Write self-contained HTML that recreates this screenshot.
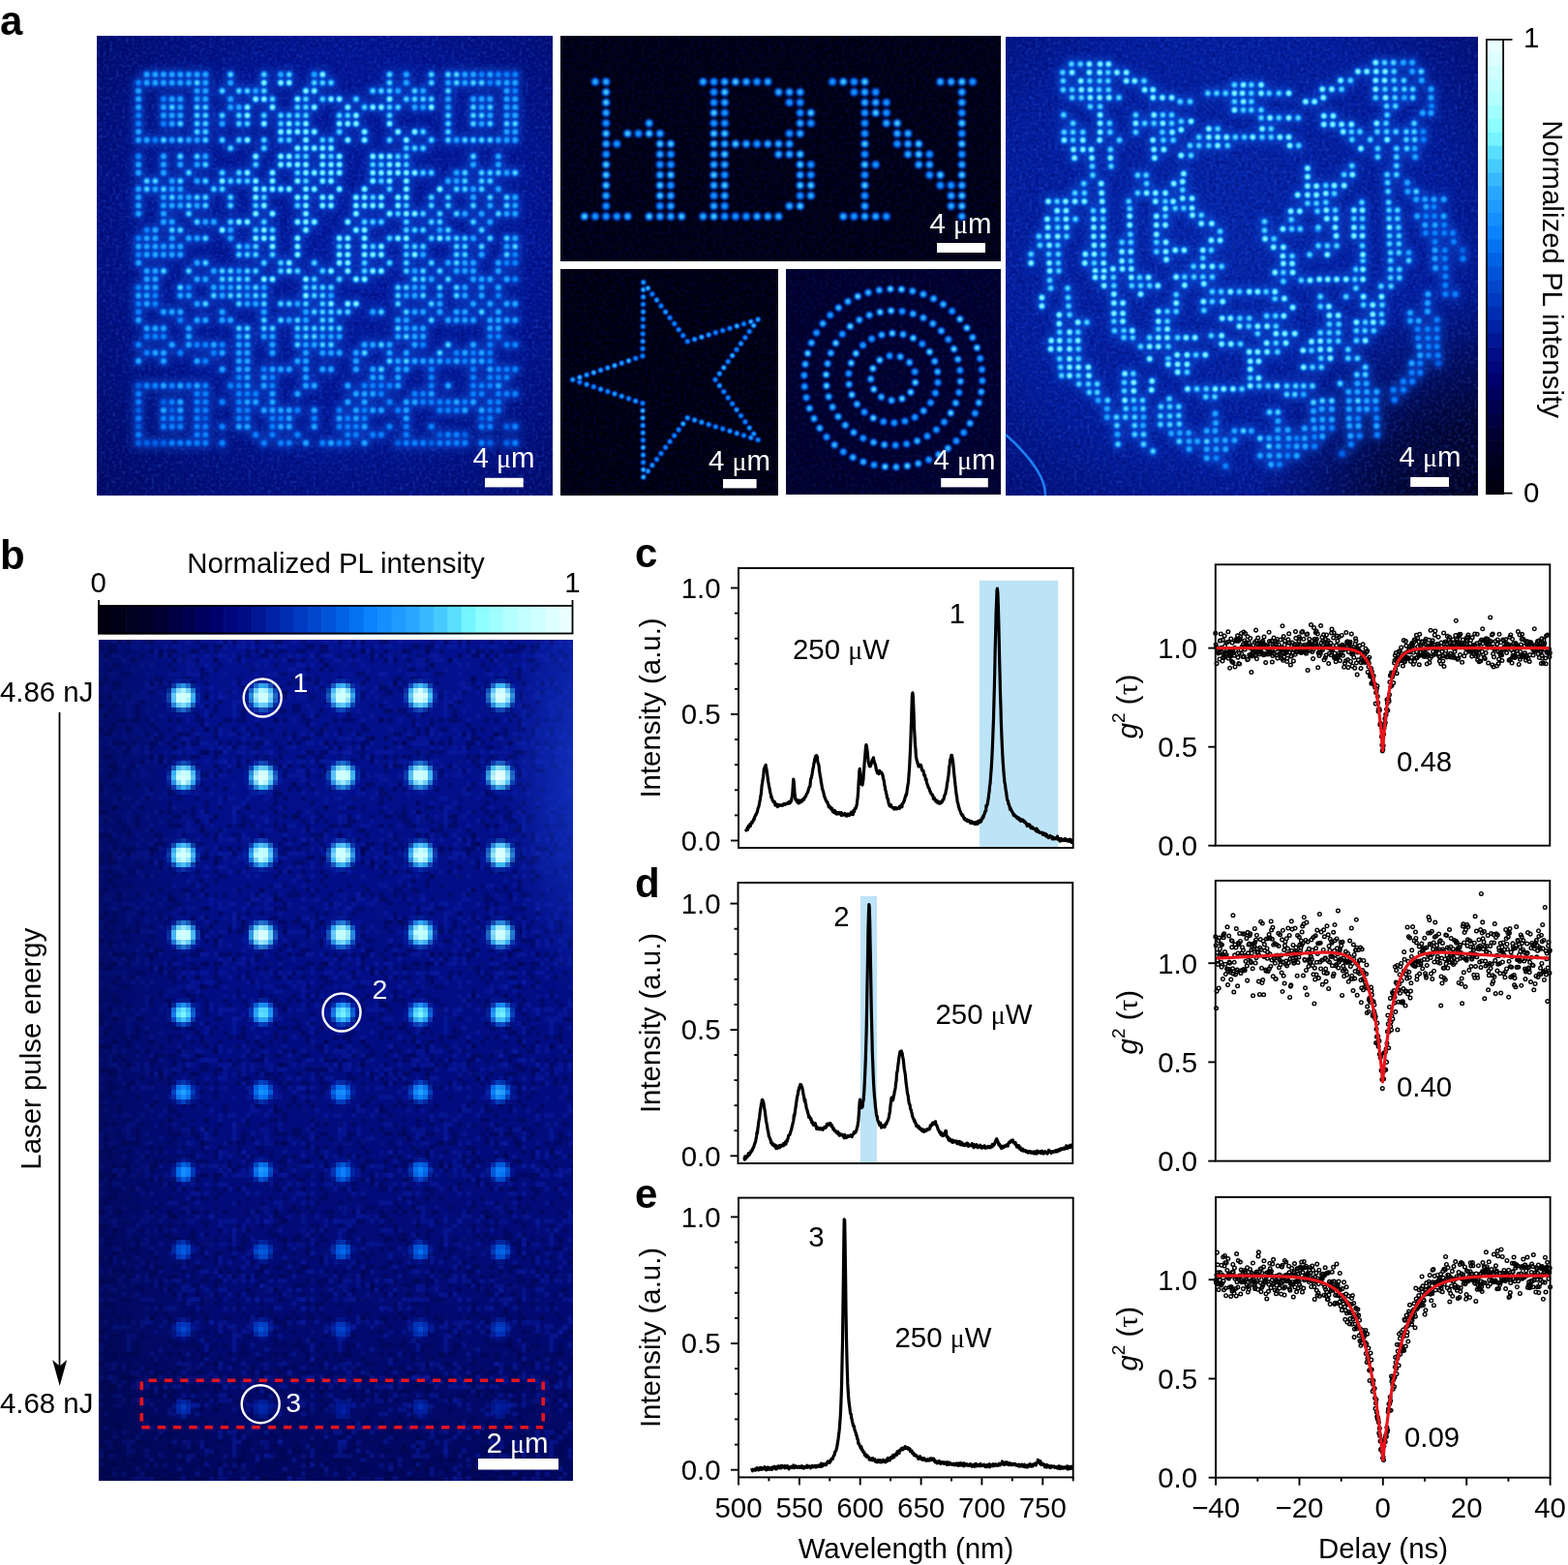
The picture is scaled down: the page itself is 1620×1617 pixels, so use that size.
<!DOCTYPE html>
<html><head><meta charset="utf-8"><title>Figure</title>
<style>
html,body{margin:0;padding:0;background:#fff;}
body{width:1620px;height:1617px;overflow:hidden;position:relative;}
svg{position:absolute;left:0;top:0;display:block;}
text{font-family:"Liberation Sans", Arial, Helvetica, sans-serif;}
</style></head><body>
<svg width="1620" height="1617" viewBox="0 0 1620 1617">
<text x="0" y="36" font-size="42" text-anchor="start" font-weight="bold" fill="#000" >a</text><text x="0" y="588" font-size="42" text-anchor="start" font-weight="bold" fill="#000" >b</text><text x="656" y="586" font-size="42" text-anchor="start" font-weight="bold" fill="#000" >c</text><text x="656" y="927" font-size="42" text-anchor="start" font-weight="bold" fill="#000" >d</text><text x="656" y="1248" font-size="42" text-anchor="start" font-weight="bold" fill="#000" >e</text><defs><radialGradient id="gqr" cx="0.55" cy="0.45" r="0.75"><stop offset="0" stop-color="#031ca4"/><stop offset="0.55" stop-color="#021696"/><stop offset="1" stop-color="#000a66"/></radialGradient><radialGradient id="gtg" cx="0.45" cy="0.45" r="0.8"><stop offset="0" stop-color="#0528ae"/><stop offset="0.6" stop-color="#031ea0"/><stop offset="1" stop-color="#000a66"/></radialGradient><radialGradient id="gdot" cx="0.5" cy="0.5" r="0.5"><stop offset="0" stop-color="#a8ffff"/><stop offset="0.3" stop-color="#30b0ff"/><stop offset="0.65" stop-color="#0060e0" stop-opacity="0.6"/><stop offset="1" stop-color="#0040d0" stop-opacity="0"/></radialGradient></defs><rect x="100" y="37" width="471" height="475" fill="url(#gqr)"/><rect x="579" y="37" width="455" height="233" fill="#00000f"/><rect x="579" y="278" width="225" height="234" fill="#00000c"/><rect x="812" y="278" width="222" height="233" fill="#000028"/><rect x="1039" y="38" width="488" height="474" fill="url(#gtg)"/><defs><radialGradient id="gtv"><stop offset="0" stop-color="#000010"/><stop offset="0.45" stop-color="#000428" stop-opacity="0.85"/><stop offset="1" stop-color="#000640" stop-opacity="0"/></radialGradient><clipPath id="cpt"><rect x="1039" y="38" width="488" height="474"/></clipPath></defs><ellipse cx="1545" cy="525" rx="250" ry="230" fill="url(#gtv)" clip-path="url(#cpt)"/><defs><filter id="nzl" x="0" y="0" width="100%" height="100%" filterUnits="objectBoundingBox"><feTurbulence type="fractalNoise" baseFrequency="0.3" numOctaves="1" seed="4"/><feColorMatrix type="matrix" values="0 0 0 0 0.03 0 0 0 0 0.12 0 0 0 0 0.75 0 0 0 1.1 -0.5"/></filter><filter id="nzd" x="0" y="0" width="100%" height="100%" filterUnits="objectBoundingBox"><feTurbulence type="fractalNoise" baseFrequency="0.3" numOctaves="1" seed="9"/><feColorMatrix type="matrix" values="0 0 0 0 0 0 0 0 0 0 0 0 0 0 0.1 0 0 0 1.1 -0.46"/></filter></defs><rect x="100" y="37" width="471" height="475" filter="url(#nzl)" opacity="0.8"/><rect x="100" y="37" width="471" height="475" filter="url(#nzd)"/><rect x="1039" y="38" width="488" height="474" filter="url(#nzl)" opacity="0.8"/><rect x="1039" y="38" width="488" height="474" filter="url(#nzd)"/><rect x="579" y="37" width="455" height="233" filter="url(#nzl)" opacity="0.22"/><rect x="579" y="37" width="455" height="233" filter="url(#nzd)"/><rect x="812" y="278" width="222" height="233" filter="url(#nzl)" opacity="0.35"/><rect x="812" y="278" width="222" height="233" filter="url(#nzd)"/><rect x="579" y="278" width="225" height="234" filter="url(#nzl)" opacity="0.2"/><rect x="579" y="278" width="225" height="234" filter="url(#nzd)"/><defs><filter id="hz4" x="-10%" y="-10%" width="120%" height="120%"><feGaussianBlur stdDeviation="4.5"/></filter></defs><defs><radialGradient id="gq1"><stop offset="0" stop-color="#036ded"/><stop offset="0.36" stop-color="#0059dc"/><stop offset="0.66" stop-color="#003ec4" stop-opacity="0.6"/><stop offset="1" stop-color="#001fa0" stop-opacity="0"/></radialGradient></defs><defs><g id="p1"><circle cx="143.1" cy="398.5" r="6.0"/><circle cx="169" cy="415.4" r="6.0"/><circle cx="143.1" cy="423.9" r="6.0"/><circle cx="177.7" cy="423.9" r="6.0"/><circle cx="212.3" cy="432.3" r="6.0"/><circle cx="497.6" cy="432.3" r="6.0"/><circle cx="143.1" cy="440.8" r="6.0"/><circle cx="523.6" cy="440.8" r="6.0"/><circle cx="454.4" cy="449.2" r="6.0"/><circle cx="480.3" cy="449.2" r="6.0"/><circle cx="143.1" cy="457.7" r="6.0"/><circle cx="151.7" cy="457.7" r="6.0"/><circle cx="160.4" cy="457.7" r="6.0"/><circle cx="169" cy="457.7" r="6.0"/><circle cx="411.2" cy="457.7" r="6.0"/><circle cx="445.7" cy="457.7" r="6.0"/><circle cx="506.3" cy="457.7" r="6.0"/><circle cx="523.6" cy="457.7" r="6.0"/></g></defs><defs><radialGradient id="gq2"><stop offset="0" stop-color="#158eff"/><stop offset="0.36" stop-color="#0572f2"/><stop offset="0.66" stop-color="#0048cd" stop-opacity="0.6"/><stop offset="1" stop-color="#001fa0" stop-opacity="0"/></radialGradient></defs><defs><g id="p2"><circle cx="497.6" cy="77" r="6.0"/><circle cx="514.9" cy="77" r="6.0"/><circle cx="523.6" cy="77" r="6.0"/><circle cx="532.2" cy="77" r="6.0"/><circle cx="143.1" cy="85.5" r="6.0"/><circle cx="506.3" cy="85.5" r="6.0"/><circle cx="532.2" cy="93.9" r="6.0"/><circle cx="169" cy="102.4" r="6.0"/><circle cx="143.1" cy="119.3" r="6.0"/><circle cx="143.1" cy="127.8" r="6.0"/><circle cx="169" cy="127.8" r="6.0"/><circle cx="160.4" cy="144.7" r="6.0"/><circle cx="143.1" cy="161.6" r="6.0"/><circle cx="151.7" cy="237.7" r="6.0"/><circle cx="143.1" cy="246.2" r="6.0"/><circle cx="143.1" cy="263.1" r="6.0"/><circle cx="532.2" cy="263.1" r="6.0"/><circle cx="523.6" cy="271.6" r="6.0"/><circle cx="532.2" cy="271.6" r="6.0"/><circle cx="532.2" cy="288.5" r="6.0"/><circle cx="143.1" cy="297" r="6.0"/><circle cx="195" cy="297" r="6.0"/><circle cx="160.4" cy="305.4" r="6.0"/><circle cx="514.9" cy="305.4" r="6.0"/><circle cx="143.1" cy="313.9" r="6.0"/><circle cx="160.4" cy="313.9" r="6.0"/><circle cx="143.1" cy="322.3" r="6.0"/><circle cx="186.3" cy="330.8" r="6.0"/><circle cx="151.7" cy="347.7" r="6.0"/><circle cx="160.4" cy="347.7" r="6.0"/><circle cx="169" cy="347.7" r="6.0"/><circle cx="506.3" cy="347.7" r="6.0"/><circle cx="514.9" cy="347.7" r="6.0"/><circle cx="143.1" cy="356.2" r="6.0"/><circle cx="203.6" cy="356.2" r="6.0"/><circle cx="212.3" cy="356.2" r="6.0"/><circle cx="229.6" cy="356.2" r="6.0"/><circle cx="437.1" cy="356.2" r="6.0"/><circle cx="506.3" cy="356.2" r="6.0"/><circle cx="523.6" cy="356.2" r="6.0"/><circle cx="532.2" cy="356.2" r="6.0"/><circle cx="151.7" cy="364.6" r="6.0"/><circle cx="186.3" cy="364.6" r="6.0"/><circle cx="220.9" cy="364.6" r="6.0"/><circle cx="471.7" cy="364.6" r="6.0"/><circle cx="489" cy="364.6" r="6.0"/><circle cx="506.3" cy="364.6" r="6.0"/><circle cx="212.3" cy="373.1" r="6.0"/><circle cx="463" cy="373.1" r="6.0"/><circle cx="480.3" cy="373.1" r="6.0"/><circle cx="506.3" cy="373.1" r="6.0"/><circle cx="272.8" cy="381.6" r="6.0"/><circle cx="445.7" cy="381.6" r="6.0"/><circle cx="489" cy="381.6" r="6.0"/><circle cx="514.9" cy="381.6" r="6.0"/><circle cx="523.6" cy="381.6" r="6.0"/><circle cx="532.2" cy="381.6" r="6.0"/><circle cx="246.9" cy="390" r="6.0"/><circle cx="281.5" cy="390" r="6.0"/><circle cx="445.7" cy="390" r="6.0"/><circle cx="489" cy="390" r="6.0"/><circle cx="506.3" cy="390" r="6.0"/><circle cx="514.9" cy="390" r="6.0"/><circle cx="523.6" cy="390" r="6.0"/><circle cx="151.7" cy="398.5" r="6.0"/><circle cx="160.4" cy="398.5" r="6.0"/><circle cx="177.7" cy="398.5" r="6.0"/><circle cx="195" cy="398.5" r="6.0"/><circle cx="212.3" cy="398.5" r="6.0"/><circle cx="238.2" cy="398.5" r="6.0"/><circle cx="246.9" cy="398.5" r="6.0"/><circle cx="281.5" cy="398.5" r="6.0"/><circle cx="376.6" cy="398.5" r="6.0"/><circle cx="385.2" cy="398.5" r="6.0"/><circle cx="393.9" cy="398.5" r="6.0"/><circle cx="402.5" cy="398.5" r="6.0"/><circle cx="445.7" cy="398.5" r="6.0"/><circle cx="489" cy="398.5" r="6.0"/><circle cx="497.6" cy="398.5" r="6.0"/><circle cx="506.3" cy="398.5" r="6.0"/><circle cx="143.1" cy="406.9" r="6.0"/><circle cx="203.6" cy="406.9" r="6.0"/><circle cx="212.3" cy="406.9" r="6.0"/><circle cx="246.9" cy="406.9" r="6.0"/><circle cx="255.5" cy="406.9" r="6.0"/><circle cx="264.2" cy="406.9" r="6.0"/><circle cx="393.9" cy="406.9" r="6.0"/><circle cx="428.5" cy="406.9" r="6.0"/><circle cx="437.1" cy="406.9" r="6.0"/><circle cx="489" cy="406.9" r="6.0"/><circle cx="497.6" cy="406.9" r="6.0"/><circle cx="514.9" cy="406.9" r="6.0"/><circle cx="523.6" cy="406.9" r="6.0"/><circle cx="532.2" cy="406.9" r="6.0"/><circle cx="143.1" cy="415.4" r="6.0"/><circle cx="177.7" cy="415.4" r="6.0"/><circle cx="203.6" cy="415.4" r="6.0"/><circle cx="212.3" cy="415.4" r="6.0"/><circle cx="229.6" cy="415.4" r="6.0"/><circle cx="246.9" cy="415.4" r="6.0"/><circle cx="402.5" cy="415.4" r="6.0"/><circle cx="437.1" cy="415.4" r="6.0"/><circle cx="445.7" cy="415.4" r="6.0"/><circle cx="454.4" cy="415.4" r="6.0"/><circle cx="463" cy="415.4" r="6.0"/><circle cx="480.3" cy="415.4" r="6.0"/><circle cx="506.3" cy="415.4" r="6.0"/><circle cx="514.9" cy="415.4" r="6.0"/><circle cx="203.6" cy="423.9" r="6.0"/><circle cx="212.3" cy="423.9" r="6.0"/><circle cx="246.9" cy="423.9" r="6.0"/><circle cx="255.5" cy="423.9" r="6.0"/><circle cx="307.4" cy="423.9" r="6.0"/><circle cx="350.6" cy="423.9" r="6.0"/><circle cx="376.6" cy="423.9" r="6.0"/><circle cx="411.2" cy="423.9" r="6.0"/><circle cx="454.4" cy="423.9" r="6.0"/><circle cx="463" cy="423.9" r="6.0"/><circle cx="471.7" cy="423.9" r="6.0"/><circle cx="506.3" cy="423.9" r="6.0"/><circle cx="514.9" cy="423.9" r="6.0"/><circle cx="143.1" cy="432.3" r="6.0"/><circle cx="169" cy="432.3" r="6.0"/><circle cx="177.7" cy="432.3" r="6.0"/><circle cx="186.3" cy="432.3" r="6.0"/><circle cx="203.6" cy="432.3" r="6.0"/><circle cx="246.9" cy="432.3" r="6.0"/><circle cx="255.5" cy="432.3" r="6.0"/><circle cx="281.5" cy="432.3" r="6.0"/><circle cx="290.1" cy="432.3" r="6.0"/><circle cx="324.7" cy="432.3" r="6.0"/><circle cx="359.3" cy="432.3" r="6.0"/><circle cx="376.6" cy="432.3" r="6.0"/><circle cx="506.3" cy="432.3" r="6.0"/><circle cx="169" cy="440.8" r="6.0"/><circle cx="177.7" cy="440.8" r="6.0"/><circle cx="186.3" cy="440.8" r="6.0"/><circle cx="203.6" cy="440.8" r="6.0"/><circle cx="212.3" cy="440.8" r="6.0"/><circle cx="229.6" cy="440.8" r="6.0"/><circle cx="281.5" cy="440.8" r="6.0"/><circle cx="350.6" cy="440.8" r="6.0"/><circle cx="359.3" cy="440.8" r="6.0"/><circle cx="367.9" cy="440.8" r="6.0"/><circle cx="402.5" cy="440.8" r="6.0"/><circle cx="419.8" cy="440.8" r="6.0"/><circle cx="445.7" cy="440.8" r="6.0"/><circle cx="497.6" cy="440.8" r="6.0"/><circle cx="506.3" cy="440.8" r="6.0"/><circle cx="532.2" cy="440.8" r="6.0"/><circle cx="143.1" cy="449.2" r="6.0"/><circle cx="203.6" cy="449.2" r="6.0"/><circle cx="212.3" cy="449.2" r="6.0"/><circle cx="264.2" cy="449.2" r="6.0"/><circle cx="281.5" cy="449.2" r="6.0"/><circle cx="307.4" cy="449.2" r="6.0"/><circle cx="359.3" cy="449.2" r="6.0"/><circle cx="367.9" cy="449.2" r="6.0"/><circle cx="385.2" cy="449.2" r="6.0"/><circle cx="393.9" cy="449.2" r="6.0"/><circle cx="419.8" cy="449.2" r="6.0"/><circle cx="463" cy="449.2" r="6.0"/><circle cx="471.7" cy="449.2" r="6.0"/><circle cx="177.7" cy="457.7" r="6.0"/><circle cx="186.3" cy="457.7" r="6.0"/><circle cx="195" cy="457.7" r="6.0"/><circle cx="203.6" cy="457.7" r="6.0"/><circle cx="212.3" cy="457.7" r="6.0"/><circle cx="229.6" cy="457.7" r="6.0"/><circle cx="272.8" cy="457.7" r="6.0"/><circle cx="290.1" cy="457.7" r="6.0"/><circle cx="298.7" cy="457.7" r="6.0"/><circle cx="333.3" cy="457.7" r="6.0"/><circle cx="350.6" cy="457.7" r="6.0"/><circle cx="359.3" cy="457.7" r="6.0"/><circle cx="419.8" cy="457.7" r="6.0"/><circle cx="428.5" cy="457.7" r="6.0"/><circle cx="437.1" cy="457.7" r="6.0"/><circle cx="454.4" cy="457.7" r="6.0"/><circle cx="463" cy="457.7" r="6.0"/><circle cx="471.7" cy="457.7" r="6.0"/><circle cx="480.3" cy="457.7" r="6.0"/><circle cx="497.6" cy="457.7" r="6.0"/><circle cx="532.2" cy="457.7" r="6.0"/></g></defs><defs><radialGradient id="gq3"><stop offset="0" stop-color="#33b2ff"/><stop offset="0.36" stop-color="#148eff"/><stop offset="0.66" stop-color="#0053d7" stop-opacity="0.6"/><stop offset="1" stop-color="#001fa0" stop-opacity="0"/></radialGradient></defs><defs><g id="p3"><circle cx="151.7" cy="77" r="6.0"/><circle cx="160.4" cy="77" r="6.0"/><circle cx="169" cy="77" r="6.0"/><circle cx="177.7" cy="77" r="6.0"/><circle cx="186.3" cy="77" r="6.0"/><circle cx="195" cy="77" r="6.0"/><circle cx="203.6" cy="77" r="6.0"/><circle cx="212.3" cy="77" r="6.0"/><circle cx="290.1" cy="77" r="6.0"/><circle cx="324.7" cy="77" r="6.0"/><circle cx="419.8" cy="77" r="6.0"/><circle cx="480.3" cy="77" r="6.0"/><circle cx="489" cy="77" r="6.0"/><circle cx="506.3" cy="77" r="6.0"/><circle cx="151.7" cy="85.5" r="6.0"/><circle cx="160.4" cy="85.5" r="6.0"/><circle cx="169" cy="85.5" r="6.0"/><circle cx="177.7" cy="85.5" r="6.0"/><circle cx="186.3" cy="85.5" r="6.0"/><circle cx="195" cy="85.5" r="6.0"/><circle cx="212.3" cy="85.5" r="6.0"/><circle cx="238.2" cy="85.5" r="6.0"/><circle cx="419.8" cy="85.5" r="6.0"/><circle cx="463" cy="85.5" r="6.0"/><circle cx="480.3" cy="85.5" r="6.0"/><circle cx="514.9" cy="85.5" r="6.0"/><circle cx="523.6" cy="85.5" r="6.0"/><circle cx="532.2" cy="85.5" r="6.0"/><circle cx="143.1" cy="93.9" r="6.0"/><circle cx="203.6" cy="93.9" r="6.0"/><circle cx="212.3" cy="93.9" r="6.0"/><circle cx="264.2" cy="93.9" r="6.0"/><circle cx="411.2" cy="93.9" r="6.0"/><circle cx="437.1" cy="93.9" r="6.0"/><circle cx="523.6" cy="93.9" r="6.0"/><circle cx="143.1" cy="102.4" r="6.0"/><circle cx="177.7" cy="102.4" r="6.0"/><circle cx="186.3" cy="102.4" r="6.0"/><circle cx="203.6" cy="102.4" r="6.0"/><circle cx="212.3" cy="102.4" r="6.0"/><circle cx="238.2" cy="102.4" r="6.0"/><circle cx="463" cy="102.4" r="6.0"/><circle cx="489" cy="102.4" r="6.0"/><circle cx="497.6" cy="102.4" r="6.0"/><circle cx="506.3" cy="102.4" r="6.0"/><circle cx="523.6" cy="102.4" r="6.0"/><circle cx="532.2" cy="102.4" r="6.0"/><circle cx="143.1" cy="110.8" r="6.0"/><circle cx="169" cy="110.8" r="6.0"/><circle cx="186.3" cy="110.8" r="6.0"/><circle cx="238.2" cy="110.8" r="6.0"/><circle cx="246.9" cy="110.8" r="6.0"/><circle cx="428.5" cy="110.8" r="6.0"/><circle cx="437.1" cy="110.8" r="6.0"/><circle cx="463" cy="110.8" r="6.0"/><circle cx="497.6" cy="110.8" r="6.0"/><circle cx="523.6" cy="110.8" r="6.0"/><circle cx="532.2" cy="110.8" r="6.0"/><circle cx="169" cy="119.3" r="6.0"/><circle cx="177.7" cy="119.3" r="6.0"/><circle cx="186.3" cy="119.3" r="6.0"/><circle cx="506.3" cy="119.3" r="6.0"/><circle cx="523.6" cy="119.3" r="6.0"/><circle cx="532.2" cy="119.3" r="6.0"/><circle cx="177.7" cy="127.8" r="6.0"/><circle cx="229.6" cy="127.8" r="6.0"/><circle cx="497.6" cy="127.8" r="6.0"/><circle cx="143.1" cy="136.2" r="6.0"/><circle cx="523.6" cy="136.2" r="6.0"/><circle cx="532.2" cy="136.2" r="6.0"/><circle cx="143.1" cy="144.7" r="6.0"/><circle cx="151.7" cy="144.7" r="6.0"/><circle cx="177.7" cy="144.7" r="6.0"/><circle cx="195" cy="144.7" r="6.0"/><circle cx="203.6" cy="144.7" r="6.0"/><circle cx="471.7" cy="144.7" r="6.0"/><circle cx="514.9" cy="144.7" r="6.0"/><circle cx="523.6" cy="144.7" r="6.0"/><circle cx="532.2" cy="144.7" r="6.0"/><circle cx="169" cy="161.6" r="6.0"/><circle cx="212.3" cy="161.6" r="6.0"/><circle cx="514.9" cy="161.6" r="6.0"/><circle cx="143.1" cy="170.1" r="6.0"/><circle cx="169" cy="170.1" r="6.0"/><circle cx="186.3" cy="170.1" r="6.0"/><circle cx="203.6" cy="170.1" r="6.0"/><circle cx="489" cy="170.1" r="6.0"/><circle cx="514.9" cy="170.1" r="6.0"/><circle cx="143.1" cy="178.5" r="6.0"/><circle cx="169" cy="178.5" r="6.0"/><circle cx="471.7" cy="178.5" r="6.0"/><circle cx="523.6" cy="178.5" r="6.0"/><circle cx="177.7" cy="187" r="6.0"/><circle cx="203.6" cy="187" r="6.0"/><circle cx="463" cy="187" r="6.0"/><circle cx="471.7" cy="187" r="6.0"/><circle cx="143.1" cy="195.4" r="6.0"/><circle cx="160.4" cy="195.4" r="6.0"/><circle cx="177.7" cy="195.4" r="6.0"/><circle cx="186.3" cy="195.4" r="6.0"/><circle cx="489" cy="195.4" r="6.0"/><circle cx="514.9" cy="195.4" r="6.0"/><circle cx="143.1" cy="203.9" r="6.0"/><circle cx="169" cy="203.9" r="6.0"/><circle cx="186.3" cy="203.9" r="6.0"/><circle cx="195" cy="203.9" r="6.0"/><circle cx="489" cy="203.9" r="6.0"/><circle cx="532.2" cy="203.9" r="6.0"/><circle cx="143.1" cy="212.4" r="6.0"/><circle cx="169" cy="212.4" r="6.0"/><circle cx="177.7" cy="212.4" r="6.0"/><circle cx="186.3" cy="212.4" r="6.0"/><circle cx="203.6" cy="212.4" r="6.0"/><circle cx="506.3" cy="212.4" r="6.0"/><circle cx="532.2" cy="212.4" r="6.0"/><circle cx="143.1" cy="220.8" r="6.0"/><circle cx="169" cy="220.8" r="6.0"/><circle cx="480.3" cy="220.8" r="6.0"/><circle cx="497.6" cy="220.8" r="6.0"/><circle cx="523.6" cy="220.8" r="6.0"/><circle cx="532.2" cy="220.8" r="6.0"/><circle cx="169" cy="229.3" r="6.0"/><circle cx="177.7" cy="229.3" r="6.0"/><circle cx="212.3" cy="229.3" r="6.0"/><circle cx="220.9" cy="229.3" r="6.0"/><circle cx="506.3" cy="229.3" r="6.0"/><circle cx="160.4" cy="237.7" r="6.0"/><circle cx="238.2" cy="237.7" r="6.0"/><circle cx="454.4" cy="237.7" r="6.0"/><circle cx="151.7" cy="246.2" r="6.0"/><circle cx="160.4" cy="246.2" r="6.0"/><circle cx="177.7" cy="246.2" r="6.0"/><circle cx="195" cy="246.2" r="6.0"/><circle cx="203.6" cy="246.2" r="6.0"/><circle cx="238.2" cy="246.2" r="6.0"/><circle cx="489" cy="246.2" r="6.0"/><circle cx="532.2" cy="246.2" r="6.0"/><circle cx="143.1" cy="254.7" r="6.0"/><circle cx="151.7" cy="254.7" r="6.0"/><circle cx="160.4" cy="254.7" r="6.0"/><circle cx="169" cy="254.7" r="6.0"/><circle cx="177.7" cy="254.7" r="6.0"/><circle cx="186.3" cy="254.7" r="6.0"/><circle cx="255.5" cy="254.7" r="6.0"/><circle cx="523.6" cy="254.7" r="6.0"/><circle cx="151.7" cy="263.1" r="6.0"/><circle cx="160.4" cy="263.1" r="6.0"/><circle cx="169" cy="263.1" r="6.0"/><circle cx="177.7" cy="263.1" r="6.0"/><circle cx="186.3" cy="263.1" r="6.0"/><circle cx="437.1" cy="263.1" r="6.0"/><circle cx="497.6" cy="263.1" r="6.0"/><circle cx="143.1" cy="271.6" r="6.0"/><circle cx="203.6" cy="271.6" r="6.0"/><circle cx="463" cy="271.6" r="6.0"/><circle cx="480.3" cy="271.6" r="6.0"/><circle cx="489" cy="271.6" r="6.0"/><circle cx="514.9" cy="271.6" r="6.0"/><circle cx="151.7" cy="280" r="6.0"/><circle cx="160.4" cy="280" r="6.0"/><circle cx="220.9" cy="280" r="6.0"/><circle cx="246.9" cy="280" r="6.0"/><circle cx="428.5" cy="280" r="6.0"/><circle cx="471.7" cy="280" r="6.0"/><circle cx="480.3" cy="280" r="6.0"/><circle cx="489" cy="280" r="6.0"/><circle cx="514.9" cy="280" r="6.0"/><circle cx="151.7" cy="288.5" r="6.0"/><circle cx="160.4" cy="288.5" r="6.0"/><circle cx="203.6" cy="288.5" r="6.0"/><circle cx="212.3" cy="288.5" r="6.0"/><circle cx="445.7" cy="288.5" r="6.0"/><circle cx="489" cy="288.5" r="6.0"/><circle cx="497.6" cy="288.5" r="6.0"/><circle cx="506.3" cy="288.5" r="6.0"/><circle cx="523.6" cy="288.5" r="6.0"/><circle cx="151.7" cy="297" r="6.0"/><circle cx="160.4" cy="297" r="6.0"/><circle cx="220.9" cy="297" r="6.0"/><circle cx="229.6" cy="297" r="6.0"/><circle cx="238.2" cy="297" r="6.0"/><circle cx="255.5" cy="297" r="6.0"/><circle cx="272.8" cy="297" r="6.0"/><circle cx="428.5" cy="297" r="6.0"/><circle cx="437.1" cy="297" r="6.0"/><circle cx="480.3" cy="297" r="6.0"/><circle cx="497.6" cy="297" r="6.0"/><circle cx="514.9" cy="297" r="6.0"/><circle cx="143.1" cy="305.4" r="6.0"/><circle cx="151.7" cy="305.4" r="6.0"/><circle cx="186.3" cy="305.4" r="6.0"/><circle cx="195" cy="305.4" r="6.0"/><circle cx="229.6" cy="305.4" r="6.0"/><circle cx="255.5" cy="305.4" r="6.0"/><circle cx="342" cy="305.4" r="6.0"/><circle cx="419.8" cy="305.4" r="6.0"/><circle cx="428.5" cy="305.4" r="6.0"/><circle cx="454.4" cy="305.4" r="6.0"/><circle cx="480.3" cy="305.4" r="6.0"/><circle cx="497.6" cy="305.4" r="6.0"/><circle cx="151.7" cy="313.9" r="6.0"/><circle cx="203.6" cy="313.9" r="6.0"/><circle cx="255.5" cy="313.9" r="6.0"/><circle cx="264.2" cy="313.9" r="6.0"/><circle cx="307.4" cy="313.9" r="6.0"/><circle cx="454.4" cy="313.9" r="6.0"/><circle cx="489" cy="313.9" r="6.0"/><circle cx="506.3" cy="313.9" r="6.0"/><circle cx="523.6" cy="313.9" r="6.0"/><circle cx="532.2" cy="313.9" r="6.0"/><circle cx="169" cy="322.3" r="6.0"/><circle cx="177.7" cy="322.3" r="6.0"/><circle cx="186.3" cy="322.3" r="6.0"/><circle cx="229.6" cy="322.3" r="6.0"/><circle cx="272.8" cy="322.3" r="6.0"/><circle cx="316" cy="322.3" r="6.0"/><circle cx="385.2" cy="322.3" r="6.0"/><circle cx="428.5" cy="322.3" r="6.0"/><circle cx="437.1" cy="322.3" r="6.0"/><circle cx="454.4" cy="322.3" r="6.0"/><circle cx="471.7" cy="322.3" r="6.0"/><circle cx="480.3" cy="322.3" r="6.0"/><circle cx="514.9" cy="322.3" r="6.0"/><circle cx="143.1" cy="330.8" r="6.0"/><circle cx="203.6" cy="330.8" r="6.0"/><circle cx="212.3" cy="330.8" r="6.0"/><circle cx="229.6" cy="330.8" r="6.0"/><circle cx="238.2" cy="330.8" r="6.0"/><circle cx="298.7" cy="330.8" r="6.0"/><circle cx="316" cy="330.8" r="6.0"/><circle cx="411.2" cy="330.8" r="6.0"/><circle cx="419.8" cy="330.8" r="6.0"/><circle cx="463" cy="330.8" r="6.0"/><circle cx="471.7" cy="330.8" r="6.0"/><circle cx="480.3" cy="330.8" r="6.0"/><circle cx="489" cy="330.8" r="6.0"/><circle cx="506.3" cy="330.8" r="6.0"/><circle cx="514.9" cy="330.8" r="6.0"/><circle cx="523.6" cy="330.8" r="6.0"/><circle cx="532.2" cy="330.8" r="6.0"/><circle cx="151.7" cy="339.3" r="6.0"/><circle cx="160.4" cy="339.3" r="6.0"/><circle cx="169" cy="339.3" r="6.0"/><circle cx="195" cy="339.3" r="6.0"/><circle cx="419.8" cy="339.3" r="6.0"/><circle cx="428.5" cy="339.3" r="6.0"/><circle cx="437.1" cy="339.3" r="6.0"/><circle cx="506.3" cy="339.3" r="6.0"/><circle cx="514.9" cy="339.3" r="6.0"/><circle cx="195" cy="347.7" r="6.0"/><circle cx="246.9" cy="347.7" r="6.0"/><circle cx="272.8" cy="347.7" r="6.0"/><circle cx="281.5" cy="347.7" r="6.0"/><circle cx="307.4" cy="347.7" r="6.0"/><circle cx="333.3" cy="347.7" r="6.0"/><circle cx="342" cy="347.7" r="6.0"/><circle cx="350.6" cy="347.7" r="6.0"/><circle cx="411.2" cy="347.7" r="6.0"/><circle cx="428.5" cy="347.7" r="6.0"/><circle cx="437.1" cy="347.7" r="6.0"/><circle cx="177.7" cy="356.2" r="6.0"/><circle cx="195" cy="356.2" r="6.0"/><circle cx="220.9" cy="356.2" r="6.0"/><circle cx="246.9" cy="356.2" r="6.0"/><circle cx="255.5" cy="356.2" r="6.0"/><circle cx="281.5" cy="356.2" r="6.0"/><circle cx="316" cy="356.2" r="6.0"/><circle cx="324.7" cy="356.2" r="6.0"/><circle cx="376.6" cy="356.2" r="6.0"/><circle cx="385.2" cy="356.2" r="6.0"/><circle cx="402.5" cy="356.2" r="6.0"/><circle cx="428.5" cy="356.2" r="6.0"/><circle cx="489" cy="356.2" r="6.0"/><circle cx="160.4" cy="364.6" r="6.0"/><circle cx="169" cy="364.6" r="6.0"/><circle cx="229.6" cy="364.6" r="6.0"/><circle cx="246.9" cy="364.6" r="6.0"/><circle cx="255.5" cy="364.6" r="6.0"/><circle cx="281.5" cy="364.6" r="6.0"/><circle cx="316" cy="364.6" r="6.0"/><circle cx="333.3" cy="364.6" r="6.0"/><circle cx="342" cy="364.6" r="6.0"/><circle cx="350.6" cy="364.6" r="6.0"/><circle cx="367.9" cy="364.6" r="6.0"/><circle cx="402.5" cy="364.6" r="6.0"/><circle cx="419.8" cy="364.6" r="6.0"/><circle cx="480.3" cy="364.6" r="6.0"/><circle cx="497.6" cy="364.6" r="6.0"/><circle cx="143.1" cy="373.1" r="6.0"/><circle cx="169" cy="373.1" r="6.0"/><circle cx="203.6" cy="373.1" r="6.0"/><circle cx="246.9" cy="373.1" r="6.0"/><circle cx="255.5" cy="373.1" r="6.0"/><circle cx="307.4" cy="373.1" r="6.0"/><circle cx="316" cy="373.1" r="6.0"/><circle cx="367.9" cy="373.1" r="6.0"/><circle cx="411.2" cy="373.1" r="6.0"/><circle cx="428.5" cy="373.1" r="6.0"/><circle cx="437.1" cy="373.1" r="6.0"/><circle cx="445.7" cy="373.1" r="6.0"/><circle cx="454.4" cy="373.1" r="6.0"/><circle cx="471.7" cy="373.1" r="6.0"/><circle cx="489" cy="373.1" r="6.0"/><circle cx="497.6" cy="373.1" r="6.0"/><circle cx="229.6" cy="381.6" r="6.0"/><circle cx="246.9" cy="381.6" r="6.0"/><circle cx="255.5" cy="381.6" r="6.0"/><circle cx="281.5" cy="381.6" r="6.0"/><circle cx="290.1" cy="381.6" r="6.0"/><circle cx="298.7" cy="381.6" r="6.0"/><circle cx="316" cy="381.6" r="6.0"/><circle cx="333.3" cy="381.6" r="6.0"/><circle cx="342" cy="381.6" r="6.0"/><circle cx="367.9" cy="381.6" r="6.0"/><circle cx="385.2" cy="381.6" r="6.0"/><circle cx="411.2" cy="381.6" r="6.0"/><circle cx="419.8" cy="381.6" r="6.0"/><circle cx="506.3" cy="381.6" r="6.0"/><circle cx="255.5" cy="390" r="6.0"/><circle cx="272.8" cy="390" r="6.0"/><circle cx="316" cy="390" r="6.0"/><circle cx="385.2" cy="390" r="6.0"/><circle cx="393.9" cy="390" r="6.0"/><circle cx="411.2" cy="390" r="6.0"/><circle cx="169" cy="398.5" r="6.0"/><circle cx="186.3" cy="398.5" r="6.0"/><circle cx="203.6" cy="398.5" r="6.0"/><circle cx="255.5" cy="398.5" r="6.0"/><circle cx="272.8" cy="398.5" r="6.0"/><circle cx="316" cy="398.5" r="6.0"/><circle cx="324.7" cy="398.5" r="6.0"/><circle cx="359.3" cy="398.5" r="6.0"/><circle cx="411.2" cy="398.5" r="6.0"/><circle cx="463" cy="398.5" r="6.0"/><circle cx="514.9" cy="398.5" r="6.0"/><circle cx="281.5" cy="406.9" r="6.0"/><circle cx="307.4" cy="406.9" r="6.0"/><circle cx="367.9" cy="406.9" r="6.0"/><circle cx="376.6" cy="406.9" r="6.0"/><circle cx="385.2" cy="406.9" r="6.0"/><circle cx="445.7" cy="406.9" r="6.0"/><circle cx="186.3" cy="415.4" r="6.0"/><circle cx="255.5" cy="415.4" r="6.0"/><circle cx="264.2" cy="415.4" r="6.0"/><circle cx="281.5" cy="415.4" r="6.0"/><circle cx="359.3" cy="415.4" r="6.0"/><circle cx="376.6" cy="415.4" r="6.0"/><circle cx="419.8" cy="415.4" r="6.0"/><circle cx="428.5" cy="415.4" r="6.0"/><circle cx="471.7" cy="415.4" r="6.0"/><circle cx="489" cy="415.4" r="6.0"/><circle cx="169" cy="423.9" r="6.0"/><circle cx="186.3" cy="423.9" r="6.0"/><circle cx="272.8" cy="423.9" r="6.0"/><circle cx="281.5" cy="423.9" r="6.0"/><circle cx="290.1" cy="423.9" r="6.0"/><circle cx="298.7" cy="423.9" r="6.0"/><circle cx="324.7" cy="423.9" r="6.0"/><circle cx="367.9" cy="423.9" r="6.0"/><circle cx="385.2" cy="423.9" r="6.0"/><circle cx="393.9" cy="423.9" r="6.0"/><circle cx="419.8" cy="423.9" r="6.0"/><circle cx="480.3" cy="423.9" r="6.0"/><circle cx="497.6" cy="423.9" r="6.0"/><circle cx="298.7" cy="432.3" r="6.0"/><circle cx="350.6" cy="432.3" r="6.0"/><circle cx="367.9" cy="432.3" r="6.0"/><circle cx="419.8" cy="432.3" r="6.0"/><circle cx="246.9" cy="440.8" r="6.0"/><circle cx="255.5" cy="440.8" r="6.0"/><circle cx="290.1" cy="440.8" r="6.0"/><circle cx="298.7" cy="440.8" r="6.0"/><circle cx="324.7" cy="440.8" r="6.0"/><circle cx="376.6" cy="440.8" r="6.0"/><circle cx="316" cy="457.7" r="6.0"/><circle cx="342" cy="457.7" r="6.0"/><circle cx="376.6" cy="457.7" r="6.0"/></g></defs><defs><radialGradient id="gq4"><stop offset="0" stop-color="#6eeeff"/><stop offset="0.36" stop-color="#2aa7ff"/><stop offset="0.66" stop-color="#005de0" stop-opacity="0.6"/><stop offset="1" stop-color="#001fa0" stop-opacity="0"/></radialGradient></defs><defs><g id="p4"><circle cx="238.2" cy="77" r="6.0"/><circle cx="272.8" cy="77" r="6.0"/><circle cx="298.7" cy="77" r="6.0"/><circle cx="402.5" cy="77" r="6.0"/><circle cx="445.7" cy="77" r="6.0"/><circle cx="463" cy="77" r="6.0"/><circle cx="471.7" cy="77" r="6.0"/><circle cx="203.6" cy="85.5" r="6.0"/><circle cx="324.7" cy="85.5" r="6.0"/><circle cx="333.3" cy="85.5" r="6.0"/><circle cx="342" cy="85.5" r="6.0"/><circle cx="402.5" cy="85.5" r="6.0"/><circle cx="445.7" cy="85.5" r="6.0"/><circle cx="471.7" cy="85.5" r="6.0"/><circle cx="489" cy="85.5" r="6.0"/><circle cx="497.6" cy="85.5" r="6.0"/><circle cx="229.6" cy="93.9" r="6.0"/><circle cx="246.9" cy="93.9" r="6.0"/><circle cx="255.5" cy="93.9" r="6.0"/><circle cx="272.8" cy="93.9" r="6.0"/><circle cx="385.2" cy="93.9" r="6.0"/><circle cx="393.9" cy="93.9" r="6.0"/><circle cx="402.5" cy="93.9" r="6.0"/><circle cx="428.5" cy="93.9" r="6.0"/><circle cx="463" cy="93.9" r="6.0"/><circle cx="281.5" cy="102.4" r="6.0"/><circle cx="316" cy="102.4" r="6.0"/><circle cx="333.3" cy="102.4" r="6.0"/><circle cx="367.9" cy="102.4" r="6.0"/><circle cx="419.8" cy="102.4" r="6.0"/><circle cx="428.5" cy="102.4" r="6.0"/><circle cx="437.1" cy="102.4" r="6.0"/><circle cx="445.7" cy="102.4" r="6.0"/><circle cx="177.7" cy="110.8" r="6.0"/><circle cx="203.6" cy="110.8" r="6.0"/><circle cx="212.3" cy="110.8" r="6.0"/><circle cx="307.4" cy="110.8" r="6.0"/><circle cx="316" cy="110.8" r="6.0"/><circle cx="376.6" cy="110.8" r="6.0"/><circle cx="402.5" cy="110.8" r="6.0"/><circle cx="411.2" cy="110.8" r="6.0"/><circle cx="489" cy="110.8" r="6.0"/><circle cx="506.3" cy="110.8" r="6.0"/><circle cx="203.6" cy="119.3" r="6.0"/><circle cx="212.3" cy="119.3" r="6.0"/><circle cx="229.6" cy="119.3" r="6.0"/><circle cx="246.9" cy="119.3" r="6.0"/><circle cx="272.8" cy="119.3" r="6.0"/><circle cx="290.1" cy="119.3" r="6.0"/><circle cx="298.7" cy="119.3" r="6.0"/><circle cx="307.4" cy="119.3" r="6.0"/><circle cx="316" cy="119.3" r="6.0"/><circle cx="350.6" cy="119.3" r="6.0"/><circle cx="359.3" cy="119.3" r="6.0"/><circle cx="402.5" cy="119.3" r="6.0"/><circle cx="463" cy="119.3" r="6.0"/><circle cx="489" cy="119.3" r="6.0"/><circle cx="497.6" cy="119.3" r="6.0"/><circle cx="186.3" cy="127.8" r="6.0"/><circle cx="203.6" cy="127.8" r="6.0"/><circle cx="212.3" cy="127.8" r="6.0"/><circle cx="246.9" cy="127.8" r="6.0"/><circle cx="255.5" cy="127.8" r="6.0"/><circle cx="290.1" cy="127.8" r="6.0"/><circle cx="307.4" cy="127.8" r="6.0"/><circle cx="463" cy="127.8" r="6.0"/><circle cx="489" cy="127.8" r="6.0"/><circle cx="506.3" cy="127.8" r="6.0"/><circle cx="523.6" cy="127.8" r="6.0"/><circle cx="532.2" cy="127.8" r="6.0"/><circle cx="203.6" cy="136.2" r="6.0"/><circle cx="212.3" cy="136.2" r="6.0"/><circle cx="350.6" cy="136.2" r="6.0"/><circle cx="437.1" cy="136.2" r="6.0"/><circle cx="463" cy="136.2" r="6.0"/><circle cx="169" cy="144.7" r="6.0"/><circle cx="186.3" cy="144.7" r="6.0"/><circle cx="212.3" cy="144.7" r="6.0"/><circle cx="229.6" cy="144.7" r="6.0"/><circle cx="246.9" cy="144.7" r="6.0"/><circle cx="272.8" cy="144.7" r="6.0"/><circle cx="290.1" cy="144.7" r="6.0"/><circle cx="298.7" cy="144.7" r="6.0"/><circle cx="333.3" cy="144.7" r="6.0"/><circle cx="342" cy="144.7" r="6.0"/><circle cx="402.5" cy="144.7" r="6.0"/><circle cx="445.7" cy="144.7" r="6.0"/><circle cx="463" cy="144.7" r="6.0"/><circle cx="480.3" cy="144.7" r="6.0"/><circle cx="489" cy="144.7" r="6.0"/><circle cx="497.6" cy="144.7" r="6.0"/><circle cx="506.3" cy="144.7" r="6.0"/><circle cx="238.2" cy="153.1" r="6.0"/><circle cx="272.8" cy="153.1" r="6.0"/><circle cx="419.8" cy="153.1" r="6.0"/><circle cx="428.5" cy="153.1" r="6.0"/><circle cx="437.1" cy="153.1" r="6.0"/><circle cx="186.3" cy="161.6" r="6.0"/><circle cx="203.6" cy="161.6" r="6.0"/><circle cx="307.4" cy="161.6" r="6.0"/><circle cx="316" cy="161.6" r="6.0"/><circle cx="342" cy="161.6" r="6.0"/><circle cx="411.2" cy="161.6" r="6.0"/><circle cx="419.8" cy="161.6" r="6.0"/><circle cx="489" cy="161.6" r="6.0"/><circle cx="212.3" cy="170.1" r="6.0"/><circle cx="264.2" cy="170.1" r="6.0"/><circle cx="385.2" cy="170.1" r="6.0"/><circle cx="393.9" cy="170.1" r="6.0"/><circle cx="419.8" cy="170.1" r="6.0"/><circle cx="195" cy="178.5" r="6.0"/><circle cx="229.6" cy="178.5" r="6.0"/><circle cx="246.9" cy="178.5" r="6.0"/><circle cx="307.4" cy="178.5" r="6.0"/><circle cx="437.1" cy="178.5" r="6.0"/><circle cx="445.7" cy="178.5" r="6.0"/><circle cx="480.3" cy="178.5" r="6.0"/><circle cx="497.6" cy="178.5" r="6.0"/><circle cx="506.3" cy="178.5" r="6.0"/><circle cx="514.9" cy="178.5" r="6.0"/><circle cx="532.2" cy="178.5" r="6.0"/><circle cx="151.7" cy="187" r="6.0"/><circle cx="160.4" cy="187" r="6.0"/><circle cx="186.3" cy="187" r="6.0"/><circle cx="212.3" cy="187" r="6.0"/><circle cx="238.2" cy="187" r="6.0"/><circle cx="246.9" cy="187" r="6.0"/><circle cx="255.5" cy="187" r="6.0"/><circle cx="316" cy="187" r="6.0"/><circle cx="393.9" cy="187" r="6.0"/><circle cx="480.3" cy="187" r="6.0"/><circle cx="497.6" cy="187" r="6.0"/><circle cx="506.3" cy="187" r="6.0"/><circle cx="151.7" cy="195.4" r="6.0"/><circle cx="169" cy="195.4" r="6.0"/><circle cx="220.9" cy="195.4" r="6.0"/><circle cx="229.6" cy="195.4" r="6.0"/><circle cx="402.5" cy="195.4" r="6.0"/><circle cx="471.7" cy="195.4" r="6.0"/><circle cx="480.3" cy="195.4" r="6.0"/><circle cx="497.6" cy="195.4" r="6.0"/><circle cx="177.7" cy="203.9" r="6.0"/><circle cx="203.6" cy="203.9" r="6.0"/><circle cx="212.3" cy="203.9" r="6.0"/><circle cx="238.2" cy="203.9" r="6.0"/><circle cx="272.8" cy="203.9" r="6.0"/><circle cx="385.2" cy="203.9" r="6.0"/><circle cx="445.7" cy="203.9" r="6.0"/><circle cx="463" cy="203.9" r="6.0"/><circle cx="506.3" cy="203.9" r="6.0"/><circle cx="523.6" cy="203.9" r="6.0"/><circle cx="195" cy="212.4" r="6.0"/><circle cx="212.3" cy="212.4" r="6.0"/><circle cx="238.2" cy="212.4" r="6.0"/><circle cx="264.2" cy="212.4" r="6.0"/><circle cx="307.4" cy="212.4" r="6.0"/><circle cx="419.8" cy="212.4" r="6.0"/><circle cx="445.7" cy="212.4" r="6.0"/><circle cx="463" cy="212.4" r="6.0"/><circle cx="489" cy="212.4" r="6.0"/><circle cx="523.6" cy="212.4" r="6.0"/><circle cx="195" cy="220.8" r="6.0"/><circle cx="411.2" cy="220.8" r="6.0"/><circle cx="437.1" cy="220.8" r="6.0"/><circle cx="454.4" cy="220.8" r="6.0"/><circle cx="471.7" cy="220.8" r="6.0"/><circle cx="514.9" cy="220.8" r="6.0"/><circle cx="203.6" cy="229.3" r="6.0"/><circle cx="238.2" cy="229.3" r="6.0"/><circle cx="272.8" cy="229.3" r="6.0"/><circle cx="376.6" cy="229.3" r="6.0"/><circle cx="385.2" cy="229.3" r="6.0"/><circle cx="393.9" cy="229.3" r="6.0"/><circle cx="419.8" cy="229.3" r="6.0"/><circle cx="445.7" cy="229.3" r="6.0"/><circle cx="454.4" cy="229.3" r="6.0"/><circle cx="489" cy="229.3" r="6.0"/><circle cx="177.7" cy="237.7" r="6.0"/><circle cx="186.3" cy="237.7" r="6.0"/><circle cx="264.2" cy="237.7" r="6.0"/><circle cx="281.5" cy="237.7" r="6.0"/><circle cx="419.8" cy="237.7" r="6.0"/><circle cx="428.5" cy="237.7" r="6.0"/><circle cx="437.1" cy="237.7" r="6.0"/><circle cx="463" cy="237.7" r="6.0"/><circle cx="497.6" cy="237.7" r="6.0"/><circle cx="212.3" cy="246.2" r="6.0"/><circle cx="402.5" cy="246.2" r="6.0"/><circle cx="445.7" cy="246.2" r="6.0"/><circle cx="463" cy="246.2" r="6.0"/><circle cx="471.7" cy="246.2" r="6.0"/><circle cx="480.3" cy="246.2" r="6.0"/><circle cx="506.3" cy="246.2" r="6.0"/><circle cx="523.6" cy="246.2" r="6.0"/><circle cx="246.9" cy="254.7" r="6.0"/><circle cx="264.2" cy="254.7" r="6.0"/><circle cx="350.6" cy="254.7" r="6.0"/><circle cx="385.2" cy="254.7" r="6.0"/><circle cx="419.8" cy="254.7" r="6.0"/><circle cx="428.5" cy="254.7" r="6.0"/><circle cx="437.1" cy="254.7" r="6.0"/><circle cx="471.7" cy="254.7" r="6.0"/><circle cx="480.3" cy="254.7" r="6.0"/><circle cx="497.6" cy="254.7" r="6.0"/><circle cx="532.2" cy="254.7" r="6.0"/><circle cx="246.9" cy="263.1" r="6.0"/><circle cx="255.5" cy="263.1" r="6.0"/><circle cx="264.2" cy="263.1" r="6.0"/><circle cx="281.5" cy="263.1" r="6.0"/><circle cx="419.8" cy="263.1" r="6.0"/><circle cx="471.7" cy="263.1" r="6.0"/><circle cx="480.3" cy="263.1" r="6.0"/><circle cx="523.6" cy="263.1" r="6.0"/><circle cx="212.3" cy="271.6" r="6.0"/><circle cx="272.8" cy="271.6" r="6.0"/><circle cx="290.1" cy="271.6" r="6.0"/><circle cx="324.7" cy="271.6" r="6.0"/><circle cx="376.6" cy="271.6" r="6.0"/><circle cx="402.5" cy="271.6" r="6.0"/><circle cx="419.8" cy="271.6" r="6.0"/><circle cx="445.7" cy="271.6" r="6.0"/><circle cx="471.7" cy="271.6" r="6.0"/><circle cx="169" cy="280" r="6.0"/><circle cx="195" cy="280" r="6.0"/><circle cx="229.6" cy="280" r="6.0"/><circle cx="238.2" cy="280" r="6.0"/><circle cx="255.5" cy="280" r="6.0"/><circle cx="264.2" cy="280" r="6.0"/><circle cx="290.1" cy="280" r="6.0"/><circle cx="307.4" cy="280" r="6.0"/><circle cx="333.3" cy="280" r="6.0"/><circle cx="376.6" cy="280" r="6.0"/><circle cx="419.8" cy="280" r="6.0"/><circle cx="437.1" cy="280" r="6.0"/><circle cx="454.4" cy="280" r="6.0"/><circle cx="229.6" cy="288.5" r="6.0"/><circle cx="238.2" cy="288.5" r="6.0"/><circle cx="246.9" cy="288.5" r="6.0"/><circle cx="255.5" cy="288.5" r="6.0"/><circle cx="324.7" cy="288.5" r="6.0"/><circle cx="350.6" cy="288.5" r="6.0"/><circle cx="428.5" cy="288.5" r="6.0"/><circle cx="437.1" cy="288.5" r="6.0"/><circle cx="463" cy="288.5" r="6.0"/><circle cx="186.3" cy="297" r="6.0"/><circle cx="246.9" cy="297" r="6.0"/><circle cx="264.2" cy="297" r="6.0"/><circle cx="316" cy="297" r="6.0"/><circle cx="324.7" cy="297" r="6.0"/><circle cx="333.3" cy="297" r="6.0"/><circle cx="342" cy="297" r="6.0"/><circle cx="411.2" cy="297" r="6.0"/><circle cx="419.8" cy="297" r="6.0"/><circle cx="454.4" cy="297" r="6.0"/><circle cx="471.7" cy="297" r="6.0"/><circle cx="220.9" cy="305.4" r="6.0"/><circle cx="238.2" cy="305.4" r="6.0"/><circle cx="246.9" cy="305.4" r="6.0"/><circle cx="264.2" cy="305.4" r="6.0"/><circle cx="272.8" cy="305.4" r="6.0"/><circle cx="324.7" cy="305.4" r="6.0"/><circle cx="333.3" cy="305.4" r="6.0"/><circle cx="411.2" cy="305.4" r="6.0"/><circle cx="437.1" cy="305.4" r="6.0"/><circle cx="471.7" cy="305.4" r="6.0"/><circle cx="212.3" cy="313.9" r="6.0"/><circle cx="246.9" cy="313.9" r="6.0"/><circle cx="272.8" cy="313.9" r="6.0"/><circle cx="290.1" cy="313.9" r="6.0"/><circle cx="298.7" cy="313.9" r="6.0"/><circle cx="316" cy="313.9" r="6.0"/><circle cx="333.3" cy="313.9" r="6.0"/><circle cx="411.2" cy="313.9" r="6.0"/><circle cx="445.7" cy="313.9" r="6.0"/><circle cx="324.7" cy="322.3" r="6.0"/><circle cx="333.3" cy="322.3" r="6.0"/><circle cx="342" cy="322.3" r="6.0"/><circle cx="350.6" cy="322.3" r="6.0"/><circle cx="359.3" cy="322.3" r="6.0"/><circle cx="393.9" cy="322.3" r="6.0"/><circle cx="419.8" cy="322.3" r="6.0"/><circle cx="497.6" cy="322.3" r="6.0"/><circle cx="272.8" cy="330.8" r="6.0"/><circle cx="290.1" cy="330.8" r="6.0"/><circle cx="307.4" cy="330.8" r="6.0"/><circle cx="333.3" cy="330.8" r="6.0"/><circle cx="342" cy="330.8" r="6.0"/><circle cx="445.7" cy="330.8" r="6.0"/><circle cx="246.9" cy="339.3" r="6.0"/><circle cx="255.5" cy="339.3" r="6.0"/><circle cx="272.8" cy="339.3" r="6.0"/><circle cx="281.5" cy="339.3" r="6.0"/><circle cx="307.4" cy="339.3" r="6.0"/><circle cx="316" cy="339.3" r="6.0"/><circle cx="324.7" cy="339.3" r="6.0"/><circle cx="333.3" cy="339.3" r="6.0"/><circle cx="342" cy="339.3" r="6.0"/><circle cx="350.6" cy="339.3" r="6.0"/><circle cx="411.2" cy="339.3" r="6.0"/><circle cx="255.5" cy="347.7" r="6.0"/><circle cx="316" cy="347.7" r="6.0"/><circle cx="324.7" cy="347.7" r="6.0"/><circle cx="419.8" cy="347.7" r="6.0"/><circle cx="307.4" cy="356.2" r="6.0"/><circle cx="333.3" cy="356.2" r="6.0"/><circle cx="342" cy="356.2" r="6.0"/><circle cx="393.9" cy="356.2" r="6.0"/><circle cx="463" cy="356.2" r="6.0"/><circle cx="376.6" cy="364.6" r="6.0"/><circle cx="454.4" cy="364.6" r="6.0"/><circle cx="402.5" cy="373.1" r="6.0"/><circle cx="419.8" cy="373.1" r="6.0"/><circle cx="393.9" cy="381.6" r="6.0"/></g></defs><defs><radialGradient id="gq5"><stop offset="0" stop-color="#b4ffff"/><stop offset="0.36" stop-color="#4dd3ff"/><stop offset="0.66" stop-color="#0269ea" stop-opacity="0.6"/><stop offset="1" stop-color="#001fa0" stop-opacity="0"/></radialGradient></defs><defs><g id="p5"><circle cx="333.3" cy="77" r="6.0"/><circle cx="272.8" cy="85.5" r="6.0"/><circle cx="290.1" cy="85.5" r="6.0"/><circle cx="298.7" cy="85.5" r="6.0"/><circle cx="316" cy="93.9" r="6.0"/><circle cx="324.7" cy="93.9" r="6.0"/><circle cx="264.2" cy="102.4" r="6.0"/><circle cx="272.8" cy="102.4" r="6.0"/><circle cx="307.4" cy="102.4" r="6.0"/><circle cx="342" cy="102.4" r="6.0"/><circle cx="350.6" cy="102.4" r="6.0"/><circle cx="402.5" cy="102.4" r="6.0"/><circle cx="255.5" cy="110.8" r="6.0"/><circle cx="281.5" cy="110.8" r="6.0"/><circle cx="324.7" cy="110.8" r="6.0"/><circle cx="359.3" cy="110.8" r="6.0"/><circle cx="385.2" cy="110.8" r="6.0"/><circle cx="393.9" cy="110.8" r="6.0"/><circle cx="445.7" cy="110.8" r="6.0"/><circle cx="255.5" cy="119.3" r="6.0"/><circle cx="367.9" cy="119.3" r="6.0"/><circle cx="272.8" cy="127.8" r="6.0"/><circle cx="298.7" cy="127.8" r="6.0"/><circle cx="316" cy="127.8" r="6.0"/><circle cx="350.6" cy="127.8" r="6.0"/><circle cx="359.3" cy="127.8" r="6.0"/><circle cx="367.9" cy="127.8" r="6.0"/><circle cx="402.5" cy="127.8" r="6.0"/><circle cx="290.1" cy="136.2" r="6.0"/><circle cx="298.7" cy="136.2" r="6.0"/><circle cx="307.4" cy="136.2" r="6.0"/><circle cx="316" cy="136.2" r="6.0"/><circle cx="324.7" cy="136.2" r="6.0"/><circle cx="376.6" cy="136.2" r="6.0"/><circle cx="411.2" cy="136.2" r="6.0"/><circle cx="428.5" cy="136.2" r="6.0"/><circle cx="255.5" cy="144.7" r="6.0"/><circle cx="316" cy="144.7" r="6.0"/><circle cx="359.3" cy="144.7" r="6.0"/><circle cx="376.6" cy="144.7" r="6.0"/><circle cx="419.8" cy="144.7" r="6.0"/><circle cx="307.4" cy="153.1" r="6.0"/><circle cx="316" cy="153.1" r="6.0"/><circle cx="324.7" cy="153.1" r="6.0"/><circle cx="333.3" cy="153.1" r="6.0"/><circle cx="342" cy="153.1" r="6.0"/><circle cx="264.2" cy="161.6" r="6.0"/><circle cx="290.1" cy="161.6" r="6.0"/><circle cx="298.7" cy="161.6" r="6.0"/><circle cx="333.3" cy="161.6" r="6.0"/><circle cx="350.6" cy="161.6" r="6.0"/><circle cx="385.2" cy="161.6" r="6.0"/><circle cx="393.9" cy="161.6" r="6.0"/><circle cx="402.5" cy="161.6" r="6.0"/><circle cx="290.1" cy="170.1" r="6.0"/><circle cx="298.7" cy="170.1" r="6.0"/><circle cx="307.4" cy="170.1" r="6.0"/><circle cx="316" cy="170.1" r="6.0"/><circle cx="333.3" cy="170.1" r="6.0"/><circle cx="342" cy="170.1" r="6.0"/><circle cx="350.6" cy="170.1" r="6.0"/><circle cx="402.5" cy="170.1" r="6.0"/><circle cx="411.2" cy="170.1" r="6.0"/><circle cx="255.5" cy="178.5" r="6.0"/><circle cx="281.5" cy="178.5" r="6.0"/><circle cx="316" cy="178.5" r="6.0"/><circle cx="324.7" cy="178.5" r="6.0"/><circle cx="333.3" cy="178.5" r="6.0"/><circle cx="342" cy="178.5" r="6.0"/><circle cx="350.6" cy="178.5" r="6.0"/><circle cx="385.2" cy="178.5" r="6.0"/><circle cx="393.9" cy="178.5" r="6.0"/><circle cx="402.5" cy="178.5" r="6.0"/><circle cx="411.2" cy="178.5" r="6.0"/><circle cx="419.8" cy="178.5" r="6.0"/><circle cx="428.5" cy="178.5" r="6.0"/><circle cx="229.6" cy="187" r="6.0"/><circle cx="264.2" cy="187" r="6.0"/><circle cx="281.5" cy="187" r="6.0"/><circle cx="307.4" cy="187" r="6.0"/><circle cx="333.3" cy="187" r="6.0"/><circle cx="342" cy="187" r="6.0"/><circle cx="385.2" cy="187" r="6.0"/><circle cx="402.5" cy="187" r="6.0"/><circle cx="419.8" cy="187" r="6.0"/><circle cx="264.2" cy="195.4" r="6.0"/><circle cx="272.8" cy="195.4" r="6.0"/><circle cx="281.5" cy="195.4" r="6.0"/><circle cx="290.1" cy="195.4" r="6.0"/><circle cx="298.7" cy="195.4" r="6.0"/><circle cx="316" cy="195.4" r="6.0"/><circle cx="324.7" cy="195.4" r="6.0"/><circle cx="350.6" cy="195.4" r="6.0"/><circle cx="376.6" cy="195.4" r="6.0"/><circle cx="419.8" cy="195.4" r="6.0"/><circle cx="454.4" cy="195.4" r="6.0"/><circle cx="264.2" cy="203.9" r="6.0"/><circle cx="307.4" cy="203.9" r="6.0"/><circle cx="316" cy="203.9" r="6.0"/><circle cx="333.3" cy="203.9" r="6.0"/><circle cx="342" cy="203.9" r="6.0"/><circle cx="367.9" cy="203.9" r="6.0"/><circle cx="376.6" cy="203.9" r="6.0"/><circle cx="393.9" cy="203.9" r="6.0"/><circle cx="411.2" cy="203.9" r="6.0"/><circle cx="419.8" cy="203.9" r="6.0"/><circle cx="272.8" cy="212.4" r="6.0"/><circle cx="316" cy="212.4" r="6.0"/><circle cx="333.3" cy="212.4" r="6.0"/><circle cx="342" cy="212.4" r="6.0"/><circle cx="367.9" cy="212.4" r="6.0"/><circle cx="376.6" cy="212.4" r="6.0"/><circle cx="385.2" cy="212.4" r="6.0"/><circle cx="393.9" cy="212.4" r="6.0"/><circle cx="411.2" cy="212.4" r="6.0"/><circle cx="264.2" cy="220.8" r="6.0"/><circle cx="281.5" cy="220.8" r="6.0"/><circle cx="316" cy="220.8" r="6.0"/><circle cx="367.9" cy="220.8" r="6.0"/><circle cx="402.5" cy="220.8" r="6.0"/><circle cx="419.8" cy="220.8" r="6.0"/><circle cx="428.5" cy="220.8" r="6.0"/><circle cx="246.9" cy="229.3" r="6.0"/><circle cx="255.5" cy="229.3" r="6.0"/><circle cx="307.4" cy="229.3" r="6.0"/><circle cx="316" cy="229.3" r="6.0"/><circle cx="324.7" cy="229.3" r="6.0"/><circle cx="359.3" cy="229.3" r="6.0"/><circle cx="229.6" cy="237.7" r="6.0"/><circle cx="272.8" cy="237.7" r="6.0"/><circle cx="316" cy="237.7" r="6.0"/><circle cx="367.9" cy="237.7" r="6.0"/><circle cx="376.6" cy="237.7" r="6.0"/><circle cx="264.2" cy="246.2" r="6.0"/><circle cx="272.8" cy="246.2" r="6.0"/><circle cx="281.5" cy="246.2" r="6.0"/><circle cx="307.4" cy="246.2" r="6.0"/><circle cx="350.6" cy="246.2" r="6.0"/><circle cx="359.3" cy="246.2" r="6.0"/><circle cx="376.6" cy="246.2" r="6.0"/><circle cx="411.2" cy="246.2" r="6.0"/><circle cx="419.8" cy="246.2" r="6.0"/><circle cx="454.4" cy="246.2" r="6.0"/><circle cx="281.5" cy="254.7" r="6.0"/><circle cx="307.4" cy="254.7" r="6.0"/><circle cx="359.3" cy="254.7" r="6.0"/><circle cx="376.6" cy="254.7" r="6.0"/><circle cx="393.9" cy="254.7" r="6.0"/><circle cx="307.4" cy="263.1" r="6.0"/><circle cx="350.6" cy="263.1" r="6.0"/><circle cx="359.3" cy="263.1" r="6.0"/><circle cx="376.6" cy="263.1" r="6.0"/><circle cx="385.2" cy="263.1" r="6.0"/><circle cx="393.9" cy="263.1" r="6.0"/><circle cx="428.5" cy="263.1" r="6.0"/><circle cx="298.7" cy="271.6" r="6.0"/><circle cx="350.6" cy="271.6" r="6.0"/><circle cx="359.3" cy="271.6" r="6.0"/><circle cx="298.7" cy="280" r="6.0"/><circle cx="342" cy="280" r="6.0"/><circle cx="359.3" cy="280" r="6.0"/><circle cx="385.2" cy="280" r="6.0"/><circle cx="393.9" cy="280" r="6.0"/><circle cx="272.8" cy="288.5" r="6.0"/><circle cx="281.5" cy="288.5" r="6.0"/><circle cx="316" cy="288.5" r="6.0"/><circle cx="367.9" cy="288.5" r="6.0"/><circle cx="376.6" cy="288.5" r="6.0"/><circle cx="316" cy="305.4" r="6.0"/><circle cx="342" cy="313.9" r="6.0"/><circle cx="359.3" cy="313.9" r="6.0"/><circle cx="367.9" cy="313.9" r="6.0"/></g></defs><g filter="url(#hz4)" fill="#1268ec" opacity="0.5"><use href="#p1"/><use href="#p2"/><use href="#p3"/><use href="#p4"/><use href="#p5"/></g><use href="#p1" fill="url(#gq1)"/><use href="#p2" fill="url(#gq2)"/><use href="#p3" fill="url(#gq3)"/><use href="#p4" fill="url(#gq4)"/><use href="#p5" fill="url(#gq5)"/><defs><radialGradient id="gh3"><stop offset="0" stop-color="#1e9aff"/><stop offset="0.36" stop-color="#097ffc"/><stop offset="0.66" stop-color="#004cd1" stop-opacity="0.6"/><stop offset="1" stop-color="#001fa0" stop-opacity="0"/></radialGradient></defs><defs><g id="p6"><circle cx="626.2" cy="127.3" r="6.2"/><circle cx="659.6" cy="138" r="6.2"/><circle cx="637.3" cy="148.7" r="6.2"/><circle cx="626.2" cy="159.4" r="6.2"/><circle cx="693" cy="159.4" r="6.2"/><circle cx="681.9" cy="170.1" r="6.2"/><circle cx="693" cy="170.1" r="6.2"/><circle cx="693" cy="191.5" r="6.2"/><circle cx="626.2" cy="212.9" r="6.2"/><circle cx="681.9" cy="212.9" r="6.2"/><circle cx="615" cy="223.6" r="6.2"/><circle cx="626.2" cy="223.6" r="6.2"/><circle cx="637.3" cy="223.6" r="6.2"/><circle cx="737.6" cy="84.5" r="6.2"/><circle cx="782.1" cy="84.5" r="6.2"/><circle cx="737.6" cy="95.2" r="6.2"/><circle cx="737.6" cy="105.9" r="6.2"/><circle cx="815.6" cy="105.9" r="6.2"/><circle cx="826.7" cy="105.9" r="6.2"/><circle cx="748.7" cy="116.6" r="6.2"/><circle cx="826.7" cy="116.6" r="6.2"/><circle cx="737.6" cy="127.3" r="6.2"/><circle cx="748.7" cy="127.3" r="6.2"/><circle cx="837.8" cy="127.3" r="6.2"/><circle cx="815.6" cy="138" r="6.2"/><circle cx="782.1" cy="148.7" r="6.2"/><circle cx="837.8" cy="170.1" r="6.2"/><circle cx="748.7" cy="180.8" r="6.2"/><circle cx="837.8" cy="180.8" r="6.2"/><circle cx="737.6" cy="202.2" r="6.2"/><circle cx="826.7" cy="202.2" r="6.2"/><circle cx="748.7" cy="212.9" r="6.2"/><circle cx="748.7" cy="223.6" r="6.2"/><circle cx="759.9" cy="223.6" r="6.2"/><circle cx="771" cy="223.6" r="6.2"/><circle cx="860.1" cy="84.5" r="6.2"/><circle cx="882.4" cy="84.5" r="6.2"/><circle cx="1004.9" cy="84.5" r="6.2"/><circle cx="882.4" cy="95.2" r="6.2"/><circle cx="904.7" cy="95.2" r="6.2"/><circle cx="915.8" cy="105.9" r="6.2"/><circle cx="893.5" cy="116.6" r="6.2"/><circle cx="915.8" cy="116.6" r="6.2"/><circle cx="993.8" cy="116.6" r="6.2"/><circle cx="893.5" cy="127.3" r="6.2"/><circle cx="893.5" cy="138" r="6.2"/><circle cx="993.8" cy="138" r="6.2"/><circle cx="927" cy="148.7" r="6.2"/><circle cx="893.5" cy="159.4" r="6.2"/><circle cx="960.4" cy="159.4" r="6.2"/><circle cx="993.8" cy="159.4" r="6.2"/><circle cx="904.7" cy="170.1" r="6.2"/><circle cx="893.5" cy="180.8" r="6.2"/><circle cx="960.4" cy="180.8" r="6.2"/><circle cx="971.5" cy="191.5" r="6.2"/><circle cx="982.7" cy="191.5" r="6.2"/><circle cx="893.5" cy="202.2" r="6.2"/><circle cx="882.4" cy="223.6" r="6.2"/><circle cx="915.8" cy="223.6" r="6.2"/></g></defs><defs><radialGradient id="gh4"><stop offset="0" stop-color="#34b4ff"/><stop offset="0.36" stop-color="#158eff"/><stop offset="0.66" stop-color="#0053d7" stop-opacity="0.6"/><stop offset="1" stop-color="#001fa0" stop-opacity="0"/></radialGradient></defs><defs><g id="p7"><circle cx="615" cy="84.5" r="6.2"/><circle cx="626.2" cy="84.5" r="6.2"/><circle cx="626.2" cy="116.6" r="6.2"/><circle cx="670.7" cy="127.3" r="6.2"/><circle cx="681.9" cy="138" r="6.2"/><circle cx="626.2" cy="148.7" r="6.2"/><circle cx="681.9" cy="159.4" r="6.2"/><circle cx="681.9" cy="180.8" r="6.2"/><circle cx="626.2" cy="202.2" r="6.2"/><circle cx="693" cy="202.2" r="6.2"/><circle cx="693" cy="212.9" r="6.2"/><circle cx="648.5" cy="223.6" r="6.2"/><circle cx="681.9" cy="223.6" r="6.2"/><circle cx="693" cy="223.6" r="6.2"/><circle cx="726.4" cy="84.5" r="6.2"/><circle cx="748.7" cy="84.5" r="6.2"/><circle cx="771" cy="84.5" r="6.2"/><circle cx="793.3" cy="84.5" r="6.2"/><circle cx="804.4" cy="95.2" r="6.2"/><circle cx="815.6" cy="95.2" r="6.2"/><circle cx="826.7" cy="95.2" r="6.2"/><circle cx="748.7" cy="105.9" r="6.2"/><circle cx="826.7" cy="127.3" r="6.2"/><circle cx="826.7" cy="138" r="6.2"/><circle cx="748.7" cy="148.7" r="6.2"/><circle cx="771" cy="148.7" r="6.2"/><circle cx="793.3" cy="148.7" r="6.2"/><circle cx="804.4" cy="148.7" r="6.2"/><circle cx="815.6" cy="148.7" r="6.2"/><circle cx="737.6" cy="159.4" r="6.2"/><circle cx="804.4" cy="159.4" r="6.2"/><circle cx="815.6" cy="159.4" r="6.2"/><circle cx="737.6" cy="170.1" r="6.2"/><circle cx="748.7" cy="170.1" r="6.2"/><circle cx="826.7" cy="180.8" r="6.2"/><circle cx="737.6" cy="191.5" r="6.2"/><circle cx="748.7" cy="202.2" r="6.2"/><circle cx="837.8" cy="202.2" r="6.2"/><circle cx="737.6" cy="212.9" r="6.2"/><circle cx="815.6" cy="212.9" r="6.2"/><circle cx="726.4" cy="223.6" r="6.2"/><circle cx="782.1" cy="223.6" r="6.2"/><circle cx="793.3" cy="223.6" r="6.2"/><circle cx="804.4" cy="223.6" r="6.2"/><circle cx="971.5" cy="84.5" r="6.2"/><circle cx="982.7" cy="84.5" r="6.2"/><circle cx="893.5" cy="95.2" r="6.2"/><circle cx="993.8" cy="95.2" r="6.2"/><circle cx="893.5" cy="105.9" r="6.2"/><circle cx="904.7" cy="105.9" r="6.2"/><circle cx="993.8" cy="105.9" r="6.2"/><circle cx="915.8" cy="127.3" r="6.2"/><circle cx="927" cy="138" r="6.2"/><circle cx="938.1" cy="138" r="6.2"/><circle cx="938.1" cy="148.7" r="6.2"/><circle cx="938.1" cy="159.4" r="6.2"/><circle cx="949.2" cy="170.1" r="6.2"/><circle cx="960.4" cy="170.1" r="6.2"/><circle cx="993.8" cy="170.1" r="6.2"/><circle cx="993.8" cy="191.5" r="6.2"/><circle cx="982.7" cy="202.2" r="6.2"/><circle cx="893.5" cy="212.9" r="6.2"/><circle cx="982.7" cy="212.9" r="6.2"/><circle cx="871.3" cy="223.6" r="6.2"/><circle cx="893.5" cy="223.6" r="6.2"/><circle cx="904.7" cy="223.6" r="6.2"/><circle cx="993.8" cy="223.6" r="6.2"/></g></defs><defs><radialGradient id="gh5"><stop offset="0" stop-color="#51d8ff"/><stop offset="0.36" stop-color="#229eff"/><stop offset="0.66" stop-color="#005add" stop-opacity="0.6"/><stop offset="1" stop-color="#001fa0" stop-opacity="0"/></radialGradient></defs><defs><g id="p8"><circle cx="626.2" cy="95.2" r="6.2"/><circle cx="626.2" cy="105.9" r="6.2"/><circle cx="626.2" cy="138" r="6.2"/><circle cx="648.5" cy="138" r="6.2"/><circle cx="670.7" cy="138" r="6.2"/><circle cx="681.9" cy="148.7" r="6.2"/><circle cx="693" cy="148.7" r="6.2"/><circle cx="626.2" cy="170.1" r="6.2"/><circle cx="626.2" cy="180.8" r="6.2"/><circle cx="693" cy="180.8" r="6.2"/><circle cx="626.2" cy="191.5" r="6.2"/><circle cx="681.9" cy="191.5" r="6.2"/><circle cx="681.9" cy="202.2" r="6.2"/><circle cx="603.9" cy="223.6" r="6.2"/><circle cx="670.7" cy="223.6" r="6.2"/><circle cx="704.2" cy="223.6" r="6.2"/><circle cx="759.9" cy="84.5" r="6.2"/><circle cx="748.7" cy="95.2" r="6.2"/><circle cx="737.6" cy="116.6" r="6.2"/><circle cx="837.8" cy="116.6" r="6.2"/><circle cx="737.6" cy="138" r="6.2"/><circle cx="748.7" cy="138" r="6.2"/><circle cx="737.6" cy="148.7" r="6.2"/><circle cx="759.9" cy="148.7" r="6.2"/><circle cx="748.7" cy="159.4" r="6.2"/><circle cx="826.7" cy="159.4" r="6.2"/><circle cx="826.7" cy="170.1" r="6.2"/><circle cx="737.6" cy="180.8" r="6.2"/><circle cx="748.7" cy="191.5" r="6.2"/><circle cx="826.7" cy="191.5" r="6.2"/><circle cx="837.8" cy="191.5" r="6.2"/><circle cx="826.7" cy="212.9" r="6.2"/><circle cx="737.6" cy="223.6" r="6.2"/><circle cx="871.3" cy="84.5" r="6.2"/><circle cx="893.5" cy="84.5" r="6.2"/><circle cx="993.8" cy="84.5" r="6.2"/><circle cx="904.7" cy="116.6" r="6.2"/><circle cx="927" cy="127.3" r="6.2"/><circle cx="993.8" cy="127.3" r="6.2"/><circle cx="893.5" cy="148.7" r="6.2"/><circle cx="949.2" cy="148.7" r="6.2"/><circle cx="993.8" cy="148.7" r="6.2"/><circle cx="949.2" cy="159.4" r="6.2"/><circle cx="893.5" cy="170.1" r="6.2"/><circle cx="971.5" cy="180.8" r="6.2"/><circle cx="993.8" cy="180.8" r="6.2"/><circle cx="893.5" cy="191.5" r="6.2"/><circle cx="993.8" cy="202.2" r="6.2"/><circle cx="993.8" cy="212.9" r="6.2"/></g></defs><use href="#p6" fill="url(#gh3)"/><use href="#p7" fill="url(#gh4)"/><use href="#p8" fill="url(#gh5)"/><defs><radialGradient id="gs3"><stop offset="0" stop-color="#1791ff"/><stop offset="0.36" stop-color="#0675f4"/><stop offset="0.66" stop-color="#0049ce" stop-opacity="0.6"/><stop offset="1" stop-color="#001fa0" stop-opacity="0"/></radialGradient></defs><defs><g id="p9"><circle cx="656.7" cy="370.3" r="4.2"/><circle cx="663.9" cy="367.9" r="4.2"/><circle cx="664" cy="360.3" r="4.2"/><circle cx="664.2" cy="345" r="4.2"/><circle cx="664.3" cy="337.4" r="4.2"/><circle cx="664.4" cy="329.8" r="4.2"/><circle cx="664.5" cy="314.5" r="4.2"/><circle cx="673.9" cy="303.9" r="4.2"/><circle cx="683" cy="316.1" r="4.2"/><circle cx="692.1" cy="328.4" r="4.2"/><circle cx="696.7" cy="334.5" r="4.2"/><circle cx="701.2" cy="340.6" r="4.2"/><circle cx="705.8" cy="346.7" r="4.2"/><circle cx="710.3" cy="352.8" r="4.2"/><circle cx="739.4" cy="343.7" r="4.2"/><circle cx="746.7" cy="341.5" r="4.2"/><circle cx="754" cy="339.2" r="4.2"/><circle cx="768.5" cy="334.7" r="4.2"/><circle cx="774.3" cy="342.5" r="4.2"/><circle cx="769.9" cy="348.8" r="4.2"/><circle cx="761" cy="361.2" r="4.2"/><circle cx="752.2" cy="373.6" r="4.2"/><circle cx="739" cy="392.3" r="4.2"/><circle cx="747.8" cy="404.7" r="4.2"/><circle cx="752.2" cy="411" r="4.2"/><circle cx="756.6" cy="417.2" r="4.2"/><circle cx="765.5" cy="429.6" r="4.2"/><circle cx="769.9" cy="435.8" r="4.2"/><circle cx="783.1" cy="454.5" r="4.2"/><circle cx="768.5" cy="449.9" r="4.2"/><circle cx="746.7" cy="443.1" r="4.2"/><circle cx="739.4" cy="440.9" r="4.2"/><circle cx="732.2" cy="438.6" r="4.2"/><circle cx="701.2" cy="444" r="4.2"/><circle cx="696.7" cy="450.1" r="4.2"/><circle cx="692.1" cy="456.2" r="4.2"/><circle cx="687.6" cy="462.3" r="4.2"/><circle cx="683" cy="468.5" r="4.2"/><circle cx="678.5" cy="474.6" r="4.2"/><circle cx="664.6" cy="477.7" r="4.2"/><circle cx="664.4" cy="454.8" r="4.2"/><circle cx="663.9" cy="416.7" r="4.2"/><circle cx="649.5" cy="411.8" r="4.2"/><circle cx="627.8" cy="404.5" r="4.2"/><circle cx="613.4" cy="399.6" r="4.2"/><circle cx="598.9" cy="394.7" r="4.2"/></g></defs><defs><radialGradient id="gs4"><stop offset="0" stop-color="#28a4ff"/><stop offset="0.36" stop-color="#0f88ff"/><stop offset="0.66" stop-color="#0050d4" stop-opacity="0.6"/><stop offset="1" stop-color="#001fa0" stop-opacity="0"/></radialGradient></defs><defs><g id="p10"><circle cx="591.7" cy="392.3" r="4.2"/><circle cx="606.1" cy="387.4" r="4.2"/><circle cx="620.6" cy="382.5" r="4.2"/><circle cx="627.8" cy="380.1" r="4.2"/><circle cx="642.3" cy="375.2" r="4.2"/><circle cx="664.1" cy="352.7" r="4.2"/><circle cx="664.5" cy="322.2" r="4.2"/><circle cx="664.6" cy="306.9" r="4.2"/><circle cx="664.8" cy="291.7" r="4.2"/><circle cx="678.5" cy="310" r="4.2"/><circle cx="687.6" cy="322.3" r="4.2"/><circle cx="717.6" cy="350.6" r="4.2"/><circle cx="732.2" cy="346" r="4.2"/><circle cx="783.1" cy="330.1" r="4.2"/><circle cx="765.5" cy="355" r="4.2"/><circle cx="743.4" cy="386.1" r="4.2"/><circle cx="743.4" cy="398.5" r="4.2"/><circle cx="761" cy="423.4" r="4.2"/><circle cx="774.3" cy="442.1" r="4.2"/><circle cx="778.7" cy="448.3" r="4.2"/><circle cx="775.8" cy="452.2" r="4.2"/><circle cx="761.3" cy="447.7" r="4.2"/><circle cx="754" cy="445.4" r="4.2"/><circle cx="724.9" cy="436.3" r="4.2"/><circle cx="717.6" cy="434" r="4.2"/><circle cx="710.3" cy="431.8" r="4.2"/><circle cx="673.9" cy="480.7" r="4.2"/><circle cx="669.4" cy="486.8" r="4.2"/><circle cx="664.5" cy="470.1" r="4.2"/><circle cx="664.3" cy="447.2" r="4.2"/><circle cx="664.2" cy="439.6" r="4.2"/><circle cx="656.7" cy="414.3" r="4.2"/><circle cx="642.3" cy="409.4" r="4.2"/><circle cx="635" cy="406.9" r="4.2"/><circle cx="620.6" cy="402.1" r="4.2"/><circle cx="606.1" cy="397.2" r="4.2"/></g></defs><defs><radialGradient id="gs5"><stop offset="0" stop-color="#43c7ff"/><stop offset="0.36" stop-color="#1c97ff"/><stop offset="0.66" stop-color="#0057da" stop-opacity="0.6"/><stop offset="1" stop-color="#001fa0" stop-opacity="0"/></radialGradient></defs><defs><g id="p11"><circle cx="598.9" cy="389.9" r="4.2"/><circle cx="613.4" cy="385" r="4.2"/><circle cx="635" cy="377.7" r="4.2"/><circle cx="649.5" cy="372.8" r="4.2"/><circle cx="664.7" cy="299.3" r="4.2"/><circle cx="669.4" cy="297.8" r="4.2"/><circle cx="724.9" cy="348.3" r="4.2"/><circle cx="761.3" cy="336.9" r="4.2"/><circle cx="775.8" cy="332.4" r="4.2"/><circle cx="778.7" cy="336.3" r="4.2"/><circle cx="756.6" cy="367.4" r="4.2"/><circle cx="747.8" cy="379.9" r="4.2"/><circle cx="705.8" cy="437.9" r="4.2"/><circle cx="664.8" cy="492.9" r="4.2"/><circle cx="664.7" cy="485.3" r="4.2"/><circle cx="664.5" cy="462.4" r="4.2"/><circle cx="664.1" cy="431.9" r="4.2"/><circle cx="664" cy="424.3" r="4.2"/></g></defs><use href="#p9" fill="url(#gs3)"/><use href="#p10" fill="url(#gs4)"/><use href="#p11" fill="url(#gs5)"/><defs><radialGradient id="gc3"><stop offset="0" stop-color="#239fff"/><stop offset="0.36" stop-color="#0b84ff"/><stop offset="0.66" stop-color="#004ed2" stop-opacity="0.6"/><stop offset="1" stop-color="#001fa0" stop-opacity="0"/></radialGradient></defs><defs><g id="p12"><circle cx="1014.9" cy="393.4" r="5.6"/><circle cx="1007.4" cy="427" r="5.6"/><circle cx="995.7" cy="446.9" r="5.6"/><circle cx="988" cy="455.6" r="5.6"/><circle cx="959.6" cy="475" r="5.6"/><circle cx="903" cy="480.4" r="5.6"/><circle cx="871.3" cy="466.8" r="5.6"/><circle cx="854" cy="451.5" r="5.6"/><circle cx="833.1" cy="410.8" r="5.6"/><circle cx="831.3" cy="399.4" r="5.6"/><circle cx="830.9" cy="387.8" r="5.6"/><circle cx="843.6" cy="343.9" r="5.6"/><circle cx="857.8" cy="325.6" r="5.6"/><circle cx="983.6" cy="321.5" r="5.6"/><circle cx="1012.7" cy="370.4" r="5.6"/><circle cx="1014.5" cy="381.8" r="5.6"/><circle cx="990.8" cy="405.5" r="5.6"/><circle cx="975.5" cy="436" r="5.6"/><circle cx="967.4" cy="444" r="5.6"/><circle cx="958" cy="450.6" r="5.6"/><circle cx="936.6" cy="458.7" r="5.6"/><circle cx="925.2" cy="460.1" r="5.6"/><circle cx="891.8" cy="452.8" r="5.6"/><circle cx="870.3" cy="345.2" r="5.6"/><circle cx="932.1" cy="321.7" r="5.6"/><circle cx="979.8" cy="350.7" r="5.6"/><circle cx="991.9" cy="382.6" r="5.6"/><circle cx="968.9" cy="395.2" r="5.6"/><circle cx="966.4" cy="406.1" r="5.6"/><circle cx="961.5" cy="416" r="5.6"/><circle cx="945.2" cy="431.1" r="5.6"/><circle cx="934.9" cy="435.2" r="5.6"/><circle cx="923.9" cy="436.8" r="5.6"/><circle cx="912.8" cy="435.7" r="5.6"/><circle cx="893" cy="425.8" r="5.6"/><circle cx="876.9" cy="386" r="5.6"/><circle cx="891.6" cy="356.7" r="5.6"/><circle cx="900.6" cy="350.1" r="5.6"/><circle cx="952.8" cy="355.4" r="5.6"/><circle cx="919.1" cy="367.7" r="5.6"/><circle cx="945.2" cy="384.1" r="5.6"/></g></defs><defs><radialGradient id="gc4"><stop offset="0" stop-color="#3ec0ff"/><stop offset="0.36" stop-color="#1994ff"/><stop offset="0.66" stop-color="#0055d9" stop-opacity="0.6"/><stop offset="1" stop-color="#001fa0" stop-opacity="0"/></radialGradient></defs><defs><g id="p13"><circle cx="1013.8" cy="404.9" r="5.6"/><circle cx="1011.3" cy="416.1" r="5.6"/><circle cx="1002.2" cy="437.3" r="5.6"/><circle cx="979.4" cy="463.2" r="5.6"/><circle cx="969.8" cy="469.7" r="5.6"/><circle cx="948.7" cy="478.9" r="5.6"/><circle cx="925.9" cy="482.6" r="5.6"/><circle cx="891.9" cy="477.2" r="5.6"/><circle cx="881.2" cy="472.6" r="5.6"/><circle cx="862.2" cy="459.7" r="5.6"/><circle cx="846.9" cy="442.4" r="5.6"/><circle cx="841" cy="432.5" r="5.6"/><circle cx="836.4" cy="421.9" r="5.6"/><circle cx="832" cy="376.3" r="5.6"/><circle cx="838.4" cy="354.2" r="5.6"/><circle cx="850.1" cy="334.3" r="5.6"/><circle cx="866.4" cy="318" r="5.6"/><circle cx="876" cy="311.5" r="5.6"/><circle cx="897.1" cy="302.3" r="5.6"/><circle cx="908.4" cy="299.8" r="5.6"/><circle cx="942.8" cy="300.8" r="5.6"/><circle cx="953.9" cy="304" r="5.6"/><circle cx="964.6" cy="308.6" r="5.6"/><circle cx="974.5" cy="314.4" r="5.6"/><circle cx="1004.8" cy="348.7" r="5.6"/><circle cx="992.3" cy="394.1" r="5.6"/><circle cx="987.4" cy="416.4" r="5.6"/><circle cx="947.6" cy="455.6" r="5.6"/><circle cx="913.7" cy="459.5" r="5.6"/><circle cx="902.5" cy="457" r="5.6"/><circle cx="882" cy="446.8" r="5.6"/><circle cx="873.3" cy="439.3" r="5.6"/><circle cx="866" cy="430.5" r="5.6"/><circle cx="860.2" cy="420.6" r="5.6"/><circle cx="856.1" cy="409.9" r="5.6"/><circle cx="855" cy="375.7" r="5.6"/><circle cx="858.4" cy="364.8" r="5.6"/><circle cx="887.8" cy="330.6" r="5.6"/><circle cx="898.2" cy="325.6" r="5.6"/><circle cx="943.3" cy="324.2" r="5.6"/><circle cx="954" cy="328.4" r="5.6"/><circle cx="963.8" cy="334.4" r="5.6"/><circle cx="972.5" cy="341.9" r="5.6"/><circle cx="989.7" cy="371.3" r="5.6"/><circle cx="954.2" cy="424.5" r="5.6"/><circle cx="885.4" cy="417.6" r="5.6"/><circle cx="877.2" cy="397.1" r="5.6"/><circle cx="910.9" cy="346" r="5.6"/><circle cx="933" cy="345.5" r="5.6"/><circle cx="965.7" cy="373.3" r="5.6"/><circle cx="968.6" cy="384.1" r="5.6"/><circle cx="921.1" cy="413.7" r="5.6"/><circle cx="910.5" cy="410.2" r="5.6"/><circle cx="899.7" cy="391.6" r="5.6"/><circle cx="930.2" cy="368.6" r="5.6"/><circle cx="939.6" cy="374.5" r="5.6"/></g></defs><defs><radialGradient id="gc5"><stop offset="0" stop-color="#69eaff"/><stop offset="0.36" stop-color="#28a5ff"/><stop offset="0.66" stop-color="#005de0" stop-opacity="0.6"/><stop offset="1" stop-color="#001fa0" stop-opacity="0"/></radialGradient></defs><defs><g id="p14"><circle cx="937.4" cy="481.4" r="5.6"/><circle cx="914.4" cy="482.2" r="5.6"/><circle cx="834.5" cy="365.1" r="5.6"/><circle cx="886.2" cy="306.2" r="5.6"/><circle cx="919.9" cy="298.6" r="5.6"/><circle cx="931.4" cy="299" r="5.6"/><circle cx="991.8" cy="329.7" r="5.6"/><circle cx="998.9" cy="338.8" r="5.6"/><circle cx="1009.4" cy="359.3" r="5.6"/><circle cx="982.3" cy="426.7" r="5.6"/><circle cx="853.9" cy="398.6" r="5.6"/><circle cx="853.5" cy="387.1" r="5.6"/><circle cx="863.5" cy="354.5" r="5.6"/><circle cx="878.4" cy="337.2" r="5.6"/><circle cx="909.2" cy="322.5" r="5.6"/><circle cx="920.6" cy="321.1" r="5.6"/><circle cx="985.6" cy="360.6" r="5.6"/><circle cx="902.3" cy="431.9" r="5.6"/><circle cx="880.1" cy="407.9" r="5.6"/><circle cx="879.4" cy="375.1" r="5.6"/><circle cx="884.3" cy="365.2" r="5.6"/><circle cx="921.9" cy="344.4" r="5.6"/><circle cx="943.5" cy="349.3" r="5.6"/><circle cx="960.4" cy="363.6" r="5.6"/><circle cx="945.6" cy="395.2" r="5.6"/><circle cx="940.9" cy="405.2" r="5.6"/><circle cx="932" cy="411.9" r="5.6"/><circle cx="902.8" cy="402.2" r="5.6"/><circle cx="901.9" cy="380.7" r="5.6"/><circle cx="908.9" cy="372.1" r="5.6"/></g></defs><use href="#p12" fill="url(#gc3)"/><use href="#p13" fill="url(#gc4)"/><use href="#p14" fill="url(#gc5)"/><defs><g id="p15"><circle cx="1511.1" cy="258.5" r="6.0"/><circle cx="1486.1" cy="375.3" r="6.0"/><circle cx="1386.6" cy="468.7" r="6.0"/></g></defs><defs><g id="p16"><circle cx="1479" cy="109.6" r="6.0"/><circle cx="1470.3" cy="136.1" r="6.0"/><circle cx="1470.8" cy="144.3" r="6.0"/><circle cx="1481.5" cy="213.6" r="6.0"/><circle cx="1473.4" cy="223.3" r="6.0"/><circle cx="1482" cy="223.3" r="6.0"/><circle cx="1492.2" cy="232.5" r="6.0"/><circle cx="1472.9" cy="240.7" r="6.0"/><circle cx="1482.6" cy="240.7" r="6.0"/><circle cx="1492.2" cy="240.7" r="6.0"/><circle cx="1500.9" cy="240.7" r="6.0"/><circle cx="1482.6" cy="249.8" r="6.0"/><circle cx="1501.9" cy="249.8" r="6.0"/><circle cx="1492.8" cy="258.5" r="6.0"/><circle cx="1492.8" cy="267.2" r="6.0"/><circle cx="1511.6" cy="267.2" r="6.0"/><circle cx="1493.3" cy="276.9" r="6.0"/><circle cx="1493.3" cy="285.6" r="6.0"/><circle cx="1493.3" cy="294.7" r="6.0"/><circle cx="1493.3" cy="303.9" r="6.0"/><circle cx="1503.5" cy="303.9" r="6.0"/><circle cx="1484.6" cy="330.4" r="6.0"/><circle cx="1464.7" cy="340.1" r="6.0"/><circle cx="1474.9" cy="340.1" r="6.0"/><circle cx="1484.6" cy="340.1" r="6.0"/><circle cx="1465.2" cy="349.3" r="6.0"/><circle cx="1475.4" cy="349.3" r="6.0"/><circle cx="1484.6" cy="349.3" r="6.0"/><circle cx="1475.9" cy="358" r="6.0"/><circle cx="1484.6" cy="358" r="6.0"/><circle cx="1358.1" cy="451.4" r="6.0"/><circle cx="1339.7" cy="452.9" r="6.0"/><circle cx="1331" cy="461.1" r="6.0"/><circle cx="1358.1" cy="461.1" r="6.0"/><circle cx="1330.5" cy="470.8" r="6.0"/><circle cx="1256.5" cy="473.3" r="6.0"/><circle cx="1321.8" cy="479.9" r="6.0"/><circle cx="1266.2" cy="481.5" r="6.0"/><circle cx="1475.9" cy="367.2" r="6.0"/><circle cx="1485.6" cy="367.2" r="6.0"/><circle cx="1467.2" cy="375.3" r="6.0"/><circle cx="1458.6" cy="385" r="6.0"/><circle cx="1467.2" cy="385" r="6.0"/><circle cx="1449.9" cy="394.2" r="6.0"/><circle cx="1459.1" cy="394.2" r="6.0"/><circle cx="1439.7" cy="402.9" r="6.0"/><circle cx="1449.9" cy="402.9" r="6.0"/><circle cx="1440.7" cy="413.1" r="6.0"/><circle cx="1421.8" cy="422.8" r="6.0"/><circle cx="1422.3" cy="432" r="6.0"/><circle cx="1403" cy="432.5" r="6.0"/><circle cx="1375.9" cy="442.2" r="6.0"/><circle cx="1422.9" cy="449.3" r="6.0"/><circle cx="1404.5" cy="450.3" r="6.0"/><circle cx="1395.8" cy="459" r="6.0"/></g></defs><defs><g id="p17"><circle cx="1449.9" cy="64.7" r="6.0"/><circle cx="1459.1" cy="64.7" r="6.0"/><circle cx="1459.1" cy="73.9" r="6.0"/><circle cx="1468.8" cy="83.1" r="6.0"/><circle cx="1478.5" cy="92.2" r="6.0"/><circle cx="1450.9" cy="100.9" r="6.0"/><circle cx="1478.5" cy="100.9" r="6.0"/><circle cx="1469.8" cy="116.7" r="6.0"/><circle cx="1478.5" cy="116.7" r="6.0"/><circle cx="1461.6" cy="153.5" r="6.0"/><circle cx="1462.1" cy="162.1" r="6.0"/><circle cx="1454" cy="188.7" r="6.0"/><circle cx="1454.5" cy="197.9" r="6.0"/><circle cx="1463.2" cy="206" r="6.0"/><circle cx="1472.3" cy="206" r="6.0"/><circle cx="1481.5" cy="206" r="6.0"/><circle cx="1491.7" cy="206" r="6.0"/><circle cx="1473.4" cy="213.6" r="6.0"/><circle cx="1464.2" cy="223.3" r="6.0"/><circle cx="1491.7" cy="223.3" r="6.0"/><circle cx="1472.3" cy="232.5" r="6.0"/><circle cx="1482.6" cy="232.5" r="6.0"/><circle cx="1482.6" cy="258.5" r="6.0"/><circle cx="1455.5" cy="261.1" r="6.0"/><circle cx="1482.6" cy="267.2" r="6.0"/><circle cx="1483.1" cy="276.9" r="6.0"/><circle cx="1475.4" cy="303.9" r="6.0"/><circle cx="1474.9" cy="313.1" r="6.0"/><circle cx="1474.9" cy="321.8" r="6.0"/><circle cx="1457" cy="323.3" r="6.0"/><circle cx="1457" cy="331.5" r="6.0"/><circle cx="1465.7" cy="331.5" r="6.0"/><circle cx="1466.2" cy="358" r="6.0"/><circle cx="1134.6" cy="413.6" r="6.0"/><circle cx="1143.8" cy="422.3" r="6.0"/><circle cx="1172.3" cy="422.3" r="6.0"/><circle cx="1143.8" cy="431" r="6.0"/><circle cx="1181.5" cy="431" r="6.0"/><circle cx="1181" cy="439.6" r="6.0"/><circle cx="1210.1" cy="447.8" r="6.0"/><circle cx="1154.5" cy="448.8" r="6.0"/><circle cx="1346.8" cy="407.5" r="6.0"/><circle cx="1357" cy="424.8" r="6.0"/><circle cx="1255.5" cy="427.4" r="6.0"/><circle cx="1357" cy="434" r="6.0"/><circle cx="1320.3" cy="435" r="6.0"/><circle cx="1256" cy="437.1" r="6.0"/><circle cx="1347.9" cy="442.7" r="6.0"/><circle cx="1358.1" cy="442.7" r="6.0"/><circle cx="1320.3" cy="444.2" r="6.0"/><circle cx="1330.5" cy="444.2" r="6.0"/><circle cx="1246.8" cy="445.2" r="6.0"/><circle cx="1255.5" cy="445.2" r="6.0"/><circle cx="1275.4" cy="445.2" r="6.0"/><circle cx="1292.8" cy="445.2" r="6.0"/><circle cx="1218.8" cy="447.3" r="6.0"/><circle cx="1228" cy="447.3" r="6.0"/><circle cx="1311.1" cy="452.9" r="6.0"/><circle cx="1320.3" cy="452.9" r="6.0"/><circle cx="1331.5" cy="452.9" r="6.0"/><circle cx="1347.9" cy="452.9" r="6.0"/><circle cx="1256.5" cy="454.9" r="6.0"/><circle cx="1265.7" cy="454.9" r="6.0"/><circle cx="1275.4" cy="454.9" r="6.0"/><circle cx="1228.5" cy="456" r="6.0"/><circle cx="1237.1" cy="456" r="6.0"/><circle cx="1320.8" cy="461.1" r="6.0"/><circle cx="1339.7" cy="461.1" r="6.0"/><circle cx="1348.4" cy="461.1" r="6.0"/><circle cx="1228.5" cy="464.1" r="6.0"/><circle cx="1246.8" cy="464.1" r="6.0"/><circle cx="1256.5" cy="464.1" r="6.0"/><circle cx="1266.2" cy="464.1" r="6.0"/><circle cx="1301.9" cy="470.8" r="6.0"/><circle cx="1311.6" cy="470.8" r="6.0"/><circle cx="1321.3" cy="470.8" r="6.0"/><circle cx="1339.7" cy="470.8" r="6.0"/><circle cx="1246.8" cy="473.3" r="6.0"/><circle cx="1313.2" cy="479.9" r="6.0"/><circle cx="1467.2" cy="367.2" r="6.0"/><circle cx="1458.6" cy="375.3" r="6.0"/><circle cx="1402.4" cy="396.3" r="6.0"/><circle cx="1411.6" cy="396.3" r="6.0"/><circle cx="1393.3" cy="404.9" r="6.0"/><circle cx="1402.4" cy="404.9" r="6.0"/><circle cx="1412.1" cy="404.9" r="6.0"/><circle cx="1422.3" cy="404.9" r="6.0"/><circle cx="1393.8" cy="414.1" r="6.0"/><circle cx="1412.1" cy="414.1" r="6.0"/><circle cx="1421.3" cy="414.1" r="6.0"/><circle cx="1365.7" cy="422.8" r="6.0"/><circle cx="1375.9" cy="422.8" r="6.0"/><circle cx="1393.8" cy="422.8" r="6.0"/><circle cx="1404" cy="422.8" r="6.0"/><circle cx="1412.1" cy="422.8" r="6.0"/><circle cx="1393.8" cy="432.5" r="6.0"/><circle cx="1366.2" cy="433.5" r="6.0"/><circle cx="1375.9" cy="433.5" r="6.0"/><circle cx="1394.3" cy="440.1" r="6.0"/><circle cx="1403.5" cy="440.1" r="6.0"/><circle cx="1422.3" cy="440.1" r="6.0"/><circle cx="1366.2" cy="442.2" r="6.0"/><circle cx="1395.3" cy="450.3" r="6.0"/><circle cx="1366.2" cy="450.9" r="6.0"/></g></defs><defs><g id="p18"><circle cx="1107" cy="66.2" r="6.0"/><circle cx="1116.2" cy="66.2" r="6.0"/><circle cx="1097.9" cy="74.9" r="6.0"/><circle cx="1144.8" cy="74.9" r="6.0"/><circle cx="1098.4" cy="83.6" r="6.0"/><circle cx="1125.9" cy="83.6" r="6.0"/><circle cx="1136.1" cy="83.6" r="6.0"/><circle cx="1144.8" cy="83.6" r="6.0"/><circle cx="1182" cy="83.6" r="6.0"/><circle cx="1098.4" cy="92.8" r="6.0"/><circle cx="1107.6" cy="92.8" r="6.0"/><circle cx="1135.6" cy="92.8" r="6.0"/><circle cx="1145.3" cy="92.8" r="6.0"/><circle cx="1107.6" cy="100.9" r="6.0"/><circle cx="1117.2" cy="100.9" r="6.0"/><circle cx="1156" cy="100.9" r="6.0"/><circle cx="1126.4" cy="110.1" r="6.0"/><circle cx="1136.6" cy="110.1" r="6.0"/><circle cx="1098.9" cy="118.8" r="6.0"/><circle cx="1173.4" cy="118.8" r="6.0"/><circle cx="1201.4" cy="118.8" r="6.0"/><circle cx="1210.6" cy="118.8" r="6.0"/><circle cx="1108.6" cy="127.4" r="6.0"/><circle cx="1146.3" cy="127.4" r="6.0"/><circle cx="1182.6" cy="127.4" r="6.0"/><circle cx="1192.2" cy="127.4" r="6.0"/><circle cx="1210.6" cy="127.4" r="6.0"/><circle cx="1099.4" cy="136.6" r="6.0"/><circle cx="1108.6" cy="136.6" r="6.0"/><circle cx="1118.8" cy="136.6" r="6.0"/><circle cx="1146.8" cy="136.6" r="6.0"/><circle cx="1173.4" cy="136.6" r="6.0"/><circle cx="1200.9" cy="136.6" r="6.0"/><circle cx="1108.6" cy="144.8" r="6.0"/><circle cx="1156.5" cy="144.8" r="6.0"/><circle cx="1201.9" cy="144.8" r="6.0"/><circle cx="1212.1" cy="144.8" r="6.0"/><circle cx="1147.3" cy="154.5" r="6.0"/><circle cx="1128.5" cy="171.8" r="6.0"/><circle cx="1147.9" cy="171.8" r="6.0"/><circle cx="1129" cy="181" r="6.0"/><circle cx="1175.4" cy="181" r="6.0"/><circle cx="1184.1" cy="181" r="6.0"/><circle cx="1119.8" cy="189.7" r="6.0"/><circle cx="1184.6" cy="189.7" r="6.0"/><circle cx="1110.6" cy="199.4" r="6.0"/><circle cx="1120.3" cy="199.4" r="6.0"/><circle cx="1175.4" cy="199.4" r="6.0"/><circle cx="1092.2" cy="208.1" r="6.0"/><circle cx="1166.2" cy="208.1" r="6.0"/><circle cx="1204" cy="208.1" r="6.0"/><circle cx="1275.4" cy="87.7" r="6.0"/><circle cx="1292.8" cy="87.7" r="6.0"/><circle cx="1247.9" cy="96.3" r="6.0"/><circle cx="1257" cy="96.3" r="6.0"/><circle cx="1266.2" cy="96.3" r="6.0"/><circle cx="1292.8" cy="96.3" r="6.0"/><circle cx="1311.1" cy="96.3" r="6.0"/><circle cx="1321.3" cy="96.3" r="6.0"/><circle cx="1219.3" cy="105" r="6.0"/><circle cx="1229.5" cy="105" r="6.0"/><circle cx="1275.4" cy="105" r="6.0"/><circle cx="1292.8" cy="105" r="6.0"/><circle cx="1284.6" cy="113.7" r="6.0"/><circle cx="1292.8" cy="113.7" r="6.0"/><circle cx="1303" cy="113.7" r="6.0"/><circle cx="1303" cy="121.8" r="6.0"/><circle cx="1321.3" cy="121.8" r="6.0"/><circle cx="1341.2" cy="121.8" r="6.0"/><circle cx="1220.3" cy="125.4" r="6.0"/><circle cx="1258.1" cy="133.1" r="6.0"/><circle cx="1313.2" cy="133.1" r="6.0"/><circle cx="1238.7" cy="141.7" r="6.0"/><circle cx="1276.4" cy="141.7" r="6.0"/><circle cx="1285.6" cy="141.7" r="6.0"/><circle cx="1304" cy="141.7" r="6.0"/><circle cx="1313.2" cy="141.7" r="6.0"/><circle cx="1229.5" cy="150.4" r="6.0"/><circle cx="1238.7" cy="150.4" r="6.0"/><circle cx="1248.9" cy="150.4" r="6.0"/><circle cx="1268.3" cy="150.4" r="6.0"/><circle cx="1341.7" cy="150.4" r="6.0"/><circle cx="1230.5" cy="160.6" r="6.0"/><circle cx="1221.8" cy="196.3" r="6.0"/><circle cx="1350.9" cy="210.1" r="6.0"/><circle cx="1360.1" cy="210.1" r="6.0"/><circle cx="1430.5" cy="64.7" r="6.0"/><circle cx="1439.7" cy="64.7" r="6.0"/><circle cx="1440.2" cy="73.9" r="6.0"/><circle cx="1468.3" cy="73.9" r="6.0"/><circle cx="1395.3" cy="83.1" r="6.0"/><circle cx="1440.2" cy="83.1" r="6.0"/><circle cx="1450.4" cy="83.1" r="6.0"/><circle cx="1386.1" cy="92.2" r="6.0"/><circle cx="1431" cy="92.2" r="6.0"/><circle cx="1441.2" cy="92.2" r="6.0"/><circle cx="1450.9" cy="92.2" r="6.0"/><circle cx="1459.6" cy="92.2" r="6.0"/><circle cx="1421.3" cy="100.9" r="6.0"/><circle cx="1441.2" cy="100.9" r="6.0"/><circle cx="1459.6" cy="100.9" r="6.0"/><circle cx="1432.6" cy="109.6" r="6.0"/><circle cx="1441.7" cy="109.6" r="6.0"/><circle cx="1433.1" cy="118.8" r="6.0"/><circle cx="1432" cy="127.4" r="6.0"/><circle cx="1461.1" cy="127.4" r="6.0"/><circle cx="1396.3" cy="136.1" r="6.0"/><circle cx="1405" cy="136.1" r="6.0"/><circle cx="1422.9" cy="136.1" r="6.0"/><circle cx="1432.6" cy="136.1" r="6.0"/><circle cx="1442.2" cy="136.1" r="6.0"/><circle cx="1453" cy="136.1" r="6.0"/><circle cx="1461.1" cy="136.1" r="6.0"/><circle cx="1396.8" cy="144.3" r="6.0"/><circle cx="1415.7" cy="144.3" r="6.0"/><circle cx="1453" cy="144.3" r="6.0"/><circle cx="1461.6" cy="144.3" r="6.0"/><circle cx="1423.4" cy="153.5" r="6.0"/><circle cx="1442.8" cy="153.5" r="6.0"/><circle cx="1453.5" cy="153.5" r="6.0"/><circle cx="1423.4" cy="162.1" r="6.0"/><circle cx="1442.8" cy="162.1" r="6.0"/><circle cx="1396.8" cy="171.3" r="6.0"/><circle cx="1442.8" cy="171.3" r="6.0"/><circle cx="1388.7" cy="180.5" r="6.0"/><circle cx="1433.1" cy="180.5" r="6.0"/><circle cx="1442.8" cy="180.5" r="6.0"/><circle cx="1433.6" cy="188.7" r="6.0"/><circle cx="1369.8" cy="191.7" r="6.0"/><circle cx="1434.1" cy="197.9" r="6.0"/><circle cx="1463.2" cy="197.9" r="6.0"/><circle cx="1378.5" cy="199.9" r="6.0"/><circle cx="1369.8" cy="209.1" r="6.0"/><circle cx="1407" cy="209.1" r="6.0"/><circle cx="1434.6" cy="209.1" r="6.0"/><circle cx="1167.2" cy="215.7" r="6.0"/><circle cx="1129.5" cy="217.7" r="6.0"/><circle cx="1204" cy="223.3" r="6.0"/><circle cx="1092.2" cy="226.4" r="6.0"/><circle cx="1111.1" cy="226.4" r="6.0"/><circle cx="1139.7" cy="226.4" r="6.0"/><circle cx="1092.8" cy="235" r="6.0"/><circle cx="1167.8" cy="242.2" r="6.0"/><circle cx="1073.4" cy="244.2" r="6.0"/><circle cx="1101.9" cy="244.2" r="6.0"/><circle cx="1159.1" cy="250.3" r="6.0"/><circle cx="1168.3" cy="250.3" r="6.0"/><circle cx="1194.8" cy="250.3" r="6.0"/><circle cx="1074.4" cy="253.4" r="6.0"/><circle cx="1092.8" cy="253.4" r="6.0"/><circle cx="1194.8" cy="260" r="6.0"/><circle cx="1065.2" cy="262.6" r="6.0"/><circle cx="1083.6" cy="262.6" r="6.0"/><circle cx="1093.3" cy="262.6" r="6.0"/><circle cx="1140.2" cy="262.6" r="6.0"/><circle cx="1168.3" cy="269.7" r="6.0"/><circle cx="1093.3" cy="271.8" r="6.0"/><circle cx="1130.5" cy="271.8" r="6.0"/><circle cx="1093.8" cy="279.9" r="6.0"/><circle cx="1150.4" cy="286.6" r="6.0"/><circle cx="1177.4" cy="286.6" r="6.0"/><circle cx="1084.6" cy="289.6" r="6.0"/><circle cx="1150.9" cy="295.2" r="6.0"/><circle cx="1169.3" cy="295.2" r="6.0"/><circle cx="1178.5" cy="295.2" r="6.0"/><circle cx="1187.7" cy="295.2" r="6.0"/><circle cx="1085.6" cy="297.8" r="6.0"/><circle cx="1103" cy="297.8" r="6.0"/><circle cx="1103.5" cy="307.5" r="6.0"/><circle cx="1104" cy="316.2" r="6.0"/><circle cx="1206" cy="321.8" r="6.0"/><circle cx="1105" cy="325.3" r="6.0"/><circle cx="1150.9" cy="332" r="6.0"/><circle cx="1206" cy="332" r="6.0"/><circle cx="1122.9" cy="333" r="6.0"/><circle cx="1196.8" cy="340.1" r="6.0"/><circle cx="1151.4" cy="341.7" r="6.0"/><circle cx="1161.1" cy="341.7" r="6.0"/><circle cx="1094.8" cy="343.2" r="6.0"/><circle cx="1113.7" cy="343.2" r="6.0"/><circle cx="1161.1" cy="348.8" r="6.0"/><circle cx="1170.3" cy="348.8" r="6.0"/><circle cx="1187.7" cy="348.8" r="6.0"/><circle cx="1105" cy="351.9" r="6.0"/><circle cx="1178.5" cy="358" r="6.0"/><circle cx="1207" cy="358" r="6.0"/><circle cx="1114.2" cy="360.6" r="6.0"/><circle cx="1214.2" cy="215.1" r="6.0"/><circle cx="1222.9" cy="215.1" r="6.0"/><circle cx="1361.1" cy="218.2" r="6.0"/><circle cx="1241.2" cy="222.3" r="6.0"/><circle cx="1334.1" cy="226.9" r="6.0"/><circle cx="1306.5" cy="228.9" r="6.0"/><circle cx="1334.6" cy="236.6" r="6.0"/><circle cx="1343.3" cy="236.6" r="6.0"/><circle cx="1361.6" cy="236.6" r="6.0"/><circle cx="1306.5" cy="238.1" r="6.0"/><circle cx="1260.6" cy="239.1" r="6.0"/><circle cx="1316.2" cy="246.8" r="6.0"/><circle cx="1251.4" cy="258.5" r="6.0"/><circle cx="1353" cy="263.1" r="6.0"/><circle cx="1335.1" cy="264.6" r="6.0"/><circle cx="1242.8" cy="266.7" r="6.0"/><circle cx="1233.1" cy="275.3" r="6.0"/><circle cx="1262.1" cy="275.3" r="6.0"/><circle cx="1325.9" cy="281.5" r="6.0"/><circle cx="1223.9" cy="286.1" r="6.0"/><circle cx="1233.6" cy="286.1" r="6.0"/><circle cx="1242.8" cy="286.1" r="6.0"/><circle cx="1252.4" cy="286.1" r="6.0"/><circle cx="1344.3" cy="289.6" r="6.0"/><circle cx="1325.9" cy="290.7" r="6.0"/><circle cx="1252.4" cy="301.4" r="6.0"/><circle cx="1261.6" cy="301.4" r="6.0"/><circle cx="1280.5" cy="301.4" r="6.0"/><circle cx="1308.1" cy="301.4" r="6.0"/><circle cx="1215.2" cy="304.4" r="6.0"/><circle cx="1317.2" cy="308.5" r="6.0"/><circle cx="1252.4" cy="311.6" r="6.0"/><circle cx="1243.8" cy="320.8" r="6.0"/><circle cx="1215.2" cy="321.8" r="6.0"/><circle cx="1308.6" cy="326.4" r="6.0"/><circle cx="1317.8" cy="326.4" r="6.0"/><circle cx="1281" cy="328.9" r="6.0"/><circle cx="1290.7" cy="328.9" r="6.0"/><circle cx="1290.2" cy="337.1" r="6.0"/><circle cx="1318.3" cy="337.1" r="6.0"/><circle cx="1299.4" cy="344.7" r="6.0"/><circle cx="1251.4" cy="346.8" r="6.0"/><circle cx="1216.7" cy="348.8" r="6.0"/><circle cx="1318.3" cy="354.4" r="6.0"/><circle cx="1281.5" cy="355.4" r="6.0"/><circle cx="1355" cy="362.1" r="6.0"/><circle cx="1319.8" cy="363.6" r="6.0"/><circle cx="1379.5" cy="217.2" r="6.0"/><circle cx="1435.1" cy="217.2" r="6.0"/><circle cx="1443.8" cy="217.2" r="6.0"/><circle cx="1398.9" cy="225.9" r="6.0"/><circle cx="1407.6" cy="225.9" r="6.0"/><circle cx="1435.1" cy="225.9" r="6.0"/><circle cx="1443.8" cy="225.9" r="6.0"/><circle cx="1362.1" cy="235" r="6.0"/><circle cx="1407.6" cy="235" r="6.0"/><circle cx="1444.8" cy="235" r="6.0"/><circle cx="1435.6" cy="243.7" r="6.0"/><circle cx="1445.3" cy="243.7" r="6.0"/><circle cx="1435.6" cy="251.9" r="6.0"/><circle cx="1445.3" cy="251.9" r="6.0"/><circle cx="1362.1" cy="253.9" r="6.0"/><circle cx="1371.3" cy="253.9" r="6.0"/><circle cx="1381" cy="253.9" r="6.0"/><circle cx="1407.6" cy="253.9" r="6.0"/><circle cx="1436.6" cy="261.1" r="6.0"/><circle cx="1445.3" cy="261.1" r="6.0"/><circle cx="1408.1" cy="269.2" r="6.0"/><circle cx="1436.6" cy="269.2" r="6.0"/><circle cx="1455.5" cy="269.2" r="6.0"/><circle cx="1400.9" cy="278.4" r="6.0"/><circle cx="1436.6" cy="278.4" r="6.0"/><circle cx="1445.8" cy="278.4" r="6.0"/><circle cx="1436.6" cy="287.1" r="6.0"/><circle cx="1445.8" cy="287.1" r="6.0"/><circle cx="1399.9" cy="288.6" r="6.0"/><circle cx="1426.9" cy="295.8" r="6.0"/><circle cx="1437.1" cy="295.8" r="6.0"/><circle cx="1400.9" cy="297.8" r="6.0"/><circle cx="1364.2" cy="306.5" r="6.0"/><circle cx="1390.7" cy="306.5" r="6.0"/><circle cx="1408.6" cy="315.1" r="6.0"/><circle cx="1428" cy="315.1" r="6.0"/><circle cx="1364.2" cy="316.7" r="6.0"/><circle cx="1427.4" cy="324.8" r="6.0"/><circle cx="1410.6" cy="333" r="6.0"/><circle cx="1428" cy="333" r="6.0"/><circle cx="1373.4" cy="335" r="6.0"/><circle cx="1383.1" cy="335" r="6.0"/><circle cx="1401.4" cy="341.7" r="6.0"/><circle cx="1410.1" cy="341.7" r="6.0"/><circle cx="1419.3" cy="341.7" r="6.0"/><circle cx="1364.2" cy="343.7" r="6.0"/><circle cx="1373.4" cy="343.7" r="6.0"/><circle cx="1382.6" cy="343.7" r="6.0"/><circle cx="1401.4" cy="351.9" r="6.0"/><circle cx="1373.4" cy="352.4" r="6.0"/><circle cx="1382.6" cy="352.4" r="6.0"/><circle cx="1392.8" cy="361.1" r="6.0"/><circle cx="1094.8" cy="370.8" r="6.0"/><circle cx="1114.2" cy="370.8" r="6.0"/><circle cx="1207" cy="370.8" r="6.0"/><circle cx="1095.8" cy="379.4" r="6.0"/><circle cx="1170.8" cy="386.1" r="6.0"/><circle cx="1096.8" cy="388.1" r="6.0"/><circle cx="1114.2" cy="388.1" r="6.0"/><circle cx="1161.6" cy="395.2" r="6.0"/><circle cx="1114.7" cy="396.8" r="6.0"/><circle cx="1124.4" cy="396.8" r="6.0"/><circle cx="1133.6" cy="396.8" r="6.0"/><circle cx="1161.6" cy="403.9" r="6.0"/><circle cx="1125.4" cy="405.4" r="6.0"/><circle cx="1133.6" cy="405.4" r="6.0"/><circle cx="1208.1" cy="412.1" r="6.0"/><circle cx="1144.3" cy="413.6" r="6.0"/><circle cx="1171.3" cy="413.6" r="6.0"/><circle cx="1180.5" cy="413.6" r="6.0"/><circle cx="1199.4" cy="420.2" r="6.0"/><circle cx="1208.6" cy="420.2" r="6.0"/><circle cx="1163.2" cy="422.3" r="6.0"/><circle cx="1181" cy="422.3" r="6.0"/><circle cx="1198.9" cy="429.9" r="6.0"/><circle cx="1208.6" cy="429.9" r="6.0"/><circle cx="1153.5" cy="431" r="6.0"/><circle cx="1162.7" cy="431" r="6.0"/><circle cx="1172.3" cy="431" r="6.0"/><circle cx="1198.9" cy="438.6" r="6.0"/><circle cx="1208.6" cy="438.6" r="6.0"/><circle cx="1154" cy="439.6" r="6.0"/><circle cx="1172.3" cy="439.6" r="6.0"/><circle cx="1172.3" cy="448.8" r="6.0"/><circle cx="1181.5" cy="448.8" r="6.0"/><circle cx="1155" cy="459" r="6.0"/><circle cx="1181.5" cy="459" r="6.0"/><circle cx="1191.2" cy="466.2" r="6.0"/><circle cx="1235.6" cy="366.7" r="6.0"/><circle cx="1356" cy="379.4" r="6.0"/><circle cx="1226.4" cy="384.5" r="6.0"/><circle cx="1291.7" cy="390.7" r="6.0"/><circle cx="1300.9" cy="398.8" r="6.0"/><circle cx="1310.1" cy="398.8" r="6.0"/><circle cx="1329.5" cy="398.8" r="6.0"/><circle cx="1338.7" cy="398.8" r="6.0"/><circle cx="1346.8" cy="398.8" r="6.0"/><circle cx="1356" cy="398.8" r="6.0"/><circle cx="1236.6" cy="401.9" r="6.0"/><circle cx="1246.3" cy="401.9" r="6.0"/><circle cx="1283.1" cy="401.9" r="6.0"/><circle cx="1329.5" cy="407.5" r="6.0"/><circle cx="1337.7" cy="407.5" r="6.0"/><circle cx="1245.8" cy="410" r="6.0"/><circle cx="1255" cy="410" r="6.0"/><circle cx="1357" cy="415.7" r="6.0"/><circle cx="1217.8" cy="420.2" r="6.0"/><circle cx="1311.6" cy="425.9" r="6.0"/><circle cx="1320.3" cy="425.9" r="6.0"/><circle cx="1217.8" cy="429.4" r="6.0"/><circle cx="1218.3" cy="438.1" r="6.0"/><circle cx="1284.6" cy="445.2" r="6.0"/><circle cx="1301.9" cy="452.9" r="6.0"/><circle cx="1218.3" cy="456" r="6.0"/><circle cx="1246.8" cy="456" r="6.0"/><circle cx="1311.1" cy="461.1" r="6.0"/><circle cx="1364.7" cy="370.2" r="6.0"/><circle cx="1392.8" cy="370.2" r="6.0"/><circle cx="1402.4" cy="370.2" r="6.0"/><circle cx="1365.2" cy="379.4" r="6.0"/><circle cx="1410.6" cy="379.4" r="6.0"/><circle cx="1401.9" cy="387.1" r="6.0"/><circle cx="1410.6" cy="387.1" r="6.0"/><circle cx="1384.6" cy="396.3" r="6.0"/><circle cx="1366.2" cy="414.1" r="6.0"/><circle cx="1375.9" cy="414.1" r="6.0"/><circle cx="1403" cy="414.1" r="6.0"/></g></defs><defs><g id="p19"><circle cx="1125.4" cy="66.2" r="6.0"/><circle cx="1136.6" cy="66.2" r="6.0"/><circle cx="1145.3" cy="66.2" r="6.0"/><circle cx="1107.6" cy="74.9" r="6.0"/><circle cx="1125.4" cy="74.9" r="6.0"/><circle cx="1136.1" cy="74.9" r="6.0"/><circle cx="1154" cy="74.9" r="6.0"/><circle cx="1163.7" cy="74.9" r="6.0"/><circle cx="1116.7" cy="83.6" r="6.0"/><circle cx="1163.7" cy="83.6" r="6.0"/><circle cx="1172.3" cy="83.6" r="6.0"/><circle cx="1117.2" cy="92.8" r="6.0"/><circle cx="1126.4" cy="92.8" r="6.0"/><circle cx="1182.6" cy="92.8" r="6.0"/><circle cx="1191.2" cy="92.8" r="6.0"/><circle cx="1126.4" cy="100.9" r="6.0"/><circle cx="1136.1" cy="100.9" r="6.0"/><circle cx="1145.8" cy="100.9" r="6.0"/><circle cx="1191.2" cy="100.9" r="6.0"/><circle cx="1200.9" cy="100.9" r="6.0"/><circle cx="1210.6" cy="100.9" r="6.0"/><circle cx="1136.6" cy="118.8" r="6.0"/><circle cx="1192.2" cy="118.8" r="6.0"/><circle cx="1136.6" cy="127.4" r="6.0"/><circle cx="1173.4" cy="127.4" r="6.0"/><circle cx="1201.4" cy="127.4" r="6.0"/><circle cx="1136.6" cy="136.6" r="6.0"/><circle cx="1211.1" cy="136.6" r="6.0"/><circle cx="1099.4" cy="144.8" r="6.0"/><circle cx="1118.8" cy="144.8" r="6.0"/><circle cx="1136.1" cy="144.8" r="6.0"/><circle cx="1191.2" cy="144.8" r="6.0"/><circle cx="1109.1" cy="154.5" r="6.0"/><circle cx="1118.8" cy="154.5" r="6.0"/><circle cx="1127.4" cy="154.5" r="6.0"/><circle cx="1192.2" cy="154.5" r="6.0"/><circle cx="1202.4" cy="154.5" r="6.0"/><circle cx="1110.1" cy="163.2" r="6.0"/><circle cx="1128" cy="163.2" r="6.0"/><circle cx="1147.3" cy="163.2" r="6.0"/><circle cx="1192.8" cy="163.2" r="6.0"/><circle cx="1137.7" cy="189.7" r="6.0"/><circle cx="1212.7" cy="189.7" r="6.0"/><circle cx="1138.2" cy="199.4" r="6.0"/><circle cx="1184.6" cy="199.4" r="6.0"/><circle cx="1193.8" cy="199.4" r="6.0"/><circle cx="1204" cy="199.4" r="6.0"/><circle cx="1083.1" cy="208.1" r="6.0"/><circle cx="1100.9" cy="208.1" r="6.0"/><circle cx="1110.6" cy="208.1" r="6.0"/><circle cx="1120.3" cy="208.1" r="6.0"/><circle cx="1138.7" cy="208.1" r="6.0"/><circle cx="1193.8" cy="208.1" r="6.0"/><circle cx="1212.1" cy="208.1" r="6.0"/><circle cx="1284.6" cy="87.7" r="6.0"/><circle cx="1303" cy="87.7" r="6.0"/><circle cx="1275.4" cy="96.3" r="6.0"/><circle cx="1283.6" cy="96.3" r="6.0"/><circle cx="1303" cy="96.3" r="6.0"/><circle cx="1331.5" cy="96.3" r="6.0"/><circle cx="1284.6" cy="105" r="6.0"/><circle cx="1348.9" cy="105" r="6.0"/><circle cx="1358.1" cy="105" r="6.0"/><circle cx="1275.4" cy="113.7" r="6.0"/><circle cx="1312.1" cy="121.8" r="6.0"/><circle cx="1331.5" cy="121.8" r="6.0"/><circle cx="1230.5" cy="125.4" r="6.0"/><circle cx="1248.9" cy="133.1" r="6.0"/><circle cx="1304" cy="133.1" r="6.0"/><circle cx="1220.3" cy="134.1" r="6.0"/><circle cx="1248.9" cy="141.7" r="6.0"/><circle cx="1258.1" cy="141.7" r="6.0"/><circle cx="1267.2" cy="141.7" r="6.0"/><circle cx="1294.3" cy="141.7" r="6.0"/><circle cx="1322.3" cy="141.7" r="6.0"/><circle cx="1331.5" cy="141.7" r="6.0"/><circle cx="1258.1" cy="150.4" r="6.0"/><circle cx="1332.6" cy="150.4" r="6.0"/><circle cx="1220.3" cy="160.6" r="6.0"/><circle cx="1350.9" cy="173.9" r="6.0"/><circle cx="1222.9" cy="179.5" r="6.0"/><circle cx="1350.9" cy="182.6" r="6.0"/><circle cx="1221.8" cy="187.7" r="6.0"/><circle cx="1350.9" cy="192.2" r="6.0"/><circle cx="1360.1" cy="192.2" r="6.0"/><circle cx="1340.7" cy="201.4" r="6.0"/><circle cx="1350.9" cy="201.4" r="6.0"/><circle cx="1360.1" cy="201.4" r="6.0"/><circle cx="1221.8" cy="205" r="6.0"/><circle cx="1231.5" cy="205" r="6.0"/><circle cx="1421.3" cy="64.7" r="6.0"/><circle cx="1403" cy="73.9" r="6.0"/><circle cx="1412.1" cy="73.9" r="6.0"/><circle cx="1421.8" cy="73.9" r="6.0"/><circle cx="1431" cy="73.9" r="6.0"/><circle cx="1385.1" cy="83.1" r="6.0"/><circle cx="1421.3" cy="83.1" r="6.0"/><circle cx="1430.5" cy="83.1" r="6.0"/><circle cx="1366.2" cy="92.2" r="6.0"/><circle cx="1375.9" cy="92.2" r="6.0"/><circle cx="1421.3" cy="92.2" r="6.0"/><circle cx="1367.2" cy="100.9" r="6.0"/><circle cx="1431.5" cy="100.9" r="6.0"/><circle cx="1367.8" cy="119.8" r="6.0"/><circle cx="1377.4" cy="119.8" r="6.0"/><circle cx="1422.3" cy="127.4" r="6.0"/><circle cx="1367.8" cy="128.5" r="6.0"/><circle cx="1376.9" cy="128.5" r="6.0"/><circle cx="1386.1" cy="128.5" r="6.0"/><circle cx="1396.3" cy="128.5" r="6.0"/><circle cx="1387.7" cy="136.1" r="6.0"/><circle cx="1433.1" cy="144.3" r="6.0"/><circle cx="1406" cy="153.5" r="6.0"/><circle cx="1397.3" cy="180.5" r="6.0"/><circle cx="1378.5" cy="191.7" r="6.0"/><circle cx="1388.7" cy="191.7" r="6.0"/><circle cx="1369.8" cy="199.9" r="6.0"/><circle cx="1204" cy="215.7" r="6.0"/><circle cx="1092.2" cy="217.7" r="6.0"/><circle cx="1101.4" cy="217.7" r="6.0"/><circle cx="1139.7" cy="217.7" r="6.0"/><circle cx="1167.2" cy="223.3" r="6.0"/><circle cx="1194.8" cy="223.3" r="6.0"/><circle cx="1082" cy="226.4" r="6.0"/><circle cx="1101.4" cy="226.4" r="6.0"/><circle cx="1130" cy="226.4" r="6.0"/><circle cx="1167.2" cy="232.5" r="6.0"/><circle cx="1194.8" cy="232.5" r="6.0"/><circle cx="1204" cy="232.5" r="6.0"/><circle cx="1082.6" cy="235" r="6.0"/><circle cx="1101.9" cy="235" r="6.0"/><circle cx="1130" cy="235" r="6.0"/><circle cx="1139.7" cy="235" r="6.0"/><circle cx="1194.8" cy="242.2" r="6.0"/><circle cx="1082.6" cy="244.2" r="6.0"/><circle cx="1092.8" cy="244.2" r="6.0"/><circle cx="1130" cy="244.2" r="6.0"/><circle cx="1139.7" cy="244.2" r="6.0"/><circle cx="1204.5" cy="250.3" r="6.0"/><circle cx="1084.1" cy="253.4" r="6.0"/><circle cx="1130.5" cy="253.4" r="6.0"/><circle cx="1139.7" cy="253.4" r="6.0"/><circle cx="1159.1" cy="260" r="6.0"/><circle cx="1168.3" cy="260" r="6.0"/><circle cx="1204.5" cy="260" r="6.0"/><circle cx="1121.3" cy="262.6" r="6.0"/><circle cx="1130.5" cy="262.6" r="6.0"/><circle cx="1205" cy="268.2" r="6.0"/><circle cx="1159.1" cy="269.7" r="6.0"/><circle cx="1065.2" cy="271.8" r="6.0"/><circle cx="1084.1" cy="271.8" r="6.0"/><circle cx="1120.8" cy="271.8" r="6.0"/><circle cx="1140.2" cy="271.8" r="6.0"/><circle cx="1149.9" cy="277.9" r="6.0"/><circle cx="1159.6" cy="277.9" r="6.0"/><circle cx="1168.8" cy="277.9" r="6.0"/><circle cx="1084.6" cy="279.9" r="6.0"/><circle cx="1131.5" cy="279.9" r="6.0"/><circle cx="1140.7" cy="279.9" r="6.0"/><circle cx="1131.5" cy="286.6" r="6.0"/><circle cx="1140.2" cy="286.6" r="6.0"/><circle cx="1168.8" cy="286.6" r="6.0"/><circle cx="1186.6" cy="286.6" r="6.0"/><circle cx="1140.7" cy="295.2" r="6.0"/><circle cx="1196.3" cy="295.2" r="6.0"/><circle cx="1150.9" cy="303.9" r="6.0"/><circle cx="1178.5" cy="303.9" r="6.0"/><circle cx="1076.4" cy="307.5" r="6.0"/><circle cx="1150.9" cy="313.1" r="6.0"/><circle cx="1160.1" cy="313.1" r="6.0"/><circle cx="1076.4" cy="316.2" r="6.0"/><circle cx="1196.8" cy="321.8" r="6.0"/><circle cx="1150.9" cy="323.8" r="6.0"/><circle cx="1160.1" cy="323.8" r="6.0"/><circle cx="1094.3" cy="325.3" r="6.0"/><circle cx="1160.1" cy="332" r="6.0"/><circle cx="1196.8" cy="332" r="6.0"/><circle cx="1113.7" cy="333" r="6.0"/><circle cx="1094.3" cy="334.5" r="6.0"/><circle cx="1206" cy="340.1" r="6.0"/><circle cx="1169.8" cy="341.7" r="6.0"/><circle cx="1105" cy="343.2" r="6.0"/><circle cx="1196.8" cy="348.8" r="6.0"/><circle cx="1206" cy="348.8" r="6.0"/><circle cx="1086.1" cy="351.9" r="6.0"/><circle cx="1094.8" cy="351.9" r="6.0"/><circle cx="1113.7" cy="351.9" r="6.0"/><circle cx="1187.7" cy="358" r="6.0"/><circle cx="1196.8" cy="358" r="6.0"/><circle cx="1085.6" cy="360.6" r="6.0"/><circle cx="1094.8" cy="360.6" r="6.0"/><circle cx="1105" cy="360.6" r="6.0"/><circle cx="1231.5" cy="215.1" r="6.0"/><circle cx="1333.6" cy="218.2" r="6.0"/><circle cx="1342.8" cy="218.2" r="6.0"/><circle cx="1232" cy="222.3" r="6.0"/><circle cx="1241.2" cy="231" r="6.0"/><circle cx="1251.9" cy="231" r="6.0"/><circle cx="1325.4" cy="236.6" r="6.0"/><circle cx="1307" cy="246.8" r="6.0"/><circle cx="1251.4" cy="248.3" r="6.0"/><circle cx="1260.6" cy="248.3" r="6.0"/><circle cx="1315.7" cy="255.4" r="6.0"/><circle cx="1325.9" cy="255.4" r="6.0"/><circle cx="1214.2" cy="258.5" r="6.0"/><circle cx="1223.4" cy="258.5" r="6.0"/><circle cx="1242.8" cy="258.5" r="6.0"/><circle cx="1325.4" cy="264.6" r="6.0"/><circle cx="1325.9" cy="272.3" r="6.0"/><circle cx="1335.1" cy="272.3" r="6.0"/><circle cx="1242.8" cy="275.3" r="6.0"/><circle cx="1252.4" cy="275.3" r="6.0"/><circle cx="1317.2" cy="281.5" r="6.0"/><circle cx="1335.6" cy="281.5" r="6.0"/><circle cx="1215.2" cy="286.1" r="6.0"/><circle cx="1353.5" cy="289.6" r="6.0"/><circle cx="1243.8" cy="293.2" r="6.0"/><circle cx="1223.9" cy="294.7" r="6.0"/><circle cx="1271.3" cy="301.4" r="6.0"/><circle cx="1290.7" cy="301.4" r="6.0"/><circle cx="1299.4" cy="301.4" r="6.0"/><circle cx="1317.2" cy="301.4" r="6.0"/><circle cx="1326.9" cy="308.5" r="6.0"/><circle cx="1243.3" cy="311.6" r="6.0"/><circle cx="1263.2" cy="311.6" r="6.0"/><circle cx="1215.2" cy="313.1" r="6.0"/><circle cx="1335.6" cy="317.7" r="6.0"/><circle cx="1326.4" cy="326.4" r="6.0"/><circle cx="1262.7" cy="328.9" r="6.0"/><circle cx="1271.3" cy="328.9" r="6.0"/><circle cx="1280.5" cy="337.1" r="6.0"/><circle cx="1299.4" cy="337.1" r="6.0"/><circle cx="1309.1" cy="337.1" r="6.0"/><circle cx="1318.3" cy="344.7" r="6.0"/><circle cx="1327.4" cy="344.7" r="6.0"/><circle cx="1337.7" cy="344.7" r="6.0"/><circle cx="1262.1" cy="346.8" r="6.0"/><circle cx="1225.4" cy="348.8" r="6.0"/><circle cx="1234.6" cy="348.8" r="6.0"/><circle cx="1355" cy="352.9" r="6.0"/><circle cx="1308.6" cy="354.4" r="6.0"/><circle cx="1328.5" cy="354.4" r="6.0"/><circle cx="1262.1" cy="355.4" r="6.0"/><circle cx="1271.8" cy="355.4" r="6.0"/><circle cx="1346.3" cy="362.1" r="6.0"/><circle cx="1290.7" cy="363.6" r="6.0"/><circle cx="1299.4" cy="363.6" r="6.0"/><circle cx="1309.1" cy="363.6" r="6.0"/><circle cx="1370.3" cy="217.2" r="6.0"/><circle cx="1398.9" cy="217.2" r="6.0"/><circle cx="1407.6" cy="217.2" r="6.0"/><circle cx="1370.8" cy="225.9" r="6.0"/><circle cx="1380" cy="225.9" r="6.0"/><circle cx="1379.5" cy="235" r="6.0"/><circle cx="1398.9" cy="235" r="6.0"/><circle cx="1435.6" cy="235" r="6.0"/><circle cx="1380.5" cy="243.7" r="6.0"/><circle cx="1398.9" cy="243.7" r="6.0"/><circle cx="1407.6" cy="243.7" r="6.0"/><circle cx="1371.3" cy="263.1" r="6.0"/><circle cx="1408.1" cy="263.1" r="6.0"/><circle cx="1408.1" cy="278.4" r="6.0"/><circle cx="1363.2" cy="288.6" r="6.0"/><circle cx="1371.8" cy="288.6" r="6.0"/><circle cx="1381" cy="288.6" r="6.0"/><circle cx="1390.7" cy="288.6" r="6.0"/><circle cx="1408.1" cy="288.6" r="6.0"/><circle cx="1408.6" cy="306.5" r="6.0"/><circle cx="1427.4" cy="306.5" r="6.0"/><circle cx="1418.3" cy="315.1" r="6.0"/><circle cx="1372.9" cy="316.7" r="6.0"/><circle cx="1418.3" cy="324.8" r="6.0"/><circle cx="1373.4" cy="325.9" r="6.0"/><circle cx="1382.6" cy="325.9" r="6.0"/><circle cx="1401.4" cy="333" r="6.0"/><circle cx="1418.8" cy="333" r="6.0"/><circle cx="1410.6" cy="351.9" r="6.0"/><circle cx="1364.2" cy="352.4" r="6.0"/><circle cx="1364.2" cy="361.1" r="6.0"/><circle cx="1373.9" cy="361.1" r="6.0"/><circle cx="1105" cy="370.8" r="6.0"/><circle cx="1187.7" cy="370.8" r="6.0"/><circle cx="1207" cy="376.4" r="6.0"/><circle cx="1105" cy="379.4" r="6.0"/><circle cx="1114.2" cy="379.4" r="6.0"/><circle cx="1124.4" cy="379.4" r="6.0"/><circle cx="1162.1" cy="386.1" r="6.0"/><circle cx="1105" cy="388.1" r="6.0"/><circle cx="1124.9" cy="388.1" r="6.0"/><circle cx="1190.2" cy="393.7" r="6.0"/><circle cx="1171.3" cy="395.2" r="6.0"/><circle cx="1189.7" cy="402.9" r="6.0"/><circle cx="1171.3" cy="403.9" r="6.0"/><circle cx="1162.1" cy="413.6" r="6.0"/><circle cx="1216.2" cy="366.7" r="6.0"/><circle cx="1226.4" cy="366.7" r="6.0"/><circle cx="1245.3" cy="366.7" r="6.0"/><circle cx="1291.7" cy="373.3" r="6.0"/><circle cx="1300.4" cy="373.3" r="6.0"/><circle cx="1216.7" cy="376.4" r="6.0"/><circle cx="1226.4" cy="376.4" r="6.0"/><circle cx="1346.8" cy="379.4" r="6.0"/><circle cx="1291.7" cy="381.5" r="6.0"/><circle cx="1216.7" cy="384.5" r="6.0"/><circle cx="1300.4" cy="390.7" r="6.0"/><circle cx="1291.7" cy="398.8" r="6.0"/><circle cx="1319.3" cy="398.8" r="6.0"/><circle cx="1226.9" cy="401.9" r="6.0"/><circle cx="1255.5" cy="401.9" r="6.0"/><circle cx="1264.2" cy="401.9" r="6.0"/><circle cx="1273.9" cy="401.9" r="6.0"/><circle cx="1374.4" cy="370.2" r="6.0"/></g></defs><g filter="url(#hz4)" fill="#1268ec" opacity="0.5"><use href="#p15"/><use href="#p16"/><use href="#p17"/><use href="#p18"/><use href="#p19"/></g><use href="#p15" fill="url(#gq1)"/><use href="#p16" fill="url(#gq2)"/><use href="#p17" fill="url(#gq3)"/><use href="#p18" fill="url(#gq4)"/><use href="#p19" fill="url(#gq5)"/><path d="M1039,449 C1052,460 1068,478 1075,492 C1079,500 1080,507 1080,512" fill="none" stroke="#1e8cff" stroke-width="2.6" opacity="0.9"/><rect x="501" y="493.8" width="39.7" height="9.6" fill="#fff"/><text x="488.5" y="483" font-size="29.4" text-anchor="start" font-weight="normal" fill="#fff" >4 <tspan font-family="Liberation Serif, serif" font-size="0.95em">&#956;</tspan>m</text><rect x="968" y="251" width="50" height="10" fill="#fff"/><text x="960.5" y="241" font-size="29.4" text-anchor="start" font-weight="normal" fill="#fff" >4 <tspan font-family="Liberation Serif, serif" font-size="0.95em">&#956;</tspan>m</text><rect x="747" y="495" width="34.6" height="9.4" fill="#fff"/><text x="732" y="486" font-size="29.4" text-anchor="start" font-weight="normal" fill="#fff" >4 <tspan font-family="Liberation Serif, serif" font-size="0.95em">&#956;</tspan>m</text><rect x="972.2" y="494" width="48.6" height="9.4" fill="#fff"/><text x="964.5" y="484.6" font-size="29.4" text-anchor="start" font-weight="normal" fill="#fff" >4 <tspan font-family="Liberation Serif, serif" font-size="0.95em">&#956;</tspan>m</text><rect x="1457.2" y="493" width="39.8" height="10" fill="#fff"/><text x="1445.5" y="482" font-size="29.4" text-anchor="start" font-weight="normal" fill="#fff" >4 <tspan font-family="Liberation Serif, serif" font-size="0.95em">&#956;</tspan>m</text><rect x="1535" y="40" width="19" height="14.4" fill="#eaffff"/><rect x="1535" y="53.8" width="19" height="14.4" fill="#ddffff"/><rect x="1535" y="67.7" width="19" height="14.4" fill="#d0ffff"/><rect x="1535" y="81.5" width="19" height="14.4" fill="#c3ffff"/><rect x="1535" y="95.4" width="19" height="14.4" fill="#b4ffff"/><rect x="1535" y="109.2" width="19" height="14.4" fill="#a0feff"/><rect x="1535" y="123" width="19" height="14.4" fill="#8dfdff"/><rect x="1535" y="136.9" width="19" height="14.4" fill="#76f4ff"/><rect x="1535" y="150.7" width="19" height="14.4" fill="#5adeff"/><rect x="1535" y="164.5" width="19" height="14.4" fill="#46cbff"/><rect x="1535" y="178.4" width="19" height="14.4" fill="#38b8ff"/><rect x="1535" y="192.2" width="19" height="14.4" fill="#29a6ff"/><rect x="1535" y="206.1" width="19" height="14.4" fill="#1f9aff"/><rect x="1535" y="219.9" width="19" height="14.4" fill="#158fff"/><rect x="1535" y="233.7" width="19" height="14.4" fill="#0b83ff"/><rect x="1535" y="247.6" width="19" height="14.4" fill="#0572f2"/><rect x="1535" y="261.4" width="19" height="14.4" fill="#0062e4"/><rect x="1535" y="275.2" width="19" height="14.4" fill="#0054d8"/><rect x="1535" y="289.1" width="19" height="14.4" fill="#0047cc"/><rect x="1535" y="302.9" width="19" height="14.4" fill="#003ac1"/><rect x="1535" y="316.8" width="19" height="14.4" fill="#002eb3"/><rect x="1535" y="330.6" width="19" height="14.4" fill="#0022a4"/><rect x="1535" y="344.4" width="19" height="14.4" fill="#001695"/><rect x="1535" y="358.3" width="19" height="14.4" fill="#000d87"/><rect x="1535" y="372.1" width="19" height="14.4" fill="#00067b"/><rect x="1535" y="386" width="19" height="14.4" fill="#00006e"/><rect x="1535" y="399.8" width="19" height="14.4" fill="#00005f"/><rect x="1535" y="413.6" width="19" height="14.4" fill="#000051"/><rect x="1535" y="427.5" width="19" height="14.4" fill="#000042"/><rect x="1535" y="441.3" width="19" height="14.4" fill="#000033"/><rect x="1535" y="455.1" width="19" height="14.4" fill="#000028"/><rect x="1535" y="469" width="19" height="14.4" fill="#000020"/><rect x="1535" y="482.8" width="19" height="14.4" fill="#000018"/><rect x="1535" y="496.7" width="19" height="14.4" fill="#000010"/><rect x="1535.9" y="40.9" width="17.2" height="468.7" fill="none" stroke="#000" stroke-width="1.8"/><line x1="1554" y1="40.9" x2="1562.5" y2="40.9" stroke="#000" stroke-width="1.8"/><line x1="1554" y1="509.6" x2="1562.5" y2="509.6" stroke="#000" stroke-width="1.8"/><text x="1574" y="48.5" font-size="29.4" text-anchor="start" font-weight="normal" fill="#000" >1</text><text x="1574" y="518.5" font-size="29.4" text-anchor="start" font-weight="normal" fill="#000" >0</text><text transform="translate(1594,278) rotate(90)" font-size="29.4" text-anchor="middle" >Normalized PL intensity</text><rect x="101.2" y="625" width="15" height="30.4" fill="#000010"/><rect x="115.6" y="625" width="15" height="30.4" fill="#000018"/><rect x="130.1" y="625" width="15" height="30.4" fill="#000020"/><rect x="144.5" y="625" width="15" height="30.4" fill="#000028"/><rect x="159" y="625" width="15" height="30.4" fill="#000033"/><rect x="173.4" y="625" width="15" height="30.4" fill="#000042"/><rect x="187.9" y="625" width="15" height="30.4" fill="#000051"/><rect x="202.3" y="625" width="15" height="30.4" fill="#00005f"/><rect x="216.8" y="625" width="15" height="30.4" fill="#00006e"/><rect x="231.2" y="625" width="15" height="30.4" fill="#00067b"/><rect x="245.7" y="625" width="15" height="30.4" fill="#000d87"/><rect x="260.1" y="625" width="15" height="30.4" fill="#001695"/><rect x="274.6" y="625" width="15" height="30.4" fill="#0022a4"/><rect x="289" y="625" width="15" height="30.4" fill="#002eb3"/><rect x="303.5" y="625" width="15" height="30.4" fill="#003ac1"/><rect x="317.9" y="625" width="15" height="30.4" fill="#0047cc"/><rect x="332.4" y="625" width="15" height="30.4" fill="#0054d8"/><rect x="346.8" y="625" width="15" height="30.4" fill="#0062e4"/><rect x="361.2" y="625" width="15" height="30.4" fill="#0572f2"/><rect x="375.7" y="625" width="15" height="30.4" fill="#0b83ff"/><rect x="390.1" y="625" width="15" height="30.4" fill="#158fff"/><rect x="404.6" y="625" width="15" height="30.4" fill="#1f9aff"/><rect x="419" y="625" width="15" height="30.4" fill="#29a6ff"/><rect x="433.5" y="625" width="15" height="30.4" fill="#38b8ff"/><rect x="447.9" y="625" width="15" height="30.4" fill="#46cbff"/><rect x="462.4" y="625" width="15" height="30.4" fill="#5adeff"/><rect x="476.8" y="625" width="15" height="30.4" fill="#76f4ff"/><rect x="491.3" y="625" width="15" height="30.4" fill="#8dfdff"/><rect x="505.7" y="625" width="15" height="30.4" fill="#a0feff"/><rect x="520.2" y="625" width="15" height="30.4" fill="#b4ffff"/><rect x="534.6" y="625" width="15" height="30.4" fill="#c3ffff"/><rect x="549.1" y="625" width="15" height="30.4" fill="#d0ffff"/><rect x="563.5" y="625" width="15" height="30.4" fill="#ddffff"/><rect x="578" y="625" width="15" height="30.4" fill="#eaffff"/><rect x="102.1" y="625.9" width="489.4" height="28.6" fill="none" stroke="#000" stroke-width="1.8"/><line x1="102.1" y1="620" x2="102.1" y2="625" stroke="#000" stroke-width="1.8"/><line x1="591.5" y1="620" x2="591.5" y2="625" stroke="#000" stroke-width="1.8"/><text x="101.8" y="612" font-size="29.4" text-anchor="middle" font-weight="normal" fill="#000" >0</text><text x="591.5" y="612" font-size="29.4" text-anchor="middle" font-weight="normal" fill="#000" >1</text><text x="347" y="591.5" font-size="29.4" text-anchor="middle" font-weight="normal" fill="#000" >Normalized PL intensity</text><defs><linearGradient id="gbb" x1="0" y1="0" x2="0" y2="1"><stop offset="0" stop-color="#03118e"/><stop offset="0.45" stop-color="#020d84"/><stop offset="0.8" stop-color="#020a72"/><stop offset="1" stop-color="#01075e"/></linearGradient><radialGradient id="gbh"><stop offset="0" stop-color="#1438c8" stop-opacity="0.85"/><stop offset="1" stop-color="#1438c8" stop-opacity="0"/></radialGradient><clipPath id="cpb"><rect x="102" y="661" width="490" height="869"/></clipPath></defs><rect x="102" y="661" width="490" height="869" fill="url(#gbb)"/><defs><pattern id="pn1" x="102" y="661" width="109.2" height="109.2" patternUnits="userSpaceOnUse"><rect x="14.2" y="0" width="4.75" height="4.75" fill="#0a1ea8"/><rect x="23.8" y="0" width="4.75" height="4.75" fill="#0a1ea8"/><rect x="28.5" y="0" width="4.75" height="4.75" fill="#000448"/><rect x="38" y="0" width="4.75" height="4.75" fill="#0a1ea8"/><rect x="47.5" y="0" width="4.75" height="4.75" fill="#0a1ea8"/><rect x="52.2" y="0" width="4.75" height="4.75" fill="#000448"/><rect x="76" y="0" width="4.75" height="4.75" fill="#000448"/><rect x="90.2" y="0" width="4.75" height="4.75" fill="#0a1ea8"/><rect x="0" y="4.8" width="4.75" height="4.75" fill="#000448"/><rect x="9.5" y="4.8" width="4.75" height="4.75" fill="#000448"/><rect x="14.2" y="4.8" width="4.75" height="4.75" fill="#000448"/><rect x="19" y="4.8" width="4.75" height="4.75" fill="#0a1ea8"/><rect x="33.2" y="4.8" width="4.75" height="4.75" fill="#0a1ea8"/><rect x="38" y="4.8" width="4.75" height="4.75" fill="#0a1ea8"/><rect x="47.5" y="4.8" width="4.75" height="4.75" fill="#0a1ea8"/><rect x="66.5" y="4.8" width="4.75" height="4.75" fill="#0a1ea8"/><rect x="76" y="4.8" width="4.75" height="4.75" fill="#0a1ea8"/><rect x="80.8" y="4.8" width="4.75" height="4.75" fill="#0a1ea8"/><rect x="104.5" y="4.8" width="4.75" height="4.75" fill="#000448"/><rect x="9.5" y="9.5" width="4.75" height="4.75" fill="#000448"/><rect x="52.2" y="9.5" width="4.75" height="4.75" fill="#000448"/><rect x="57" y="9.5" width="4.75" height="4.75" fill="#0a1ea8"/><rect x="61.8" y="9.5" width="4.75" height="4.75" fill="#000448"/><rect x="76" y="9.5" width="4.75" height="4.75" fill="#000448"/><rect x="95" y="9.5" width="4.75" height="4.75" fill="#000448"/><rect x="99.8" y="9.5" width="4.75" height="4.75" fill="#000448"/><rect x="0" y="14.2" width="4.75" height="4.75" fill="#0a1ea8"/><rect x="14.2" y="14.2" width="4.75" height="4.75" fill="#0a1ea8"/><rect x="19" y="14.2" width="4.75" height="4.75" fill="#0a1ea8"/><rect x="42.8" y="14.2" width="4.75" height="4.75" fill="#000448"/><rect x="61.8" y="14.2" width="4.75" height="4.75" fill="#000448"/><rect x="66.5" y="14.2" width="4.75" height="4.75" fill="#0a1ea8"/><rect x="71.2" y="14.2" width="4.75" height="4.75" fill="#000448"/><rect x="85.5" y="14.2" width="4.75" height="4.75" fill="#0a1ea8"/><rect x="95" y="14.2" width="4.75" height="4.75" fill="#0a1ea8"/><rect x="9.5" y="19" width="4.75" height="4.75" fill="#000448"/><rect x="23.8" y="19" width="4.75" height="4.75" fill="#0a1ea8"/><rect x="33.2" y="19" width="4.75" height="4.75" fill="#000448"/><rect x="38" y="19" width="4.75" height="4.75" fill="#0a1ea8"/><rect x="76" y="19" width="4.75" height="4.75" fill="#000448"/><rect x="80.8" y="19" width="4.75" height="4.75" fill="#0a1ea8"/><rect x="85.5" y="19" width="4.75" height="4.75" fill="#000448"/><rect x="99.8" y="19" width="4.75" height="4.75" fill="#000448"/><rect x="0" y="23.8" width="4.75" height="4.75" fill="#0a1ea8"/><rect x="14.2" y="23.8" width="4.75" height="4.75" fill="#000448"/><rect x="42.8" y="23.8" width="4.75" height="4.75" fill="#0a1ea8"/><rect x="52.2" y="23.8" width="4.75" height="4.75" fill="#0a1ea8"/><rect x="95" y="23.8" width="4.75" height="4.75" fill="#0a1ea8"/><rect x="99.8" y="23.8" width="4.75" height="4.75" fill="#0a1ea8"/><rect x="9.5" y="28.5" width="4.75" height="4.75" fill="#000448"/><rect x="90.2" y="28.5" width="4.75" height="4.75" fill="#0a1ea8"/><rect x="104.5" y="28.5" width="4.75" height="4.75" fill="#000448"/><rect x="71.2" y="33.2" width="4.75" height="4.75" fill="#0a1ea8"/><rect x="76" y="33.2" width="4.75" height="4.75" fill="#0a1ea8"/><rect x="99.8" y="33.2" width="4.75" height="4.75" fill="#0a1ea8"/><rect x="57" y="38" width="4.75" height="4.75" fill="#000448"/><rect x="90.2" y="38" width="4.75" height="4.75" fill="#000448"/><rect x="104.5" y="38" width="4.75" height="4.75" fill="#000448"/><rect x="0" y="42.8" width="4.75" height="4.75" fill="#000448"/><rect x="19" y="42.8" width="4.75" height="4.75" fill="#000448"/><rect x="47.5" y="42.8" width="4.75" height="4.75" fill="#0a1ea8"/><rect x="52.2" y="42.8" width="4.75" height="4.75" fill="#000448"/><rect x="71.2" y="42.8" width="4.75" height="4.75" fill="#000448"/><rect x="85.5" y="42.8" width="4.75" height="4.75" fill="#000448"/><rect x="95" y="42.8" width="4.75" height="4.75" fill="#000448"/><rect x="4.8" y="47.5" width="4.75" height="4.75" fill="#0a1ea8"/><rect x="47.5" y="47.5" width="4.75" height="4.75" fill="#0a1ea8"/><rect x="52.2" y="47.5" width="4.75" height="4.75" fill="#0a1ea8"/><rect x="66.5" y="47.5" width="4.75" height="4.75" fill="#0a1ea8"/><rect x="71.2" y="47.5" width="4.75" height="4.75" fill="#000448"/><rect x="76" y="47.5" width="4.75" height="4.75" fill="#000448"/><rect x="99.8" y="47.5" width="4.75" height="4.75" fill="#0a1ea8"/><rect x="14.2" y="52.2" width="4.75" height="4.75" fill="#0a1ea8"/><rect x="23.8" y="52.2" width="4.75" height="4.75" fill="#0a1ea8"/><rect x="28.5" y="52.2" width="4.75" height="4.75" fill="#0a1ea8"/><rect x="42.8" y="52.2" width="4.75" height="4.75" fill="#0a1ea8"/><rect x="61.8" y="52.2" width="4.75" height="4.75" fill="#0a1ea8"/><rect x="80.8" y="52.2" width="4.75" height="4.75" fill="#000448"/><rect x="0" y="57" width="4.75" height="4.75" fill="#000448"/><rect x="14.2" y="57" width="4.75" height="4.75" fill="#0a1ea8"/><rect x="38" y="57" width="4.75" height="4.75" fill="#0a1ea8"/><rect x="71.2" y="57" width="4.75" height="4.75" fill="#000448"/><rect x="14.2" y="61.8" width="4.75" height="4.75" fill="#000448"/><rect x="28.5" y="61.8" width="4.75" height="4.75" fill="#0a1ea8"/><rect x="33.2" y="61.8" width="4.75" height="4.75" fill="#0a1ea8"/><rect x="42.8" y="61.8" width="4.75" height="4.75" fill="#000448"/><rect x="76" y="61.8" width="4.75" height="4.75" fill="#0a1ea8"/><rect x="0" y="66.5" width="4.75" height="4.75" fill="#000448"/><rect x="28.5" y="66.5" width="4.75" height="4.75" fill="#0a1ea8"/><rect x="71.2" y="66.5" width="4.75" height="4.75" fill="#000448"/><rect x="95" y="66.5" width="4.75" height="4.75" fill="#000448"/><rect x="104.5" y="66.5" width="4.75" height="4.75" fill="#0a1ea8"/><rect x="0" y="71.2" width="4.75" height="4.75" fill="#0a1ea8"/><rect x="9.5" y="71.2" width="4.75" height="4.75" fill="#000448"/><rect x="28.5" y="71.2" width="4.75" height="4.75" fill="#0a1ea8"/><rect x="38" y="71.2" width="4.75" height="4.75" fill="#000448"/><rect x="47.5" y="71.2" width="4.75" height="4.75" fill="#0a1ea8"/><rect x="76" y="71.2" width="4.75" height="4.75" fill="#000448"/><rect x="80.8" y="71.2" width="4.75" height="4.75" fill="#000448"/><rect x="90.2" y="71.2" width="4.75" height="4.75" fill="#000448"/><rect x="95" y="71.2" width="4.75" height="4.75" fill="#000448"/><rect x="0" y="76" width="4.75" height="4.75" fill="#0a1ea8"/><rect x="4.8" y="76" width="4.75" height="4.75" fill="#000448"/><rect x="28.5" y="76" width="4.75" height="4.75" fill="#0a1ea8"/><rect x="38" y="76" width="4.75" height="4.75" fill="#000448"/><rect x="61.8" y="76" width="4.75" height="4.75" fill="#0a1ea8"/><rect x="99.8" y="76" width="4.75" height="4.75" fill="#000448"/><rect x="23.8" y="80.8" width="4.75" height="4.75" fill="#000448"/><rect x="33.2" y="80.8" width="4.75" height="4.75" fill="#000448"/><rect x="38" y="80.8" width="4.75" height="4.75" fill="#000448"/><rect x="52.2" y="80.8" width="4.75" height="4.75" fill="#0a1ea8"/><rect x="71.2" y="80.8" width="4.75" height="4.75" fill="#000448"/><rect x="80.8" y="80.8" width="4.75" height="4.75" fill="#000448"/><rect x="90.2" y="80.8" width="4.75" height="4.75" fill="#0a1ea8"/><rect x="104.5" y="80.8" width="4.75" height="4.75" fill="#000448"/><rect x="0" y="85.5" width="4.75" height="4.75" fill="#0a1ea8"/><rect x="14.2" y="85.5" width="4.75" height="4.75" fill="#000448"/><rect x="52.2" y="85.5" width="4.75" height="4.75" fill="#000448"/><rect x="104.5" y="85.5" width="4.75" height="4.75" fill="#000448"/><rect x="0" y="90.2" width="4.75" height="4.75" fill="#000448"/><rect x="9.5" y="90.2" width="4.75" height="4.75" fill="#000448"/><rect x="14.2" y="90.2" width="4.75" height="4.75" fill="#0a1ea8"/><rect x="28.5" y="90.2" width="4.75" height="4.75" fill="#000448"/><rect x="38" y="90.2" width="4.75" height="4.75" fill="#0a1ea8"/><rect x="57" y="90.2" width="4.75" height="4.75" fill="#000448"/><rect x="80.8" y="90.2" width="4.75" height="4.75" fill="#0a1ea8"/><rect x="9.5" y="95" width="4.75" height="4.75" fill="#000448"/><rect x="14.2" y="95" width="4.75" height="4.75" fill="#0a1ea8"/><rect x="23.8" y="95" width="4.75" height="4.75" fill="#0a1ea8"/><rect x="42.8" y="95" width="4.75" height="4.75" fill="#0a1ea8"/><rect x="47.5" y="95" width="4.75" height="4.75" fill="#000448"/><rect x="80.8" y="95" width="4.75" height="4.75" fill="#000448"/><rect x="90.2" y="95" width="4.75" height="4.75" fill="#000448"/><rect x="99.8" y="95" width="4.75" height="4.75" fill="#0a1ea8"/><rect x="38" y="99.8" width="4.75" height="4.75" fill="#0a1ea8"/><rect x="52.2" y="99.8" width="4.75" height="4.75" fill="#0a1ea8"/><rect x="57" y="99.8" width="4.75" height="4.75" fill="#000448"/><rect x="61.8" y="99.8" width="4.75" height="4.75" fill="#000448"/><rect x="76" y="99.8" width="4.75" height="4.75" fill="#000448"/><rect x="85.5" y="99.8" width="4.75" height="4.75" fill="#0a1ea8"/><rect x="99.8" y="99.8" width="4.75" height="4.75" fill="#000448"/><rect x="104.5" y="99.8" width="4.75" height="4.75" fill="#000448"/><rect x="0" y="104.5" width="4.75" height="4.75" fill="#0a1ea8"/><rect x="9.5" y="104.5" width="4.75" height="4.75" fill="#0a1ea8"/><rect x="14.2" y="104.5" width="4.75" height="4.75" fill="#000448"/><rect x="23.8" y="104.5" width="4.75" height="4.75" fill="#000448"/><rect x="33.2" y="104.5" width="4.75" height="4.75" fill="#000448"/><rect x="52.2" y="104.5" width="4.75" height="4.75" fill="#000448"/><rect x="57" y="104.5" width="4.75" height="4.75" fill="#000448"/><rect x="61.8" y="104.5" width="4.75" height="4.75" fill="#0a1ea8"/><rect x="85.5" y="104.5" width="4.75" height="4.75" fill="#000448"/><rect x="95" y="104.5" width="4.75" height="4.75" fill="#000448"/><rect x="104.5" y="104.5" width="4.75" height="4.75" fill="#0a1ea8"/></pattern></defs><defs><pattern id="pn2" x="102" y="661" width="80.8" height="80.8" patternUnits="userSpaceOnUse"><rect x="19" y="0" width="4.75" height="4.75" fill="#000448"/><rect x="47.5" y="0" width="4.75" height="4.75" fill="#000448"/><rect x="14.2" y="9.5" width="4.75" height="4.75" fill="#000448"/><rect x="28.5" y="9.5" width="4.75" height="4.75" fill="#000448"/><rect x="71.2" y="9.5" width="4.75" height="4.75" fill="#000448"/><rect x="4.8" y="14.2" width="4.75" height="4.75" fill="#000448"/><rect x="57" y="14.2" width="4.75" height="4.75" fill="#0a1ea8"/><rect x="61.8" y="14.2" width="4.75" height="4.75" fill="#000448"/><rect x="4.8" y="19" width="4.75" height="4.75" fill="#0a1ea8"/><rect x="9.5" y="19" width="4.75" height="4.75" fill="#0a1ea8"/><rect x="23.8" y="19" width="4.75" height="4.75" fill="#0a1ea8"/><rect x="38" y="19" width="4.75" height="4.75" fill="#000448"/><rect x="9.5" y="23.8" width="4.75" height="4.75" fill="#0a1ea8"/><rect x="19" y="23.8" width="4.75" height="4.75" fill="#000448"/><rect x="71.2" y="23.8" width="4.75" height="4.75" fill="#000448"/><rect x="33.2" y="28.5" width="4.75" height="4.75" fill="#0a1ea8"/><rect x="76" y="28.5" width="4.75" height="4.75" fill="#000448"/><rect x="0" y="33.2" width="4.75" height="4.75" fill="#0a1ea8"/><rect x="9.5" y="33.2" width="4.75" height="4.75" fill="#0a1ea8"/><rect x="14.2" y="33.2" width="4.75" height="4.75" fill="#0a1ea8"/><rect x="23.8" y="33.2" width="4.75" height="4.75" fill="#000448"/><rect x="28.5" y="33.2" width="4.75" height="4.75" fill="#000448"/><rect x="47.5" y="33.2" width="4.75" height="4.75" fill="#0a1ea8"/><rect x="4.8" y="38" width="4.75" height="4.75" fill="#000448"/><rect x="61.8" y="38" width="4.75" height="4.75" fill="#000448"/><rect x="14.2" y="42.8" width="4.75" height="4.75" fill="#000448"/><rect x="47.5" y="42.8" width="4.75" height="4.75" fill="#0a1ea8"/><rect x="57" y="42.8" width="4.75" height="4.75" fill="#0a1ea8"/><rect x="61.8" y="42.8" width="4.75" height="4.75" fill="#000448"/><rect x="66.5" y="42.8" width="4.75" height="4.75" fill="#0a1ea8"/><rect x="14.2" y="47.5" width="4.75" height="4.75" fill="#000448"/><rect x="66.5" y="47.5" width="4.75" height="4.75" fill="#000448"/><rect x="28.5" y="52.2" width="4.75" height="4.75" fill="#000448"/><rect x="52.2" y="52.2" width="4.75" height="4.75" fill="#000448"/><rect x="71.2" y="52.2" width="4.75" height="4.75" fill="#000448"/><rect x="9.5" y="57" width="4.75" height="4.75" fill="#000448"/><rect x="28.5" y="57" width="4.75" height="4.75" fill="#000448"/><rect x="33.2" y="57" width="4.75" height="4.75" fill="#0a1ea8"/><rect x="42.8" y="57" width="4.75" height="4.75" fill="#0a1ea8"/><rect x="47.5" y="57" width="4.75" height="4.75" fill="#0a1ea8"/><rect x="14.2" y="61.8" width="4.75" height="4.75" fill="#0a1ea8"/><rect x="19" y="61.8" width="4.75" height="4.75" fill="#0a1ea8"/><rect x="76" y="61.8" width="4.75" height="4.75" fill="#0a1ea8"/><rect x="0" y="66.5" width="4.75" height="4.75" fill="#000448"/><rect x="14.2" y="66.5" width="4.75" height="4.75" fill="#000448"/><rect x="38" y="66.5" width="4.75" height="4.75" fill="#000448"/><rect x="57" y="66.5" width="4.75" height="4.75" fill="#0a1ea8"/><rect x="71.2" y="66.5" width="4.75" height="4.75" fill="#0a1ea8"/><rect x="4.8" y="71.2" width="4.75" height="4.75" fill="#0a1ea8"/></pattern></defs><rect x="102" y="661" width="490" height="869" fill="url(#pn1)" opacity="0.5"/><rect x="102" y="661" width="490" height="869" fill="url(#pn2)" opacity="0.4"/><ellipse cx="605" cy="800" rx="85" ry="230" fill="url(#gbh)" clip-path="url(#cpb)"/><defs><linearGradient id="gbl" x1="0" y1="0" x2="1" y2="0"><stop offset="0" stop-color="#000640" stop-opacity="0.45"/><stop offset="1" stop-color="#000640" stop-opacity="0"/></linearGradient></defs><rect x="102" y="661" width="110" height="869" fill="url(#gbl)"/><defs><filter id="pix" filterUnits="userSpaceOnUse" x="102" y="661" width="490" height="869" primitiveUnits="userSpaceOnUse"><feFlood x="104" y="663" width="1" height="1" flood-color="#fff"/><feComposite x="102" y="661" width="5" height="5"/><feTile result="t"/><feComposite in="SourceGraphic" in2="t" operator="in"/><feMorphology operator="dilate" radius="2"/></filter></defs><g filter="url(#pix)"><defs><radialGradient id="sp38"><stop offset="0" stop-color="#daffff"/><stop offset="0.28" stop-color="#c5ffff"/><stop offset="0.52" stop-color="#3dc0ff" stop-opacity="0.9"/><stop offset="0.78" stop-color="#0027aa" stop-opacity="0.45"/><stop offset="1" stop-color="#001796" stop-opacity="0"/></radialGradient></defs><circle cx="188.8" cy="720.3" r="21.4" fill="url(#sp38)"/><circle cx="271.4" cy="719.7" r="21.4" fill="url(#sp38)"/><circle cx="353.2" cy="719.1" r="21.4" fill="url(#sp38)"/><defs><radialGradient id="sp39"><stop offset="0" stop-color="#e5ffff"/><stop offset="0.28" stop-color="#cfffff"/><stop offset="0.52" stop-color="#44c8ff" stop-opacity="0.9"/><stop offset="0.78" stop-color="#0027aa" stop-opacity="0.45"/><stop offset="1" stop-color="#001796" stop-opacity="0"/></radialGradient></defs><circle cx="434.1" cy="719.2" r="21.4" fill="url(#sp39)"/><circle cx="517.5" cy="719.2" r="21.4" fill="url(#sp39)"/><circle cx="189.8" cy="802.6" r="21.4" fill="url(#sp38)"/><circle cx="271.1" cy="802.7" r="21.4" fill="url(#sp39)"/><circle cx="353.9" cy="801.3" r="21.4" fill="url(#sp38)"/><circle cx="434.2" cy="801.3" r="21.4" fill="url(#sp38)"/><defs><radialGradient id="sp40"><stop offset="0" stop-color="#f0ffff"/><stop offset="0.28" stop-color="#daffff"/><stop offset="0.52" stop-color="#4bd1ff" stop-opacity="0.9"/><stop offset="0.78" stop-color="#0027aa" stop-opacity="0.45"/><stop offset="1" stop-color="#001796" stop-opacity="0"/></radialGradient></defs><circle cx="516.2" cy="801.9" r="21.4" fill="url(#sp40)"/><circle cx="189.2" cy="883.5" r="21" fill="url(#sp38)"/><defs><radialGradient id="sp37"><stop offset="0" stop-color="#d0ffff"/><stop offset="0.28" stop-color="#b9ffff"/><stop offset="0.52" stop-color="#36b7ff" stop-opacity="0.9"/><stop offset="0.78" stop-color="#0027aa" stop-opacity="0.45"/><stop offset="1" stop-color="#001796" stop-opacity="0"/></radialGradient></defs><circle cx="270.4" cy="882.8" r="21" fill="url(#sp37)"/><circle cx="353.1" cy="883" r="21" fill="url(#sp38)"/><circle cx="434.9" cy="883" r="21" fill="url(#sp38)"/><circle cx="517.2" cy="882.9" r="21" fill="url(#sp39)"/><circle cx="189.6" cy="965.9" r="21" fill="url(#sp38)"/><circle cx="270.9" cy="966.1" r="21" fill="url(#sp39)"/><circle cx="353" cy="965.6" r="21" fill="url(#sp37)"/><circle cx="435" cy="964.2" r="21" fill="url(#sp37)"/><circle cx="517.3" cy="965.2" r="21" fill="url(#sp38)"/><defs><radialGradient id="sp32"><stop offset="0" stop-color="#87fcff"/><stop offset="0.28" stop-color="#5adeff"/><stop offset="0.52" stop-color="#1b95ff" stop-opacity="0.9"/><stop offset="0.78" stop-color="#0027aa" stop-opacity="0.45"/><stop offset="1" stop-color="#001796" stop-opacity="0"/></radialGradient></defs><circle cx="189.1" cy="1047.2" r="17.9" fill="url(#sp32)"/><defs><radialGradient id="sp31"><stop offset="0" stop-color="#72f1ff"/><stop offset="0.28" stop-color="#48ceff"/><stop offset="0.52" stop-color="#1690ff" stop-opacity="0.9"/><stop offset="0.78" stop-color="#0027aa" stop-opacity="0.45"/><stop offset="1" stop-color="#001796" stop-opacity="0"/></radialGradient></defs><circle cx="271.5" cy="1046.7" r="17.9" fill="url(#sp31)"/><circle cx="354.1" cy="1046.7" r="17.9" fill="url(#sp32)"/><circle cx="434.1" cy="1047.2" r="17.9" fill="url(#sp32)"/><circle cx="517.8" cy="1047.4" r="17.9" fill="url(#sp32)"/><defs><radialGradient id="sp26"><stop offset="0" stop-color="#25a1ff"/><stop offset="0.28" stop-color="#148eff"/><stop offset="0.52" stop-color="#046fef" stop-opacity="0.9"/><stop offset="0.78" stop-color="#0027aa" stop-opacity="0.45"/><stop offset="1" stop-color="#001796" stop-opacity="0"/></radialGradient></defs><circle cx="189.3" cy="1128.8" r="15.8" fill="url(#sp26)"/><defs><radialGradient id="sp25"><stop offset="0" stop-color="#1c97ff"/><stop offset="0.28" stop-color="#0c84ff"/><stop offset="0.52" stop-color="#0166e8" stop-opacity="0.9"/><stop offset="0.78" stop-color="#0027aa" stop-opacity="0.45"/><stop offset="1" stop-color="#001796" stop-opacity="0"/></radialGradient></defs><circle cx="271.2" cy="1127.8" r="15.8" fill="url(#sp25)"/><circle cx="352.3" cy="1129" r="15.8" fill="url(#sp25)"/><circle cx="434.5" cy="1128.3" r="15.8" fill="url(#sp26)"/><defs><radialGradient id="sp27"><stop offset="0" stop-color="#30aeff"/><stop offset="0.28" stop-color="#1c97ff"/><stop offset="0.52" stop-color="#0677f6" stop-opacity="0.9"/><stop offset="0.78" stop-color="#0027aa" stop-opacity="0.45"/><stop offset="1" stop-color="#001796" stop-opacity="0"/></radialGradient></defs><circle cx="516" cy="1128.4" r="15.8" fill="url(#sp27)"/><circle cx="190.3" cy="1210.8" r="15.1" fill="url(#sp25)"/><circle cx="270.9" cy="1210" r="15.1" fill="url(#sp26)"/><defs><radialGradient id="sp24"><stop offset="0" stop-color="#148eff"/><stop offset="0.28" stop-color="#0676f5"/><stop offset="0.52" stop-color="#0060e2" stop-opacity="0.9"/><stop offset="0.78" stop-color="#0027aa" stop-opacity="0.45"/><stop offset="1" stop-color="#001796" stop-opacity="0"/></radialGradient></defs><circle cx="354" cy="1211.1" r="15.1" fill="url(#sp24)"/><circle cx="434.4" cy="1209.7" r="15.1" fill="url(#sp24)"/><circle cx="516.8" cy="1210.4" r="15.1" fill="url(#sp24)"/><defs><radialGradient id="sp21"><stop offset="0" stop-color="#0167e8"/><stop offset="0.28" stop-color="#0050d4"/><stop offset="0.52" stop-color="#004bd0" stop-opacity="0.9"/><stop offset="0.78" stop-color="#0027aa" stop-opacity="0.45"/><stop offset="1" stop-color="#001796" stop-opacity="0"/></radialGradient></defs><circle cx="188.5" cy="1291.7" r="13.6" fill="url(#sp21)"/><circle cx="271.4" cy="1292.8" r="13.6" fill="url(#sp21)"/><defs><radialGradient id="sp22"><stop offset="0" stop-color="#0676f5"/><stop offset="0.28" stop-color="#005bde"/><stop offset="0.52" stop-color="#0053d7" stop-opacity="0.9"/><stop offset="0.78" stop-color="#0027aa" stop-opacity="0.45"/><stop offset="1" stop-color="#001796" stop-opacity="0"/></radialGradient></defs><circle cx="353.2" cy="1292.1" r="13.6" fill="url(#sp22)"/><circle cx="434.1" cy="1292.7" r="13.6" fill="url(#sp22)"/><circle cx="517.5" cy="1292.5" r="13.6" fill="url(#sp22)"/><defs><radialGradient id="sp19"><stop offset="0" stop-color="#0050d4"/><stop offset="0.28" stop-color="#0039c0"/><stop offset="0.52" stop-color="#0035bc" stop-opacity="0.9"/><stop offset="0.78" stop-color="#0027aa" stop-opacity="0.45"/><stop offset="1" stop-color="#001796" stop-opacity="0"/></radialGradient></defs><circle cx="189.3" cy="1372.8" r="12.7" fill="url(#sp19)"/><defs><radialGradient id="sp20"><stop offset="0" stop-color="#005bde"/><stop offset="0.28" stop-color="#0044ca"/><stop offset="0.52" stop-color="#0040c6" stop-opacity="0.9"/><stop offset="0.78" stop-color="#0027aa" stop-opacity="0.45"/><stop offset="1" stop-color="#001796" stop-opacity="0"/></radialGradient></defs><circle cx="270.4" cy="1372.7" r="12.7" fill="url(#sp20)"/><circle cx="352.5" cy="1373.3" r="12.7" fill="url(#sp19)"/><circle cx="434" cy="1372.9" r="12.7" fill="url(#sp19)"/><circle cx="516.5" cy="1372.7" r="12.7" fill="url(#sp19)"/><defs><radialGradient id="sp18"><stop offset="0" stop-color="#0044ca"/><stop offset="0.28" stop-color="#002fb4"/><stop offset="0.52" stop-color="#002baf" stop-opacity="0.9"/><stop offset="0.78" stop-color="#0027aa" stop-opacity="0.45"/><stop offset="1" stop-color="#001796" stop-opacity="0"/></radialGradient></defs><circle cx="189.7" cy="1454.6" r="11.6" fill="url(#sp18)"/><defs><radialGradient id="sp17"><stop offset="0" stop-color="#0039c0"/><stop offset="0.28" stop-color="#0025a8"/><stop offset="0.52" stop-color="#0021a2" stop-opacity="0.9"/><stop offset="0.78" stop-color="#0027aa" stop-opacity="0.45"/><stop offset="1" stop-color="#001796" stop-opacity="0"/></radialGradient></defs><circle cx="271" cy="1455" r="11.6" fill="url(#sp17)"/><defs><radialGradient id="sp16"><stop offset="0" stop-color="#002fb4"/><stop offset="0.28" stop-color="#001b9b"/><stop offset="0.52" stop-color="#001796" stop-opacity="0.9"/><stop offset="0.78" stop-color="#0027aa" stop-opacity="0.45"/><stop offset="1" stop-color="#001796" stop-opacity="0"/></radialGradient></defs><circle cx="353.9" cy="1456.3" r="11.6" fill="url(#sp16)"/><circle cx="435" cy="1454.5" r="11.6" fill="url(#sp17)"/><circle cx="516.5" cy="1454.8" r="11.6" fill="url(#sp16)"/></g></g><circle cx="271.2" cy="721.0" r="19.5" fill="none" stroke="#fff" stroke-width="2.4"/><circle cx="353.0" cy="1046.0" r="19.5" fill="none" stroke="#fff" stroke-width="2.4"/><circle cx="269.2" cy="1450.7" r="19.5" fill="none" stroke="#fff" stroke-width="2.4"/><text x="310.5" y="714.5" font-size="28.5" text-anchor="middle" font-weight="normal" fill="#fff" >1</text><text x="392.5" y="1031.5" font-size="28.5" text-anchor="middle" font-weight="normal" fill="#fff" >2</text><text x="303.2" y="1459" font-size="28.5" text-anchor="middle" font-weight="normal" fill="#fff" >3</text><path d="M153.5,1426.2H561.2M146.3,1474.8H561.2" fill="none" stroke="#e6141e" stroke-width="3.6" stroke-dasharray="8.4,7.9"/><path d="M146.3,1427.5V1474.8M561.2,1427.5V1474.8" fill="none" stroke="#e6141e" stroke-width="3.6" stroke-dasharray="8.4,7.9"/><rect x="494" y="1507" width="83" height="11.5" fill="#fff"/><text x="502.5" y="1501" font-size="29.4" text-anchor="start" font-weight="normal" fill="#fff" >2 <tspan font-family="Liberation Serif, serif" font-size="0.95em">&#956;</tspan>m</text><text x="0" y="725" font-size="29.4" text-anchor="start" font-weight="normal" fill="#000" >4.86 nJ</text><text x="0" y="1460.4" font-size="29.4" text-anchor="start" font-weight="normal" fill="#000" >4.68 nJ</text><line x1="61.5" y1="736" x2="61.5" y2="1412" stroke="#000" stroke-width="1.8"/><path d="M61.7,1432 L54.2,1405 L61.7,1411.5 L69.2,1405 Z" fill="#000"/><text transform="translate(42,1083.7) rotate(-90)" font-size="29.4" text-anchor="middle" >Laser pulse energy</text><rect x="1011.9" y="599.8" width="81.4" height="276.2" fill="#bde3f6"/><clipPath id="clc"><rect x="763" y="587" width="345.7" height="289"/></clipPath><polyline points="770.4,856.7 770.9,858 771.3,857.4 771.7,857.4 772.2,855.3 772.6,857.3 773.1,853.6 773.5,855 773.9,853.7 774.4,853.5 774.8,851.6 775.3,853.8 775.7,851.8 776.1,851.3 776.6,849.4 777,850.5 777.5,849.1 777.9,848.9 778.3,847.4 778.8,846.2 779.2,846.7 779.7,844.1 780.1,843.4 780.5,842.7 781,841.3 781.4,841.4 781.9,839.8 782.3,839.1 782.7,837.2 783.2,835 783.6,834.3 784.1,832.3 784.5,830.5 784.9,828.4 785.4,825.8 785.8,822.6 786.3,820.6 786.7,816.4 787.1,811.8 787.6,809 788,806 788.5,802.9 788.9,799.5 789.3,794.6 789.8,793.5 790.2,792.6 790.7,791.3 791.1,790.3 791.5,793.2 792,794.9 792.4,797.8 792.9,801.4 793.3,805.1 793.7,807.6 794.2,810.4 794.6,812.5 795.1,814.8 795.5,817 795.9,819.5 796.4,820.8 796.8,823.7 797.3,823.5 797.7,825.2 798.1,826.9 798.6,827.2 799,828.4 799.5,828.1 799.9,828.4 800.3,828.4 800.8,831.6 801.2,832 801.7,831.6 802.1,831.3 802.5,831 803,831.6 803.4,833.6 803.9,832.3 804.3,831.5 804.7,832 805.2,831.6 805.6,832.4 806.1,832.4 806.5,832 806.9,831.8 807.4,831.9 807.8,831.9 808.3,832.4 808.7,831.5 809.1,831.6 809.6,830.7 810,830.5 810.5,831.1 810.9,831.4 811.3,831.4 811.8,830.4 812.2,830.4 812.7,830.5 813.1,830 813.5,830.4 814,829.3 814.4,830.1 814.9,828.7 815.3,829.2 815.7,828.8 816.2,829.8 816.6,828.3 817.1,827.2 817.5,827.6 817.9,825.5 818.4,822.7 818.8,819.6 819.3,811.8 819.7,805 820.1,806.9 820.6,812.7 821,820.1 821.5,822.9 821.9,826.4 822.3,825.6 822.8,827 823.2,827.8 823.7,828.7 824.1,827.3 824.5,826.9 825,829.9 825.4,827.5 825.9,827.1 826.3,828 826.7,829 827.2,827.2 827.6,827.8 828.1,827.9 828.5,828.1 828.9,826.4 829.4,825.9 829.8,826.6 830.3,825.3 830.7,826.1 831.1,824.1 831.6,824.1 832,823.6 832.5,822.9 832.9,821.4 833.3,820.6 833.8,819.9 834.2,819.2 834.7,818.1 835.1,816.5 835.5,815.4 836,813.6 836.4,812.7 836.9,812.6 837.3,808 837.7,804.9 838.2,804 838.6,802.1 839.1,799.6 839.5,797.1 839.9,794.3 840.4,792.5 840.8,789.5 841.3,787.5 841.7,784.4 842.1,783.1 842.6,781.3 843,781.3 843.5,780.5 843.9,781.9 844.3,781.7 844.8,786.9 845.2,788.2 845.7,789.7 846.1,791.3 846.5,796.4 847,799.2 847.4,802.3 847.9,803.9 848.3,807.8 848.7,809.5 849.2,812.6 849.6,815.5 850.1,816.2 850.5,817.9 850.9,819 851.4,821.7 851.8,823.5 852.3,823.9 852.7,825.3 853.1,826.4 853.6,827.8 854,827.7 854.5,829.3 854.9,828.9 855.3,830.3 855.8,831.4 856.2,833.8 856.7,832.7 857.1,833.4 857.5,833.7 858,834 858.4,835.7 858.9,835.2 859.3,836.7 859.7,835.2 860.2,838.2 860.6,838.9 861.1,839.2 861.5,838.9 861.9,839.4 862.4,837.3 862.8,839.4 863.3,840.5 863.7,838.9 864.1,840.4 864.6,841.1 865,839.6 865.5,839.9 865.9,840.9 866.3,839.6 866.8,840.7 867.2,839.7 867.7,840.6 868.1,839.9 868.5,841.2 869,842.3 869.4,839.5 869.9,841.9 870.3,841.7 870.7,842.2 871.2,841.8 871.6,841.5 872.1,841.6 872.5,841.2 872.9,840.4 873.4,841.9 873.8,842.8 874.3,842.7 874.7,842.3 875.1,843.1 875.6,841.1 876,842 876.5,841.8 876.9,841.5 877.3,842.5 877.8,842 878.2,840.7 878.7,840.5 879.1,841.2 879.5,839.2 880,841.4 880.4,840.4 880.9,840 881.3,841.7 881.7,837.6 882.2,838.3 882.6,838.8 883.1,835.7 883.5,836 883.9,835.1 884.4,834.7 884.8,832.5 885.3,831.7 885.7,827.1 886.1,824.2 886.6,818.6 887,810.7 887.5,803.1 887.9,796.1 888.3,794.3 888.8,799.1 889.2,803.5 889.7,807.3 890.1,810.3 890.5,810.7 891,811 891.4,808.7 891.9,805.7 892.3,799 892.7,794.6 893.2,787.1 893.6,782.4 894.1,776.3 894.5,771.8 894.9,769.5 895.4,771.1 895.8,774 896.3,778.2 896.7,782.3 897.1,786.9 897.6,788.8 898,790.8 898.5,791.7 898.9,791.3 899.3,791.7 899.8,790.2 900.2,789 900.7,786.9 901.1,785.3 901.5,785.6 902,783.9 902.4,782.8 902.9,786.2 903.3,786.9 903.7,788.6 904.2,790.1 904.6,790.6 905.1,793.8 905.5,796.1 905.9,796.5 906.4,798.5 906.8,798 907.3,799 907.7,798.2 908.1,799.6 908.6,796.3 909,797.6 909.5,797.2 909.9,797.5 910.3,798 910.8,798.5 911.2,798.7 911.7,800.5 912.1,801.4 912.5,804.4 913,805.6 913.4,807.8 913.9,811.7 914.3,812.6 914.7,816.1 915.2,817.2 915.6,819.8 916.1,821.1 916.5,824.5 916.9,825.3 917.4,825.4 917.8,828.3 918.3,830.5 918.7,831.4 919.1,832.7 919.6,833.1 920,832.5 920.5,831.7 920.9,833.6 921.3,833.4 921.8,834.1 922.2,834.4 922.7,834.8 923.1,835 923.5,834.7 924,836.1 924.4,834.5 924.9,834.6 925.3,835.5 925.7,834.7 926.2,835.9 926.6,835.7 927.1,835 927.5,835.1 927.9,835.2 928.4,835.1 928.8,834.8 929.3,833.4 929.7,835.3 930.1,833.1 930.6,833.2 931,832 931.5,831.7 931.9,833.7 932.3,830.5 932.8,830 933.2,829.5 933.7,829.1 934.1,827.1 934.5,827.1 935,824.1 935.4,823.8 935.9,821.1 936.3,821.7 936.7,820.4 937.2,816.2 937.6,813.4 938,810.8 938.5,808.2 938.9,802.6 939.4,796.1 939.8,789.7 940.2,781 940.7,770.4 941.1,758.4 941.6,744 942,730.9 942.4,718 942.9,715.9 943.3,718.9 943.8,729.6 944.2,740 944.6,753.7 945.1,761.3 945.5,770 946,774.3 946.4,781.5 946.8,783.7 947.3,785.8 947.7,786.8 948.2,789.2 948.6,789.6 949,791.9 949.5,791.3 949.9,790.6 950.4,790.4 950.8,791.9 951.2,790.4 951.7,791.2 952.1,793.3 952.6,795.9 953,796.2 953.4,796.5 953.9,796.1 954.3,798 954.8,801.2 955.2,801.1 955.6,801 956.1,804 956.5,805.8 957,805 957.4,808 957.8,809.9 958.3,810.6 958.7,812.1 959.2,813.8 959.6,813.7 960,814.9 960.5,816.2 960.9,818 961.4,818 961.8,819.8 962.2,820.2 962.7,820.6 963.1,821.5 963.6,821.4 964,823 964.4,825.4 964.9,825.7 965.3,824.4 965.8,826.3 966.2,826.3 966.6,827.8 967.1,826.8 967.5,828.3 968,827.3 968.4,829.1 968.8,828.1 969.3,828.7 969.7,829.9 970.2,828.6 970.6,830.2 971,830.1 971.5,828.8 971.9,829.7 972.4,829.5 972.8,829 973.2,829 973.7,826.9 974.1,826.6 974.6,826.4 975,825.5 975.4,824 975.9,821.7 976.3,820.9 976.8,820.3 977.2,817.4 977.6,815.9 978.1,813.5 978.5,809.1 979,807.8 979.4,804.4 979.8,802 980.3,797.8 980.7,792.5 981.2,789.7 981.6,785.5 982,784.1 982.5,782.1 982.9,780.3 983.4,780.3 983.8,782.6 984.2,784.8 984.7,787.9 985.1,792.4 985.6,798.2 986,802 986.4,805.6 986.9,810.5 987.3,813.7 987.8,818.8 988.2,821.4 988.6,823.2 989.1,828 989.5,829.5 990,830.7 990.4,833.9 990.8,834.1 991.3,836.3 991.7,837.2 992.2,838.4 992.6,839.2 993,840.8 993.5,841.2 993.9,842.5 994.4,842.4 994.8,842.2 995.2,844 995.7,844.6 996.1,846.2 996.6,845.2 997,846.8 997.4,847.2 997.9,846.6 998.3,847.2 998.8,846.8 999.2,846.8 999.6,848.7 1000.1,848.4 1000.5,847.4 1001,848.2 1001.4,848.6 1001.8,848.3 1002.3,850 1002.7,849.1 1003.2,848.7 1003.6,848.6 1004,850.6 1004.5,850.2 1004.9,849.8 1005.4,850.4 1005.8,850.5 1006.2,849.7 1006.7,850.5 1007.1,851.6 1007.6,849.9 1008,850.5 1008.4,850.7 1008.9,851.2 1009.3,849.1 1009.8,851.5 1010.2,851 1010.6,849.7 1011.1,848.3 1011.5,848 1012,849.7 1012.4,848.6 1012.8,849.4 1013.3,847 1013.7,848.6 1014.2,847.1 1014.6,845.6 1015,845.9 1015.5,843.7 1015.9,844.7 1016.4,842.8 1016.8,841.4 1017.2,841.1 1017.7,838.6 1018.1,838 1018.6,838.2 1019,832.3 1019.4,833.1 1019.9,831.6 1020.3,830.6 1020.8,827.1 1021.2,824.8 1021.6,820.9 1022.1,817.8 1022.5,812.8 1023,809.8 1023.4,804.5 1023.8,798.9 1024.3,792.8 1024.7,785.3 1025.2,775.7 1025.6,765.9 1026,755.4 1026.5,742.5 1026.9,726.6 1027.4,708.6 1027.8,690.8 1028.2,669.7 1028.7,651.9 1029.1,633 1029.6,620.5 1030,610.1 1030.4,608.1 1030.9,613.1 1031.3,624.3 1031.8,642.2 1032.2,660.1 1032.6,680.4 1033.1,699.1 1033.5,717.7 1034,731.9 1034.4,747.6 1034.8,758.3 1035.3,769.8 1035.7,778.4 1036.2,786.8 1036.6,792.7 1037,797.8 1037.5,803.1 1037.9,808.4 1038.4,809.9 1038.8,814.1 1039.2,816.4 1039.7,819.1 1040.1,822.8 1040.6,826 1041,827.2 1041.4,827.3 1041.9,830.7 1042.3,830.7 1042.8,833.1 1043.2,833.6 1043.6,836.4 1044.1,835.1 1044.5,837 1045,837.1 1045.4,838.4 1045.8,838.7 1046.3,840 1046.7,840 1047.2,842.3 1047.6,842.5 1048,841.6 1048.5,842.7 1048.9,843.2 1049.4,843.6 1049.8,843.5 1050.2,844.7 1050.7,844.1 1051.1,845.6 1051.6,845.5 1052,844.7 1052.4,844.9 1052.9,846.9 1053.3,845.6 1053.8,847.4 1054.2,846.2 1054.6,848.5 1055.1,848.2 1055.5,848 1056,847.9 1056.4,847 1056.8,847.6 1057.3,847.4 1057.7,847.9 1058.2,849.4 1058.6,849.6 1059,848.9 1059.5,850 1059.9,850.4 1060.4,851.6 1060.8,851 1061.2,853.4 1061.7,851.9 1062.1,852.7 1062.6,851.7 1063,852.9 1063.4,853.2 1063.9,852.2 1064.3,854.4 1064.8,853.7 1065.2,855.7 1065.6,854.5 1066.1,854.5 1066.5,854.4 1067,856.1 1067.4,855.5 1067.8,855.7 1068.3,856.3 1068.7,856.4 1069.2,856.5 1069.6,856.8 1070,858.2 1070.5,858.6 1070.9,856 1071.4,856.7 1071.8,859.5 1072.2,858.4 1072.7,858.5 1073.1,858.6 1073.6,859.3 1074,860.4 1074.4,860.1 1074.9,860.5 1075.3,860.3 1075.8,860.8 1076.2,860.9 1076.6,860.2 1077.1,860.3 1077.5,862.4 1078,862 1078.4,862.5 1078.8,861.1 1079.3,862.3 1079.7,861.3 1080.2,863 1080.6,862.8 1081,864.1 1081.5,862.2 1081.9,863.6 1082.4,864.7 1082.8,864.2 1083.2,865.7 1083.7,864.1 1084.1,864.1 1084.6,864.1 1085,863.4 1085.4,864.9 1085.9,864.2 1086.3,864.8 1086.8,865.3 1087.2,866.9 1087.6,864.7 1088.1,866 1088.5,865.7 1089,866.9 1089.4,865.8 1089.8,866.1 1090.3,866.3 1090.7,866.5 1091.2,865.6 1091.6,865.8 1092,866 1092.5,864.1 1092.9,867.2 1093.4,867.1 1093.8,867.7 1094.2,866.6 1094.7,867.6 1095.1,869.2 1095.6,868.1 1096,867.2 1096.4,866.5 1096.9,868.6 1097.3,868 1097.8,867.7 1098.2,868.2 1098.6,867.3 1099.1,867.7 1099.5,867.6 1100,868.4 1100.4,866.7 1100.8,868 1101.3,867 1101.7,868.5 1102.2,867.7 1102.6,868.8 1103,869 1103.5,868.9 1103.9,868.4 1104.4,868.6 1104.8,867.3 1105.2,869.5 1105.7,869.5 1106.1,867.4 1106.6,868.3 1107,870.3 1107.4,868.5 1107.9,868.7 1108.3,870.7 1108.8,869.3 1109.2,869.1" fill="none" stroke="#000" stroke-width="3.2" stroke-linejoin="round" clip-path="url(#clc)"/><rect x="763" y="587" width="345.7" height="289" fill="none" stroke="#000" stroke-width="1.9"/><line x1="755" y1="868.5" x2="763" y2="868.5" stroke="#000" stroke-width="1.9"/><line x1="759" y1="842.4" x2="763" y2="842.4" stroke="#000" stroke-width="1.9"/><line x1="759" y1="816.3" x2="763" y2="816.3" stroke="#000" stroke-width="1.9"/><line x1="759" y1="790.2" x2="763" y2="790.2" stroke="#000" stroke-width="1.9"/><line x1="759" y1="764.1" x2="763" y2="764.1" stroke="#000" stroke-width="1.9"/><line x1="755" y1="738" x2="763" y2="738" stroke="#000" stroke-width="1.9"/><line x1="759" y1="711.9" x2="763" y2="711.9" stroke="#000" stroke-width="1.9"/><line x1="759" y1="685.8" x2="763" y2="685.8" stroke="#000" stroke-width="1.9"/><line x1="759" y1="659.7" x2="763" y2="659.7" stroke="#000" stroke-width="1.9"/><line x1="759" y1="633.6" x2="763" y2="633.6" stroke="#000" stroke-width="1.9"/><line x1="755" y1="607.5" x2="763" y2="607.5" stroke="#000" stroke-width="1.9"/><text x="744.5" y="878.8" font-size="29.4" text-anchor="end" font-weight="normal" fill="#000" >0.0</text><text x="744.5" y="748.3" font-size="29.4" text-anchor="end" font-weight="normal" fill="#000" >0.5</text><text x="744.5" y="617.8" font-size="29.4" text-anchor="end" font-weight="normal" fill="#000" >1.0</text><text transform="translate(681.5,731.5) rotate(-90)" font-size="29.4" text-anchor="middle" >Intensity (a.u.)</text><text x="989" y="643.5" font-size="29.4" text-anchor="middle" font-weight="normal" fill="#000" >1</text><text x="819" y="680.5" font-size="29.4" text-anchor="start" font-weight="normal" fill="#000" >250 <tspan font-family="Liberation Serif, serif" font-size="0.95em">&#956;</tspan>W</text><rect x="888.9" y="926" width="17.1" height="276" fill="#bde3f6"/><clipPath id="cld"><rect x="762.5" y="912" width="345.8" height="290"/></clipPath><polyline points="768.4,1197.3 768.9,1196.8 769.3,1198.1 769.7,1194.9 770.2,1197.3 770.6,1196.3 771.1,1194.9 771.5,1195.9 771.9,1195.4 772.4,1194.9 772.8,1193.4 773.3,1191.6 773.7,1192.9 774.1,1193.3 774.6,1191.5 775,1191.9 775.5,1190.8 775.9,1189.2 776.3,1190 776.8,1188.7 777.2,1188.5 777.7,1187.1 778.1,1185.8 778.5,1185.7 779,1184 779.4,1182.6 779.9,1181.5 780.3,1180.4 780.7,1178.8 781.2,1176 781.6,1174 782.1,1169.7 782.5,1170.9 782.9,1166.2 783.4,1163 783.8,1159.1 784.3,1156.5 784.7,1154.2 785.1,1150.1 785.6,1146.4 786,1144 786.5,1140.5 786.9,1140.6 787.3,1136.5 787.8,1136.3 788.2,1138.1 788.7,1138.6 789.1,1141 789.5,1144.2 790,1146.4 790.4,1148.8 790.9,1153.1 791.3,1156.2 791.7,1159 792.2,1161.4 792.6,1163.4 793.1,1167.3 793.5,1168.5 793.9,1170.7 794.4,1174.1 794.8,1174.6 795.3,1175.8 795.7,1177 796.1,1177.8 796.6,1180.6 797,1179.9 797.5,1181.2 797.9,1182.5 798.3,1181.6 798.8,1181.9 799.2,1183.5 799.7,1182.7 800.1,1184 800.5,1183.9 801,1185.1 801.4,1183.2 801.9,1186.7 802.3,1184.8 802.7,1184.3 803.2,1186.5 803.6,1185 804.1,1185 804.5,1184.2 804.9,1183.8 805.4,1185 805.8,1185.7 806.3,1183.4 806.7,1183.4 807.1,1184.5 807.6,1183.6 808,1183.4 808.5,1183 808.9,1183 809.3,1181.7 809.8,1183.8 810.2,1181.3 810.7,1181.4 811.1,1181.4 811.5,1179.8 812,1182.1 812.4,1178.8 812.9,1178.7 813.3,1179.1 813.7,1176.9 814.2,1176.5 814.6,1173.3 815.1,1172.8 815.5,1172.7 815.9,1172.4 816.4,1171 816.8,1169.4 817.3,1168.1 817.7,1166.8 818.1,1164.9 818.6,1162.8 819,1161.1 819.5,1159.2 819.9,1157.2 820.3,1152.2 820.8,1153 821.2,1150.1 821.7,1146.3 822.1,1144.1 822.5,1140.8 823,1137.6 823.4,1134.4 823.9,1132.1 824.3,1130.8 824.7,1126.8 825.2,1126.9 825.6,1123.8 826.1,1122.7 826.5,1122.2 826.9,1120.5 827.4,1121.2 827.8,1120.9 828.3,1123.8 828.7,1123.4 829.1,1125.3 829.6,1127.6 830,1130.9 830.5,1132.2 830.9,1135.4 831.3,1138 831.8,1136 832.2,1139.9 832.7,1141.2 833.1,1144.8 833.5,1145.6 834,1147.2 834.4,1148.8 834.9,1150.6 835.3,1152 835.7,1154.5 836.2,1153.5 836.6,1154.5 837.1,1154.8 837.5,1156.6 837.9,1155.7 838.4,1158.3 838.8,1159.8 839.3,1158.9 839.7,1160.7 840.1,1162 840.6,1161.6 841,1161.6 841.5,1162.6 841.9,1162.9 842.3,1160.5 842.8,1163.5 843.2,1163.3 843.7,1166.4 844.1,1164.9 844.5,1164.8 845,1166 845.4,1166.6 845.9,1165.8 846.3,1166.5 846.7,1166.8 847.2,1165.5 847.6,1165.5 848.1,1166.3 848.5,1166.9 849,1166.1 849.4,1165.8 849.8,1165.8 850.3,1167.3 850.7,1166.2 851.2,1165.4 851.6,1165 852,1164.4 852.5,1164.2 852.9,1165.3 853.4,1164.5 853.8,1164.5 854.2,1161.6 854.7,1162.5 855.1,1161.8 855.6,1161 856,1161.8 856.4,1162.3 856.9,1161.6 857.3,1161.5 857.8,1160.4 858.2,1161.2 858.6,1163.1 859.1,1162.3 859.5,1162.8 860,1164.8 860.4,1164.8 860.8,1166.8 861.3,1165.7 861.7,1166.9 862.2,1168.3 862.6,1168.4 863,1168.2 863.5,1169.3 863.9,1169.1 864.4,1169.4 864.8,1170.9 865.2,1170.9 865.7,1169.3 866.1,1171.2 866.6,1172.3 867,1171.8 867.4,1173.2 867.9,1171.5 868.3,1172.3 868.8,1171.9 869.2,1172.3 869.6,1172.8 870.1,1172.5 870.5,1173.3 871,1174 871.4,1174.4 871.8,1174.1 872.3,1175.8 872.7,1172.4 873.2,1175.3 873.6,1174 874,1175 874.5,1175.6 874.9,1174.1 875.4,1174.3 875.8,1174.1 876.2,1173.5 876.7,1174.4 877.1,1173.6 877.6,1173.4 878,1173.9 878.4,1173.8 878.9,1173 879.3,1173.2 879.8,1173 880.2,1174.7 880.6,1172.6 881.1,1172 881.5,1172.1 882,1171.4 882.4,1169.7 882.8,1170.7 883.3,1169.7 883.7,1170.2 884.2,1169.4 884.6,1168.1 885,1167.4 885.5,1165.1 885.9,1163.9 886.4,1160.7 886.8,1158 887.2,1153.1 887.7,1145.6 888.1,1139.1 888.6,1136 889,1138.5 889.4,1142.4 889.9,1143.9 890.3,1144.5 890.8,1144.2 891.2,1143.1 891.6,1138.6 892.1,1137 892.5,1132.2 893,1124 893.4,1116.3 893.8,1106.6 894.3,1094.6 894.7,1081.3 895.2,1063.1 895.6,1040.2 896,1016 896.5,991 896.9,963.3 897.4,945.2 897.8,934.6 898.2,936.9 898.7,953.2 899.1,976 899.6,1002 900,1027.9 900.4,1049.8 900.9,1069.6 901.3,1087.2 901.8,1100.3 902.2,1110.6 902.6,1119.8 903.1,1127.7 903.5,1132.9 904,1137.7 904.4,1143.1 904.8,1145.5 905.3,1150.4 905.7,1152.9 906.2,1153.4 906.6,1156.3 907,1158 907.5,1158.8 907.9,1160.2 908.4,1160.4 908.8,1162.6 909.2,1162.4 909.7,1160.2 910.1,1163.1 910.6,1165 911,1163.3 911.4,1163.5 911.9,1163 912.3,1163.9 912.8,1164.5 913.2,1162.8 913.6,1163.1 914.1,1164.6 914.5,1162.2 915,1162.4 915.4,1160.7 915.8,1161.2 916.3,1159.5 916.7,1159 917.2,1157.6 917.6,1156.9 918,1155.7 918.5,1153.6 918.9,1151.1 919.4,1148.5 919.8,1144.1 920.2,1140.8 920.7,1136.9 921.1,1134.1 921.6,1136.1 922,1136.3 922.4,1136.9 922.9,1135.3 923.3,1132.3 923.8,1131.2 924.2,1127.7 924.6,1126.8 925.1,1123.9 925.5,1119.3 926,1117.1 926.4,1110.3 926.8,1107.7 927.3,1105.9 927.7,1101.4 928.2,1098.3 928.6,1094.3 929,1091.8 929.5,1088.7 929.9,1086.5 930.4,1086.7 930.8,1087 931.3,1086 931.7,1087.6 932.1,1088.2 932.6,1091.5 933,1093.4 933.5,1097 933.9,1100.8 934.3,1104.5 934.8,1107.3 935.2,1109.5 935.7,1114.5 936.1,1118.8 936.5,1121.5 937,1125.2 937.4,1129.3 937.9,1130.9 938.3,1132.6 938.7,1136.6 939.2,1139.7 939.6,1140.8 940.1,1141.8 940.5,1144.5 940.9,1146.3 941.4,1147 941.8,1149.1 942.3,1151.2 942.7,1153.3 943.1,1154.3 943.6,1155.7 944,1156 944.5,1158.4 944.9,1157.4 945.3,1159.4 945.8,1160.6 946.2,1160.5 946.7,1163.4 947.1,1163.1 947.5,1163.6 948,1163 948.4,1164.5 948.9,1163.5 949.3,1165.4 949.7,1165.1 950.2,1166.4 950.6,1165.3 951.1,1166.8 951.5,1166.5 951.9,1167.5 952.4,1168.2 952.8,1167.7 953.3,1166.9 953.7,1168.7 954.1,1169.2 954.6,1168.3 955,1167.5 955.5,1169 955.9,1168.6 956.3,1168 956.8,1168.3 957.2,1167.7 957.7,1166.8 958.1,1167.5 958.5,1167.3 959,1166.3 959.4,1166.6 959.9,1166.9 960.3,1166.4 960.7,1165.9 961.2,1162.9 961.6,1163.8 962.1,1162.6 962.5,1161.8 962.9,1162.4 963.4,1160.5 963.8,1160.8 964.3,1161.6 964.7,1159.8 965.1,1160.4 965.6,1160 966,1159.8 966.5,1158.8 966.9,1161.7 967.3,1162.2 967.8,1162.7 968.2,1163.9 968.7,1165.1 969.1,1166.8 969.5,1167.6 970,1167.9 970.4,1169.5 970.9,1169.8 971.3,1171 971.7,1169.8 972.2,1172.4 972.6,1170.2 973.1,1172.6 973.5,1173.3 973.9,1173.6 974.4,1172.2 974.8,1171.9 975.3,1173.1 975.7,1171.5 976.1,1170.7 976.6,1169.4 977,1168.3 977.5,1168.7 977.9,1172.7 978.3,1174.8 978.8,1174.2 979.2,1175.4 979.7,1175.6 980.1,1178 980.5,1177.8 981,1176.2 981.4,1178.7 981.9,1177.7 982.3,1178.8 982.7,1178.7 983.2,1179.7 983.6,1177.9 984.1,1180.5 984.5,1180.1 984.9,1180 985.4,1178.5 985.8,1179.3 986.3,1179.2 986.7,1179.9 987.1,1179.8 987.6,1179.7 988,1179 988.5,1180.1 988.9,1181.6 989.3,1179.6 989.8,1180.6 990.2,1181.6 990.7,1181 991.1,1181.7 991.5,1179.4 992,1181.4 992.4,1182.8 992.9,1181.1 993.3,1182.1 993.7,1180.5 994.2,1181.5 994.6,1183.1 995.1,1182.2 995.5,1182.7 995.9,1182.6 996.4,1182.6 996.8,1183.7 997.3,1182.1 997.7,1183 998.1,1183.1 998.6,1181.9 999,1181.1 999.5,1183.1 999.9,1181.3 1000.3,1184.4 1000.8,1182.4 1001.2,1183.4 1001.7,1183.1 1002.1,1183.9 1002.5,1183.6 1003,1183.5 1003.4,1183.6 1003.9,1183 1004.3,1181.6 1004.7,1184 1005.2,1183.7 1005.6,1185 1006.1,1185.7 1006.5,1182.7 1006.9,1184.9 1007.4,1184.5 1007.8,1184 1008.3,1183.3 1008.7,1183.8 1009.1,1182.7 1009.6,1184.4 1010,1185.7 1010.5,1184.2 1010.9,1184.3 1011.4,1185.1 1011.8,1184.8 1012.2,1185 1012.7,1183.2 1013.1,1185.1 1013.6,1185.8 1014,1184.5 1014.4,1186.2 1014.9,1184.5 1015.3,1184.6 1015.8,1185.6 1016.2,1185.5 1016.6,1185.5 1017.1,1183.8 1017.5,1184.8 1018,1186.1 1018.4,1186.2 1018.8,1185.3 1019.3,1185.3 1019.7,1185.9 1020.2,1185.1 1020.6,1185.5 1021,1184.5 1021.5,1185 1021.9,1185.3 1022.4,1185.1 1022.8,1185.9 1023.2,1184.4 1023.7,1184.7 1024.1,1185.2 1024.6,1184.6 1025,1184.9 1025.4,1182.3 1025.9,1184.3 1026.3,1183.1 1026.8,1182.6 1027.2,1182.9 1027.6,1181.4 1028.1,1180.7 1028.5,1179.1 1029,1178.1 1029.4,1177 1029.8,1176.7 1030.3,1178.1 1030.7,1179 1031.2,1180.1 1031.6,1181.4 1032,1183.1 1032.5,1182 1032.9,1183.2 1033.4,1183.8 1033.8,1185.3 1034.2,1185.5 1034.7,1186.5 1035.1,1184.7 1035.6,1184.2 1036,1184.3 1036.4,1184.8 1036.9,1185.6 1037.3,1184.7 1037.8,1184.6 1038.2,1183.9 1038.6,1183.6 1039.1,1184.2 1039.5,1183.8 1040,1182.9 1040.4,1182.7 1040.8,1182.9 1041.3,1184 1041.7,1182.4 1042.2,1180.8 1042.6,1180.9 1043,1179.8 1043.5,1180.4 1043.9,1179.7 1044.4,1178.8 1044.8,1178.6 1045.2,1178.7 1045.7,1178.1 1046.1,1177.9 1046.6,1178 1047,1180.6 1047.4,1180 1047.9,1180.3 1048.3,1180.8 1048.8,1182.3 1049.2,1180.6 1049.6,1182.9 1050.1,1182.6 1050.5,1185.1 1051,1184.1 1051.4,1184.4 1051.8,1185.4 1052.3,1184.6 1052.7,1183.7 1053.2,1186.6 1053.6,1187 1054,1185.3 1054.5,1186.5 1054.9,1187.5 1055.4,1188.6 1055.8,1187.2 1056.2,1187.9 1056.7,1187.1 1057.1,1189.2 1057.6,1188.8 1058,1189.1 1058.4,1189.2 1058.9,1188.4 1059.3,1188.7 1059.8,1190 1060.2,1189.7 1060.6,1189.9 1061.1,1189.2 1061.5,1190.1 1062,1191 1062.4,1190.5 1062.8,1190.4 1063.3,1189.7 1063.7,1189.5 1064.2,1189.6 1064.6,1190.4 1065,1191.1 1065.5,1190.2 1065.9,1190.8 1066.4,1191.2 1066.8,1190.5 1067.2,1190.4 1067.7,1190 1068.1,1191.4 1068.6,1192 1069,1190.3 1069.4,1191.4 1069.9,1189.9 1070.3,1191.5 1070.8,1191.1 1071.2,1192.1 1071.6,1189 1072.1,1191 1072.5,1190.7 1073,1191 1073.4,1190.8 1073.8,1189.9 1074.3,1190.5 1074.7,1190.6 1075.2,1189.6 1075.6,1191.6 1076,1189.6 1076.5,1189.2 1076.9,1191.5 1077.4,1190.2 1077.8,1191.4 1078.2,1192 1078.7,1191 1079.1,1189.9 1079.6,1189.7 1080,1190.6 1080.4,1190.9 1080.9,1190.6 1081.3,1190.8 1081.8,1190.7 1082.2,1192 1082.6,1190.3 1083.1,1190.2 1083.5,1188.4 1084,1189.5 1084.4,1190.1 1084.8,1189.9 1085.3,1189.7 1085.7,1190.5 1086.2,1191.5 1086.6,1190.5 1087,1190 1087.5,1189.7 1087.9,1190.4 1088.4,1190.5 1088.8,1190 1089.2,1189.7 1089.7,1189.2 1090.1,1189.7 1090.6,1189 1091,1190 1091.5,1188.4 1091.9,1188.9 1092.3,1189.8 1092.8,1188.8 1093.2,1188.3 1093.7,1189.1 1094.1,1187.6 1094.5,1188.2 1095,1187.5 1095.4,1188.5 1095.9,1187.3 1096.3,1186.8 1096.7,1187.6 1097.2,1187.2 1097.6,1187.4 1098.1,1186.5 1098.5,1186.6 1098.9,1186.1 1099.4,1186.4 1099.8,1187.2 1100.3,1187 1100.7,1186.2 1101.1,1185.3 1101.6,1183.8 1102,1184.7 1102.5,1185.7 1102.9,1186.7 1103.3,1184.5 1103.8,1184.8 1104.2,1185.6 1104.7,1183.8 1105.1,1184.3 1105.5,1184.5 1106,1185.5 1106.4,1183.1 1106.9,1183.7 1107.3,1183.8 1107.7,1184.2 1108.2,1183.6 1108.6,1182.2" fill="none" stroke="#000" stroke-width="3.2" stroke-linejoin="round" clip-path="url(#cld)"/><rect x="762.5" y="912" width="345.8" height="290" fill="none" stroke="#000" stroke-width="1.9"/><line x1="754.5" y1="1194.3" x2="762.5" y2="1194.3" stroke="#000" stroke-width="1.9"/><line x1="758.5" y1="1168.2" x2="762.5" y2="1168.2" stroke="#000" stroke-width="1.9"/><line x1="758.5" y1="1142.2" x2="762.5" y2="1142.2" stroke="#000" stroke-width="1.9"/><line x1="758.5" y1="1116.1" x2="762.5" y2="1116.1" stroke="#000" stroke-width="1.9"/><line x1="758.5" y1="1090" x2="762.5" y2="1090" stroke="#000" stroke-width="1.9"/><line x1="754.5" y1="1064" x2="762.5" y2="1064" stroke="#000" stroke-width="1.9"/><line x1="758.5" y1="1037.9" x2="762.5" y2="1037.9" stroke="#000" stroke-width="1.9"/><line x1="758.5" y1="1011.8" x2="762.5" y2="1011.8" stroke="#000" stroke-width="1.9"/><line x1="758.5" y1="985.7" x2="762.5" y2="985.7" stroke="#000" stroke-width="1.9"/><line x1="758.5" y1="959.7" x2="762.5" y2="959.7" stroke="#000" stroke-width="1.9"/><line x1="754.5" y1="933.6" x2="762.5" y2="933.6" stroke="#000" stroke-width="1.9"/><text x="744.5" y="1204.6" font-size="29.4" text-anchor="end" font-weight="normal" fill="#000" >0.0</text><text x="744.5" y="1074.2" font-size="29.4" text-anchor="end" font-weight="normal" fill="#000" >0.5</text><text x="744.5" y="943.9" font-size="29.4" text-anchor="end" font-weight="normal" fill="#000" >1.0</text><text transform="translate(681.5,1057) rotate(-90)" font-size="29.4" text-anchor="middle" >Intensity (a.u.)</text><text x="869.5" y="957" font-size="29.4" text-anchor="middle" font-weight="normal" fill="#000" >2</text><text x="966.5" y="1057.5" font-size="29.4" text-anchor="start" font-weight="normal" fill="#000" >250 <tspan font-family="Liberation Serif, serif" font-size="0.95em">&#956;</tspan>W</text><clipPath id="cle"><rect x="763" y="1237.6" width="345.7" height="288.8"/></clipPath><polyline points="776.3,1517.1 776.8,1518.1 777.2,1518.3 777.6,1519.8 778.1,1518.5 778.5,1518.5 779,1518.3 779.4,1518.7 779.8,1518.2 780.3,1518.4 780.7,1519.1 781.2,1517.3 781.6,1517.2 782,1516.6 782.5,1517.8 782.9,1518.1 783.4,1518.2 783.8,1518.9 784.2,1516.9 784.7,1518.5 785.1,1518.5 785.6,1517.7 786,1516.3 786.4,1517.2 786.9,1518.2 787.3,1517.9 787.8,1516.8 788.2,1517.4 788.6,1517.8 789.1,1517.4 789.5,1516.6 790,1515.6 790.4,1518.1 790.8,1517.6 791.3,1517.7 791.7,1518.9 792.2,1517.7 792.6,1517.8 793,1516.1 793.5,1517 793.9,1518.2 794.4,1516.4 794.8,1517.1 795.2,1518.2 795.7,1517.2 796.1,1517.2 796.6,1517.4 797,1516.7 797.4,1518.4 797.9,1516.8 798.3,1515.8 798.8,1515.9 799.2,1515.7 799.6,1515.6 800.1,1515.3 800.5,1517.3 801,1515.8 801.4,1517.9 801.8,1516.8 802.3,1517.8 802.7,1515.5 803.2,1515.2 803.6,1516.4 804,1514.8 804.5,1516.7 804.9,1516 805.4,1516 805.8,1516.9 806.2,1515.7 806.7,1514.5 807.1,1516.8 807.6,1515.2 808,1516 808.4,1514.5 808.9,1515.5 809.3,1515.3 809.8,1515.3 810.2,1515.6 810.6,1516.8 811.1,1514.6 811.5,1516.7 812,1515.4 812.4,1515.1 812.8,1516.2 813.3,1515.4 813.7,1514.6 814.2,1515.6 814.6,1516.2 815,1517.9 815.5,1516.3 815.9,1516.1 816.4,1516 816.8,1516.4 817.2,1515.3 817.7,1516.1 818.1,1515.7 818.6,1515.1 819,1516.4 819.4,1515.9 819.9,1514 820.3,1515 820.8,1516.7 821.2,1515.8 821.6,1515.3 822.1,1514.8 822.5,1515.6 823,1516.2 823.4,1516.3 823.8,1515.3 824.3,1515.5 824.7,1516.2 825.2,1515.9 825.6,1516.1 826,1515.2 826.5,1516.3 826.9,1515.4 827.4,1515.1 827.8,1515.4 828.2,1516.5 828.7,1514.7 829.1,1516.3 829.6,1515.5 830,1516.4 830.4,1517.1 830.9,1515.6 831.3,1515.5 831.8,1515.8 832.2,1515.5 832.6,1516.2 833.1,1516.3 833.5,1515.8 834,1514.2 834.4,1515 834.8,1516.1 835.3,1515.2 835.7,1516 836.2,1515.9 836.6,1514.9 837,1515.9 837.5,1516.8 837.9,1516.2 838.4,1515.4 838.8,1515.3 839.2,1514.4 839.7,1515.9 840.1,1514.8 840.6,1515 841,1515.4 841.4,1514.6 841.9,1514.8 842.3,1515.8 842.8,1514.3 843.2,1516 843.6,1514.9 844.1,1514.9 844.5,1514.5 845,1515.4 845.4,1514.8 845.8,1514.8 846.3,1513.8 846.7,1515.1 847.2,1514.4 847.6,1514.5 848,1515.2 848.5,1512 848.9,1514 849.4,1515 849.8,1512.6 850.2,1514.4 850.7,1513.2 851.1,1512.6 851.6,1513.7 852,1513.3 852.4,1513.2 852.9,1512.7 853.3,1513.7 853.8,1513.1 854.2,1512 854.6,1510.9 855.1,1510.9 855.5,1509.8 856,1510.3 856.4,1510.9 856.8,1510.2 857.3,1511.3 857.7,1510.1 858.2,1509.7 858.6,1508.2 859,1507.4 859.5,1507.8 859.9,1507.3 860.4,1507.4 860.8,1505.5 861.2,1504.5 861.7,1503.5 862.1,1503.5 862.6,1500.3 863,1499.8 863.4,1499.6 863.9,1498.5 864.3,1496.6 864.8,1494.4 865.2,1492.4 865.6,1489.5 866.1,1486.5 866.5,1482.7 867,1479 867.4,1475.4 867.8,1469.4 868.3,1463 868.7,1454.5 869.2,1441.5 869.6,1429.1 870,1408.5 870.5,1386.1 870.9,1354.9 871.4,1318.1 871.8,1283.3 872.2,1259.9 872.7,1261 873.1,1284.6 873.6,1318.3 874,1352 874.4,1377.7 874.9,1400.3 875.3,1414.7 875.8,1429.9 876.2,1436.6 876.6,1442.9 877.1,1448.8 877.5,1451.8 878,1455.5 878.4,1459 878.8,1460.8 879.3,1461.1 879.7,1465 880.2,1466.8 880.6,1469.1 881,1470.4 881.5,1473.1 881.9,1473.9 882.4,1473.5 882.8,1476.1 883.2,1478 883.7,1479.2 884.1,1480.1 884.6,1482.6 885,1482.8 885.4,1485 885.9,1487 886.3,1487.1 886.8,1491.5 887.2,1491.3 887.6,1491.7 888.1,1493.7 888.5,1494.1 889,1495.4 889.4,1496.4 889.8,1494.6 890.3,1497.1 890.7,1498.4 891.2,1498.1 891.6,1500 892,1499.8 892.5,1500.9 892.9,1500.5 893.4,1503.4 893.8,1502.2 894.2,1503.2 894.7,1504.7 895.1,1503.4 895.6,1505.4 896,1503.8 896.4,1505 896.9,1505.2 897.3,1506 897.8,1505.7 898.2,1508.2 898.6,1506.9 899.1,1507.7 899.5,1507.2 900,1507.7 900.4,1507.4 900.8,1508.7 901.3,1506.8 901.7,1506.6 902.2,1508.8 902.6,1508.7 903,1508.6 903.5,1508 903.9,1507.6 904.4,1510.2 904.8,1509.8 905.2,1510.2 905.7,1510.3 906.1,1510.8 906.6,1509.3 907,1510.5 907.4,1508.5 907.9,1509 908.3,1510.5 908.8,1510.6 909.2,1510.2 909.6,1508.7 910.1,1510.4 910.5,1510.9 911,1509.7 911.4,1509.4 911.8,1510.2 912.3,1508.3 912.7,1509.3 913.2,1509.1 913.6,1510.1 914,1509.3 914.5,1509.3 914.9,1510.8 915.4,1508.7 915.8,1510.1 916.2,1508.6 916.7,1509.6 917.1,1506.6 917.6,1507.8 918,1507.1 918.4,1506.9 918.9,1508.4 919.3,1508.9 919.8,1507.2 920.2,1505.9 920.6,1506.3 921.1,1505.5 921.5,1505 922,1506.6 922.4,1504.9 922.8,1503.3 923.3,1504.9 923.7,1505.7 924.2,1503.9 924.6,1503.7 925,1502.7 925.5,1503.3 925.9,1502.1 926.4,1503.5 926.8,1500.7 927.2,1499.7 927.7,1499.5 928.1,1501.2 928.6,1499.4 929,1501.6 929.4,1498.6 929.9,1498.5 930.3,1498.8 930.8,1497.4 931.2,1497.2 931.6,1496.3 932.1,1496.6 932.5,1496.3 933,1497.8 933.4,1497 933.8,1496.3 934.3,1495.6 934.7,1495.8 935.2,1494.6 935.6,1496.4 936,1496 936.5,1495.8 936.9,1496.3 937.4,1495.9 937.8,1497 938.2,1495.7 938.7,1497.3 939.1,1496.5 939.6,1497.8 940,1496.9 940.4,1499.6 940.9,1498.5 941.3,1499.6 941.8,1499.5 942.2,1499.2 942.6,1501.4 943.1,1502 943.5,1502.1 944,1501.5 944.4,1503.6 944.8,1502.4 945.3,1503.8 945.7,1504.1 946.2,1503.8 946.6,1503.6 947,1504.7 947.5,1504.9 947.9,1504.8 948.4,1505.3 948.8,1507.5 949.2,1506 949.7,1505.8 950.1,1505.3 950.6,1504.8 951,1506.1 951.4,1506.7 951.9,1507.8 952.3,1507.1 952.8,1506.8 953.2,1506.6 953.6,1508.4 954.1,1507.7 954.5,1507.4 955,1506.7 955.4,1508.1 955.8,1508.8 956.3,1509 956.7,1508.9 957.2,1509.2 957.6,1508.1 958,1507.9 958.5,1508.2 958.9,1507.9 959.4,1509.1 959.8,1508.4 960.2,1508.8 960.7,1508.3 961.1,1507 961.6,1507.6 962,1508.5 962.4,1506.9 962.9,1507 963.3,1507.9 963.8,1507.8 964.2,1507.1 964.6,1507.1 965.1,1509.3 965.5,1508.6 966,1508.8 966.4,1510.9 966.8,1510.2 967.3,1510.4 967.7,1510.4 968.2,1511.9 968.6,1511 969,1510 969.5,1510 969.9,1509.6 970.4,1511.4 970.8,1509.8 971.2,1510.8 971.7,1512.4 972.1,1510.8 972.6,1511.8 973,1511.1 973.4,1511.7 973.9,1510.7 974.3,1511.5 974.8,1512 975.2,1511.1 975.6,1511.7 976.1,1512.2 976.5,1510.9 977,1512.3 977.4,1512.5 977.8,1512.5 978.3,1513.3 978.7,1512.6 979.2,1510.7 979.6,1512.9 980,1512.3 980.5,1513.2 980.9,1512.8 981.4,1511.2 981.8,1511.7 982.2,1512.9 982.7,1512.5 983.1,1513.1 983.6,1513.1 984,1513.3 984.4,1513.3 984.9,1512.3 985.3,1512.2 985.8,1512.3 986.2,1512.8 986.6,1513.8 987.1,1512.8 987.5,1513.5 988,1512.1 988.4,1512.4 988.8,1512.2 989.3,1513.1 989.7,1514.3 990.2,1512.2 990.6,1512 991,1514.1 991.5,1512.9 991.9,1512.1 992.4,1513.9 992.8,1511.7 993.2,1513.4 993.7,1514 994.1,1512.1 994.6,1513 995,1513.8 995.4,1512.6 995.9,1514.8 996.3,1511.9 996.8,1514 997.2,1513.2 997.6,1513.7 998.1,1513.1 998.5,1512.8 999,1514.1 999.4,1512.9 999.8,1513.8 1000.3,1514.1 1000.7,1513.8 1001.2,1514.4 1001.6,1514.3 1002,1512.9 1002.5,1513.8 1002.9,1512.8 1003.4,1513.4 1003.8,1514.6 1004.2,1515.3 1004.7,1514.3 1005.1,1513.6 1005.6,1513.8 1006,1514.5 1006.4,1513.1 1006.9,1515.3 1007.3,1514.9 1007.8,1513.9 1008.2,1512.3 1008.6,1513.7 1009.1,1514.8 1009.5,1513.6 1010,1513.5 1010.4,1513.3 1010.8,1514.4 1011.3,1514.7 1011.7,1514 1012.2,1513.8 1012.6,1512.9 1013,1512.5 1013.5,1514.7 1013.9,1514.6 1014.4,1514.2 1014.8,1514.4 1015.2,1513.8 1015.7,1513.8 1016.1,1514 1016.6,1513.1 1017,1514.3 1017.4,1515 1017.9,1515.4 1018.3,1515 1018.8,1515 1019.2,1515.7 1019.6,1513.6 1020.1,1514 1020.5,1514.5 1021,1514.8 1021.4,1515.4 1021.8,1514.8 1022.3,1512.7 1022.7,1515.8 1023.2,1514 1023.6,1513.5 1024,1513.9 1024.5,1514.3 1024.9,1513.4 1025.4,1514.8 1025.8,1513.5 1026.2,1512.8 1026.7,1514.7 1027.1,1514.5 1027.6,1513.7 1028,1513 1028.4,1512.7 1028.9,1513.1 1029.3,1514.1 1029.8,1514.4 1030.2,1513.3 1030.6,1513.1 1031.1,1514.2 1031.5,1513.3 1032,1513 1032.4,1512.3 1032.8,1513.9 1033.3,1512.6 1033.7,1513.8 1034.2,1513.2 1034.6,1512.8 1035,1511.5 1035.5,1510 1035.9,1512.3 1036.4,1512.1 1036.8,1511.6 1037.2,1513.4 1037.7,1511.7 1038.1,1513.2 1038.6,1510.9 1039,1511 1039.4,1511.8 1039.9,1512.8 1040.3,1510.9 1040.8,1512 1041.2,1512.1 1041.6,1511.8 1042.1,1513.7 1042.5,1512.1 1043,1511.7 1043.4,1512.3 1043.8,1512.5 1044.3,1513.5 1044.7,1512.3 1045.2,1512.8 1045.6,1513 1046,1513.6 1046.5,1512.5 1046.9,1512.3 1047.4,1513.1 1047.8,1512.8 1048.2,1512.5 1048.7,1512.4 1049.1,1513.5 1049.6,1513.9 1050,1514.2 1050.4,1513.9 1050.9,1513.5 1051.3,1513.3 1051.8,1514.4 1052.2,1514 1052.6,1515 1053.1,1513.2 1053.5,1514.6 1054,1514 1054.4,1514.9 1054.8,1514.6 1055.3,1514.9 1055.7,1513.1 1056.2,1514.2 1056.6,1514.6 1057,1515.2 1057.5,1515 1057.9,1514.1 1058.4,1513.2 1058.8,1515.7 1059.2,1515.3 1059.7,1514.7 1060.1,1515.1 1060.6,1515.9 1061,1514.6 1061.4,1514 1061.9,1515.8 1062.3,1514.4 1062.8,1513.8 1063.2,1513.7 1063.6,1514.8 1064.1,1512.6 1064.5,1513.9 1065,1514.9 1065.4,1513.5 1065.8,1515.1 1066.3,1513.4 1066.7,1515 1067.2,1513.3 1067.6,1514.2 1068,1512.8 1068.5,1512.9 1068.9,1513 1069.4,1513.1 1069.8,1512 1070.2,1514 1070.7,1512 1071.1,1511.7 1071.6,1511.3 1072,1510.8 1072.4,1508.3 1072.9,1510.9 1073.3,1510.3 1073.8,1510.7 1074.2,1509.7 1074.6,1512.6 1075.1,1509.9 1075.5,1512.1 1076,1513.6 1076.4,1513 1076.8,1512.6 1077.3,1512.7 1077.7,1513.1 1078.2,1512.7 1078.6,1513.6 1079,1513.9 1079.5,1515.7 1079.9,1513.8 1080.4,1513.6 1080.8,1514.9 1081.2,1516.1 1081.7,1515.8 1082.1,1513.6 1082.6,1515.5 1083,1515.6 1083.4,1515.8 1083.9,1514.7 1084.3,1515.8 1084.8,1516 1085.2,1516.6 1085.6,1515.6 1086.1,1514.7 1086.5,1515.7 1087,1514.9 1087.4,1515.5 1087.8,1515.6 1088.3,1515.6 1088.7,1515.7 1089.2,1515 1089.6,1515.4 1090,1516.3 1090.5,1515.8 1090.9,1516 1091.4,1515.6 1091.8,1515.8 1092.2,1515.7 1092.7,1517.2 1093.1,1515.7 1093.6,1515 1094,1517.1 1094.4,1514.9 1094.9,1515.9 1095.3,1516.3 1095.8,1517.6 1096.2,1515.3 1096.6,1517 1097.1,1516.6 1097.5,1515.8 1098,1517.1 1098.4,1517.1 1098.8,1517.2 1099.3,1516.4 1099.7,1515.9 1100.2,1516 1100.6,1516 1101,1516.7 1101.5,1516.3 1101.9,1517 1102.4,1514.9 1102.8,1516.3 1103.2,1518 1103.7,1517.3 1104.1,1515.2 1104.6,1517.6 1105,1516.9 1105.4,1516.2 1105.9,1517.4 1106.3,1515.7 1106.8,1515.3 1107.2,1517.2 1107.6,1515.7 1108.1,1517.3 1108.5,1517.4 1109,1516.5" fill="none" stroke="#000" stroke-width="3.2" stroke-linejoin="round" clip-path="url(#cle)"/><rect x="763" y="1237.6" width="345.7" height="288.8" fill="none" stroke="#000" stroke-width="1.9"/><line x1="755" y1="1518.7" x2="763" y2="1518.7" stroke="#000" stroke-width="1.9"/><line x1="759" y1="1492.6" x2="763" y2="1492.6" stroke="#000" stroke-width="1.9"/><line x1="759" y1="1466.4" x2="763" y2="1466.4" stroke="#000" stroke-width="1.9"/><line x1="759" y1="1440.3" x2="763" y2="1440.3" stroke="#000" stroke-width="1.9"/><line x1="759" y1="1414.2" x2="763" y2="1414.2" stroke="#000" stroke-width="1.9"/><line x1="755" y1="1388.1" x2="763" y2="1388.1" stroke="#000" stroke-width="1.9"/><line x1="759" y1="1361.9" x2="763" y2="1361.9" stroke="#000" stroke-width="1.9"/><line x1="759" y1="1335.8" x2="763" y2="1335.8" stroke="#000" stroke-width="1.9"/><line x1="759" y1="1309.7" x2="763" y2="1309.7" stroke="#000" stroke-width="1.9"/><line x1="759" y1="1283.5" x2="763" y2="1283.5" stroke="#000" stroke-width="1.9"/><line x1="755" y1="1257.4" x2="763" y2="1257.4" stroke="#000" stroke-width="1.9"/><text x="744.5" y="1529" font-size="29.4" text-anchor="end" font-weight="normal" fill="#000" >0.0</text><text x="744.5" y="1398.4" font-size="29.4" text-anchor="end" font-weight="normal" fill="#000" >0.5</text><text x="744.5" y="1267.7" font-size="29.4" text-anchor="end" font-weight="normal" fill="#000" >1.0</text><text transform="translate(681.5,1382) rotate(-90)" font-size="29.4" text-anchor="middle" >Intensity (a.u.)</text><text x="843.5" y="1288" font-size="29.4" text-anchor="middle" font-weight="normal" fill="#000" >3</text><text x="924.5" y="1391.5" font-size="29.4" text-anchor="start" font-weight="normal" fill="#000" >250 <tspan font-family="Liberation Serif, serif" font-size="0.95em">&#956;</tspan>W</text><line x1="763" y1="1526.4" x2="763" y2="1534.4" stroke="#000" stroke-width="1.9"/><text x="763" y="1567.5" font-size="29.4" text-anchor="middle" font-weight="normal" fill="#000" >500</text><line x1="794.4" y1="1526.4" x2="794.4" y2="1530.4" stroke="#000" stroke-width="1.9"/><line x1="825.9" y1="1526.4" x2="825.9" y2="1534.4" stroke="#000" stroke-width="1.9"/><text x="825.9" y="1567.5" font-size="29.4" text-anchor="middle" font-weight="normal" fill="#000" >550</text><line x1="857.3" y1="1526.4" x2="857.3" y2="1530.4" stroke="#000" stroke-width="1.9"/><line x1="888.7" y1="1526.4" x2="888.7" y2="1534.4" stroke="#000" stroke-width="1.9"/><text x="888.7" y="1567.5" font-size="29.4" text-anchor="middle" font-weight="normal" fill="#000" >600</text><line x1="920.1" y1="1526.4" x2="920.1" y2="1530.4" stroke="#000" stroke-width="1.9"/><line x1="951.6" y1="1526.4" x2="951.6" y2="1534.4" stroke="#000" stroke-width="1.9"/><text x="951.6" y="1567.5" font-size="29.4" text-anchor="middle" font-weight="normal" fill="#000" >650</text><line x1="983" y1="1526.4" x2="983" y2="1530.4" stroke="#000" stroke-width="1.9"/><line x1="1014.4" y1="1526.4" x2="1014.4" y2="1534.4" stroke="#000" stroke-width="1.9"/><text x="1014.4" y="1567.5" font-size="29.4" text-anchor="middle" font-weight="normal" fill="#000" >700</text><line x1="1045.8" y1="1526.4" x2="1045.8" y2="1530.4" stroke="#000" stroke-width="1.9"/><line x1="1077.3" y1="1526.4" x2="1077.3" y2="1534.4" stroke="#000" stroke-width="1.9"/><text x="1077.3" y="1567.5" font-size="29.4" text-anchor="middle" font-weight="normal" fill="#000" >750</text><line x1="1108.7" y1="1526.4" x2="1108.7" y2="1530.4" stroke="#000" stroke-width="1.9"/><text x="936" y="1610.2" font-size="29.4" text-anchor="middle" font-weight="normal" fill="#000" >Wavelength (nm)</text><path d="M1257.6,654.3a1.8,1.8 0 1,0 -3.6,0a1.8,1.8 0 1,0 3.6,0M1258,665.9a1.8,1.8 0 1,0 -3.6,0a1.8,1.8 0 1,0 3.6,0M1258.4,668.8a1.8,1.8 0 1,0 -3.6,0a1.8,1.8 0 1,0 3.6,0M1258.9,685.6a1.8,1.8 0 1,0 -3.6,0a1.8,1.8 0 1,0 3.6,0M1259.3,672a1.8,1.8 0 1,0 -3.6,0a1.8,1.8 0 1,0 3.6,0M1259.7,672.6a1.8,1.8 0 1,0 -3.6,0a1.8,1.8 0 1,0 3.6,0M1260.1,670.3a1.8,1.8 0 1,0 -3.6,0a1.8,1.8 0 1,0 3.6,0M1260.6,675a1.8,1.8 0 1,0 -3.6,0a1.8,1.8 0 1,0 3.6,0M1261,670a1.8,1.8 0 1,0 -3.6,0a1.8,1.8 0 1,0 3.6,0M1261.4,673.7a1.8,1.8 0 1,0 -3.6,0a1.8,1.8 0 1,0 3.6,0M1261.8,680.9a1.8,1.8 0 1,0 -3.6,0a1.8,1.8 0 1,0 3.6,0M1262.2,662a1.8,1.8 0 1,0 -3.6,0a1.8,1.8 0 1,0 3.6,0M1262.7,662a1.8,1.8 0 1,0 -3.6,0a1.8,1.8 0 1,0 3.6,0M1263.1,654.9a1.8,1.8 0 1,0 -3.6,0a1.8,1.8 0 1,0 3.6,0M1263.5,669.2a1.8,1.8 0 1,0 -3.6,0a1.8,1.8 0 1,0 3.6,0M1263.9,673.1a1.8,1.8 0 1,0 -3.6,0a1.8,1.8 0 1,0 3.6,0M1264.3,674.3a1.8,1.8 0 1,0 -3.6,0a1.8,1.8 0 1,0 3.6,0M1264.8,682.9a1.8,1.8 0 1,0 -3.6,0a1.8,1.8 0 1,0 3.6,0M1265.2,661.2a1.8,1.8 0 1,0 -3.6,0a1.8,1.8 0 1,0 3.6,0M1265.6,679a1.8,1.8 0 1,0 -3.6,0a1.8,1.8 0 1,0 3.6,0M1266,679.8a1.8,1.8 0 1,0 -3.6,0a1.8,1.8 0 1,0 3.6,0M1266.5,671.4a1.8,1.8 0 1,0 -3.6,0a1.8,1.8 0 1,0 3.6,0M1266.9,656.9a1.8,1.8 0 1,0 -3.6,0a1.8,1.8 0 1,0 3.6,0M1267.3,667.6a1.8,1.8 0 1,0 -3.6,0a1.8,1.8 0 1,0 3.6,0M1267.7,678.4a1.8,1.8 0 1,0 -3.6,0a1.8,1.8 0 1,0 3.6,0M1268.1,675.7a1.8,1.8 0 1,0 -3.6,0a1.8,1.8 0 1,0 3.6,0M1268.6,664.2a1.8,1.8 0 1,0 -3.6,0a1.8,1.8 0 1,0 3.6,0M1269,671a1.8,1.8 0 1,0 -3.6,0a1.8,1.8 0 1,0 3.6,0M1269.4,676.2a1.8,1.8 0 1,0 -3.6,0a1.8,1.8 0 1,0 3.6,0M1269.8,671.6a1.8,1.8 0 1,0 -3.6,0a1.8,1.8 0 1,0 3.6,0M1270.3,663.2a1.8,1.8 0 1,0 -3.6,0a1.8,1.8 0 1,0 3.6,0M1270.7,652.7a1.8,1.8 0 1,0 -3.6,0a1.8,1.8 0 1,0 3.6,0M1271.1,680.3a1.8,1.8 0 1,0 -3.6,0a1.8,1.8 0 1,0 3.6,0M1271.5,675a1.8,1.8 0 1,0 -3.6,0a1.8,1.8 0 1,0 3.6,0M1271.9,676.5a1.8,1.8 0 1,0 -3.6,0a1.8,1.8 0 1,0 3.6,0M1272.4,690.3a1.8,1.8 0 1,0 -3.6,0a1.8,1.8 0 1,0 3.6,0M1272.8,677.5a1.8,1.8 0 1,0 -3.6,0a1.8,1.8 0 1,0 3.6,0M1273.2,678.4a1.8,1.8 0 1,0 -3.6,0a1.8,1.8 0 1,0 3.6,0M1273.6,660a1.8,1.8 0 1,0 -3.6,0a1.8,1.8 0 1,0 3.6,0M1274.1,670.7a1.8,1.8 0 1,0 -3.6,0a1.8,1.8 0 1,0 3.6,0M1274.5,683.5a1.8,1.8 0 1,0 -3.6,0a1.8,1.8 0 1,0 3.6,0M1274.9,664.1a1.8,1.8 0 1,0 -3.6,0a1.8,1.8 0 1,0 3.6,0M1275.3,672.7a1.8,1.8 0 1,0 -3.6,0a1.8,1.8 0 1,0 3.6,0M1275.7,684.5a1.8,1.8 0 1,0 -3.6,0a1.8,1.8 0 1,0 3.6,0M1276.2,674.7a1.8,1.8 0 1,0 -3.6,0a1.8,1.8 0 1,0 3.6,0M1276.6,674.6a1.8,1.8 0 1,0 -3.6,0a1.8,1.8 0 1,0 3.6,0M1277,677.1a1.8,1.8 0 1,0 -3.6,0a1.8,1.8 0 1,0 3.6,0M1277.4,669.3a1.8,1.8 0 1,0 -3.6,0a1.8,1.8 0 1,0 3.6,0M1277.8,688.9a1.8,1.8 0 1,0 -3.6,0a1.8,1.8 0 1,0 3.6,0M1278.3,671.9a1.8,1.8 0 1,0 -3.6,0a1.8,1.8 0 1,0 3.6,0M1278.7,660.9a1.8,1.8 0 1,0 -3.6,0a1.8,1.8 0 1,0 3.6,0M1279.1,662.3a1.8,1.8 0 1,0 -3.6,0a1.8,1.8 0 1,0 3.6,0M1279.5,660.1a1.8,1.8 0 1,0 -3.6,0a1.8,1.8 0 1,0 3.6,0M1280,660a1.8,1.8 0 1,0 -3.6,0a1.8,1.8 0 1,0 3.6,0M1280.4,656.8a1.8,1.8 0 1,0 -3.6,0a1.8,1.8 0 1,0 3.6,0M1280.8,679.2a1.8,1.8 0 1,0 -3.6,0a1.8,1.8 0 1,0 3.6,0M1281.2,662.3a1.8,1.8 0 1,0 -3.6,0a1.8,1.8 0 1,0 3.6,0M1281.6,685.6a1.8,1.8 0 1,0 -3.6,0a1.8,1.8 0 1,0 3.6,0M1282.1,674.8a1.8,1.8 0 1,0 -3.6,0a1.8,1.8 0 1,0 3.6,0M1282.5,686a1.8,1.8 0 1,0 -3.6,0a1.8,1.8 0 1,0 3.6,0M1282.9,660.6a1.8,1.8 0 1,0 -3.6,0a1.8,1.8 0 1,0 3.6,0M1283.3,658.2a1.8,1.8 0 1,0 -3.6,0a1.8,1.8 0 1,0 3.6,0M1283.8,671.3a1.8,1.8 0 1,0 -3.6,0a1.8,1.8 0 1,0 3.6,0M1284.2,654.4a1.8,1.8 0 1,0 -3.6,0a1.8,1.8 0 1,0 3.6,0M1284.6,675.4a1.8,1.8 0 1,0 -3.6,0a1.8,1.8 0 1,0 3.6,0M1285,668.3a1.8,1.8 0 1,0 -3.6,0a1.8,1.8 0 1,0 3.6,0M1285.4,668.3a1.8,1.8 0 1,0 -3.6,0a1.8,1.8 0 1,0 3.6,0M1285.9,678.7a1.8,1.8 0 1,0 -3.6,0a1.8,1.8 0 1,0 3.6,0M1286.3,665.8a1.8,1.8 0 1,0 -3.6,0a1.8,1.8 0 1,0 3.6,0M1286.7,653a1.8,1.8 0 1,0 -3.6,0a1.8,1.8 0 1,0 3.6,0M1287.1,678.4a1.8,1.8 0 1,0 -3.6,0a1.8,1.8 0 1,0 3.6,0M1287.6,661.9a1.8,1.8 0 1,0 -3.6,0a1.8,1.8 0 1,0 3.6,0M1288,670.9a1.8,1.8 0 1,0 -3.6,0a1.8,1.8 0 1,0 3.6,0M1288.4,654.4a1.8,1.8 0 1,0 -3.6,0a1.8,1.8 0 1,0 3.6,0M1288.8,665.5a1.8,1.8 0 1,0 -3.6,0a1.8,1.8 0 1,0 3.6,0M1289.2,663.8a1.8,1.8 0 1,0 -3.6,0a1.8,1.8 0 1,0 3.6,0M1289.7,664.1a1.8,1.8 0 1,0 -3.6,0a1.8,1.8 0 1,0 3.6,0M1290.1,667.5a1.8,1.8 0 1,0 -3.6,0a1.8,1.8 0 1,0 3.6,0M1290.5,681.6a1.8,1.8 0 1,0 -3.6,0a1.8,1.8 0 1,0 3.6,0M1290.9,657.7a1.8,1.8 0 1,0 -3.6,0a1.8,1.8 0 1,0 3.6,0M1291.3,681.3a1.8,1.8 0 1,0 -3.6,0a1.8,1.8 0 1,0 3.6,0M1291.8,667.6a1.8,1.8 0 1,0 -3.6,0a1.8,1.8 0 1,0 3.6,0M1292.2,664.3a1.8,1.8 0 1,0 -3.6,0a1.8,1.8 0 1,0 3.6,0M1292.6,676.8a1.8,1.8 0 1,0 -3.6,0a1.8,1.8 0 1,0 3.6,0M1293,668.4a1.8,1.8 0 1,0 -3.6,0a1.8,1.8 0 1,0 3.6,0M1293.5,659.6a1.8,1.8 0 1,0 -3.6,0a1.8,1.8 0 1,0 3.6,0M1293.9,669.8a1.8,1.8 0 1,0 -3.6,0a1.8,1.8 0 1,0 3.6,0M1294.3,677.2a1.8,1.8 0 1,0 -3.6,0a1.8,1.8 0 1,0 3.6,0M1294.7,694.6a1.8,1.8 0 1,0 -3.6,0a1.8,1.8 0 1,0 3.6,0M1295.1,677.9a1.8,1.8 0 1,0 -3.6,0a1.8,1.8 0 1,0 3.6,0M1295.6,674.7a1.8,1.8 0 1,0 -3.6,0a1.8,1.8 0 1,0 3.6,0M1296,674a1.8,1.8 0 1,0 -3.6,0a1.8,1.8 0 1,0 3.6,0M1296.4,677.8a1.8,1.8 0 1,0 -3.6,0a1.8,1.8 0 1,0 3.6,0M1296.8,666.4a1.8,1.8 0 1,0 -3.6,0a1.8,1.8 0 1,0 3.6,0M1297.3,674.5a1.8,1.8 0 1,0 -3.6,0a1.8,1.8 0 1,0 3.6,0M1297.7,670.5a1.8,1.8 0 1,0 -3.6,0a1.8,1.8 0 1,0 3.6,0M1298.1,663.8a1.8,1.8 0 1,0 -3.6,0a1.8,1.8 0 1,0 3.6,0M1298.5,676.9a1.8,1.8 0 1,0 -3.6,0a1.8,1.8 0 1,0 3.6,0M1298.9,672.2a1.8,1.8 0 1,0 -3.6,0a1.8,1.8 0 1,0 3.6,0M1299.4,651.1a1.8,1.8 0 1,0 -3.6,0a1.8,1.8 0 1,0 3.6,0M1299.8,662.1a1.8,1.8 0 1,0 -3.6,0a1.8,1.8 0 1,0 3.6,0M1300.2,680.7a1.8,1.8 0 1,0 -3.6,0a1.8,1.8 0 1,0 3.6,0M1300.6,670.3a1.8,1.8 0 1,0 -3.6,0a1.8,1.8 0 1,0 3.6,0M1301.1,664.8a1.8,1.8 0 1,0 -3.6,0a1.8,1.8 0 1,0 3.6,0M1301.5,659a1.8,1.8 0 1,0 -3.6,0a1.8,1.8 0 1,0 3.6,0M1301.9,668.3a1.8,1.8 0 1,0 -3.6,0a1.8,1.8 0 1,0 3.6,0M1302.3,674.1a1.8,1.8 0 1,0 -3.6,0a1.8,1.8 0 1,0 3.6,0M1302.7,675.9a1.8,1.8 0 1,0 -3.6,0a1.8,1.8 0 1,0 3.6,0M1303.2,664.1a1.8,1.8 0 1,0 -3.6,0a1.8,1.8 0 1,0 3.6,0M1303.6,666.9a1.8,1.8 0 1,0 -3.6,0a1.8,1.8 0 1,0 3.6,0M1304,674a1.8,1.8 0 1,0 -3.6,0a1.8,1.8 0 1,0 3.6,0M1304.4,671.2a1.8,1.8 0 1,0 -3.6,0a1.8,1.8 0 1,0 3.6,0M1304.8,673.2a1.8,1.8 0 1,0 -3.6,0a1.8,1.8 0 1,0 3.6,0M1305.3,663.4a1.8,1.8 0 1,0 -3.6,0a1.8,1.8 0 1,0 3.6,0M1305.7,675.5a1.8,1.8 0 1,0 -3.6,0a1.8,1.8 0 1,0 3.6,0M1306.1,665.4a1.8,1.8 0 1,0 -3.6,0a1.8,1.8 0 1,0 3.6,0M1306.5,662.3a1.8,1.8 0 1,0 -3.6,0a1.8,1.8 0 1,0 3.6,0M1307,665.4a1.8,1.8 0 1,0 -3.6,0a1.8,1.8 0 1,0 3.6,0M1307.4,676.8a1.8,1.8 0 1,0 -3.6,0a1.8,1.8 0 1,0 3.6,0M1307.8,658.1a1.8,1.8 0 1,0 -3.6,0a1.8,1.8 0 1,0 3.6,0M1308.2,675.4a1.8,1.8 0 1,0 -3.6,0a1.8,1.8 0 1,0 3.6,0M1308.6,665.9a1.8,1.8 0 1,0 -3.6,0a1.8,1.8 0 1,0 3.6,0M1309.1,676.1a1.8,1.8 0 1,0 -3.6,0a1.8,1.8 0 1,0 3.6,0M1309.5,684.6a1.8,1.8 0 1,0 -3.6,0a1.8,1.8 0 1,0 3.6,0M1309.9,667.7a1.8,1.8 0 1,0 -3.6,0a1.8,1.8 0 1,0 3.6,0M1310.3,667.1a1.8,1.8 0 1,0 -3.6,0a1.8,1.8 0 1,0 3.6,0M1310.8,670.3a1.8,1.8 0 1,0 -3.6,0a1.8,1.8 0 1,0 3.6,0M1311.2,667.2a1.8,1.8 0 1,0 -3.6,0a1.8,1.8 0 1,0 3.6,0M1311.6,675.2a1.8,1.8 0 1,0 -3.6,0a1.8,1.8 0 1,0 3.6,0M1312,675.9a1.8,1.8 0 1,0 -3.6,0a1.8,1.8 0 1,0 3.6,0M1312.4,671a1.8,1.8 0 1,0 -3.6,0a1.8,1.8 0 1,0 3.6,0M1312.9,653.2a1.8,1.8 0 1,0 -3.6,0a1.8,1.8 0 1,0 3.6,0M1313.3,662.6a1.8,1.8 0 1,0 -3.6,0a1.8,1.8 0 1,0 3.6,0M1313.7,674.1a1.8,1.8 0 1,0 -3.6,0a1.8,1.8 0 1,0 3.6,0M1314.1,664.8a1.8,1.8 0 1,0 -3.6,0a1.8,1.8 0 1,0 3.6,0M1314.6,673.7a1.8,1.8 0 1,0 -3.6,0a1.8,1.8 0 1,0 3.6,0M1315,673.5a1.8,1.8 0 1,0 -3.6,0a1.8,1.8 0 1,0 3.6,0M1315.4,662.2a1.8,1.8 0 1,0 -3.6,0a1.8,1.8 0 1,0 3.6,0M1315.8,674.1a1.8,1.8 0 1,0 -3.6,0a1.8,1.8 0 1,0 3.6,0M1316.2,684a1.8,1.8 0 1,0 -3.6,0a1.8,1.8 0 1,0 3.6,0M1316.7,677.4a1.8,1.8 0 1,0 -3.6,0a1.8,1.8 0 1,0 3.6,0M1317.1,668.8a1.8,1.8 0 1,0 -3.6,0a1.8,1.8 0 1,0 3.6,0M1317.5,668.5a1.8,1.8 0 1,0 -3.6,0a1.8,1.8 0 1,0 3.6,0M1317.9,659a1.8,1.8 0 1,0 -3.6,0a1.8,1.8 0 1,0 3.6,0M1318.3,675.7a1.8,1.8 0 1,0 -3.6,0a1.8,1.8 0 1,0 3.6,0M1318.8,663.3a1.8,1.8 0 1,0 -3.6,0a1.8,1.8 0 1,0 3.6,0M1319.2,665.9a1.8,1.8 0 1,0 -3.6,0a1.8,1.8 0 1,0 3.6,0M1319.6,670.9a1.8,1.8 0 1,0 -3.6,0a1.8,1.8 0 1,0 3.6,0M1320,662.4a1.8,1.8 0 1,0 -3.6,0a1.8,1.8 0 1,0 3.6,0M1320.5,665.4a1.8,1.8 0 1,0 -3.6,0a1.8,1.8 0 1,0 3.6,0M1320.9,677a1.8,1.8 0 1,0 -3.6,0a1.8,1.8 0 1,0 3.6,0M1321.3,660.4a1.8,1.8 0 1,0 -3.6,0a1.8,1.8 0 1,0 3.6,0M1321.7,680.1a1.8,1.8 0 1,0 -3.6,0a1.8,1.8 0 1,0 3.6,0M1322.1,669.1a1.8,1.8 0 1,0 -3.6,0a1.8,1.8 0 1,0 3.6,0M1322.6,669.6a1.8,1.8 0 1,0 -3.6,0a1.8,1.8 0 1,0 3.6,0M1323,666a1.8,1.8 0 1,0 -3.6,0a1.8,1.8 0 1,0 3.6,0M1323.4,675.8a1.8,1.8 0 1,0 -3.6,0a1.8,1.8 0 1,0 3.6,0M1323.8,669.9a1.8,1.8 0 1,0 -3.6,0a1.8,1.8 0 1,0 3.6,0M1324.3,670.8a1.8,1.8 0 1,0 -3.6,0a1.8,1.8 0 1,0 3.6,0M1324.7,661.1a1.8,1.8 0 1,0 -3.6,0a1.8,1.8 0 1,0 3.6,0M1325.1,676.4a1.8,1.8 0 1,0 -3.6,0a1.8,1.8 0 1,0 3.6,0M1325.5,669a1.8,1.8 0 1,0 -3.6,0a1.8,1.8 0 1,0 3.6,0M1325.9,671.8a1.8,1.8 0 1,0 -3.6,0a1.8,1.8 0 1,0 3.6,0M1326.4,680.7a1.8,1.8 0 1,0 -3.6,0a1.8,1.8 0 1,0 3.6,0M1326.8,646.7a1.8,1.8 0 1,0 -3.6,0a1.8,1.8 0 1,0 3.6,0M1327.2,670.2a1.8,1.8 0 1,0 -3.6,0a1.8,1.8 0 1,0 3.6,0M1327.6,682.3a1.8,1.8 0 1,0 -3.6,0a1.8,1.8 0 1,0 3.6,0M1328,657.5a1.8,1.8 0 1,0 -3.6,0a1.8,1.8 0 1,0 3.6,0M1328.5,678.8a1.8,1.8 0 1,0 -3.6,0a1.8,1.8 0 1,0 3.6,0M1328.9,666.4a1.8,1.8 0 1,0 -3.6,0a1.8,1.8 0 1,0 3.6,0M1329.3,662.2a1.8,1.8 0 1,0 -3.6,0a1.8,1.8 0 1,0 3.6,0M1329.7,675.2a1.8,1.8 0 1,0 -3.6,0a1.8,1.8 0 1,0 3.6,0M1330.2,673.3a1.8,1.8 0 1,0 -3.6,0a1.8,1.8 0 1,0 3.6,0M1330.6,674.2a1.8,1.8 0 1,0 -3.6,0a1.8,1.8 0 1,0 3.6,0M1331,670.7a1.8,1.8 0 1,0 -3.6,0a1.8,1.8 0 1,0 3.6,0M1331.4,683.5a1.8,1.8 0 1,0 -3.6,0a1.8,1.8 0 1,0 3.6,0M1331.8,680.2a1.8,1.8 0 1,0 -3.6,0a1.8,1.8 0 1,0 3.6,0M1332.3,670.8a1.8,1.8 0 1,0 -3.6,0a1.8,1.8 0 1,0 3.6,0M1332.7,660.7a1.8,1.8 0 1,0 -3.6,0a1.8,1.8 0 1,0 3.6,0M1333.1,664.2a1.8,1.8 0 1,0 -3.6,0a1.8,1.8 0 1,0 3.6,0M1333.5,654.8a1.8,1.8 0 1,0 -3.6,0a1.8,1.8 0 1,0 3.6,0M1334,663.7a1.8,1.8 0 1,0 -3.6,0a1.8,1.8 0 1,0 3.6,0M1334.4,674a1.8,1.8 0 1,0 -3.6,0a1.8,1.8 0 1,0 3.6,0M1334.8,670.7a1.8,1.8 0 1,0 -3.6,0a1.8,1.8 0 1,0 3.6,0M1335.2,687a1.8,1.8 0 1,0 -3.6,0a1.8,1.8 0 1,0 3.6,0M1335.6,677.8a1.8,1.8 0 1,0 -3.6,0a1.8,1.8 0 1,0 3.6,0M1336.1,678.3a1.8,1.8 0 1,0 -3.6,0a1.8,1.8 0 1,0 3.6,0M1336.5,667.3a1.8,1.8 0 1,0 -3.6,0a1.8,1.8 0 1,0 3.6,0M1336.9,664a1.8,1.8 0 1,0 -3.6,0a1.8,1.8 0 1,0 3.6,0M1337.3,674.4a1.8,1.8 0 1,0 -3.6,0a1.8,1.8 0 1,0 3.6,0M1337.8,674.6a1.8,1.8 0 1,0 -3.6,0a1.8,1.8 0 1,0 3.6,0M1338.2,682.9a1.8,1.8 0 1,0 -3.6,0a1.8,1.8 0 1,0 3.6,0M1338.6,670.7a1.8,1.8 0 1,0 -3.6,0a1.8,1.8 0 1,0 3.6,0M1339,667.5a1.8,1.8 0 1,0 -3.6,0a1.8,1.8 0 1,0 3.6,0M1339.4,665.8a1.8,1.8 0 1,0 -3.6,0a1.8,1.8 0 1,0 3.6,0M1339.9,676.3a1.8,1.8 0 1,0 -3.6,0a1.8,1.8 0 1,0 3.6,0M1340.3,652.6a1.8,1.8 0 1,0 -3.6,0a1.8,1.8 0 1,0 3.6,0M1340.7,659.4a1.8,1.8 0 1,0 -3.6,0a1.8,1.8 0 1,0 3.6,0M1341.1,670.4a1.8,1.8 0 1,0 -3.6,0a1.8,1.8 0 1,0 3.6,0M1341.5,674.1a1.8,1.8 0 1,0 -3.6,0a1.8,1.8 0 1,0 3.6,0M1342,672.4a1.8,1.8 0 1,0 -3.6,0a1.8,1.8 0 1,0 3.6,0M1342.4,668.3a1.8,1.8 0 1,0 -3.6,0a1.8,1.8 0 1,0 3.6,0M1342.8,669.8a1.8,1.8 0 1,0 -3.6,0a1.8,1.8 0 1,0 3.6,0M1343.2,665.5a1.8,1.8 0 1,0 -3.6,0a1.8,1.8 0 1,0 3.6,0M1343.7,663a1.8,1.8 0 1,0 -3.6,0a1.8,1.8 0 1,0 3.6,0M1344.1,657.9a1.8,1.8 0 1,0 -3.6,0a1.8,1.8 0 1,0 3.6,0M1344.5,659.8a1.8,1.8 0 1,0 -3.6,0a1.8,1.8 0 1,0 3.6,0M1344.9,670.5a1.8,1.8 0 1,0 -3.6,0a1.8,1.8 0 1,0 3.6,0M1345.3,666.3a1.8,1.8 0 1,0 -3.6,0a1.8,1.8 0 1,0 3.6,0M1345.8,672.9a1.8,1.8 0 1,0 -3.6,0a1.8,1.8 0 1,0 3.6,0M1346.2,674.6a1.8,1.8 0 1,0 -3.6,0a1.8,1.8 0 1,0 3.6,0M1346.6,653.2a1.8,1.8 0 1,0 -3.6,0a1.8,1.8 0 1,0 3.6,0M1347,673.5a1.8,1.8 0 1,0 -3.6,0a1.8,1.8 0 1,0 3.6,0M1347.5,652.6a1.8,1.8 0 1,0 -3.6,0a1.8,1.8 0 1,0 3.6,0M1347.9,672.6a1.8,1.8 0 1,0 -3.6,0a1.8,1.8 0 1,0 3.6,0M1348.3,667.4a1.8,1.8 0 1,0 -3.6,0a1.8,1.8 0 1,0 3.6,0M1348.7,660.3a1.8,1.8 0 1,0 -3.6,0a1.8,1.8 0 1,0 3.6,0M1349.1,669.4a1.8,1.8 0 1,0 -3.6,0a1.8,1.8 0 1,0 3.6,0M1349.6,666.2a1.8,1.8 0 1,0 -3.6,0a1.8,1.8 0 1,0 3.6,0M1350,671.7a1.8,1.8 0 1,0 -3.6,0a1.8,1.8 0 1,0 3.6,0M1350.4,673.7a1.8,1.8 0 1,0 -3.6,0a1.8,1.8 0 1,0 3.6,0M1350.8,671a1.8,1.8 0 1,0 -3.6,0a1.8,1.8 0 1,0 3.6,0M1351.3,675.2a1.8,1.8 0 1,0 -3.6,0a1.8,1.8 0 1,0 3.6,0M1351.7,655.6a1.8,1.8 0 1,0 -3.6,0a1.8,1.8 0 1,0 3.6,0M1352.1,671a1.8,1.8 0 1,0 -3.6,0a1.8,1.8 0 1,0 3.6,0M1352.5,654.9a1.8,1.8 0 1,0 -3.6,0a1.8,1.8 0 1,0 3.6,0M1352.9,692.6a1.8,1.8 0 1,0 -3.6,0a1.8,1.8 0 1,0 3.6,0M1353.4,669.4a1.8,1.8 0 1,0 -3.6,0a1.8,1.8 0 1,0 3.6,0M1353.8,664.8a1.8,1.8 0 1,0 -3.6,0a1.8,1.8 0 1,0 3.6,0M1354.2,672.1a1.8,1.8 0 1,0 -3.6,0a1.8,1.8 0 1,0 3.6,0M1354.6,660.2a1.8,1.8 0 1,0 -3.6,0a1.8,1.8 0 1,0 3.6,0M1355,664.1a1.8,1.8 0 1,0 -3.6,0a1.8,1.8 0 1,0 3.6,0M1355.5,672a1.8,1.8 0 1,0 -3.6,0a1.8,1.8 0 1,0 3.6,0M1355.9,665.9a1.8,1.8 0 1,0 -3.6,0a1.8,1.8 0 1,0 3.6,0M1356.3,645.5a1.8,1.8 0 1,0 -3.6,0a1.8,1.8 0 1,0 3.6,0M1356.7,667.5a1.8,1.8 0 1,0 -3.6,0a1.8,1.8 0 1,0 3.6,0M1357.2,667a1.8,1.8 0 1,0 -3.6,0a1.8,1.8 0 1,0 3.6,0M1357.6,673.4a1.8,1.8 0 1,0 -3.6,0a1.8,1.8 0 1,0 3.6,0M1358,668.5a1.8,1.8 0 1,0 -3.6,0a1.8,1.8 0 1,0 3.6,0M1358.4,680.6a1.8,1.8 0 1,0 -3.6,0a1.8,1.8 0 1,0 3.6,0M1358.8,671.3a1.8,1.8 0 1,0 -3.6,0a1.8,1.8 0 1,0 3.6,0M1359.3,648.6a1.8,1.8 0 1,0 -3.6,0a1.8,1.8 0 1,0 3.6,0M1359.7,660.5a1.8,1.8 0 1,0 -3.6,0a1.8,1.8 0 1,0 3.6,0M1360.1,664.1a1.8,1.8 0 1,0 -3.6,0a1.8,1.8 0 1,0 3.6,0M1360.5,660.2a1.8,1.8 0 1,0 -3.6,0a1.8,1.8 0 1,0 3.6,0M1361,653.5a1.8,1.8 0 1,0 -3.6,0a1.8,1.8 0 1,0 3.6,0M1361.4,664.5a1.8,1.8 0 1,0 -3.6,0a1.8,1.8 0 1,0 3.6,0M1361.8,651.9a1.8,1.8 0 1,0 -3.6,0a1.8,1.8 0 1,0 3.6,0M1362.2,660.5a1.8,1.8 0 1,0 -3.6,0a1.8,1.8 0 1,0 3.6,0M1362.6,668.2a1.8,1.8 0 1,0 -3.6,0a1.8,1.8 0 1,0 3.6,0M1363.1,654.9a1.8,1.8 0 1,0 -3.6,0a1.8,1.8 0 1,0 3.6,0M1363.5,689.8a1.8,1.8 0 1,0 -3.6,0a1.8,1.8 0 1,0 3.6,0M1363.9,674.5a1.8,1.8 0 1,0 -3.6,0a1.8,1.8 0 1,0 3.6,0M1364.3,667.4a1.8,1.8 0 1,0 -3.6,0a1.8,1.8 0 1,0 3.6,0M1364.8,677.4a1.8,1.8 0 1,0 -3.6,0a1.8,1.8 0 1,0 3.6,0M1365.2,671a1.8,1.8 0 1,0 -3.6,0a1.8,1.8 0 1,0 3.6,0M1365.6,675.1a1.8,1.8 0 1,0 -3.6,0a1.8,1.8 0 1,0 3.6,0M1366,675.2a1.8,1.8 0 1,0 -3.6,0a1.8,1.8 0 1,0 3.6,0M1366.4,646.5a1.8,1.8 0 1,0 -3.6,0a1.8,1.8 0 1,0 3.6,0M1366.9,664.3a1.8,1.8 0 1,0 -3.6,0a1.8,1.8 0 1,0 3.6,0M1367.3,670.1a1.8,1.8 0 1,0 -3.6,0a1.8,1.8 0 1,0 3.6,0M1367.7,658.4a1.8,1.8 0 1,0 -3.6,0a1.8,1.8 0 1,0 3.6,0M1368.1,671.7a1.8,1.8 0 1,0 -3.6,0a1.8,1.8 0 1,0 3.6,0M1368.5,662.1a1.8,1.8 0 1,0 -3.6,0a1.8,1.8 0 1,0 3.6,0M1369,666.6a1.8,1.8 0 1,0 -3.6,0a1.8,1.8 0 1,0 3.6,0M1369.4,655.8a1.8,1.8 0 1,0 -3.6,0a1.8,1.8 0 1,0 3.6,0M1369.8,681.8a1.8,1.8 0 1,0 -3.6,0a1.8,1.8 0 1,0 3.6,0M1370.2,663.1a1.8,1.8 0 1,0 -3.6,0a1.8,1.8 0 1,0 3.6,0M1370.7,668.6a1.8,1.8 0 1,0 -3.6,0a1.8,1.8 0 1,0 3.6,0M1371.1,679.5a1.8,1.8 0 1,0 -3.6,0a1.8,1.8 0 1,0 3.6,0M1371.5,660.6a1.8,1.8 0 1,0 -3.6,0a1.8,1.8 0 1,0 3.6,0M1371.9,677.1a1.8,1.8 0 1,0 -3.6,0a1.8,1.8 0 1,0 3.6,0M1372.3,655.9a1.8,1.8 0 1,0 -3.6,0a1.8,1.8 0 1,0 3.6,0M1372.8,665.3a1.8,1.8 0 1,0 -3.6,0a1.8,1.8 0 1,0 3.6,0M1373.2,663.7a1.8,1.8 0 1,0 -3.6,0a1.8,1.8 0 1,0 3.6,0M1373.6,669a1.8,1.8 0 1,0 -3.6,0a1.8,1.8 0 1,0 3.6,0M1374,662a1.8,1.8 0 1,0 -3.6,0a1.8,1.8 0 1,0 3.6,0M1374.5,685.6a1.8,1.8 0 1,0 -3.6,0a1.8,1.8 0 1,0 3.6,0M1374.9,669a1.8,1.8 0 1,0 -3.6,0a1.8,1.8 0 1,0 3.6,0M1375.3,675a1.8,1.8 0 1,0 -3.6,0a1.8,1.8 0 1,0 3.6,0M1375.7,667.3a1.8,1.8 0 1,0 -3.6,0a1.8,1.8 0 1,0 3.6,0M1376.1,670.1a1.8,1.8 0 1,0 -3.6,0a1.8,1.8 0 1,0 3.6,0M1376.6,664.5a1.8,1.8 0 1,0 -3.6,0a1.8,1.8 0 1,0 3.6,0M1377,676.8a1.8,1.8 0 1,0 -3.6,0a1.8,1.8 0 1,0 3.6,0M1377.4,654.1a1.8,1.8 0 1,0 -3.6,0a1.8,1.8 0 1,0 3.6,0M1377.8,650a1.8,1.8 0 1,0 -3.6,0a1.8,1.8 0 1,0 3.6,0M1378.3,671.5a1.8,1.8 0 1,0 -3.6,0a1.8,1.8 0 1,0 3.6,0M1378.7,669.9a1.8,1.8 0 1,0 -3.6,0a1.8,1.8 0 1,0 3.6,0M1379.1,667.3a1.8,1.8 0 1,0 -3.6,0a1.8,1.8 0 1,0 3.6,0M1379.5,659a1.8,1.8 0 1,0 -3.6,0a1.8,1.8 0 1,0 3.6,0M1379.9,653.7a1.8,1.8 0 1,0 -3.6,0a1.8,1.8 0 1,0 3.6,0M1380.4,680a1.8,1.8 0 1,0 -3.6,0a1.8,1.8 0 1,0 3.6,0M1380.8,675a1.8,1.8 0 1,0 -3.6,0a1.8,1.8 0 1,0 3.6,0M1381.2,678.8a1.8,1.8 0 1,0 -3.6,0a1.8,1.8 0 1,0 3.6,0M1381.6,679.2a1.8,1.8 0 1,0 -3.6,0a1.8,1.8 0 1,0 3.6,0M1382,683.7a1.8,1.8 0 1,0 -3.6,0a1.8,1.8 0 1,0 3.6,0M1382.5,666.8a1.8,1.8 0 1,0 -3.6,0a1.8,1.8 0 1,0 3.6,0M1382.9,679.6a1.8,1.8 0 1,0 -3.6,0a1.8,1.8 0 1,0 3.6,0M1383.3,657.1a1.8,1.8 0 1,0 -3.6,0a1.8,1.8 0 1,0 3.6,0M1383.7,662.2a1.8,1.8 0 1,0 -3.6,0a1.8,1.8 0 1,0 3.6,0M1384.2,678.6a1.8,1.8 0 1,0 -3.6,0a1.8,1.8 0 1,0 3.6,0M1384.6,678.6a1.8,1.8 0 1,0 -3.6,0a1.8,1.8 0 1,0 3.6,0M1385,675.1a1.8,1.8 0 1,0 -3.6,0a1.8,1.8 0 1,0 3.6,0M1385.4,658.1a1.8,1.8 0 1,0 -3.6,0a1.8,1.8 0 1,0 3.6,0M1385.8,677.1a1.8,1.8 0 1,0 -3.6,0a1.8,1.8 0 1,0 3.6,0M1386.3,682.6a1.8,1.8 0 1,0 -3.6,0a1.8,1.8 0 1,0 3.6,0M1386.7,670.4a1.8,1.8 0 1,0 -3.6,0a1.8,1.8 0 1,0 3.6,0M1387.1,666.9a1.8,1.8 0 1,0 -3.6,0a1.8,1.8 0 1,0 3.6,0M1387.5,675.6a1.8,1.8 0 1,0 -3.6,0a1.8,1.8 0 1,0 3.6,0M1388,656.4a1.8,1.8 0 1,0 -3.6,0a1.8,1.8 0 1,0 3.6,0M1388.4,668.1a1.8,1.8 0 1,0 -3.6,0a1.8,1.8 0 1,0 3.6,0M1388.8,666.3a1.8,1.8 0 1,0 -3.6,0a1.8,1.8 0 1,0 3.6,0M1389.2,677.3a1.8,1.8 0 1,0 -3.6,0a1.8,1.8 0 1,0 3.6,0M1389.6,670.5a1.8,1.8 0 1,0 -3.6,0a1.8,1.8 0 1,0 3.6,0M1390.1,671.5a1.8,1.8 0 1,0 -3.6,0a1.8,1.8 0 1,0 3.6,0M1390.5,689.3a1.8,1.8 0 1,0 -3.6,0a1.8,1.8 0 1,0 3.6,0M1390.9,667.9a1.8,1.8 0 1,0 -3.6,0a1.8,1.8 0 1,0 3.6,0M1391.3,685.3a1.8,1.8 0 1,0 -3.6,0a1.8,1.8 0 1,0 3.6,0M1391.8,670.6a1.8,1.8 0 1,0 -3.6,0a1.8,1.8 0 1,0 3.6,0M1392.2,682.7a1.8,1.8 0 1,0 -3.6,0a1.8,1.8 0 1,0 3.6,0M1392.6,653.6a1.8,1.8 0 1,0 -3.6,0a1.8,1.8 0 1,0 3.6,0M1393,667.8a1.8,1.8 0 1,0 -3.6,0a1.8,1.8 0 1,0 3.6,0M1393.4,663.3a1.8,1.8 0 1,0 -3.6,0a1.8,1.8 0 1,0 3.6,0M1393.9,662.9a1.8,1.8 0 1,0 -3.6,0a1.8,1.8 0 1,0 3.6,0M1394.3,681.6a1.8,1.8 0 1,0 -3.6,0a1.8,1.8 0 1,0 3.6,0M1394.7,689.6a1.8,1.8 0 1,0 -3.6,0a1.8,1.8 0 1,0 3.6,0M1395.1,673.5a1.8,1.8 0 1,0 -3.6,0a1.8,1.8 0 1,0 3.6,0M1395.5,663.4a1.8,1.8 0 1,0 -3.6,0a1.8,1.8 0 1,0 3.6,0M1396,670.1a1.8,1.8 0 1,0 -3.6,0a1.8,1.8 0 1,0 3.6,0M1396.4,664.5a1.8,1.8 0 1,0 -3.6,0a1.8,1.8 0 1,0 3.6,0M1396.8,663.3a1.8,1.8 0 1,0 -3.6,0a1.8,1.8 0 1,0 3.6,0M1397.2,683.4a1.8,1.8 0 1,0 -3.6,0a1.8,1.8 0 1,0 3.6,0M1397.7,668.8a1.8,1.8 0 1,0 -3.6,0a1.8,1.8 0 1,0 3.6,0M1398.1,655.1a1.8,1.8 0 1,0 -3.6,0a1.8,1.8 0 1,0 3.6,0M1398.5,676a1.8,1.8 0 1,0 -3.6,0a1.8,1.8 0 1,0 3.6,0M1398.9,688.1a1.8,1.8 0 1,0 -3.6,0a1.8,1.8 0 1,0 3.6,0M1399.3,673.5a1.8,1.8 0 1,0 -3.6,0a1.8,1.8 0 1,0 3.6,0M1399.8,675.5a1.8,1.8 0 1,0 -3.6,0a1.8,1.8 0 1,0 3.6,0M1400.2,668.4a1.8,1.8 0 1,0 -3.6,0a1.8,1.8 0 1,0 3.6,0M1400.6,679.2a1.8,1.8 0 1,0 -3.6,0a1.8,1.8 0 1,0 3.6,0M1401,671.3a1.8,1.8 0 1,0 -3.6,0a1.8,1.8 0 1,0 3.6,0M1401.5,690.2a1.8,1.8 0 1,0 -3.6,0a1.8,1.8 0 1,0 3.6,0M1401.9,665.4a1.8,1.8 0 1,0 -3.6,0a1.8,1.8 0 1,0 3.6,0M1402.3,659.7a1.8,1.8 0 1,0 -3.6,0a1.8,1.8 0 1,0 3.6,0M1402.7,662.2a1.8,1.8 0 1,0 -3.6,0a1.8,1.8 0 1,0 3.6,0M1403.1,685a1.8,1.8 0 1,0 -3.6,0a1.8,1.8 0 1,0 3.6,0M1403.6,670.4a1.8,1.8 0 1,0 -3.6,0a1.8,1.8 0 1,0 3.6,0M1404,697.1a1.8,1.8 0 1,0 -3.6,0a1.8,1.8 0 1,0 3.6,0M1404.4,671.1a1.8,1.8 0 1,0 -3.6,0a1.8,1.8 0 1,0 3.6,0M1404.8,674.1a1.8,1.8 0 1,0 -3.6,0a1.8,1.8 0 1,0 3.6,0M1405.2,681.7a1.8,1.8 0 1,0 -3.6,0a1.8,1.8 0 1,0 3.6,0M1405.7,671.3a1.8,1.8 0 1,0 -3.6,0a1.8,1.8 0 1,0 3.6,0M1406.1,673.2a1.8,1.8 0 1,0 -3.6,0a1.8,1.8 0 1,0 3.6,0M1406.5,667.1a1.8,1.8 0 1,0 -3.6,0a1.8,1.8 0 1,0 3.6,0M1406.9,673.8a1.8,1.8 0 1,0 -3.6,0a1.8,1.8 0 1,0 3.6,0M1407.4,673.3a1.8,1.8 0 1,0 -3.6,0a1.8,1.8 0 1,0 3.6,0M1407.8,690.6a1.8,1.8 0 1,0 -3.6,0a1.8,1.8 0 1,0 3.6,0M1408.2,684.8a1.8,1.8 0 1,0 -3.6,0a1.8,1.8 0 1,0 3.6,0M1408.6,679.8a1.8,1.8 0 1,0 -3.6,0a1.8,1.8 0 1,0 3.6,0M1409,674.2a1.8,1.8 0 1,0 -3.6,0a1.8,1.8 0 1,0 3.6,0M1409.5,676.9a1.8,1.8 0 1,0 -3.6,0a1.8,1.8 0 1,0 3.6,0M1409.9,665.7a1.8,1.8 0 1,0 -3.6,0a1.8,1.8 0 1,0 3.6,0M1410.3,684.3a1.8,1.8 0 1,0 -3.6,0a1.8,1.8 0 1,0 3.6,0M1410.7,679.9a1.8,1.8 0 1,0 -3.6,0a1.8,1.8 0 1,0 3.6,0M1411.2,676.6a1.8,1.8 0 1,0 -3.6,0a1.8,1.8 0 1,0 3.6,0M1411.6,680.8a1.8,1.8 0 1,0 -3.6,0a1.8,1.8 0 1,0 3.6,0M1412,675.9a1.8,1.8 0 1,0 -3.6,0a1.8,1.8 0 1,0 3.6,0M1412.4,684.5a1.8,1.8 0 1,0 -3.6,0a1.8,1.8 0 1,0 3.6,0M1412.8,670.2a1.8,1.8 0 1,0 -3.6,0a1.8,1.8 0 1,0 3.6,0M1413.3,683.8a1.8,1.8 0 1,0 -3.6,0a1.8,1.8 0 1,0 3.6,0M1413.7,673.8a1.8,1.8 0 1,0 -3.6,0a1.8,1.8 0 1,0 3.6,0M1414.1,683a1.8,1.8 0 1,0 -3.6,0a1.8,1.8 0 1,0 3.6,0M1414.5,672.6a1.8,1.8 0 1,0 -3.6,0a1.8,1.8 0 1,0 3.6,0M1415,694.4a1.8,1.8 0 1,0 -3.6,0a1.8,1.8 0 1,0 3.6,0M1415.4,681.3a1.8,1.8 0 1,0 -3.6,0a1.8,1.8 0 1,0 3.6,0M1415.8,689a1.8,1.8 0 1,0 -3.6,0a1.8,1.8 0 1,0 3.6,0M1416.2,685.2a1.8,1.8 0 1,0 -3.6,0a1.8,1.8 0 1,0 3.6,0M1416.6,679.3a1.8,1.8 0 1,0 -3.6,0a1.8,1.8 0 1,0 3.6,0M1417.1,696.8a1.8,1.8 0 1,0 -3.6,0a1.8,1.8 0 1,0 3.6,0M1417.5,699.1a1.8,1.8 0 1,0 -3.6,0a1.8,1.8 0 1,0 3.6,0M1417.9,697.9a1.8,1.8 0 1,0 -3.6,0a1.8,1.8 0 1,0 3.6,0M1418.3,690.5a1.8,1.8 0 1,0 -3.6,0a1.8,1.8 0 1,0 3.6,0M1418.7,706.3a1.8,1.8 0 1,0 -3.6,0a1.8,1.8 0 1,0 3.6,0M1419.2,694.1a1.8,1.8 0 1,0 -3.6,0a1.8,1.8 0 1,0 3.6,0M1419.6,704.8a1.8,1.8 0 1,0 -3.6,0a1.8,1.8 0 1,0 3.6,0M1420,705.3a1.8,1.8 0 1,0 -3.6,0a1.8,1.8 0 1,0 3.6,0M1420.4,701.7a1.8,1.8 0 1,0 -3.6,0a1.8,1.8 0 1,0 3.6,0M1420.9,698.4a1.8,1.8 0 1,0 -3.6,0a1.8,1.8 0 1,0 3.6,0M1421.3,706.7a1.8,1.8 0 1,0 -3.6,0a1.8,1.8 0 1,0 3.6,0M1421.7,707.6a1.8,1.8 0 1,0 -3.6,0a1.8,1.8 0 1,0 3.6,0M1422.1,706.7a1.8,1.8 0 1,0 -3.6,0a1.8,1.8 0 1,0 3.6,0M1422.5,710.2a1.8,1.8 0 1,0 -3.6,0a1.8,1.8 0 1,0 3.6,0M1423,727.1a1.8,1.8 0 1,0 -3.6,0a1.8,1.8 0 1,0 3.6,0M1423.4,715.6a1.8,1.8 0 1,0 -3.6,0a1.8,1.8 0 1,0 3.6,0M1423.8,714.9a1.8,1.8 0 1,0 -3.6,0a1.8,1.8 0 1,0 3.6,0M1424.2,711.4a1.8,1.8 0 1,0 -3.6,0a1.8,1.8 0 1,0 3.6,0M1424.7,708.7a1.8,1.8 0 1,0 -3.6,0a1.8,1.8 0 1,0 3.6,0M1425.1,719.6a1.8,1.8 0 1,0 -3.6,0a1.8,1.8 0 1,0 3.6,0M1425.5,726a1.8,1.8 0 1,0 -3.6,0a1.8,1.8 0 1,0 3.6,0M1425.9,735a1.8,1.8 0 1,0 -3.6,0a1.8,1.8 0 1,0 3.6,0M1426.3,732.5a1.8,1.8 0 1,0 -3.6,0a1.8,1.8 0 1,0 3.6,0M1426.8,732.4a1.8,1.8 0 1,0 -3.6,0a1.8,1.8 0 1,0 3.6,0M1427.2,733.7a1.8,1.8 0 1,0 -3.6,0a1.8,1.8 0 1,0 3.6,0M1427.6,748.7a1.8,1.8 0 1,0 -3.6,0a1.8,1.8 0 1,0 3.6,0M1428,747.2a1.8,1.8 0 1,0 -3.6,0a1.8,1.8 0 1,0 3.6,0M1428.5,748.8a1.8,1.8 0 1,0 -3.6,0a1.8,1.8 0 1,0 3.6,0M1428.9,748.5a1.8,1.8 0 1,0 -3.6,0a1.8,1.8 0 1,0 3.6,0M1429.3,761.1a1.8,1.8 0 1,0 -3.6,0a1.8,1.8 0 1,0 3.6,0M1429.7,769.9a1.8,1.8 0 1,0 -3.6,0a1.8,1.8 0 1,0 3.6,0M1430.1,775.9a1.8,1.8 0 1,0 -3.6,0a1.8,1.8 0 1,0 3.6,0M1430.6,774.4a1.8,1.8 0 1,0 -3.6,0a1.8,1.8 0 1,0 3.6,0M1431,770.4a1.8,1.8 0 1,0 -3.6,0a1.8,1.8 0 1,0 3.6,0M1431.4,758.4a1.8,1.8 0 1,0 -3.6,0a1.8,1.8 0 1,0 3.6,0M1431.8,752.3a1.8,1.8 0 1,0 -3.6,0a1.8,1.8 0 1,0 3.6,0M1432.2,749.2a1.8,1.8 0 1,0 -3.6,0a1.8,1.8 0 1,0 3.6,0M1432.7,742.4a1.8,1.8 0 1,0 -3.6,0a1.8,1.8 0 1,0 3.6,0M1433.1,746.5a1.8,1.8 0 1,0 -3.6,0a1.8,1.8 0 1,0 3.6,0M1433.5,738.3a1.8,1.8 0 1,0 -3.6,0a1.8,1.8 0 1,0 3.6,0M1433.9,738.6a1.8,1.8 0 1,0 -3.6,0a1.8,1.8 0 1,0 3.6,0M1434.4,732.7a1.8,1.8 0 1,0 -3.6,0a1.8,1.8 0 1,0 3.6,0M1434.8,722.9a1.8,1.8 0 1,0 -3.6,0a1.8,1.8 0 1,0 3.6,0M1435.2,726.6a1.8,1.8 0 1,0 -3.6,0a1.8,1.8 0 1,0 3.6,0M1435.6,734.1a1.8,1.8 0 1,0 -3.6,0a1.8,1.8 0 1,0 3.6,0M1436,722.1a1.8,1.8 0 1,0 -3.6,0a1.8,1.8 0 1,0 3.6,0M1436.5,722.1a1.8,1.8 0 1,0 -3.6,0a1.8,1.8 0 1,0 3.6,0M1436.9,724.4a1.8,1.8 0 1,0 -3.6,0a1.8,1.8 0 1,0 3.6,0M1437.3,717.7a1.8,1.8 0 1,0 -3.6,0a1.8,1.8 0 1,0 3.6,0M1437.7,704.8a1.8,1.8 0 1,0 -3.6,0a1.8,1.8 0 1,0 3.6,0M1438.2,698a1.8,1.8 0 1,0 -3.6,0a1.8,1.8 0 1,0 3.6,0M1438.6,709.5a1.8,1.8 0 1,0 -3.6,0a1.8,1.8 0 1,0 3.6,0M1439,698.1a1.8,1.8 0 1,0 -3.6,0a1.8,1.8 0 1,0 3.6,0M1439.4,695.1a1.8,1.8 0 1,0 -3.6,0a1.8,1.8 0 1,0 3.6,0M1439.8,708.5a1.8,1.8 0 1,0 -3.6,0a1.8,1.8 0 1,0 3.6,0M1440.3,699.5a1.8,1.8 0 1,0 -3.6,0a1.8,1.8 0 1,0 3.6,0M1440.7,698a1.8,1.8 0 1,0 -3.6,0a1.8,1.8 0 1,0 3.6,0M1441.1,695a1.8,1.8 0 1,0 -3.6,0a1.8,1.8 0 1,0 3.6,0M1441.5,705.6a1.8,1.8 0 1,0 -3.6,0a1.8,1.8 0 1,0 3.6,0M1442,695.8a1.8,1.8 0 1,0 -3.6,0a1.8,1.8 0 1,0 3.6,0M1442.4,684.9a1.8,1.8 0 1,0 -3.6,0a1.8,1.8 0 1,0 3.6,0M1442.8,682.3a1.8,1.8 0 1,0 -3.6,0a1.8,1.8 0 1,0 3.6,0M1443.2,677.1a1.8,1.8 0 1,0 -3.6,0a1.8,1.8 0 1,0 3.6,0M1443.6,691.2a1.8,1.8 0 1,0 -3.6,0a1.8,1.8 0 1,0 3.6,0M1444.1,674.5a1.8,1.8 0 1,0 -3.6,0a1.8,1.8 0 1,0 3.6,0M1444.5,682.1a1.8,1.8 0 1,0 -3.6,0a1.8,1.8 0 1,0 3.6,0M1444.9,695.7a1.8,1.8 0 1,0 -3.6,0a1.8,1.8 0 1,0 3.6,0M1445.3,679.6a1.8,1.8 0 1,0 -3.6,0a1.8,1.8 0 1,0 3.6,0M1445.7,686.8a1.8,1.8 0 1,0 -3.6,0a1.8,1.8 0 1,0 3.6,0M1446.2,679.7a1.8,1.8 0 1,0 -3.6,0a1.8,1.8 0 1,0 3.6,0M1446.6,683.5a1.8,1.8 0 1,0 -3.6,0a1.8,1.8 0 1,0 3.6,0M1447,673.1a1.8,1.8 0 1,0 -3.6,0a1.8,1.8 0 1,0 3.6,0M1447.4,679.5a1.8,1.8 0 1,0 -3.6,0a1.8,1.8 0 1,0 3.6,0M1447.9,682.9a1.8,1.8 0 1,0 -3.6,0a1.8,1.8 0 1,0 3.6,0M1448.3,672.9a1.8,1.8 0 1,0 -3.6,0a1.8,1.8 0 1,0 3.6,0M1448.7,677.7a1.8,1.8 0 1,0 -3.6,0a1.8,1.8 0 1,0 3.6,0M1449.1,682.2a1.8,1.8 0 1,0 -3.6,0a1.8,1.8 0 1,0 3.6,0M1449.5,668.9a1.8,1.8 0 1,0 -3.6,0a1.8,1.8 0 1,0 3.6,0M1450,681.2a1.8,1.8 0 1,0 -3.6,0a1.8,1.8 0 1,0 3.6,0M1450.4,682.5a1.8,1.8 0 1,0 -3.6,0a1.8,1.8 0 1,0 3.6,0M1450.8,681.4a1.8,1.8 0 1,0 -3.6,0a1.8,1.8 0 1,0 3.6,0M1451.2,688.1a1.8,1.8 0 1,0 -3.6,0a1.8,1.8 0 1,0 3.6,0M1451.7,680.7a1.8,1.8 0 1,0 -3.6,0a1.8,1.8 0 1,0 3.6,0M1452.1,661.6a1.8,1.8 0 1,0 -3.6,0a1.8,1.8 0 1,0 3.6,0M1452.5,682.8a1.8,1.8 0 1,0 -3.6,0a1.8,1.8 0 1,0 3.6,0M1452.9,675.4a1.8,1.8 0 1,0 -3.6,0a1.8,1.8 0 1,0 3.6,0M1453.3,683.8a1.8,1.8 0 1,0 -3.6,0a1.8,1.8 0 1,0 3.6,0M1453.8,679.6a1.8,1.8 0 1,0 -3.6,0a1.8,1.8 0 1,0 3.6,0M1454.2,662.6a1.8,1.8 0 1,0 -3.6,0a1.8,1.8 0 1,0 3.6,0M1454.6,667.2a1.8,1.8 0 1,0 -3.6,0a1.8,1.8 0 1,0 3.6,0M1455,678.9a1.8,1.8 0 1,0 -3.6,0a1.8,1.8 0 1,0 3.6,0M1455.5,673.8a1.8,1.8 0 1,0 -3.6,0a1.8,1.8 0 1,0 3.6,0M1455.9,680.2a1.8,1.8 0 1,0 -3.6,0a1.8,1.8 0 1,0 3.6,0M1456.3,679.6a1.8,1.8 0 1,0 -3.6,0a1.8,1.8 0 1,0 3.6,0M1456.7,680.5a1.8,1.8 0 1,0 -3.6,0a1.8,1.8 0 1,0 3.6,0M1457.1,680.2a1.8,1.8 0 1,0 -3.6,0a1.8,1.8 0 1,0 3.6,0M1457.6,670.2a1.8,1.8 0 1,0 -3.6,0a1.8,1.8 0 1,0 3.6,0M1458,667.8a1.8,1.8 0 1,0 -3.6,0a1.8,1.8 0 1,0 3.6,0M1458.4,668.5a1.8,1.8 0 1,0 -3.6,0a1.8,1.8 0 1,0 3.6,0M1458.8,673.7a1.8,1.8 0 1,0 -3.6,0a1.8,1.8 0 1,0 3.6,0M1459.2,683.2a1.8,1.8 0 1,0 -3.6,0a1.8,1.8 0 1,0 3.6,0M1459.7,672.6a1.8,1.8 0 1,0 -3.6,0a1.8,1.8 0 1,0 3.6,0M1460.1,679.4a1.8,1.8 0 1,0 -3.6,0a1.8,1.8 0 1,0 3.6,0M1460.5,664.6a1.8,1.8 0 1,0 -3.6,0a1.8,1.8 0 1,0 3.6,0M1460.9,667.1a1.8,1.8 0 1,0 -3.6,0a1.8,1.8 0 1,0 3.6,0M1461.4,665.5a1.8,1.8 0 1,0 -3.6,0a1.8,1.8 0 1,0 3.6,0M1461.8,674.3a1.8,1.8 0 1,0 -3.6,0a1.8,1.8 0 1,0 3.6,0M1462.2,686.2a1.8,1.8 0 1,0 -3.6,0a1.8,1.8 0 1,0 3.6,0M1462.6,663.4a1.8,1.8 0 1,0 -3.6,0a1.8,1.8 0 1,0 3.6,0M1463,661.1a1.8,1.8 0 1,0 -3.6,0a1.8,1.8 0 1,0 3.6,0M1463.5,683.3a1.8,1.8 0 1,0 -3.6,0a1.8,1.8 0 1,0 3.6,0M1463.9,669.9a1.8,1.8 0 1,0 -3.6,0a1.8,1.8 0 1,0 3.6,0M1464.3,661.1a1.8,1.8 0 1,0 -3.6,0a1.8,1.8 0 1,0 3.6,0M1464.7,679.8a1.8,1.8 0 1,0 -3.6,0a1.8,1.8 0 1,0 3.6,0M1465.2,656.2a1.8,1.8 0 1,0 -3.6,0a1.8,1.8 0 1,0 3.6,0M1465.6,673.6a1.8,1.8 0 1,0 -3.6,0a1.8,1.8 0 1,0 3.6,0M1466,679.6a1.8,1.8 0 1,0 -3.6,0a1.8,1.8 0 1,0 3.6,0M1466.4,659.2a1.8,1.8 0 1,0 -3.6,0a1.8,1.8 0 1,0 3.6,0M1466.8,668.1a1.8,1.8 0 1,0 -3.6,0a1.8,1.8 0 1,0 3.6,0M1467.3,676a1.8,1.8 0 1,0 -3.6,0a1.8,1.8 0 1,0 3.6,0M1467.7,663.1a1.8,1.8 0 1,0 -3.6,0a1.8,1.8 0 1,0 3.6,0M1468.1,686.7a1.8,1.8 0 1,0 -3.6,0a1.8,1.8 0 1,0 3.6,0M1468.5,655.2a1.8,1.8 0 1,0 -3.6,0a1.8,1.8 0 1,0 3.6,0M1468.9,677.2a1.8,1.8 0 1,0 -3.6,0a1.8,1.8 0 1,0 3.6,0M1469.4,667.9a1.8,1.8 0 1,0 -3.6,0a1.8,1.8 0 1,0 3.6,0M1469.8,673.6a1.8,1.8 0 1,0 -3.6,0a1.8,1.8 0 1,0 3.6,0M1470.2,666.6a1.8,1.8 0 1,0 -3.6,0a1.8,1.8 0 1,0 3.6,0M1470.6,662.8a1.8,1.8 0 1,0 -3.6,0a1.8,1.8 0 1,0 3.6,0M1471.1,677.1a1.8,1.8 0 1,0 -3.6,0a1.8,1.8 0 1,0 3.6,0M1471.5,663.5a1.8,1.8 0 1,0 -3.6,0a1.8,1.8 0 1,0 3.6,0M1471.9,672.6a1.8,1.8 0 1,0 -3.6,0a1.8,1.8 0 1,0 3.6,0M1472.3,675.9a1.8,1.8 0 1,0 -3.6,0a1.8,1.8 0 1,0 3.6,0M1472.7,671.9a1.8,1.8 0 1,0 -3.6,0a1.8,1.8 0 1,0 3.6,0M1473.2,678.5a1.8,1.8 0 1,0 -3.6,0a1.8,1.8 0 1,0 3.6,0M1473.6,676.7a1.8,1.8 0 1,0 -3.6,0a1.8,1.8 0 1,0 3.6,0M1474,662a1.8,1.8 0 1,0 -3.6,0a1.8,1.8 0 1,0 3.6,0M1474.4,671.2a1.8,1.8 0 1,0 -3.6,0a1.8,1.8 0 1,0 3.6,0M1474.9,660.3a1.8,1.8 0 1,0 -3.6,0a1.8,1.8 0 1,0 3.6,0M1475.3,666.3a1.8,1.8 0 1,0 -3.6,0a1.8,1.8 0 1,0 3.6,0M1475.7,678.6a1.8,1.8 0 1,0 -3.6,0a1.8,1.8 0 1,0 3.6,0M1476.1,685.9a1.8,1.8 0 1,0 -3.6,0a1.8,1.8 0 1,0 3.6,0M1476.5,675.7a1.8,1.8 0 1,0 -3.6,0a1.8,1.8 0 1,0 3.6,0M1477,667.6a1.8,1.8 0 1,0 -3.6,0a1.8,1.8 0 1,0 3.6,0M1477.4,669.8a1.8,1.8 0 1,0 -3.6,0a1.8,1.8 0 1,0 3.6,0M1477.8,676.9a1.8,1.8 0 1,0 -3.6,0a1.8,1.8 0 1,0 3.6,0M1478.2,661.3a1.8,1.8 0 1,0 -3.6,0a1.8,1.8 0 1,0 3.6,0M1478.7,684.6a1.8,1.8 0 1,0 -3.6,0a1.8,1.8 0 1,0 3.6,0M1479.1,680.5a1.8,1.8 0 1,0 -3.6,0a1.8,1.8 0 1,0 3.6,0M1479.5,668.7a1.8,1.8 0 1,0 -3.6,0a1.8,1.8 0 1,0 3.6,0M1479.9,651.2a1.8,1.8 0 1,0 -3.6,0a1.8,1.8 0 1,0 3.6,0M1480.3,666.3a1.8,1.8 0 1,0 -3.6,0a1.8,1.8 0 1,0 3.6,0M1480.8,678.3a1.8,1.8 0 1,0 -3.6,0a1.8,1.8 0 1,0 3.6,0M1481.2,664.7a1.8,1.8 0 1,0 -3.6,0a1.8,1.8 0 1,0 3.6,0M1481.6,663.9a1.8,1.8 0 1,0 -3.6,0a1.8,1.8 0 1,0 3.6,0M1482,661.8a1.8,1.8 0 1,0 -3.6,0a1.8,1.8 0 1,0 3.6,0M1482.4,673.2a1.8,1.8 0 1,0 -3.6,0a1.8,1.8 0 1,0 3.6,0M1482.9,676.5a1.8,1.8 0 1,0 -3.6,0a1.8,1.8 0 1,0 3.6,0M1483.3,668.7a1.8,1.8 0 1,0 -3.6,0a1.8,1.8 0 1,0 3.6,0M1483.7,666.2a1.8,1.8 0 1,0 -3.6,0a1.8,1.8 0 1,0 3.6,0M1484.1,656.1a1.8,1.8 0 1,0 -3.6,0a1.8,1.8 0 1,0 3.6,0M1484.6,651.9a1.8,1.8 0 1,0 -3.6,0a1.8,1.8 0 1,0 3.6,0M1485,675.9a1.8,1.8 0 1,0 -3.6,0a1.8,1.8 0 1,0 3.6,0M1485.4,674.1a1.8,1.8 0 1,0 -3.6,0a1.8,1.8 0 1,0 3.6,0M1485.8,670.2a1.8,1.8 0 1,0 -3.6,0a1.8,1.8 0 1,0 3.6,0M1486.2,671.8a1.8,1.8 0 1,0 -3.6,0a1.8,1.8 0 1,0 3.6,0M1486.7,665.5a1.8,1.8 0 1,0 -3.6,0a1.8,1.8 0 1,0 3.6,0M1487.1,665.5a1.8,1.8 0 1,0 -3.6,0a1.8,1.8 0 1,0 3.6,0M1487.5,667.5a1.8,1.8 0 1,0 -3.6,0a1.8,1.8 0 1,0 3.6,0M1487.9,658.2a1.8,1.8 0 1,0 -3.6,0a1.8,1.8 0 1,0 3.6,0M1488.4,671a1.8,1.8 0 1,0 -3.6,0a1.8,1.8 0 1,0 3.6,0M1488.8,678.6a1.8,1.8 0 1,0 -3.6,0a1.8,1.8 0 1,0 3.6,0M1489.2,683a1.8,1.8 0 1,0 -3.6,0a1.8,1.8 0 1,0 3.6,0M1489.6,678.4a1.8,1.8 0 1,0 -3.6,0a1.8,1.8 0 1,0 3.6,0M1490,678.6a1.8,1.8 0 1,0 -3.6,0a1.8,1.8 0 1,0 3.6,0M1490.5,685.7a1.8,1.8 0 1,0 -3.6,0a1.8,1.8 0 1,0 3.6,0M1490.9,664a1.8,1.8 0 1,0 -3.6,0a1.8,1.8 0 1,0 3.6,0M1491.3,668.1a1.8,1.8 0 1,0 -3.6,0a1.8,1.8 0 1,0 3.6,0M1491.7,673.2a1.8,1.8 0 1,0 -3.6,0a1.8,1.8 0 1,0 3.6,0M1492.2,677.2a1.8,1.8 0 1,0 -3.6,0a1.8,1.8 0 1,0 3.6,0M1492.6,683.1a1.8,1.8 0 1,0 -3.6,0a1.8,1.8 0 1,0 3.6,0M1493,677.5a1.8,1.8 0 1,0 -3.6,0a1.8,1.8 0 1,0 3.6,0M1493.4,653.9a1.8,1.8 0 1,0 -3.6,0a1.8,1.8 0 1,0 3.6,0M1493.8,688.5a1.8,1.8 0 1,0 -3.6,0a1.8,1.8 0 1,0 3.6,0M1494.3,668.4a1.8,1.8 0 1,0 -3.6,0a1.8,1.8 0 1,0 3.6,0M1494.7,663.3a1.8,1.8 0 1,0 -3.6,0a1.8,1.8 0 1,0 3.6,0M1495.1,668.5a1.8,1.8 0 1,0 -3.6,0a1.8,1.8 0 1,0 3.6,0M1495.5,672.3a1.8,1.8 0 1,0 -3.6,0a1.8,1.8 0 1,0 3.6,0M1495.9,663.1a1.8,1.8 0 1,0 -3.6,0a1.8,1.8 0 1,0 3.6,0M1496.4,679.1a1.8,1.8 0 1,0 -3.6,0a1.8,1.8 0 1,0 3.6,0M1496.8,664.9a1.8,1.8 0 1,0 -3.6,0a1.8,1.8 0 1,0 3.6,0M1497.2,657.4a1.8,1.8 0 1,0 -3.6,0a1.8,1.8 0 1,0 3.6,0M1497.6,678.5a1.8,1.8 0 1,0 -3.6,0a1.8,1.8 0 1,0 3.6,0M1498.1,676.6a1.8,1.8 0 1,0 -3.6,0a1.8,1.8 0 1,0 3.6,0M1498.5,668.5a1.8,1.8 0 1,0 -3.6,0a1.8,1.8 0 1,0 3.6,0M1498.9,661.2a1.8,1.8 0 1,0 -3.6,0a1.8,1.8 0 1,0 3.6,0M1499.3,658.2a1.8,1.8 0 1,0 -3.6,0a1.8,1.8 0 1,0 3.6,0M1499.7,663.8a1.8,1.8 0 1,0 -3.6,0a1.8,1.8 0 1,0 3.6,0M1500.2,675.3a1.8,1.8 0 1,0 -3.6,0a1.8,1.8 0 1,0 3.6,0M1500.6,679.1a1.8,1.8 0 1,0 -3.6,0a1.8,1.8 0 1,0 3.6,0M1501,667.5a1.8,1.8 0 1,0 -3.6,0a1.8,1.8 0 1,0 3.6,0M1501.4,666.2a1.8,1.8 0 1,0 -3.6,0a1.8,1.8 0 1,0 3.6,0M1501.9,679a1.8,1.8 0 1,0 -3.6,0a1.8,1.8 0 1,0 3.6,0M1502.3,669.1a1.8,1.8 0 1,0 -3.6,0a1.8,1.8 0 1,0 3.6,0M1502.7,666.8a1.8,1.8 0 1,0 -3.6,0a1.8,1.8 0 1,0 3.6,0M1503.1,660.7a1.8,1.8 0 1,0 -3.6,0a1.8,1.8 0 1,0 3.6,0M1503.5,678.1a1.8,1.8 0 1,0 -3.6,0a1.8,1.8 0 1,0 3.6,0M1504,664.8a1.8,1.8 0 1,0 -3.6,0a1.8,1.8 0 1,0 3.6,0M1504.4,679.6a1.8,1.8 0 1,0 -3.6,0a1.8,1.8 0 1,0 3.6,0M1504.8,673.3a1.8,1.8 0 1,0 -3.6,0a1.8,1.8 0 1,0 3.6,0M1505.2,670.3a1.8,1.8 0 1,0 -3.6,0a1.8,1.8 0 1,0 3.6,0M1505.7,656.6a1.8,1.8 0 1,0 -3.6,0a1.8,1.8 0 1,0 3.6,0M1506.1,641.2a1.8,1.8 0 1,0 -3.6,0a1.8,1.8 0 1,0 3.6,0M1506.5,667.4a1.8,1.8 0 1,0 -3.6,0a1.8,1.8 0 1,0 3.6,0M1506.9,665.4a1.8,1.8 0 1,0 -3.6,0a1.8,1.8 0 1,0 3.6,0M1507.3,661a1.8,1.8 0 1,0 -3.6,0a1.8,1.8 0 1,0 3.6,0M1507.8,681.3a1.8,1.8 0 1,0 -3.6,0a1.8,1.8 0 1,0 3.6,0M1508.2,663a1.8,1.8 0 1,0 -3.6,0a1.8,1.8 0 1,0 3.6,0M1508.6,680.2a1.8,1.8 0 1,0 -3.6,0a1.8,1.8 0 1,0 3.6,0M1509,655.7a1.8,1.8 0 1,0 -3.6,0a1.8,1.8 0 1,0 3.6,0M1509.4,657.2a1.8,1.8 0 1,0 -3.6,0a1.8,1.8 0 1,0 3.6,0M1509.9,665.3a1.8,1.8 0 1,0 -3.6,0a1.8,1.8 0 1,0 3.6,0M1510.3,676.5a1.8,1.8 0 1,0 -3.6,0a1.8,1.8 0 1,0 3.6,0M1510.7,655.3a1.8,1.8 0 1,0 -3.6,0a1.8,1.8 0 1,0 3.6,0M1511.1,667.4a1.8,1.8 0 1,0 -3.6,0a1.8,1.8 0 1,0 3.6,0M1511.6,668.7a1.8,1.8 0 1,0 -3.6,0a1.8,1.8 0 1,0 3.6,0M1512,664.6a1.8,1.8 0 1,0 -3.6,0a1.8,1.8 0 1,0 3.6,0M1512.4,684.3a1.8,1.8 0 1,0 -3.6,0a1.8,1.8 0 1,0 3.6,0M1512.8,665.9a1.8,1.8 0 1,0 -3.6,0a1.8,1.8 0 1,0 3.6,0M1513.2,661.1a1.8,1.8 0 1,0 -3.6,0a1.8,1.8 0 1,0 3.6,0M1513.7,666.7a1.8,1.8 0 1,0 -3.6,0a1.8,1.8 0 1,0 3.6,0M1514.1,668.4a1.8,1.8 0 1,0 -3.6,0a1.8,1.8 0 1,0 3.6,0M1514.5,677.8a1.8,1.8 0 1,0 -3.6,0a1.8,1.8 0 1,0 3.6,0M1514.9,664.1a1.8,1.8 0 1,0 -3.6,0a1.8,1.8 0 1,0 3.6,0M1515.4,667.9a1.8,1.8 0 1,0 -3.6,0a1.8,1.8 0 1,0 3.6,0M1515.8,669.5a1.8,1.8 0 1,0 -3.6,0a1.8,1.8 0 1,0 3.6,0M1516.2,674.4a1.8,1.8 0 1,0 -3.6,0a1.8,1.8 0 1,0 3.6,0M1516.6,662.3a1.8,1.8 0 1,0 -3.6,0a1.8,1.8 0 1,0 3.6,0M1517,658.9a1.8,1.8 0 1,0 -3.6,0a1.8,1.8 0 1,0 3.6,0M1517.5,666.3a1.8,1.8 0 1,0 -3.6,0a1.8,1.8 0 1,0 3.6,0M1517.9,661.9a1.8,1.8 0 1,0 -3.6,0a1.8,1.8 0 1,0 3.6,0M1518.3,658.2a1.8,1.8 0 1,0 -3.6,0a1.8,1.8 0 1,0 3.6,0M1518.7,656a1.8,1.8 0 1,0 -3.6,0a1.8,1.8 0 1,0 3.6,0M1519.2,667.7a1.8,1.8 0 1,0 -3.6,0a1.8,1.8 0 1,0 3.6,0M1519.6,671.4a1.8,1.8 0 1,0 -3.6,0a1.8,1.8 0 1,0 3.6,0M1520,673.2a1.8,1.8 0 1,0 -3.6,0a1.8,1.8 0 1,0 3.6,0M1520.4,669.5a1.8,1.8 0 1,0 -3.6,0a1.8,1.8 0 1,0 3.6,0M1520.8,664.9a1.8,1.8 0 1,0 -3.6,0a1.8,1.8 0 1,0 3.6,0M1521.3,661.6a1.8,1.8 0 1,0 -3.6,0a1.8,1.8 0 1,0 3.6,0M1521.7,673.3a1.8,1.8 0 1,0 -3.6,0a1.8,1.8 0 1,0 3.6,0M1522.1,668.3a1.8,1.8 0 1,0 -3.6,0a1.8,1.8 0 1,0 3.6,0M1522.5,678.1a1.8,1.8 0 1,0 -3.6,0a1.8,1.8 0 1,0 3.6,0M1522.9,658.8a1.8,1.8 0 1,0 -3.6,0a1.8,1.8 0 1,0 3.6,0M1523.4,673a1.8,1.8 0 1,0 -3.6,0a1.8,1.8 0 1,0 3.6,0M1523.8,666.5a1.8,1.8 0 1,0 -3.6,0a1.8,1.8 0 1,0 3.6,0M1524.2,675.8a1.8,1.8 0 1,0 -3.6,0a1.8,1.8 0 1,0 3.6,0M1524.6,672.2a1.8,1.8 0 1,0 -3.6,0a1.8,1.8 0 1,0 3.6,0M1525.1,675.5a1.8,1.8 0 1,0 -3.6,0a1.8,1.8 0 1,0 3.6,0M1525.5,655a1.8,1.8 0 1,0 -3.6,0a1.8,1.8 0 1,0 3.6,0M1525.9,666.5a1.8,1.8 0 1,0 -3.6,0a1.8,1.8 0 1,0 3.6,0M1526.3,671a1.8,1.8 0 1,0 -3.6,0a1.8,1.8 0 1,0 3.6,0M1526.7,677.7a1.8,1.8 0 1,0 -3.6,0a1.8,1.8 0 1,0 3.6,0M1527.2,674.8a1.8,1.8 0 1,0 -3.6,0a1.8,1.8 0 1,0 3.6,0M1527.6,664.7a1.8,1.8 0 1,0 -3.6,0a1.8,1.8 0 1,0 3.6,0M1528,655.3a1.8,1.8 0 1,0 -3.6,0a1.8,1.8 0 1,0 3.6,0M1528.4,681.9a1.8,1.8 0 1,0 -3.6,0a1.8,1.8 0 1,0 3.6,0M1528.9,677.5a1.8,1.8 0 1,0 -3.6,0a1.8,1.8 0 1,0 3.6,0M1529.3,671.1a1.8,1.8 0 1,0 -3.6,0a1.8,1.8 0 1,0 3.6,0M1529.7,675a1.8,1.8 0 1,0 -3.6,0a1.8,1.8 0 1,0 3.6,0M1530.1,683.8a1.8,1.8 0 1,0 -3.6,0a1.8,1.8 0 1,0 3.6,0M1530.5,669.4a1.8,1.8 0 1,0 -3.6,0a1.8,1.8 0 1,0 3.6,0M1531,663.2a1.8,1.8 0 1,0 -3.6,0a1.8,1.8 0 1,0 3.6,0M1531.4,683.1a1.8,1.8 0 1,0 -3.6,0a1.8,1.8 0 1,0 3.6,0M1531.8,667.8a1.8,1.8 0 1,0 -3.6,0a1.8,1.8 0 1,0 3.6,0M1532.2,661.3a1.8,1.8 0 1,0 -3.6,0a1.8,1.8 0 1,0 3.6,0M1532.7,661.2a1.8,1.8 0 1,0 -3.6,0a1.8,1.8 0 1,0 3.6,0M1533.1,673.2a1.8,1.8 0 1,0 -3.6,0a1.8,1.8 0 1,0 3.6,0M1533.5,649.8a1.8,1.8 0 1,0 -3.6,0a1.8,1.8 0 1,0 3.6,0M1533.9,664.8a1.8,1.8 0 1,0 -3.6,0a1.8,1.8 0 1,0 3.6,0M1534.3,676.6a1.8,1.8 0 1,0 -3.6,0a1.8,1.8 0 1,0 3.6,0M1534.8,661.2a1.8,1.8 0 1,0 -3.6,0a1.8,1.8 0 1,0 3.6,0M1535.2,679.2a1.8,1.8 0 1,0 -3.6,0a1.8,1.8 0 1,0 3.6,0M1535.6,661.9a1.8,1.8 0 1,0 -3.6,0a1.8,1.8 0 1,0 3.6,0M1536,680.4a1.8,1.8 0 1,0 -3.6,0a1.8,1.8 0 1,0 3.6,0M1536.4,662.8a1.8,1.8 0 1,0 -3.6,0a1.8,1.8 0 1,0 3.6,0M1536.9,674.6a1.8,1.8 0 1,0 -3.6,0a1.8,1.8 0 1,0 3.6,0M1537.3,659.9a1.8,1.8 0 1,0 -3.6,0a1.8,1.8 0 1,0 3.6,0M1537.7,663.3a1.8,1.8 0 1,0 -3.6,0a1.8,1.8 0 1,0 3.6,0M1538.1,665.8a1.8,1.8 0 1,0 -3.6,0a1.8,1.8 0 1,0 3.6,0M1538.6,669.1a1.8,1.8 0 1,0 -3.6,0a1.8,1.8 0 1,0 3.6,0M1539,660.3a1.8,1.8 0 1,0 -3.6,0a1.8,1.8 0 1,0 3.6,0M1539.4,685.1a1.8,1.8 0 1,0 -3.6,0a1.8,1.8 0 1,0 3.6,0M1539.8,665.9a1.8,1.8 0 1,0 -3.6,0a1.8,1.8 0 1,0 3.6,0M1540.2,666.1a1.8,1.8 0 1,0 -3.6,0a1.8,1.8 0 1,0 3.6,0M1540.7,664.8a1.8,1.8 0 1,0 -3.6,0a1.8,1.8 0 1,0 3.6,0M1541.1,662.5a1.8,1.8 0 1,0 -3.6,0a1.8,1.8 0 1,0 3.6,0M1541.5,637.9a1.8,1.8 0 1,0 -3.6,0a1.8,1.8 0 1,0 3.6,0M1541.9,668.6a1.8,1.8 0 1,0 -3.6,0a1.8,1.8 0 1,0 3.6,0M1542.4,662.7a1.8,1.8 0 1,0 -3.6,0a1.8,1.8 0 1,0 3.6,0M1542.8,668.3a1.8,1.8 0 1,0 -3.6,0a1.8,1.8 0 1,0 3.6,0M1543.2,656.1a1.8,1.8 0 1,0 -3.6,0a1.8,1.8 0 1,0 3.6,0M1543.6,686.9a1.8,1.8 0 1,0 -3.6,0a1.8,1.8 0 1,0 3.6,0M1544,655a1.8,1.8 0 1,0 -3.6,0a1.8,1.8 0 1,0 3.6,0M1544.5,675.5a1.8,1.8 0 1,0 -3.6,0a1.8,1.8 0 1,0 3.6,0M1544.9,689a1.8,1.8 0 1,0 -3.6,0a1.8,1.8 0 1,0 3.6,0M1545.3,678.8a1.8,1.8 0 1,0 -3.6,0a1.8,1.8 0 1,0 3.6,0M1545.7,671.1a1.8,1.8 0 1,0 -3.6,0a1.8,1.8 0 1,0 3.6,0M1546.1,667.9a1.8,1.8 0 1,0 -3.6,0a1.8,1.8 0 1,0 3.6,0M1546.6,670a1.8,1.8 0 1,0 -3.6,0a1.8,1.8 0 1,0 3.6,0M1547,662.6a1.8,1.8 0 1,0 -3.6,0a1.8,1.8 0 1,0 3.6,0M1547.4,669.9a1.8,1.8 0 1,0 -3.6,0a1.8,1.8 0 1,0 3.6,0M1547.8,670.1a1.8,1.8 0 1,0 -3.6,0a1.8,1.8 0 1,0 3.6,0M1548.3,688a1.8,1.8 0 1,0 -3.6,0a1.8,1.8 0 1,0 3.6,0M1548.7,665.4a1.8,1.8 0 1,0 -3.6,0a1.8,1.8 0 1,0 3.6,0M1549.1,660.9a1.8,1.8 0 1,0 -3.6,0a1.8,1.8 0 1,0 3.6,0M1549.5,673.2a1.8,1.8 0 1,0 -3.6,0a1.8,1.8 0 1,0 3.6,0M1549.9,685.7a1.8,1.8 0 1,0 -3.6,0a1.8,1.8 0 1,0 3.6,0M1550.4,681.1a1.8,1.8 0 1,0 -3.6,0a1.8,1.8 0 1,0 3.6,0M1550.8,655.3a1.8,1.8 0 1,0 -3.6,0a1.8,1.8 0 1,0 3.6,0M1551.2,674.8a1.8,1.8 0 1,0 -3.6,0a1.8,1.8 0 1,0 3.6,0M1551.6,675.3a1.8,1.8 0 1,0 -3.6,0a1.8,1.8 0 1,0 3.6,0M1552.1,676.6a1.8,1.8 0 1,0 -3.6,0a1.8,1.8 0 1,0 3.6,0M1552.5,663.8a1.8,1.8 0 1,0 -3.6,0a1.8,1.8 0 1,0 3.6,0M1552.9,674.6a1.8,1.8 0 1,0 -3.6,0a1.8,1.8 0 1,0 3.6,0M1553.3,677a1.8,1.8 0 1,0 -3.6,0a1.8,1.8 0 1,0 3.6,0M1553.7,682.5a1.8,1.8 0 1,0 -3.6,0a1.8,1.8 0 1,0 3.6,0M1554.2,670.5a1.8,1.8 0 1,0 -3.6,0a1.8,1.8 0 1,0 3.6,0M1554.6,661a1.8,1.8 0 1,0 -3.6,0a1.8,1.8 0 1,0 3.6,0M1555,670.9a1.8,1.8 0 1,0 -3.6,0a1.8,1.8 0 1,0 3.6,0M1555.4,662a1.8,1.8 0 1,0 -3.6,0a1.8,1.8 0 1,0 3.6,0M1555.9,668.1a1.8,1.8 0 1,0 -3.6,0a1.8,1.8 0 1,0 3.6,0M1556.3,668.3a1.8,1.8 0 1,0 -3.6,0a1.8,1.8 0 1,0 3.6,0M1556.7,668.1a1.8,1.8 0 1,0 -3.6,0a1.8,1.8 0 1,0 3.6,0M1557.1,669.3a1.8,1.8 0 1,0 -3.6,0a1.8,1.8 0 1,0 3.6,0M1557.5,660.8a1.8,1.8 0 1,0 -3.6,0a1.8,1.8 0 1,0 3.6,0M1558,665.4a1.8,1.8 0 1,0 -3.6,0a1.8,1.8 0 1,0 3.6,0M1558.4,674.6a1.8,1.8 0 1,0 -3.6,0a1.8,1.8 0 1,0 3.6,0M1558.8,668.5a1.8,1.8 0 1,0 -3.6,0a1.8,1.8 0 1,0 3.6,0M1559.2,670.3a1.8,1.8 0 1,0 -3.6,0a1.8,1.8 0 1,0 3.6,0M1559.6,665.4a1.8,1.8 0 1,0 -3.6,0a1.8,1.8 0 1,0 3.6,0M1560.1,668.1a1.8,1.8 0 1,0 -3.6,0a1.8,1.8 0 1,0 3.6,0M1560.5,666a1.8,1.8 0 1,0 -3.6,0a1.8,1.8 0 1,0 3.6,0M1560.9,682.3a1.8,1.8 0 1,0 -3.6,0a1.8,1.8 0 1,0 3.6,0M1561.3,666.3a1.8,1.8 0 1,0 -3.6,0a1.8,1.8 0 1,0 3.6,0M1561.8,658.3a1.8,1.8 0 1,0 -3.6,0a1.8,1.8 0 1,0 3.6,0M1562.2,681.2a1.8,1.8 0 1,0 -3.6,0a1.8,1.8 0 1,0 3.6,0M1562.6,655.9a1.8,1.8 0 1,0 -3.6,0a1.8,1.8 0 1,0 3.6,0M1563,667.1a1.8,1.8 0 1,0 -3.6,0a1.8,1.8 0 1,0 3.6,0M1563.4,671.4a1.8,1.8 0 1,0 -3.6,0a1.8,1.8 0 1,0 3.6,0M1563.9,685.1a1.8,1.8 0 1,0 -3.6,0a1.8,1.8 0 1,0 3.6,0M1564.3,660.3a1.8,1.8 0 1,0 -3.6,0a1.8,1.8 0 1,0 3.6,0M1564.7,677.9a1.8,1.8 0 1,0 -3.6,0a1.8,1.8 0 1,0 3.6,0M1565.1,674a1.8,1.8 0 1,0 -3.6,0a1.8,1.8 0 1,0 3.6,0M1565.6,664.9a1.8,1.8 0 1,0 -3.6,0a1.8,1.8 0 1,0 3.6,0M1566,678.4a1.8,1.8 0 1,0 -3.6,0a1.8,1.8 0 1,0 3.6,0M1566.4,678.1a1.8,1.8 0 1,0 -3.6,0a1.8,1.8 0 1,0 3.6,0M1566.8,679.5a1.8,1.8 0 1,0 -3.6,0a1.8,1.8 0 1,0 3.6,0M1567.2,670.6a1.8,1.8 0 1,0 -3.6,0a1.8,1.8 0 1,0 3.6,0M1567.7,664.6a1.8,1.8 0 1,0 -3.6,0a1.8,1.8 0 1,0 3.6,0M1568.1,666.1a1.8,1.8 0 1,0 -3.6,0a1.8,1.8 0 1,0 3.6,0M1568.5,666.1a1.8,1.8 0 1,0 -3.6,0a1.8,1.8 0 1,0 3.6,0M1568.9,672.6a1.8,1.8 0 1,0 -3.6,0a1.8,1.8 0 1,0 3.6,0M1569.4,668.4a1.8,1.8 0 1,0 -3.6,0a1.8,1.8 0 1,0 3.6,0M1569.8,675.5a1.8,1.8 0 1,0 -3.6,0a1.8,1.8 0 1,0 3.6,0M1570.2,652.5a1.8,1.8 0 1,0 -3.6,0a1.8,1.8 0 1,0 3.6,0M1570.6,667.9a1.8,1.8 0 1,0 -3.6,0a1.8,1.8 0 1,0 3.6,0M1571,686.4a1.8,1.8 0 1,0 -3.6,0a1.8,1.8 0 1,0 3.6,0M1571.5,678.8a1.8,1.8 0 1,0 -3.6,0a1.8,1.8 0 1,0 3.6,0M1571.9,655.9a1.8,1.8 0 1,0 -3.6,0a1.8,1.8 0 1,0 3.6,0M1572.3,681.3a1.8,1.8 0 1,0 -3.6,0a1.8,1.8 0 1,0 3.6,0M1572.7,673.4a1.8,1.8 0 1,0 -3.6,0a1.8,1.8 0 1,0 3.6,0M1573.1,666.1a1.8,1.8 0 1,0 -3.6,0a1.8,1.8 0 1,0 3.6,0M1573.6,679a1.8,1.8 0 1,0 -3.6,0a1.8,1.8 0 1,0 3.6,0M1574,660.5a1.8,1.8 0 1,0 -3.6,0a1.8,1.8 0 1,0 3.6,0M1574.4,655.2a1.8,1.8 0 1,0 -3.6,0a1.8,1.8 0 1,0 3.6,0M1574.8,676.7a1.8,1.8 0 1,0 -3.6,0a1.8,1.8 0 1,0 3.6,0M1575.3,659.9a1.8,1.8 0 1,0 -3.6,0a1.8,1.8 0 1,0 3.6,0M1575.7,677.2a1.8,1.8 0 1,0 -3.6,0a1.8,1.8 0 1,0 3.6,0M1576.1,678.2a1.8,1.8 0 1,0 -3.6,0a1.8,1.8 0 1,0 3.6,0M1576.5,667.5a1.8,1.8 0 1,0 -3.6,0a1.8,1.8 0 1,0 3.6,0M1576.9,667.6a1.8,1.8 0 1,0 -3.6,0a1.8,1.8 0 1,0 3.6,0M1577.4,674.7a1.8,1.8 0 1,0 -3.6,0a1.8,1.8 0 1,0 3.6,0M1577.8,662.4a1.8,1.8 0 1,0 -3.6,0a1.8,1.8 0 1,0 3.6,0M1578.2,682.2a1.8,1.8 0 1,0 -3.6,0a1.8,1.8 0 1,0 3.6,0M1578.6,676.9a1.8,1.8 0 1,0 -3.6,0a1.8,1.8 0 1,0 3.6,0M1579.1,678.8a1.8,1.8 0 1,0 -3.6,0a1.8,1.8 0 1,0 3.6,0M1579.5,663.1a1.8,1.8 0 1,0 -3.6,0a1.8,1.8 0 1,0 3.6,0M1579.9,662.7a1.8,1.8 0 1,0 -3.6,0a1.8,1.8 0 1,0 3.6,0M1580.3,663.9a1.8,1.8 0 1,0 -3.6,0a1.8,1.8 0 1,0 3.6,0M1580.7,680.7a1.8,1.8 0 1,0 -3.6,0a1.8,1.8 0 1,0 3.6,0M1581.2,668.5a1.8,1.8 0 1,0 -3.6,0a1.8,1.8 0 1,0 3.6,0M1581.6,665.7a1.8,1.8 0 1,0 -3.6,0a1.8,1.8 0 1,0 3.6,0M1582,683.5a1.8,1.8 0 1,0 -3.6,0a1.8,1.8 0 1,0 3.6,0M1582.4,676.6a1.8,1.8 0 1,0 -3.6,0a1.8,1.8 0 1,0 3.6,0M1582.9,664.1a1.8,1.8 0 1,0 -3.6,0a1.8,1.8 0 1,0 3.6,0M1583.3,663.6a1.8,1.8 0 1,0 -3.6,0a1.8,1.8 0 1,0 3.6,0M1583.7,667.4a1.8,1.8 0 1,0 -3.6,0a1.8,1.8 0 1,0 3.6,0M1584.1,665a1.8,1.8 0 1,0 -3.6,0a1.8,1.8 0 1,0 3.6,0M1584.5,666.8a1.8,1.8 0 1,0 -3.6,0a1.8,1.8 0 1,0 3.6,0M1585,668.3a1.8,1.8 0 1,0 -3.6,0a1.8,1.8 0 1,0 3.6,0M1585.4,670.5a1.8,1.8 0 1,0 -3.6,0a1.8,1.8 0 1,0 3.6,0M1585.8,677.1a1.8,1.8 0 1,0 -3.6,0a1.8,1.8 0 1,0 3.6,0M1586.2,671.7a1.8,1.8 0 1,0 -3.6,0a1.8,1.8 0 1,0 3.6,0M1586.6,673.1a1.8,1.8 0 1,0 -3.6,0a1.8,1.8 0 1,0 3.6,0M1587.1,649.7a1.8,1.8 0 1,0 -3.6,0a1.8,1.8 0 1,0 3.6,0M1587.5,667.4a1.8,1.8 0 1,0 -3.6,0a1.8,1.8 0 1,0 3.6,0M1587.9,669.7a1.8,1.8 0 1,0 -3.6,0a1.8,1.8 0 1,0 3.6,0M1588.3,671.6a1.8,1.8 0 1,0 -3.6,0a1.8,1.8 0 1,0 3.6,0M1588.8,670.6a1.8,1.8 0 1,0 -3.6,0a1.8,1.8 0 1,0 3.6,0M1589.2,671.9a1.8,1.8 0 1,0 -3.6,0a1.8,1.8 0 1,0 3.6,0M1589.6,664.9a1.8,1.8 0 1,0 -3.6,0a1.8,1.8 0 1,0 3.6,0M1590,669.9a1.8,1.8 0 1,0 -3.6,0a1.8,1.8 0 1,0 3.6,0M1590.4,662.6a1.8,1.8 0 1,0 -3.6,0a1.8,1.8 0 1,0 3.6,0M1590.9,675.6a1.8,1.8 0 1,0 -3.6,0a1.8,1.8 0 1,0 3.6,0M1591.3,666.6a1.8,1.8 0 1,0 -3.6,0a1.8,1.8 0 1,0 3.6,0M1591.7,662.1a1.8,1.8 0 1,0 -3.6,0a1.8,1.8 0 1,0 3.6,0M1592.1,679.5a1.8,1.8 0 1,0 -3.6,0a1.8,1.8 0 1,0 3.6,0M1592.6,668.2a1.8,1.8 0 1,0 -3.6,0a1.8,1.8 0 1,0 3.6,0M1593,667.5a1.8,1.8 0 1,0 -3.6,0a1.8,1.8 0 1,0 3.6,0M1593.4,672.5a1.8,1.8 0 1,0 -3.6,0a1.8,1.8 0 1,0 3.6,0M1593.8,673.8a1.8,1.8 0 1,0 -3.6,0a1.8,1.8 0 1,0 3.6,0M1594.2,685.5a1.8,1.8 0 1,0 -3.6,0a1.8,1.8 0 1,0 3.6,0M1594.7,659.8a1.8,1.8 0 1,0 -3.6,0a1.8,1.8 0 1,0 3.6,0M1595.1,677.6a1.8,1.8 0 1,0 -3.6,0a1.8,1.8 0 1,0 3.6,0M1595.5,680.2a1.8,1.8 0 1,0 -3.6,0a1.8,1.8 0 1,0 3.6,0M1595.9,664a1.8,1.8 0 1,0 -3.6,0a1.8,1.8 0 1,0 3.6,0M1596.4,685.3a1.8,1.8 0 1,0 -3.6,0a1.8,1.8 0 1,0 3.6,0M1596.8,661.3a1.8,1.8 0 1,0 -3.6,0a1.8,1.8 0 1,0 3.6,0M1597.2,665.9a1.8,1.8 0 1,0 -3.6,0a1.8,1.8 0 1,0 3.6,0M1597.6,664.5a1.8,1.8 0 1,0 -3.6,0a1.8,1.8 0 1,0 3.6,0M1598,671a1.8,1.8 0 1,0 -3.6,0a1.8,1.8 0 1,0 3.6,0M1598.5,680a1.8,1.8 0 1,0 -3.6,0a1.8,1.8 0 1,0 3.6,0M1598.9,685.8a1.8,1.8 0 1,0 -3.6,0a1.8,1.8 0 1,0 3.6,0M1599.3,657.1a1.8,1.8 0 1,0 -3.6,0a1.8,1.8 0 1,0 3.6,0M1599.7,673.6a1.8,1.8 0 1,0 -3.6,0a1.8,1.8 0 1,0 3.6,0M1600.1,674a1.8,1.8 0 1,0 -3.6,0a1.8,1.8 0 1,0 3.6,0M1600.6,656a1.8,1.8 0 1,0 -3.6,0a1.8,1.8 0 1,0 3.6,0M1601,675a1.8,1.8 0 1,0 -3.6,0a1.8,1.8 0 1,0 3.6,0M1601.4,671.6a1.8,1.8 0 1,0 -3.6,0a1.8,1.8 0 1,0 3.6,0M1601.8,671.6a1.8,1.8 0 1,0 -3.6,0a1.8,1.8 0 1,0 3.6,0M1602.3,670.8a1.8,1.8 0 1,0 -3.6,0a1.8,1.8 0 1,0 3.6,0M1602.7,678.5a1.8,1.8 0 1,0 -3.6,0a1.8,1.8 0 1,0 3.6,0M1603.1,674.4a1.8,1.8 0 1,0 -3.6,0a1.8,1.8 0 1,0 3.6,0" fill="none" stroke="#000" stroke-width="1.45"/><polyline points="1255.8,669.6 1256.4,669.6 1257,669.6 1257.5,669.6 1258.1,669.6 1258.7,669.6 1259.3,669.6 1259.8,669.6 1260.4,669.6 1261,669.6 1261.6,669.6 1262.2,669.6 1262.7,669.6 1263.3,669.6 1263.9,669.6 1264.5,669.6 1265,669.6 1265.6,669.6 1266.2,669.6 1266.8,669.6 1267.4,669.6 1267.9,669.6 1268.5,669.6 1269.1,669.6 1269.7,669.6 1270.2,669.6 1270.8,669.6 1271.4,669.6 1272,669.6 1272.6,669.6 1273.1,669.6 1273.7,669.6 1274.3,669.6 1274.9,669.6 1275.4,669.6 1276,669.6 1276.6,669.6 1277.2,669.6 1277.7,669.6 1278.3,669.6 1278.9,669.6 1279.5,669.6 1280.1,669.6 1280.6,669.6 1281.2,669.6 1281.8,669.6 1282.4,669.6 1282.9,669.6 1283.5,669.6 1284.1,669.6 1284.7,669.6 1285.3,669.6 1285.8,669.6 1286.4,669.6 1287,669.6 1287.6,669.6 1288.1,669.6 1288.7,669.6 1289.3,669.6 1289.9,669.6 1290.5,669.6 1291,669.6 1291.6,669.6 1292.2,669.6 1292.8,669.6 1293.3,669.6 1293.9,669.6 1294.5,669.6 1295.1,669.6 1295.7,669.6 1296.2,669.6 1296.8,669.6 1297.4,669.6 1298,669.6 1298.5,669.6 1299.1,669.6 1299.7,669.6 1300.3,669.6 1300.9,669.6 1301.4,669.6 1302,669.6 1302.6,669.6 1303.2,669.6 1303.7,669.6 1304.3,669.6 1304.9,669.6 1305.5,669.6 1306.1,669.6 1306.6,669.6 1307.2,669.6 1307.8,669.6 1308.4,669.6 1308.9,669.6 1309.5,669.6 1310.1,669.6 1310.7,669.6 1311.3,669.6 1311.8,669.6 1312.4,669.6 1313,669.6 1313.6,669.6 1314.1,669.6 1314.7,669.6 1315.3,669.6 1315.9,669.6 1316.4,669.6 1317,669.6 1317.6,669.6 1318.2,669.6 1318.8,669.6 1319.3,669.6 1319.9,669.6 1320.5,669.6 1321.1,669.6 1321.6,669.6 1322.2,669.6 1322.8,669.6 1323.4,669.6 1324,669.6 1324.5,669.6 1325.1,669.6 1325.7,669.6 1326.3,669.6 1326.8,669.6 1327.4,669.6 1328,669.6 1328.6,669.6 1329.2,669.6 1329.7,669.6 1330.3,669.6 1330.9,669.6 1331.5,669.6 1332,669.6 1332.6,669.6 1333.2,669.6 1333.8,669.6 1334.4,669.6 1334.9,669.6 1335.5,669.6 1336.1,669.6 1336.7,669.6 1337.2,669.6 1337.8,669.6 1338.4,669.6 1339,669.6 1339.6,669.6 1340.1,669.6 1340.7,669.6 1341.3,669.6 1341.9,669.6 1342.4,669.6 1343,669.6 1343.6,669.6 1344.2,669.6 1344.8,669.6 1345.3,669.6 1345.9,669.6 1346.5,669.6 1347.1,669.6 1347.6,669.6 1348.2,669.6 1348.8,669.6 1349.4,669.6 1350,669.6 1350.5,669.6 1351.1,669.6 1351.7,669.6 1352.3,669.6 1352.8,669.6 1353.4,669.6 1354,669.6 1354.6,669.6 1355.1,669.6 1355.7,669.6 1356.3,669.6 1356.9,669.6 1357.5,669.6 1358,669.6 1358.6,669.6 1359.2,669.6 1359.8,669.6 1360.3,669.6 1360.9,669.6 1361.5,669.6 1362.1,669.6 1362.7,669.6 1363.2,669.6 1363.8,669.6 1364.4,669.6 1365,669.6 1365.5,669.6 1366.1,669.6 1366.7,669.6 1367.3,669.6 1367.9,669.6 1368.4,669.6 1369,669.7 1369.6,669.7 1370.2,669.7 1370.7,669.7 1371.3,669.7 1371.9,669.7 1372.5,669.7 1373.1,669.7 1373.6,669.7 1374.2,669.7 1374.8,669.7 1375.4,669.7 1375.9,669.7 1376.5,669.7 1377.1,669.7 1377.7,669.8 1378.3,669.8 1378.8,669.8 1379.4,669.8 1380,669.8 1380.6,669.8 1381.1,669.8 1381.7,669.9 1382.3,669.9 1382.9,669.9 1383.5,669.9 1384,669.9 1384.6,670 1385.2,670 1385.8,670 1386.3,670.1 1386.9,670.1 1387.5,670.1 1388.1,670.2 1388.7,670.2 1389.2,670.3 1389.8,670.3 1390.4,670.4 1391,670.4 1391.5,670.5 1392.1,670.6 1392.7,670.7 1393.3,670.7 1393.8,670.8 1394.4,670.9 1395,671 1395.6,671.1 1396.2,671.2 1396.7,671.4 1397.3,671.5 1397.9,671.7 1398.5,671.8 1399,672 1399.6,672.2 1400.2,672.4 1400.8,672.6 1401.4,672.8 1401.9,673.1 1402.5,673.3 1403.1,673.6 1403.7,673.9 1404.2,674.3 1404.8,674.6 1405.4,675 1406,675.4 1406.6,675.9 1407.1,676.4 1407.7,676.9 1408.3,677.4 1408.9,678 1409.4,678.7 1410,679.4 1410.6,680.1 1411.2,681 1411.8,681.8 1412.3,682.8 1412.9,683.8 1413.5,684.9 1414.1,686.1 1414.6,687.3 1415.2,688.7 1415.8,690.2 1416.4,691.8 1417,693.5 1417.5,695.3 1418.1,697.3 1418.7,699.4 1419.3,701.7 1419.8,704.2 1420.4,706.9 1421,709.8 1421.6,712.9 1422.2,716.2 1422.7,719.8 1423.3,723.7 1423.9,727.8 1424.5,732.3 1425,737.2 1425.6,742.4 1426.2,748 1426.8,754.1 1427.4,760.6 1427.9,767.6 1428.5,775.1 1428.5,775.7 1428.6,775.1 1429.2,767.6 1429.7,760.6 1430.3,754.1 1430.9,748 1431.5,742.4 1432.1,737.2 1432.6,732.3 1433.2,727.8 1433.8,723.7 1434.4,719.8 1434.9,716.2 1435.5,712.9 1436.1,709.8 1436.7,706.9 1437.3,704.2 1437.8,701.7 1438.4,699.4 1439,697.3 1439.6,695.3 1440.1,693.5 1440.7,691.8 1441.3,690.2 1441.9,688.7 1442.5,687.3 1443,686.1 1443.6,684.9 1444.2,683.8 1444.8,682.8 1445.3,681.8 1445.9,681 1446.5,680.1 1447.1,679.4 1447.7,678.7 1448.2,678 1448.8,677.4 1449.4,676.9 1450,676.4 1450.5,675.9 1451.1,675.4 1451.7,675 1452.3,674.6 1452.9,674.3 1453.4,673.9 1454,673.6 1454.6,673.3 1455.2,673.1 1455.7,672.8 1456.3,672.6 1456.9,672.4 1457.5,672.2 1458.1,672 1458.6,671.8 1459.2,671.7 1459.8,671.5 1460.4,671.4 1460.9,671.2 1461.5,671.1 1462.1,671 1462.7,670.9 1463.3,670.8 1463.8,670.7 1464.4,670.7 1465,670.6 1465.6,670.5 1466.1,670.4 1466.7,670.4 1467.3,670.3 1467.9,670.3 1468.4,670.2 1469,670.2 1469.6,670.1 1470.2,670.1 1470.8,670.1 1471.3,670 1471.9,670 1472.5,670 1473.1,669.9 1473.6,669.9 1474.2,669.9 1474.8,669.9 1475.4,669.9 1476,669.8 1476.5,669.8 1477.1,669.8 1477.7,669.8 1478.3,669.8 1478.8,669.8 1479.4,669.8 1480,669.7 1480.6,669.7 1481.2,669.7 1481.7,669.7 1482.3,669.7 1482.9,669.7 1483.5,669.7 1484,669.7 1484.6,669.7 1485.2,669.7 1485.8,669.7 1486.4,669.7 1486.9,669.7 1487.5,669.7 1488.1,669.7 1488.7,669.6 1489.2,669.6 1489.8,669.6 1490.4,669.6 1491,669.6 1491.6,669.6 1492.1,669.6 1492.7,669.6 1493.3,669.6 1493.9,669.6 1494.4,669.6 1495,669.6 1495.6,669.6 1496.2,669.6 1496.8,669.6 1497.3,669.6 1497.9,669.6 1498.5,669.6 1499.1,669.6 1499.6,669.6 1500.2,669.6 1500.8,669.6 1501.4,669.6 1502,669.6 1502.5,669.6 1503.1,669.6 1503.7,669.6 1504.3,669.6 1504.8,669.6 1505.4,669.6 1506,669.6 1506.6,669.6 1507.1,669.6 1507.7,669.6 1508.3,669.6 1508.9,669.6 1509.5,669.6 1510,669.6 1510.6,669.6 1511.2,669.6 1511.8,669.6 1512.3,669.6 1512.9,669.6 1513.5,669.6 1514.1,669.6 1514.7,669.6 1515.2,669.6 1515.8,669.6 1516.4,669.6 1517,669.6 1517.5,669.6 1518.1,669.6 1518.7,669.6 1519.3,669.6 1519.9,669.6 1520.4,669.6 1521,669.6 1521.6,669.6 1522.2,669.6 1522.7,669.6 1523.3,669.6 1523.9,669.6 1524.5,669.6 1525.1,669.6 1525.6,669.6 1526.2,669.6 1526.8,669.6 1527.4,669.6 1527.9,669.6 1528.5,669.6 1529.1,669.6 1529.7,669.6 1530.3,669.6 1530.8,669.6 1531.4,669.6 1532,669.6 1532.6,669.6 1533.1,669.6 1533.7,669.6 1534.3,669.6 1534.9,669.6 1535.5,669.6 1536,669.6 1536.6,669.6 1537.2,669.6 1537.8,669.6 1538.3,669.6 1538.9,669.6 1539.5,669.6 1540.1,669.6 1540.7,669.6 1541.2,669.6 1541.8,669.6 1542.4,669.6 1543,669.6 1543.5,669.6 1544.1,669.6 1544.7,669.6 1545.3,669.6 1545.8,669.6 1546.4,669.6 1547,669.6 1547.6,669.6 1548.2,669.6 1548.7,669.6 1549.3,669.6 1549.9,669.6 1550.5,669.6 1551,669.6 1551.6,669.6 1552.2,669.6 1552.8,669.6 1553.4,669.6 1553.9,669.6 1554.5,669.6 1555.1,669.6 1555.7,669.6 1556.2,669.6 1556.8,669.6 1557.4,669.6 1558,669.6 1558.6,669.6 1559.1,669.6 1559.7,669.6 1560.3,669.6 1560.9,669.6 1561.4,669.6 1562,669.6 1562.6,669.6 1563.2,669.6 1563.8,669.6 1564.3,669.6 1564.9,669.6 1565.5,669.6 1566.1,669.6 1566.6,669.6 1567.2,669.6 1567.8,669.6 1568.4,669.6 1569,669.6 1569.5,669.6 1570.1,669.6 1570.7,669.6 1571.3,669.6 1571.8,669.6 1572.4,669.6 1573,669.6 1573.6,669.6 1574.2,669.6 1574.7,669.6 1575.3,669.6 1575.9,669.6 1576.5,669.6 1577,669.6 1577.6,669.6 1578.2,669.6 1578.8,669.6 1579.4,669.6 1579.9,669.6 1580.5,669.6 1581.1,669.6 1581.7,669.6 1582.2,669.6 1582.8,669.6 1583.4,669.6 1584,669.6 1584.5,669.6 1585.1,669.6 1585.7,669.6 1586.3,669.6 1586.9,669.6 1587.4,669.6 1588,669.6 1588.6,669.6 1589.2,669.6 1589.7,669.6 1590.3,669.6 1590.9,669.6 1591.5,669.6 1592.1,669.6 1592.6,669.6 1593.2,669.6 1593.8,669.6 1594.4,669.6 1594.9,669.6 1595.5,669.6 1596.1,669.6 1596.7,669.6 1597.3,669.6 1597.8,669.6 1598.4,669.6 1599,669.6 1599.6,669.6 1600.1,669.6 1600.7,669.6 1601.3,669.6" fill="none" stroke="#e8141c" stroke-width="3.2" stroke-linejoin="round"/><rect x="1255.8" y="583.3" width="345.5" height="290.4" fill="none" stroke="#000" stroke-width="1.9"/><line x1="1248.3" y1="873.7" x2="1255.8" y2="873.7" stroke="#000" stroke-width="1.9"/><text x="1237" y="884" font-size="29.4" text-anchor="end" font-weight="normal" fill="#000" >0.0</text><line x1="1248.3" y1="771.7" x2="1255.8" y2="771.7" stroke="#000" stroke-width="1.9"/><text x="1237" y="782" font-size="29.4" text-anchor="end" font-weight="normal" fill="#000" >0.5</text><line x1="1248.3" y1="669.6" x2="1255.8" y2="669.6" stroke="#000" stroke-width="1.9"/><text x="1237" y="679.9" font-size="29.4" text-anchor="end" font-weight="normal" fill="#000" >1.0</text><text transform="translate(1174.8,730) rotate(-90)" font-size="29.4" text-anchor="middle" ><tspan font-style="italic">g</tspan><tspan font-size="19" dy="-12.5">2</tspan><tspan dy="12.5"> (</tspan><tspan font-family="Liberation Serif, serif">&#964;</tspan>)</text><text x="1443" y="797" font-size="29.4" text-anchor="start" font-weight="normal" fill="#000" >0.48</text><path d="M1257.6,967.7a1.8,1.8 0 1,0 -3.6,0a1.8,1.8 0 1,0 3.6,0M1258,976.8a1.8,1.8 0 1,0 -3.6,0a1.8,1.8 0 1,0 3.6,0M1258.4,1041.8a1.8,1.8 0 1,0 -3.6,0a1.8,1.8 0 1,0 3.6,0M1258.9,1024.1a1.8,1.8 0 1,0 -3.6,0a1.8,1.8 0 1,0 3.6,0M1259.3,984.2a1.8,1.8 0 1,0 -3.6,0a1.8,1.8 0 1,0 3.6,0M1259.7,992a1.8,1.8 0 1,0 -3.6,0a1.8,1.8 0 1,0 3.6,0M1260.1,996.5a1.8,1.8 0 1,0 -3.6,0a1.8,1.8 0 1,0 3.6,0M1260.6,971.8a1.8,1.8 0 1,0 -3.6,0a1.8,1.8 0 1,0 3.6,0M1261,1020.9a1.8,1.8 0 1,0 -3.6,0a1.8,1.8 0 1,0 3.6,0M1261.4,969.1a1.8,1.8 0 1,0 -3.6,0a1.8,1.8 0 1,0 3.6,0M1261.8,987.6a1.8,1.8 0 1,0 -3.6,0a1.8,1.8 0 1,0 3.6,0M1262.2,980.4a1.8,1.8 0 1,0 -3.6,0a1.8,1.8 0 1,0 3.6,0M1262.7,985.5a1.8,1.8 0 1,0 -3.6,0a1.8,1.8 0 1,0 3.6,0M1263.1,975.2a1.8,1.8 0 1,0 -3.6,0a1.8,1.8 0 1,0 3.6,0M1263.5,994.2a1.8,1.8 0 1,0 -3.6,0a1.8,1.8 0 1,0 3.6,0M1263.9,999.2a1.8,1.8 0 1,0 -3.6,0a1.8,1.8 0 1,0 3.6,0M1264.3,976.2a1.8,1.8 0 1,0 -3.6,0a1.8,1.8 0 1,0 3.6,0M1264.8,986.7a1.8,1.8 0 1,0 -3.6,0a1.8,1.8 0 1,0 3.6,0M1265.2,1011.6a1.8,1.8 0 1,0 -3.6,0a1.8,1.8 0 1,0 3.6,0M1265.6,966.3a1.8,1.8 0 1,0 -3.6,0a1.8,1.8 0 1,0 3.6,0M1266,968.7a1.8,1.8 0 1,0 -3.6,0a1.8,1.8 0 1,0 3.6,0M1266.5,964.7a1.8,1.8 0 1,0 -3.6,0a1.8,1.8 0 1,0 3.6,0M1266.9,988.3a1.8,1.8 0 1,0 -3.6,0a1.8,1.8 0 1,0 3.6,0M1267.3,983.6a1.8,1.8 0 1,0 -3.6,0a1.8,1.8 0 1,0 3.6,0M1267.7,996.3a1.8,1.8 0 1,0 -3.6,0a1.8,1.8 0 1,0 3.6,0M1268.1,1006.5a1.8,1.8 0 1,0 -3.6,0a1.8,1.8 0 1,0 3.6,0M1268.6,988.5a1.8,1.8 0 1,0 -3.6,0a1.8,1.8 0 1,0 3.6,0M1269,986.5a1.8,1.8 0 1,0 -3.6,0a1.8,1.8 0 1,0 3.6,0M1269.4,1001.1a1.8,1.8 0 1,0 -3.6,0a1.8,1.8 0 1,0 3.6,0M1269.8,957.8a1.8,1.8 0 1,0 -3.6,0a1.8,1.8 0 1,0 3.6,0M1270.3,1017.6a1.8,1.8 0 1,0 -3.6,0a1.8,1.8 0 1,0 3.6,0M1270.7,1003.7a1.8,1.8 0 1,0 -3.6,0a1.8,1.8 0 1,0 3.6,0M1271.1,1001.2a1.8,1.8 0 1,0 -3.6,0a1.8,1.8 0 1,0 3.6,0M1271.5,967.1a1.8,1.8 0 1,0 -3.6,0a1.8,1.8 0 1,0 3.6,0M1271.9,993.9a1.8,1.8 0 1,0 -3.6,0a1.8,1.8 0 1,0 3.6,0M1272.4,995.1a1.8,1.8 0 1,0 -3.6,0a1.8,1.8 0 1,0 3.6,0M1272.8,1004.8a1.8,1.8 0 1,0 -3.6,0a1.8,1.8 0 1,0 3.6,0M1273.2,1002.7a1.8,1.8 0 1,0 -3.6,0a1.8,1.8 0 1,0 3.6,0M1273.6,1012.1a1.8,1.8 0 1,0 -3.6,0a1.8,1.8 0 1,0 3.6,0M1274.1,971.7a1.8,1.8 0 1,0 -3.6,0a1.8,1.8 0 1,0 3.6,0M1274.5,978.8a1.8,1.8 0 1,0 -3.6,0a1.8,1.8 0 1,0 3.6,0M1274.9,972.2a1.8,1.8 0 1,0 -3.6,0a1.8,1.8 0 1,0 3.6,0M1275.3,1000.8a1.8,1.8 0 1,0 -3.6,0a1.8,1.8 0 1,0 3.6,0M1275.7,945.7a1.8,1.8 0 1,0 -3.6,0a1.8,1.8 0 1,0 3.6,0M1276.2,1006.3a1.8,1.8 0 1,0 -3.6,0a1.8,1.8 0 1,0 3.6,0M1276.6,1025a1.8,1.8 0 1,0 -3.6,0a1.8,1.8 0 1,0 3.6,0M1277,994.3a1.8,1.8 0 1,0 -3.6,0a1.8,1.8 0 1,0 3.6,0M1277.4,986.9a1.8,1.8 0 1,0 -3.6,0a1.8,1.8 0 1,0 3.6,0M1277.8,976.1a1.8,1.8 0 1,0 -3.6,0a1.8,1.8 0 1,0 3.6,0M1278.3,1006.9a1.8,1.8 0 1,0 -3.6,0a1.8,1.8 0 1,0 3.6,0M1278.7,978.9a1.8,1.8 0 1,0 -3.6,0a1.8,1.8 0 1,0 3.6,0M1279.1,959.5a1.8,1.8 0 1,0 -3.6,0a1.8,1.8 0 1,0 3.6,0M1279.5,1003.9a1.8,1.8 0 1,0 -3.6,0a1.8,1.8 0 1,0 3.6,0M1280,1002a1.8,1.8 0 1,0 -3.6,0a1.8,1.8 0 1,0 3.6,0M1280.4,1018.7a1.8,1.8 0 1,0 -3.6,0a1.8,1.8 0 1,0 3.6,0M1280.8,984.9a1.8,1.8 0 1,0 -3.6,0a1.8,1.8 0 1,0 3.6,0M1281.2,974.2a1.8,1.8 0 1,0 -3.6,0a1.8,1.8 0 1,0 3.6,0M1281.6,975.7a1.8,1.8 0 1,0 -3.6,0a1.8,1.8 0 1,0 3.6,0M1282.1,974.5a1.8,1.8 0 1,0 -3.6,0a1.8,1.8 0 1,0 3.6,0M1282.5,964.4a1.8,1.8 0 1,0 -3.6,0a1.8,1.8 0 1,0 3.6,0M1282.9,986.8a1.8,1.8 0 1,0 -3.6,0a1.8,1.8 0 1,0 3.6,0M1283.3,972.4a1.8,1.8 0 1,0 -3.6,0a1.8,1.8 0 1,0 3.6,0M1283.8,1005.5a1.8,1.8 0 1,0 -3.6,0a1.8,1.8 0 1,0 3.6,0M1284.2,1002.7a1.8,1.8 0 1,0 -3.6,0a1.8,1.8 0 1,0 3.6,0M1284.6,984.7a1.8,1.8 0 1,0 -3.6,0a1.8,1.8 0 1,0 3.6,0M1285,1003.1a1.8,1.8 0 1,0 -3.6,0a1.8,1.8 0 1,0 3.6,0M1285.4,978.9a1.8,1.8 0 1,0 -3.6,0a1.8,1.8 0 1,0 3.6,0M1285.9,964.9a1.8,1.8 0 1,0 -3.6,0a1.8,1.8 0 1,0 3.6,0M1286.3,981.8a1.8,1.8 0 1,0 -3.6,0a1.8,1.8 0 1,0 3.6,0M1286.7,1001.6a1.8,1.8 0 1,0 -3.6,0a1.8,1.8 0 1,0 3.6,0M1287.1,1001.8a1.8,1.8 0 1,0 -3.6,0a1.8,1.8 0 1,0 3.6,0M1287.6,965a1.8,1.8 0 1,0 -3.6,0a1.8,1.8 0 1,0 3.6,0M1288,1002.6a1.8,1.8 0 1,0 -3.6,0a1.8,1.8 0 1,0 3.6,0M1288.4,987.2a1.8,1.8 0 1,0 -3.6,0a1.8,1.8 0 1,0 3.6,0M1288.8,993.2a1.8,1.8 0 1,0 -3.6,0a1.8,1.8 0 1,0 3.6,0M1289.2,987.7a1.8,1.8 0 1,0 -3.6,0a1.8,1.8 0 1,0 3.6,0M1289.7,969.6a1.8,1.8 0 1,0 -3.6,0a1.8,1.8 0 1,0 3.6,0M1290.1,998a1.8,1.8 0 1,0 -3.6,0a1.8,1.8 0 1,0 3.6,0M1290.5,1013.1a1.8,1.8 0 1,0 -3.6,0a1.8,1.8 0 1,0 3.6,0M1290.9,963.4a1.8,1.8 0 1,0 -3.6,0a1.8,1.8 0 1,0 3.6,0M1291.3,984.7a1.8,1.8 0 1,0 -3.6,0a1.8,1.8 0 1,0 3.6,0M1291.8,975.9a1.8,1.8 0 1,0 -3.6,0a1.8,1.8 0 1,0 3.6,0M1292.2,988.9a1.8,1.8 0 1,0 -3.6,0a1.8,1.8 0 1,0 3.6,0M1292.6,975a1.8,1.8 0 1,0 -3.6,0a1.8,1.8 0 1,0 3.6,0M1293,966.5a1.8,1.8 0 1,0 -3.6,0a1.8,1.8 0 1,0 3.6,0M1293.5,964.7a1.8,1.8 0 1,0 -3.6,0a1.8,1.8 0 1,0 3.6,0M1293.9,993.2a1.8,1.8 0 1,0 -3.6,0a1.8,1.8 0 1,0 3.6,0M1294.3,994.5a1.8,1.8 0 1,0 -3.6,0a1.8,1.8 0 1,0 3.6,0M1294.7,981.5a1.8,1.8 0 1,0 -3.6,0a1.8,1.8 0 1,0 3.6,0M1295.1,984.8a1.8,1.8 0 1,0 -3.6,0a1.8,1.8 0 1,0 3.6,0M1295.6,978.5a1.8,1.8 0 1,0 -3.6,0a1.8,1.8 0 1,0 3.6,0M1296,1000.7a1.8,1.8 0 1,0 -3.6,0a1.8,1.8 0 1,0 3.6,0M1296.4,1028.7a1.8,1.8 0 1,0 -3.6,0a1.8,1.8 0 1,0 3.6,0M1296.8,980.5a1.8,1.8 0 1,0 -3.6,0a1.8,1.8 0 1,0 3.6,0M1297.3,974.7a1.8,1.8 0 1,0 -3.6,0a1.8,1.8 0 1,0 3.6,0M1297.7,977.1a1.8,1.8 0 1,0 -3.6,0a1.8,1.8 0 1,0 3.6,0M1298.1,959.4a1.8,1.8 0 1,0 -3.6,0a1.8,1.8 0 1,0 3.6,0M1298.5,973.4a1.8,1.8 0 1,0 -3.6,0a1.8,1.8 0 1,0 3.6,0M1298.9,994.9a1.8,1.8 0 1,0 -3.6,0a1.8,1.8 0 1,0 3.6,0M1299.4,971a1.8,1.8 0 1,0 -3.6,0a1.8,1.8 0 1,0 3.6,0M1299.8,989.6a1.8,1.8 0 1,0 -3.6,0a1.8,1.8 0 1,0 3.6,0M1300.2,966.3a1.8,1.8 0 1,0 -3.6,0a1.8,1.8 0 1,0 3.6,0M1300.6,983.9a1.8,1.8 0 1,0 -3.6,0a1.8,1.8 0 1,0 3.6,0M1301.1,980.2a1.8,1.8 0 1,0 -3.6,0a1.8,1.8 0 1,0 3.6,0M1301.5,984.1a1.8,1.8 0 1,0 -3.6,0a1.8,1.8 0 1,0 3.6,0M1301.9,987.1a1.8,1.8 0 1,0 -3.6,0a1.8,1.8 0 1,0 3.6,0M1302.3,1014a1.8,1.8 0 1,0 -3.6,0a1.8,1.8 0 1,0 3.6,0M1302.7,986.9a1.8,1.8 0 1,0 -3.6,0a1.8,1.8 0 1,0 3.6,0M1303.2,1027.4a1.8,1.8 0 1,0 -3.6,0a1.8,1.8 0 1,0 3.6,0M1303.6,979.3a1.8,1.8 0 1,0 -3.6,0a1.8,1.8 0 1,0 3.6,0M1304,970.6a1.8,1.8 0 1,0 -3.6,0a1.8,1.8 0 1,0 3.6,0M1304.4,952.2a1.8,1.8 0 1,0 -3.6,0a1.8,1.8 0 1,0 3.6,0M1304.8,981.3a1.8,1.8 0 1,0 -3.6,0a1.8,1.8 0 1,0 3.6,0M1305.3,1000.3a1.8,1.8 0 1,0 -3.6,0a1.8,1.8 0 1,0 3.6,0M1305.7,1015.4a1.8,1.8 0 1,0 -3.6,0a1.8,1.8 0 1,0 3.6,0M1306.1,953.9a1.8,1.8 0 1,0 -3.6,0a1.8,1.8 0 1,0 3.6,0M1306.5,1012.5a1.8,1.8 0 1,0 -3.6,0a1.8,1.8 0 1,0 3.6,0M1307,972.2a1.8,1.8 0 1,0 -3.6,0a1.8,1.8 0 1,0 3.6,0M1307.4,1027.8a1.8,1.8 0 1,0 -3.6,0a1.8,1.8 0 1,0 3.6,0M1307.8,988.6a1.8,1.8 0 1,0 -3.6,0a1.8,1.8 0 1,0 3.6,0M1308.2,975.8a1.8,1.8 0 1,0 -3.6,0a1.8,1.8 0 1,0 3.6,0M1308.6,982a1.8,1.8 0 1,0 -3.6,0a1.8,1.8 0 1,0 3.6,0M1309.1,988.3a1.8,1.8 0 1,0 -3.6,0a1.8,1.8 0 1,0 3.6,0M1309.5,1001.9a1.8,1.8 0 1,0 -3.6,0a1.8,1.8 0 1,0 3.6,0M1309.9,1003.3a1.8,1.8 0 1,0 -3.6,0a1.8,1.8 0 1,0 3.6,0M1310.3,970a1.8,1.8 0 1,0 -3.6,0a1.8,1.8 0 1,0 3.6,0M1310.8,979.9a1.8,1.8 0 1,0 -3.6,0a1.8,1.8 0 1,0 3.6,0M1311.2,990.3a1.8,1.8 0 1,0 -3.6,0a1.8,1.8 0 1,0 3.6,0M1311.6,983.9a1.8,1.8 0 1,0 -3.6,0a1.8,1.8 0 1,0 3.6,0M1312,1003.5a1.8,1.8 0 1,0 -3.6,0a1.8,1.8 0 1,0 3.6,0M1312.4,969.6a1.8,1.8 0 1,0 -3.6,0a1.8,1.8 0 1,0 3.6,0M1312.9,965.5a1.8,1.8 0 1,0 -3.6,0a1.8,1.8 0 1,0 3.6,0M1313.3,1000.9a1.8,1.8 0 1,0 -3.6,0a1.8,1.8 0 1,0 3.6,0M1313.7,985.5a1.8,1.8 0 1,0 -3.6,0a1.8,1.8 0 1,0 3.6,0M1314.1,969.1a1.8,1.8 0 1,0 -3.6,0a1.8,1.8 0 1,0 3.6,0M1314.6,998.4a1.8,1.8 0 1,0 -3.6,0a1.8,1.8 0 1,0 3.6,0M1315,951.9a1.8,1.8 0 1,0 -3.6,0a1.8,1.8 0 1,0 3.6,0M1315.4,961a1.8,1.8 0 1,0 -3.6,0a1.8,1.8 0 1,0 3.6,0M1315.8,992a1.8,1.8 0 1,0 -3.6,0a1.8,1.8 0 1,0 3.6,0M1316.2,970.2a1.8,1.8 0 1,0 -3.6,0a1.8,1.8 0 1,0 3.6,0M1316.7,958.3a1.8,1.8 0 1,0 -3.6,0a1.8,1.8 0 1,0 3.6,0M1317.1,1008.7a1.8,1.8 0 1,0 -3.6,0a1.8,1.8 0 1,0 3.6,0M1317.5,976.3a1.8,1.8 0 1,0 -3.6,0a1.8,1.8 0 1,0 3.6,0M1317.9,989.6a1.8,1.8 0 1,0 -3.6,0a1.8,1.8 0 1,0 3.6,0M1318.3,990.8a1.8,1.8 0 1,0 -3.6,0a1.8,1.8 0 1,0 3.6,0M1318.8,974.7a1.8,1.8 0 1,0 -3.6,0a1.8,1.8 0 1,0 3.6,0M1319.2,995.3a1.8,1.8 0 1,0 -3.6,0a1.8,1.8 0 1,0 3.6,0M1319.6,1011.3a1.8,1.8 0 1,0 -3.6,0a1.8,1.8 0 1,0 3.6,0M1320,1011.6a1.8,1.8 0 1,0 -3.6,0a1.8,1.8 0 1,0 3.6,0M1320.5,987.2a1.8,1.8 0 1,0 -3.6,0a1.8,1.8 0 1,0 3.6,0M1320.9,976a1.8,1.8 0 1,0 -3.6,0a1.8,1.8 0 1,0 3.6,0M1321.3,987.3a1.8,1.8 0 1,0 -3.6,0a1.8,1.8 0 1,0 3.6,0M1321.7,989.5a1.8,1.8 0 1,0 -3.6,0a1.8,1.8 0 1,0 3.6,0M1322.1,987.3a1.8,1.8 0 1,0 -3.6,0a1.8,1.8 0 1,0 3.6,0M1322.6,964.4a1.8,1.8 0 1,0 -3.6,0a1.8,1.8 0 1,0 3.6,0M1323,977.5a1.8,1.8 0 1,0 -3.6,0a1.8,1.8 0 1,0 3.6,0M1323.4,999.7a1.8,1.8 0 1,0 -3.6,0a1.8,1.8 0 1,0 3.6,0M1323.8,991.7a1.8,1.8 0 1,0 -3.6,0a1.8,1.8 0 1,0 3.6,0M1324.3,965.7a1.8,1.8 0 1,0 -3.6,0a1.8,1.8 0 1,0 3.6,0M1324.7,996.7a1.8,1.8 0 1,0 -3.6,0a1.8,1.8 0 1,0 3.6,0M1325.1,993.5a1.8,1.8 0 1,0 -3.6,0a1.8,1.8 0 1,0 3.6,0M1325.5,987a1.8,1.8 0 1,0 -3.6,0a1.8,1.8 0 1,0 3.6,0M1325.9,1005.1a1.8,1.8 0 1,0 -3.6,0a1.8,1.8 0 1,0 3.6,0M1326.4,970.9a1.8,1.8 0 1,0 -3.6,0a1.8,1.8 0 1,0 3.6,0M1326.8,1024.5a1.8,1.8 0 1,0 -3.6,0a1.8,1.8 0 1,0 3.6,0M1327.2,961.3a1.8,1.8 0 1,0 -3.6,0a1.8,1.8 0 1,0 3.6,0M1327.6,994a1.8,1.8 0 1,0 -3.6,0a1.8,1.8 0 1,0 3.6,0M1328,1008.2a1.8,1.8 0 1,0 -3.6,0a1.8,1.8 0 1,0 3.6,0M1328.5,981.5a1.8,1.8 0 1,0 -3.6,0a1.8,1.8 0 1,0 3.6,0M1328.9,1016.1a1.8,1.8 0 1,0 -3.6,0a1.8,1.8 0 1,0 3.6,0M1329.3,977a1.8,1.8 0 1,0 -3.6,0a1.8,1.8 0 1,0 3.6,0M1329.7,972.9a1.8,1.8 0 1,0 -3.6,0a1.8,1.8 0 1,0 3.6,0M1330.2,996.3a1.8,1.8 0 1,0 -3.6,0a1.8,1.8 0 1,0 3.6,0M1330.6,993a1.8,1.8 0 1,0 -3.6,0a1.8,1.8 0 1,0 3.6,0M1331,969.7a1.8,1.8 0 1,0 -3.6,0a1.8,1.8 0 1,0 3.6,0M1331.4,997.9a1.8,1.8 0 1,0 -3.6,0a1.8,1.8 0 1,0 3.6,0M1331.8,985.8a1.8,1.8 0 1,0 -3.6,0a1.8,1.8 0 1,0 3.6,0M1332.3,980.1a1.8,1.8 0 1,0 -3.6,0a1.8,1.8 0 1,0 3.6,0M1332.7,959a1.8,1.8 0 1,0 -3.6,0a1.8,1.8 0 1,0 3.6,0M1333.1,994.8a1.8,1.8 0 1,0 -3.6,0a1.8,1.8 0 1,0 3.6,0M1333.5,985.5a1.8,1.8 0 1,0 -3.6,0a1.8,1.8 0 1,0 3.6,0M1334,966.4a1.8,1.8 0 1,0 -3.6,0a1.8,1.8 0 1,0 3.6,0M1334.4,1030.4a1.8,1.8 0 1,0 -3.6,0a1.8,1.8 0 1,0 3.6,0M1334.8,990.6a1.8,1.8 0 1,0 -3.6,0a1.8,1.8 0 1,0 3.6,0M1335.2,1019.1a1.8,1.8 0 1,0 -3.6,0a1.8,1.8 0 1,0 3.6,0M1335.6,1017.9a1.8,1.8 0 1,0 -3.6,0a1.8,1.8 0 1,0 3.6,0M1336.1,951.9a1.8,1.8 0 1,0 -3.6,0a1.8,1.8 0 1,0 3.6,0M1336.5,982.2a1.8,1.8 0 1,0 -3.6,0a1.8,1.8 0 1,0 3.6,0M1336.9,960.1a1.8,1.8 0 1,0 -3.6,0a1.8,1.8 0 1,0 3.6,0M1337.3,990a1.8,1.8 0 1,0 -3.6,0a1.8,1.8 0 1,0 3.6,0M1337.8,976.4a1.8,1.8 0 1,0 -3.6,0a1.8,1.8 0 1,0 3.6,0M1338.2,993.2a1.8,1.8 0 1,0 -3.6,0a1.8,1.8 0 1,0 3.6,0M1338.6,995.2a1.8,1.8 0 1,0 -3.6,0a1.8,1.8 0 1,0 3.6,0M1339,987a1.8,1.8 0 1,0 -3.6,0a1.8,1.8 0 1,0 3.6,0M1339.4,983.4a1.8,1.8 0 1,0 -3.6,0a1.8,1.8 0 1,0 3.6,0M1339.9,959a1.8,1.8 0 1,0 -3.6,0a1.8,1.8 0 1,0 3.6,0M1340.3,989a1.8,1.8 0 1,0 -3.6,0a1.8,1.8 0 1,0 3.6,0M1340.7,979a1.8,1.8 0 1,0 -3.6,0a1.8,1.8 0 1,0 3.6,0M1341.1,990a1.8,1.8 0 1,0 -3.6,0a1.8,1.8 0 1,0 3.6,0M1341.5,983a1.8,1.8 0 1,0 -3.6,0a1.8,1.8 0 1,0 3.6,0M1342,1008.3a1.8,1.8 0 1,0 -3.6,0a1.8,1.8 0 1,0 3.6,0M1342.4,966.5a1.8,1.8 0 1,0 -3.6,0a1.8,1.8 0 1,0 3.6,0M1342.8,994.5a1.8,1.8 0 1,0 -3.6,0a1.8,1.8 0 1,0 3.6,0M1343.2,984.7a1.8,1.8 0 1,0 -3.6,0a1.8,1.8 0 1,0 3.6,0M1343.7,989.1a1.8,1.8 0 1,0 -3.6,0a1.8,1.8 0 1,0 3.6,0M1344.1,968.3a1.8,1.8 0 1,0 -3.6,0a1.8,1.8 0 1,0 3.6,0M1344.5,976.3a1.8,1.8 0 1,0 -3.6,0a1.8,1.8 0 1,0 3.6,0M1344.9,985.1a1.8,1.8 0 1,0 -3.6,0a1.8,1.8 0 1,0 3.6,0M1345.3,982.2a1.8,1.8 0 1,0 -3.6,0a1.8,1.8 0 1,0 3.6,0M1345.8,979.3a1.8,1.8 0 1,0 -3.6,0a1.8,1.8 0 1,0 3.6,0M1346.2,972.1a1.8,1.8 0 1,0 -3.6,0a1.8,1.8 0 1,0 3.6,0M1346.6,976.4a1.8,1.8 0 1,0 -3.6,0a1.8,1.8 0 1,0 3.6,0M1347,962.9a1.8,1.8 0 1,0 -3.6,0a1.8,1.8 0 1,0 3.6,0M1347.5,957a1.8,1.8 0 1,0 -3.6,0a1.8,1.8 0 1,0 3.6,0M1347.9,974.4a1.8,1.8 0 1,0 -3.6,0a1.8,1.8 0 1,0 3.6,0M1348.3,1008a1.8,1.8 0 1,0 -3.6,0a1.8,1.8 0 1,0 3.6,0M1348.7,954.7a1.8,1.8 0 1,0 -3.6,0a1.8,1.8 0 1,0 3.6,0M1349.1,947.7a1.8,1.8 0 1,0 -3.6,0a1.8,1.8 0 1,0 3.6,0M1349.6,991.3a1.8,1.8 0 1,0 -3.6,0a1.8,1.8 0 1,0 3.6,0M1350,992.2a1.8,1.8 0 1,0 -3.6,0a1.8,1.8 0 1,0 3.6,0M1350.4,1020.7a1.8,1.8 0 1,0 -3.6,0a1.8,1.8 0 1,0 3.6,0M1350.8,971.4a1.8,1.8 0 1,0 -3.6,0a1.8,1.8 0 1,0 3.6,0M1351.3,1002.4a1.8,1.8 0 1,0 -3.6,0a1.8,1.8 0 1,0 3.6,0M1351.7,953.1a1.8,1.8 0 1,0 -3.6,0a1.8,1.8 0 1,0 3.6,0M1352.1,1027.8a1.8,1.8 0 1,0 -3.6,0a1.8,1.8 0 1,0 3.6,0M1352.5,983.6a1.8,1.8 0 1,0 -3.6,0a1.8,1.8 0 1,0 3.6,0M1352.9,973.1a1.8,1.8 0 1,0 -3.6,0a1.8,1.8 0 1,0 3.6,0M1353.4,991.8a1.8,1.8 0 1,0 -3.6,0a1.8,1.8 0 1,0 3.6,0M1353.8,998.5a1.8,1.8 0 1,0 -3.6,0a1.8,1.8 0 1,0 3.6,0M1354.2,980.4a1.8,1.8 0 1,0 -3.6,0a1.8,1.8 0 1,0 3.6,0M1354.6,993.9a1.8,1.8 0 1,0 -3.6,0a1.8,1.8 0 1,0 3.6,0M1355,990.6a1.8,1.8 0 1,0 -3.6,0a1.8,1.8 0 1,0 3.6,0M1355.5,985.3a1.8,1.8 0 1,0 -3.6,0a1.8,1.8 0 1,0 3.6,0M1355.9,994.3a1.8,1.8 0 1,0 -3.6,0a1.8,1.8 0 1,0 3.6,0M1356.3,988.6a1.8,1.8 0 1,0 -3.6,0a1.8,1.8 0 1,0 3.6,0M1356.7,970.9a1.8,1.8 0 1,0 -3.6,0a1.8,1.8 0 1,0 3.6,0M1357.2,991.3a1.8,1.8 0 1,0 -3.6,0a1.8,1.8 0 1,0 3.6,0M1357.6,981.7a1.8,1.8 0 1,0 -3.6,0a1.8,1.8 0 1,0 3.6,0M1358,997.6a1.8,1.8 0 1,0 -3.6,0a1.8,1.8 0 1,0 3.6,0M1358.4,968.7a1.8,1.8 0 1,0 -3.6,0a1.8,1.8 0 1,0 3.6,0M1358.8,1006.8a1.8,1.8 0 1,0 -3.6,0a1.8,1.8 0 1,0 3.6,0M1359.3,967.9a1.8,1.8 0 1,0 -3.6,0a1.8,1.8 0 1,0 3.6,0M1359.7,1036.9a1.8,1.8 0 1,0 -3.6,0a1.8,1.8 0 1,0 3.6,0M1360.1,1000.2a1.8,1.8 0 1,0 -3.6,0a1.8,1.8 0 1,0 3.6,0M1360.5,1011.9a1.8,1.8 0 1,0 -3.6,0a1.8,1.8 0 1,0 3.6,0M1361,966.8a1.8,1.8 0 1,0 -3.6,0a1.8,1.8 0 1,0 3.6,0M1361.4,979.7a1.8,1.8 0 1,0 -3.6,0a1.8,1.8 0 1,0 3.6,0M1361.8,1007.1a1.8,1.8 0 1,0 -3.6,0a1.8,1.8 0 1,0 3.6,0M1362.2,994.3a1.8,1.8 0 1,0 -3.6,0a1.8,1.8 0 1,0 3.6,0M1362.6,961.1a1.8,1.8 0 1,0 -3.6,0a1.8,1.8 0 1,0 3.6,0M1363.1,985.4a1.8,1.8 0 1,0 -3.6,0a1.8,1.8 0 1,0 3.6,0M1363.5,974.7a1.8,1.8 0 1,0 -3.6,0a1.8,1.8 0 1,0 3.6,0M1363.9,1010.6a1.8,1.8 0 1,0 -3.6,0a1.8,1.8 0 1,0 3.6,0M1364.3,1010.6a1.8,1.8 0 1,0 -3.6,0a1.8,1.8 0 1,0 3.6,0M1364.8,974.6a1.8,1.8 0 1,0 -3.6,0a1.8,1.8 0 1,0 3.6,0M1365.2,944.6a1.8,1.8 0 1,0 -3.6,0a1.8,1.8 0 1,0 3.6,0M1365.6,993.9a1.8,1.8 0 1,0 -3.6,0a1.8,1.8 0 1,0 3.6,0M1366,974.3a1.8,1.8 0 1,0 -3.6,0a1.8,1.8 0 1,0 3.6,0M1366.4,1000.9a1.8,1.8 0 1,0 -3.6,0a1.8,1.8 0 1,0 3.6,0M1366.9,962.9a1.8,1.8 0 1,0 -3.6,0a1.8,1.8 0 1,0 3.6,0M1367.3,992.4a1.8,1.8 0 1,0 -3.6,0a1.8,1.8 0 1,0 3.6,0M1367.7,992.1a1.8,1.8 0 1,0 -3.6,0a1.8,1.8 0 1,0 3.6,0M1368.1,1017.3a1.8,1.8 0 1,0 -3.6,0a1.8,1.8 0 1,0 3.6,0M1368.5,991.8a1.8,1.8 0 1,0 -3.6,0a1.8,1.8 0 1,0 3.6,0M1369,981.4a1.8,1.8 0 1,0 -3.6,0a1.8,1.8 0 1,0 3.6,0M1369.4,960.8a1.8,1.8 0 1,0 -3.6,0a1.8,1.8 0 1,0 3.6,0M1369.8,1004.9a1.8,1.8 0 1,0 -3.6,0a1.8,1.8 0 1,0 3.6,0M1370.2,967.7a1.8,1.8 0 1,0 -3.6,0a1.8,1.8 0 1,0 3.6,0M1370.7,990.6a1.8,1.8 0 1,0 -3.6,0a1.8,1.8 0 1,0 3.6,0M1371.1,989.7a1.8,1.8 0 1,0 -3.6,0a1.8,1.8 0 1,0 3.6,0M1371.5,1001.1a1.8,1.8 0 1,0 -3.6,0a1.8,1.8 0 1,0 3.6,0M1371.9,1014.1a1.8,1.8 0 1,0 -3.6,0a1.8,1.8 0 1,0 3.6,0M1372.3,1005.7a1.8,1.8 0 1,0 -3.6,0a1.8,1.8 0 1,0 3.6,0M1372.8,956.7a1.8,1.8 0 1,0 -3.6,0a1.8,1.8 0 1,0 3.6,0M1373.2,1005.4a1.8,1.8 0 1,0 -3.6,0a1.8,1.8 0 1,0 3.6,0M1373.6,992.4a1.8,1.8 0 1,0 -3.6,0a1.8,1.8 0 1,0 3.6,0M1374,965.8a1.8,1.8 0 1,0 -3.6,0a1.8,1.8 0 1,0 3.6,0M1374.5,1021.4a1.8,1.8 0 1,0 -3.6,0a1.8,1.8 0 1,0 3.6,0M1374.9,977.4a1.8,1.8 0 1,0 -3.6,0a1.8,1.8 0 1,0 3.6,0M1375.3,993.9a1.8,1.8 0 1,0 -3.6,0a1.8,1.8 0 1,0 3.6,0M1375.7,981.9a1.8,1.8 0 1,0 -3.6,0a1.8,1.8 0 1,0 3.6,0M1376.1,970.2a1.8,1.8 0 1,0 -3.6,0a1.8,1.8 0 1,0 3.6,0M1376.6,987.8a1.8,1.8 0 1,0 -3.6,0a1.8,1.8 0 1,0 3.6,0M1377,988.6a1.8,1.8 0 1,0 -3.6,0a1.8,1.8 0 1,0 3.6,0M1377.4,972.7a1.8,1.8 0 1,0 -3.6,0a1.8,1.8 0 1,0 3.6,0M1377.8,974.3a1.8,1.8 0 1,0 -3.6,0a1.8,1.8 0 1,0 3.6,0M1378.3,997.7a1.8,1.8 0 1,0 -3.6,0a1.8,1.8 0 1,0 3.6,0M1378.7,988.5a1.8,1.8 0 1,0 -3.6,0a1.8,1.8 0 1,0 3.6,0M1379.1,1008.5a1.8,1.8 0 1,0 -3.6,0a1.8,1.8 0 1,0 3.6,0M1379.5,963.2a1.8,1.8 0 1,0 -3.6,0a1.8,1.8 0 1,0 3.6,0M1379.9,1006.2a1.8,1.8 0 1,0 -3.6,0a1.8,1.8 0 1,0 3.6,0M1380.4,982.3a1.8,1.8 0 1,0 -3.6,0a1.8,1.8 0 1,0 3.6,0M1380.8,955.5a1.8,1.8 0 1,0 -3.6,0a1.8,1.8 0 1,0 3.6,0M1381.2,971.7a1.8,1.8 0 1,0 -3.6,0a1.8,1.8 0 1,0 3.6,0M1381.6,990.5a1.8,1.8 0 1,0 -3.6,0a1.8,1.8 0 1,0 3.6,0M1382,998.1a1.8,1.8 0 1,0 -3.6,0a1.8,1.8 0 1,0 3.6,0M1382.5,996.4a1.8,1.8 0 1,0 -3.6,0a1.8,1.8 0 1,0 3.6,0M1382.9,969.9a1.8,1.8 0 1,0 -3.6,0a1.8,1.8 0 1,0 3.6,0M1383.3,979.8a1.8,1.8 0 1,0 -3.6,0a1.8,1.8 0 1,0 3.6,0M1383.7,985.8a1.8,1.8 0 1,0 -3.6,0a1.8,1.8 0 1,0 3.6,0M1384.2,941.1a1.8,1.8 0 1,0 -3.6,0a1.8,1.8 0 1,0 3.6,0M1384.6,1000.1a1.8,1.8 0 1,0 -3.6,0a1.8,1.8 0 1,0 3.6,0M1385,994.2a1.8,1.8 0 1,0 -3.6,0a1.8,1.8 0 1,0 3.6,0M1385.4,992.3a1.8,1.8 0 1,0 -3.6,0a1.8,1.8 0 1,0 3.6,0M1385.8,982.2a1.8,1.8 0 1,0 -3.6,0a1.8,1.8 0 1,0 3.6,0M1386.3,980.8a1.8,1.8 0 1,0 -3.6,0a1.8,1.8 0 1,0 3.6,0M1386.7,990.8a1.8,1.8 0 1,0 -3.6,0a1.8,1.8 0 1,0 3.6,0M1387.1,973.6a1.8,1.8 0 1,0 -3.6,0a1.8,1.8 0 1,0 3.6,0M1387.5,977.1a1.8,1.8 0 1,0 -3.6,0a1.8,1.8 0 1,0 3.6,0M1388,991.6a1.8,1.8 0 1,0 -3.6,0a1.8,1.8 0 1,0 3.6,0M1388.4,1028.4a1.8,1.8 0 1,0 -3.6,0a1.8,1.8 0 1,0 3.6,0M1388.8,973.3a1.8,1.8 0 1,0 -3.6,0a1.8,1.8 0 1,0 3.6,0M1389.2,1003.1a1.8,1.8 0 1,0 -3.6,0a1.8,1.8 0 1,0 3.6,0M1389.6,998.3a1.8,1.8 0 1,0 -3.6,0a1.8,1.8 0 1,0 3.6,0M1390.1,989.8a1.8,1.8 0 1,0 -3.6,0a1.8,1.8 0 1,0 3.6,0M1390.5,1008.6a1.8,1.8 0 1,0 -3.6,0a1.8,1.8 0 1,0 3.6,0M1390.9,1001.5a1.8,1.8 0 1,0 -3.6,0a1.8,1.8 0 1,0 3.6,0M1391.3,987a1.8,1.8 0 1,0 -3.6,0a1.8,1.8 0 1,0 3.6,0M1391.8,994.2a1.8,1.8 0 1,0 -3.6,0a1.8,1.8 0 1,0 3.6,0M1392.2,983.3a1.8,1.8 0 1,0 -3.6,0a1.8,1.8 0 1,0 3.6,0M1392.6,1003.4a1.8,1.8 0 1,0 -3.6,0a1.8,1.8 0 1,0 3.6,0M1393,993.1a1.8,1.8 0 1,0 -3.6,0a1.8,1.8 0 1,0 3.6,0M1393.4,1007.3a1.8,1.8 0 1,0 -3.6,0a1.8,1.8 0 1,0 3.6,0M1393.9,994.4a1.8,1.8 0 1,0 -3.6,0a1.8,1.8 0 1,0 3.6,0M1394.3,985a1.8,1.8 0 1,0 -3.6,0a1.8,1.8 0 1,0 3.6,0M1394.7,994.2a1.8,1.8 0 1,0 -3.6,0a1.8,1.8 0 1,0 3.6,0M1395.1,1014.3a1.8,1.8 0 1,0 -3.6,0a1.8,1.8 0 1,0 3.6,0M1395.5,993.7a1.8,1.8 0 1,0 -3.6,0a1.8,1.8 0 1,0 3.6,0M1396,988.3a1.8,1.8 0 1,0 -3.6,0a1.8,1.8 0 1,0 3.6,0M1396.4,972a1.8,1.8 0 1,0 -3.6,0a1.8,1.8 0 1,0 3.6,0M1396.8,991.9a1.8,1.8 0 1,0 -3.6,0a1.8,1.8 0 1,0 3.6,0M1397.2,998.4a1.8,1.8 0 1,0 -3.6,0a1.8,1.8 0 1,0 3.6,0M1397.7,1011.3a1.8,1.8 0 1,0 -3.6,0a1.8,1.8 0 1,0 3.6,0M1398.1,958.9a1.8,1.8 0 1,0 -3.6,0a1.8,1.8 0 1,0 3.6,0M1398.5,1008.2a1.8,1.8 0 1,0 -3.6,0a1.8,1.8 0 1,0 3.6,0M1398.9,1011.4a1.8,1.8 0 1,0 -3.6,0a1.8,1.8 0 1,0 3.6,0M1399.3,995.5a1.8,1.8 0 1,0 -3.6,0a1.8,1.8 0 1,0 3.6,0M1399.8,1023.5a1.8,1.8 0 1,0 -3.6,0a1.8,1.8 0 1,0 3.6,0M1400.2,976a1.8,1.8 0 1,0 -3.6,0a1.8,1.8 0 1,0 3.6,0M1400.6,991.1a1.8,1.8 0 1,0 -3.6,0a1.8,1.8 0 1,0 3.6,0M1401,986.4a1.8,1.8 0 1,0 -3.6,0a1.8,1.8 0 1,0 3.6,0M1401.5,1011a1.8,1.8 0 1,0 -3.6,0a1.8,1.8 0 1,0 3.6,0M1401.9,1003.6a1.8,1.8 0 1,0 -3.6,0a1.8,1.8 0 1,0 3.6,0M1402.3,981.7a1.8,1.8 0 1,0 -3.6,0a1.8,1.8 0 1,0 3.6,0M1402.7,981.4a1.8,1.8 0 1,0 -3.6,0a1.8,1.8 0 1,0 3.6,0M1403.1,950.3a1.8,1.8 0 1,0 -3.6,0a1.8,1.8 0 1,0 3.6,0M1403.6,979.2a1.8,1.8 0 1,0 -3.6,0a1.8,1.8 0 1,0 3.6,0M1404,1028.3a1.8,1.8 0 1,0 -3.6,0a1.8,1.8 0 1,0 3.6,0M1404.4,996.6a1.8,1.8 0 1,0 -3.6,0a1.8,1.8 0 1,0 3.6,0M1404.8,1004.4a1.8,1.8 0 1,0 -3.6,0a1.8,1.8 0 1,0 3.6,0M1405.2,981.5a1.8,1.8 0 1,0 -3.6,0a1.8,1.8 0 1,0 3.6,0M1405.7,1001.1a1.8,1.8 0 1,0 -3.6,0a1.8,1.8 0 1,0 3.6,0M1406.1,992.4a1.8,1.8 0 1,0 -3.6,0a1.8,1.8 0 1,0 3.6,0M1406.5,1006a1.8,1.8 0 1,0 -3.6,0a1.8,1.8 0 1,0 3.6,0M1406.9,991.8a1.8,1.8 0 1,0 -3.6,0a1.8,1.8 0 1,0 3.6,0M1407.4,979a1.8,1.8 0 1,0 -3.6,0a1.8,1.8 0 1,0 3.6,0M1407.8,1012.6a1.8,1.8 0 1,0 -3.6,0a1.8,1.8 0 1,0 3.6,0M1408.2,1035.8a1.8,1.8 0 1,0 -3.6,0a1.8,1.8 0 1,0 3.6,0M1408.6,1020.7a1.8,1.8 0 1,0 -3.6,0a1.8,1.8 0 1,0 3.6,0M1409,980.7a1.8,1.8 0 1,0 -3.6,0a1.8,1.8 0 1,0 3.6,0M1409.5,1002.5a1.8,1.8 0 1,0 -3.6,0a1.8,1.8 0 1,0 3.6,0M1409.9,1011.4a1.8,1.8 0 1,0 -3.6,0a1.8,1.8 0 1,0 3.6,0M1410.3,1022.7a1.8,1.8 0 1,0 -3.6,0a1.8,1.8 0 1,0 3.6,0M1410.7,992.4a1.8,1.8 0 1,0 -3.6,0a1.8,1.8 0 1,0 3.6,0M1411.2,1005.1a1.8,1.8 0 1,0 -3.6,0a1.8,1.8 0 1,0 3.6,0M1411.6,1012.3a1.8,1.8 0 1,0 -3.6,0a1.8,1.8 0 1,0 3.6,0M1412,1019.9a1.8,1.8 0 1,0 -3.6,0a1.8,1.8 0 1,0 3.6,0M1412.4,1015a1.8,1.8 0 1,0 -3.6,0a1.8,1.8 0 1,0 3.6,0M1412.8,1018.6a1.8,1.8 0 1,0 -3.6,0a1.8,1.8 0 1,0 3.6,0M1413.3,1006.3a1.8,1.8 0 1,0 -3.6,0a1.8,1.8 0 1,0 3.6,0M1413.7,997a1.8,1.8 0 1,0 -3.6,0a1.8,1.8 0 1,0 3.6,0M1414.1,1046.5a1.8,1.8 0 1,0 -3.6,0a1.8,1.8 0 1,0 3.6,0M1414.5,1040a1.8,1.8 0 1,0 -3.6,0a1.8,1.8 0 1,0 3.6,0M1415,1021.3a1.8,1.8 0 1,0 -3.6,0a1.8,1.8 0 1,0 3.6,0M1415.4,1020a1.8,1.8 0 1,0 -3.6,0a1.8,1.8 0 1,0 3.6,0M1415.8,1045.2a1.8,1.8 0 1,0 -3.6,0a1.8,1.8 0 1,0 3.6,0M1416.2,1033.1a1.8,1.8 0 1,0 -3.6,0a1.8,1.8 0 1,0 3.6,0M1416.6,1031.4a1.8,1.8 0 1,0 -3.6,0a1.8,1.8 0 1,0 3.6,0M1417.1,1033.5a1.8,1.8 0 1,0 -3.6,0a1.8,1.8 0 1,0 3.6,0M1417.5,1035.4a1.8,1.8 0 1,0 -3.6,0a1.8,1.8 0 1,0 3.6,0M1417.9,1031.7a1.8,1.8 0 1,0 -3.6,0a1.8,1.8 0 1,0 3.6,0M1418.3,1019.9a1.8,1.8 0 1,0 -3.6,0a1.8,1.8 0 1,0 3.6,0M1418.7,1023.8a1.8,1.8 0 1,0 -3.6,0a1.8,1.8 0 1,0 3.6,0M1419.2,1027.8a1.8,1.8 0 1,0 -3.6,0a1.8,1.8 0 1,0 3.6,0M1419.6,1034.1a1.8,1.8 0 1,0 -3.6,0a1.8,1.8 0 1,0 3.6,0M1420,1049.4a1.8,1.8 0 1,0 -3.6,0a1.8,1.8 0 1,0 3.6,0M1420.4,1048.3a1.8,1.8 0 1,0 -3.6,0a1.8,1.8 0 1,0 3.6,0M1420.9,1034.9a1.8,1.8 0 1,0 -3.6,0a1.8,1.8 0 1,0 3.6,0M1421.3,1044.7a1.8,1.8 0 1,0 -3.6,0a1.8,1.8 0 1,0 3.6,0M1421.7,1038.2a1.8,1.8 0 1,0 -3.6,0a1.8,1.8 0 1,0 3.6,0M1422.1,1047.5a1.8,1.8 0 1,0 -3.6,0a1.8,1.8 0 1,0 3.6,0M1422.5,1052.6a1.8,1.8 0 1,0 -3.6,0a1.8,1.8 0 1,0 3.6,0M1423,1050.4a1.8,1.8 0 1,0 -3.6,0a1.8,1.8 0 1,0 3.6,0M1423.4,1077.5a1.8,1.8 0 1,0 -3.6,0a1.8,1.8 0 1,0 3.6,0M1423.8,1063.2a1.8,1.8 0 1,0 -3.6,0a1.8,1.8 0 1,0 3.6,0M1424.2,1071.2a1.8,1.8 0 1,0 -3.6,0a1.8,1.8 0 1,0 3.6,0M1424.7,1057.1a1.8,1.8 0 1,0 -3.6,0a1.8,1.8 0 1,0 3.6,0M1425.1,1077.9a1.8,1.8 0 1,0 -3.6,0a1.8,1.8 0 1,0 3.6,0M1425.5,1070.6a1.8,1.8 0 1,0 -3.6,0a1.8,1.8 0 1,0 3.6,0M1425.9,1081.3a1.8,1.8 0 1,0 -3.6,0a1.8,1.8 0 1,0 3.6,0M1426.3,1074.7a1.8,1.8 0 1,0 -3.6,0a1.8,1.8 0 1,0 3.6,0M1426.8,1075.6a1.8,1.8 0 1,0 -3.6,0a1.8,1.8 0 1,0 3.6,0M1427.2,1089.2a1.8,1.8 0 1,0 -3.6,0a1.8,1.8 0 1,0 3.6,0M1427.6,1089.6a1.8,1.8 0 1,0 -3.6,0a1.8,1.8 0 1,0 3.6,0M1428,1092.8a1.8,1.8 0 1,0 -3.6,0a1.8,1.8 0 1,0 3.6,0M1428.5,1091a1.8,1.8 0 1,0 -3.6,0a1.8,1.8 0 1,0 3.6,0M1428.9,1105.9a1.8,1.8 0 1,0 -3.6,0a1.8,1.8 0 1,0 3.6,0M1429.3,1106.7a1.8,1.8 0 1,0 -3.6,0a1.8,1.8 0 1,0 3.6,0M1429.7,1115.4a1.8,1.8 0 1,0 -3.6,0a1.8,1.8 0 1,0 3.6,0M1430.1,1124.6a1.8,1.8 0 1,0 -3.6,0a1.8,1.8 0 1,0 3.6,0M1430.6,1114.5a1.8,1.8 0 1,0 -3.6,0a1.8,1.8 0 1,0 3.6,0M1431,1107.6a1.8,1.8 0 1,0 -3.6,0a1.8,1.8 0 1,0 3.6,0M1431.4,1114.7a1.8,1.8 0 1,0 -3.6,0a1.8,1.8 0 1,0 3.6,0M1431.8,1087.7a1.8,1.8 0 1,0 -3.6,0a1.8,1.8 0 1,0 3.6,0M1432.2,1106.1a1.8,1.8 0 1,0 -3.6,0a1.8,1.8 0 1,0 3.6,0M1432.7,1087.2a1.8,1.8 0 1,0 -3.6,0a1.8,1.8 0 1,0 3.6,0M1433.1,1087a1.8,1.8 0 1,0 -3.6,0a1.8,1.8 0 1,0 3.6,0M1433.5,1105.2a1.8,1.8 0 1,0 -3.6,0a1.8,1.8 0 1,0 3.6,0M1433.9,1083.8a1.8,1.8 0 1,0 -3.6,0a1.8,1.8 0 1,0 3.6,0M1434.4,1097.4a1.8,1.8 0 1,0 -3.6,0a1.8,1.8 0 1,0 3.6,0M1434.8,1077.9a1.8,1.8 0 1,0 -3.6,0a1.8,1.8 0 1,0 3.6,0M1435.2,1065.8a1.8,1.8 0 1,0 -3.6,0a1.8,1.8 0 1,0 3.6,0M1435.6,1048.9a1.8,1.8 0 1,0 -3.6,0a1.8,1.8 0 1,0 3.6,0M1436,1058.1a1.8,1.8 0 1,0 -3.6,0a1.8,1.8 0 1,0 3.6,0M1436.5,1082.7a1.8,1.8 0 1,0 -3.6,0a1.8,1.8 0 1,0 3.6,0M1436.9,1065.9a1.8,1.8 0 1,0 -3.6,0a1.8,1.8 0 1,0 3.6,0M1437.3,1040.4a1.8,1.8 0 1,0 -3.6,0a1.8,1.8 0 1,0 3.6,0M1437.7,1054a1.8,1.8 0 1,0 -3.6,0a1.8,1.8 0 1,0 3.6,0M1438.2,1031.4a1.8,1.8 0 1,0 -3.6,0a1.8,1.8 0 1,0 3.6,0M1438.6,1060.5a1.8,1.8 0 1,0 -3.6,0a1.8,1.8 0 1,0 3.6,0M1439,1056.1a1.8,1.8 0 1,0 -3.6,0a1.8,1.8 0 1,0 3.6,0M1439.4,1064.2a1.8,1.8 0 1,0 -3.6,0a1.8,1.8 0 1,0 3.6,0M1439.8,1049.4a1.8,1.8 0 1,0 -3.6,0a1.8,1.8 0 1,0 3.6,0M1440.3,1025.4a1.8,1.8 0 1,0 -3.6,0a1.8,1.8 0 1,0 3.6,0M1440.7,1052.7a1.8,1.8 0 1,0 -3.6,0a1.8,1.8 0 1,0 3.6,0M1441.1,1026.8a1.8,1.8 0 1,0 -3.6,0a1.8,1.8 0 1,0 3.6,0M1441.5,1029.9a1.8,1.8 0 1,0 -3.6,0a1.8,1.8 0 1,0 3.6,0M1442,1023.5a1.8,1.8 0 1,0 -3.6,0a1.8,1.8 0 1,0 3.6,0M1442.4,1036.2a1.8,1.8 0 1,0 -3.6,0a1.8,1.8 0 1,0 3.6,0M1442.8,1030.5a1.8,1.8 0 1,0 -3.6,0a1.8,1.8 0 1,0 3.6,0M1443.2,998.9a1.8,1.8 0 1,0 -3.6,0a1.8,1.8 0 1,0 3.6,0M1443.6,1045.4a1.8,1.8 0 1,0 -3.6,0a1.8,1.8 0 1,0 3.6,0M1444.1,1015.1a1.8,1.8 0 1,0 -3.6,0a1.8,1.8 0 1,0 3.6,0M1444.5,1002.5a1.8,1.8 0 1,0 -3.6,0a1.8,1.8 0 1,0 3.6,0M1444.9,1016.3a1.8,1.8 0 1,0 -3.6,0a1.8,1.8 0 1,0 3.6,0M1445.3,997.4a1.8,1.8 0 1,0 -3.6,0a1.8,1.8 0 1,0 3.6,0M1445.7,1064a1.8,1.8 0 1,0 -3.6,0a1.8,1.8 0 1,0 3.6,0M1446.2,1023.5a1.8,1.8 0 1,0 -3.6,0a1.8,1.8 0 1,0 3.6,0M1446.6,1035.2a1.8,1.8 0 1,0 -3.6,0a1.8,1.8 0 1,0 3.6,0M1447,1022.8a1.8,1.8 0 1,0 -3.6,0a1.8,1.8 0 1,0 3.6,0M1447.4,1017a1.8,1.8 0 1,0 -3.6,0a1.8,1.8 0 1,0 3.6,0M1447.9,1007a1.8,1.8 0 1,0 -3.6,0a1.8,1.8 0 1,0 3.6,0M1448.3,1026.2a1.8,1.8 0 1,0 -3.6,0a1.8,1.8 0 1,0 3.6,0M1448.7,998.8a1.8,1.8 0 1,0 -3.6,0a1.8,1.8 0 1,0 3.6,0M1449.1,1035.3a1.8,1.8 0 1,0 -3.6,0a1.8,1.8 0 1,0 3.6,0M1449.5,995.4a1.8,1.8 0 1,0 -3.6,0a1.8,1.8 0 1,0 3.6,0M1450,1013.2a1.8,1.8 0 1,0 -3.6,0a1.8,1.8 0 1,0 3.6,0M1450.4,1036a1.8,1.8 0 1,0 -3.6,0a1.8,1.8 0 1,0 3.6,0M1450.8,1035.2a1.8,1.8 0 1,0 -3.6,0a1.8,1.8 0 1,0 3.6,0M1451.2,1034.8a1.8,1.8 0 1,0 -3.6,0a1.8,1.8 0 1,0 3.6,0M1451.7,1021.6a1.8,1.8 0 1,0 -3.6,0a1.8,1.8 0 1,0 3.6,0M1452.1,1003.3a1.8,1.8 0 1,0 -3.6,0a1.8,1.8 0 1,0 3.6,0M1452.5,983.6a1.8,1.8 0 1,0 -3.6,0a1.8,1.8 0 1,0 3.6,0M1452.9,991.3a1.8,1.8 0 1,0 -3.6,0a1.8,1.8 0 1,0 3.6,0M1453.3,1024.3a1.8,1.8 0 1,0 -3.6,0a1.8,1.8 0 1,0 3.6,0M1453.8,1039.1a1.8,1.8 0 1,0 -3.6,0a1.8,1.8 0 1,0 3.6,0M1454.2,1006.6a1.8,1.8 0 1,0 -3.6,0a1.8,1.8 0 1,0 3.6,0M1454.6,1024.1a1.8,1.8 0 1,0 -3.6,0a1.8,1.8 0 1,0 3.6,0M1455,1003.4a1.8,1.8 0 1,0 -3.6,0a1.8,1.8 0 1,0 3.6,0M1455.5,1011.1a1.8,1.8 0 1,0 -3.6,0a1.8,1.8 0 1,0 3.6,0M1455.9,957.9a1.8,1.8 0 1,0 -3.6,0a1.8,1.8 0 1,0 3.6,0M1456.3,1026.9a1.8,1.8 0 1,0 -3.6,0a1.8,1.8 0 1,0 3.6,0M1456.7,993.3a1.8,1.8 0 1,0 -3.6,0a1.8,1.8 0 1,0 3.6,0M1457.1,967.7a1.8,1.8 0 1,0 -3.6,0a1.8,1.8 0 1,0 3.6,0M1457.6,1004.2a1.8,1.8 0 1,0 -3.6,0a1.8,1.8 0 1,0 3.6,0M1458,1009.9a1.8,1.8 0 1,0 -3.6,0a1.8,1.8 0 1,0 3.6,0M1458.4,969.1a1.8,1.8 0 1,0 -3.6,0a1.8,1.8 0 1,0 3.6,0M1458.8,1031.1a1.8,1.8 0 1,0 -3.6,0a1.8,1.8 0 1,0 3.6,0M1459.2,1024.1a1.8,1.8 0 1,0 -3.6,0a1.8,1.8 0 1,0 3.6,0M1459.7,1015.7a1.8,1.8 0 1,0 -3.6,0a1.8,1.8 0 1,0 3.6,0M1460.1,988.4a1.8,1.8 0 1,0 -3.6,0a1.8,1.8 0 1,0 3.6,0M1460.5,981.8a1.8,1.8 0 1,0 -3.6,0a1.8,1.8 0 1,0 3.6,0M1460.9,996.4a1.8,1.8 0 1,0 -3.6,0a1.8,1.8 0 1,0 3.6,0M1461.4,957.6a1.8,1.8 0 1,0 -3.6,0a1.8,1.8 0 1,0 3.6,0M1461.8,997a1.8,1.8 0 1,0 -3.6,0a1.8,1.8 0 1,0 3.6,0M1462.2,993.2a1.8,1.8 0 1,0 -3.6,0a1.8,1.8 0 1,0 3.6,0M1462.6,998a1.8,1.8 0 1,0 -3.6,0a1.8,1.8 0 1,0 3.6,0M1463,971.9a1.8,1.8 0 1,0 -3.6,0a1.8,1.8 0 1,0 3.6,0M1463.5,992a1.8,1.8 0 1,0 -3.6,0a1.8,1.8 0 1,0 3.6,0M1463.9,998.4a1.8,1.8 0 1,0 -3.6,0a1.8,1.8 0 1,0 3.6,0M1464.3,963.1a1.8,1.8 0 1,0 -3.6,0a1.8,1.8 0 1,0 3.6,0M1464.7,969.4a1.8,1.8 0 1,0 -3.6,0a1.8,1.8 0 1,0 3.6,0M1465.2,973.9a1.8,1.8 0 1,0 -3.6,0a1.8,1.8 0 1,0 3.6,0M1465.6,1012a1.8,1.8 0 1,0 -3.6,0a1.8,1.8 0 1,0 3.6,0M1466,1008.4a1.8,1.8 0 1,0 -3.6,0a1.8,1.8 0 1,0 3.6,0M1466.4,994.1a1.8,1.8 0 1,0 -3.6,0a1.8,1.8 0 1,0 3.6,0M1466.8,994.1a1.8,1.8 0 1,0 -3.6,0a1.8,1.8 0 1,0 3.6,0M1467.3,996.8a1.8,1.8 0 1,0 -3.6,0a1.8,1.8 0 1,0 3.6,0M1467.7,993a1.8,1.8 0 1,0 -3.6,0a1.8,1.8 0 1,0 3.6,0M1468.1,978a1.8,1.8 0 1,0 -3.6,0a1.8,1.8 0 1,0 3.6,0M1468.5,1006a1.8,1.8 0 1,0 -3.6,0a1.8,1.8 0 1,0 3.6,0M1468.9,984.4a1.8,1.8 0 1,0 -3.6,0a1.8,1.8 0 1,0 3.6,0M1469.4,995.1a1.8,1.8 0 1,0 -3.6,0a1.8,1.8 0 1,0 3.6,0M1469.8,996.4a1.8,1.8 0 1,0 -3.6,0a1.8,1.8 0 1,0 3.6,0M1470.2,992.8a1.8,1.8 0 1,0 -3.6,0a1.8,1.8 0 1,0 3.6,0M1470.6,975.1a1.8,1.8 0 1,0 -3.6,0a1.8,1.8 0 1,0 3.6,0M1471.1,982.8a1.8,1.8 0 1,0 -3.6,0a1.8,1.8 0 1,0 3.6,0M1471.5,1000.8a1.8,1.8 0 1,0 -3.6,0a1.8,1.8 0 1,0 3.6,0M1471.9,981.5a1.8,1.8 0 1,0 -3.6,0a1.8,1.8 0 1,0 3.6,0M1472.3,984.7a1.8,1.8 0 1,0 -3.6,0a1.8,1.8 0 1,0 3.6,0M1472.7,979.7a1.8,1.8 0 1,0 -3.6,0a1.8,1.8 0 1,0 3.6,0M1473.2,991.2a1.8,1.8 0 1,0 -3.6,0a1.8,1.8 0 1,0 3.6,0M1473.6,969.3a1.8,1.8 0 1,0 -3.6,0a1.8,1.8 0 1,0 3.6,0M1474,979.7a1.8,1.8 0 1,0 -3.6,0a1.8,1.8 0 1,0 3.6,0M1474.4,1005.8a1.8,1.8 0 1,0 -3.6,0a1.8,1.8 0 1,0 3.6,0M1474.9,1008a1.8,1.8 0 1,0 -3.6,0a1.8,1.8 0 1,0 3.6,0M1475.3,1010.1a1.8,1.8 0 1,0 -3.6,0a1.8,1.8 0 1,0 3.6,0M1475.7,978.9a1.8,1.8 0 1,0 -3.6,0a1.8,1.8 0 1,0 3.6,0M1476.1,997.5a1.8,1.8 0 1,0 -3.6,0a1.8,1.8 0 1,0 3.6,0M1476.5,991.5a1.8,1.8 0 1,0 -3.6,0a1.8,1.8 0 1,0 3.6,0M1477,986.6a1.8,1.8 0 1,0 -3.6,0a1.8,1.8 0 1,0 3.6,0M1477.4,964.1a1.8,1.8 0 1,0 -3.6,0a1.8,1.8 0 1,0 3.6,0M1477.8,947.5a1.8,1.8 0 1,0 -3.6,0a1.8,1.8 0 1,0 3.6,0M1478.2,987a1.8,1.8 0 1,0 -3.6,0a1.8,1.8 0 1,0 3.6,0M1478.7,950.6a1.8,1.8 0 1,0 -3.6,0a1.8,1.8 0 1,0 3.6,0M1479.1,975.4a1.8,1.8 0 1,0 -3.6,0a1.8,1.8 0 1,0 3.6,0M1479.5,964a1.8,1.8 0 1,0 -3.6,0a1.8,1.8 0 1,0 3.6,0M1479.9,989.6a1.8,1.8 0 1,0 -3.6,0a1.8,1.8 0 1,0 3.6,0M1480.3,1006.1a1.8,1.8 0 1,0 -3.6,0a1.8,1.8 0 1,0 3.6,0M1480.8,976.3a1.8,1.8 0 1,0 -3.6,0a1.8,1.8 0 1,0 3.6,0M1481.2,962.2a1.8,1.8 0 1,0 -3.6,0a1.8,1.8 0 1,0 3.6,0M1481.6,1011.5a1.8,1.8 0 1,0 -3.6,0a1.8,1.8 0 1,0 3.6,0M1482,985.5a1.8,1.8 0 1,0 -3.6,0a1.8,1.8 0 1,0 3.6,0M1482.4,980.7a1.8,1.8 0 1,0 -3.6,0a1.8,1.8 0 1,0 3.6,0M1482.9,974.1a1.8,1.8 0 1,0 -3.6,0a1.8,1.8 0 1,0 3.6,0M1483.3,1003.2a1.8,1.8 0 1,0 -3.6,0a1.8,1.8 0 1,0 3.6,0M1483.7,994a1.8,1.8 0 1,0 -3.6,0a1.8,1.8 0 1,0 3.6,0M1484.1,968.2a1.8,1.8 0 1,0 -3.6,0a1.8,1.8 0 1,0 3.6,0M1484.6,953a1.8,1.8 0 1,0 -3.6,0a1.8,1.8 0 1,0 3.6,0M1485,982.5a1.8,1.8 0 1,0 -3.6,0a1.8,1.8 0 1,0 3.6,0M1485.4,967.3a1.8,1.8 0 1,0 -3.6,0a1.8,1.8 0 1,0 3.6,0M1485.8,981.3a1.8,1.8 0 1,0 -3.6,0a1.8,1.8 0 1,0 3.6,0M1486.2,976.7a1.8,1.8 0 1,0 -3.6,0a1.8,1.8 0 1,0 3.6,0M1486.7,990.9a1.8,1.8 0 1,0 -3.6,0a1.8,1.8 0 1,0 3.6,0M1487.1,988.2a1.8,1.8 0 1,0 -3.6,0a1.8,1.8 0 1,0 3.6,0M1487.5,994.2a1.8,1.8 0 1,0 -3.6,0a1.8,1.8 0 1,0 3.6,0M1487.9,982.5a1.8,1.8 0 1,0 -3.6,0a1.8,1.8 0 1,0 3.6,0M1488.4,965a1.8,1.8 0 1,0 -3.6,0a1.8,1.8 0 1,0 3.6,0M1488.8,980.9a1.8,1.8 0 1,0 -3.6,0a1.8,1.8 0 1,0 3.6,0M1489.2,972.8a1.8,1.8 0 1,0 -3.6,0a1.8,1.8 0 1,0 3.6,0M1489.6,995.3a1.8,1.8 0 1,0 -3.6,0a1.8,1.8 0 1,0 3.6,0M1490,971.7a1.8,1.8 0 1,0 -3.6,0a1.8,1.8 0 1,0 3.6,0M1490.5,1039a1.8,1.8 0 1,0 -3.6,0a1.8,1.8 0 1,0 3.6,0M1490.9,1008.9a1.8,1.8 0 1,0 -3.6,0a1.8,1.8 0 1,0 3.6,0M1491.3,990.1a1.8,1.8 0 1,0 -3.6,0a1.8,1.8 0 1,0 3.6,0M1491.7,1015.9a1.8,1.8 0 1,0 -3.6,0a1.8,1.8 0 1,0 3.6,0M1492.2,974.4a1.8,1.8 0 1,0 -3.6,0a1.8,1.8 0 1,0 3.6,0M1492.6,980.7a1.8,1.8 0 1,0 -3.6,0a1.8,1.8 0 1,0 3.6,0M1493,1000.2a1.8,1.8 0 1,0 -3.6,0a1.8,1.8 0 1,0 3.6,0M1493.4,982.6a1.8,1.8 0 1,0 -3.6,0a1.8,1.8 0 1,0 3.6,0M1493.8,1010.6a1.8,1.8 0 1,0 -3.6,0a1.8,1.8 0 1,0 3.6,0M1494.3,1000.1a1.8,1.8 0 1,0 -3.6,0a1.8,1.8 0 1,0 3.6,0M1494.7,991a1.8,1.8 0 1,0 -3.6,0a1.8,1.8 0 1,0 3.6,0M1495.1,1012.3a1.8,1.8 0 1,0 -3.6,0a1.8,1.8 0 1,0 3.6,0M1495.5,966.1a1.8,1.8 0 1,0 -3.6,0a1.8,1.8 0 1,0 3.6,0M1495.9,995.8a1.8,1.8 0 1,0 -3.6,0a1.8,1.8 0 1,0 3.6,0M1496.4,966.6a1.8,1.8 0 1,0 -3.6,0a1.8,1.8 0 1,0 3.6,0M1496.8,986.9a1.8,1.8 0 1,0 -3.6,0a1.8,1.8 0 1,0 3.6,0M1497.2,979a1.8,1.8 0 1,0 -3.6,0a1.8,1.8 0 1,0 3.6,0M1497.6,1000.3a1.8,1.8 0 1,0 -3.6,0a1.8,1.8 0 1,0 3.6,0M1498.1,989.8a1.8,1.8 0 1,0 -3.6,0a1.8,1.8 0 1,0 3.6,0M1498.5,991.8a1.8,1.8 0 1,0 -3.6,0a1.8,1.8 0 1,0 3.6,0M1498.9,980.3a1.8,1.8 0 1,0 -3.6,0a1.8,1.8 0 1,0 3.6,0M1499.3,960.5a1.8,1.8 0 1,0 -3.6,0a1.8,1.8 0 1,0 3.6,0M1499.7,994.2a1.8,1.8 0 1,0 -3.6,0a1.8,1.8 0 1,0 3.6,0M1500.2,987.3a1.8,1.8 0 1,0 -3.6,0a1.8,1.8 0 1,0 3.6,0M1500.6,978.2a1.8,1.8 0 1,0 -3.6,0a1.8,1.8 0 1,0 3.6,0M1501,969.5a1.8,1.8 0 1,0 -3.6,0a1.8,1.8 0 1,0 3.6,0M1501.4,986.4a1.8,1.8 0 1,0 -3.6,0a1.8,1.8 0 1,0 3.6,0M1501.9,991.2a1.8,1.8 0 1,0 -3.6,0a1.8,1.8 0 1,0 3.6,0M1502.3,994.7a1.8,1.8 0 1,0 -3.6,0a1.8,1.8 0 1,0 3.6,0M1502.7,984.4a1.8,1.8 0 1,0 -3.6,0a1.8,1.8 0 1,0 3.6,0M1503.1,980.4a1.8,1.8 0 1,0 -3.6,0a1.8,1.8 0 1,0 3.6,0M1503.5,996.5a1.8,1.8 0 1,0 -3.6,0a1.8,1.8 0 1,0 3.6,0M1504,990a1.8,1.8 0 1,0 -3.6,0a1.8,1.8 0 1,0 3.6,0M1504.4,971.4a1.8,1.8 0 1,0 -3.6,0a1.8,1.8 0 1,0 3.6,0M1504.8,985.1a1.8,1.8 0 1,0 -3.6,0a1.8,1.8 0 1,0 3.6,0M1505.2,994.6a1.8,1.8 0 1,0 -3.6,0a1.8,1.8 0 1,0 3.6,0M1505.7,972.4a1.8,1.8 0 1,0 -3.6,0a1.8,1.8 0 1,0 3.6,0M1506.1,972.3a1.8,1.8 0 1,0 -3.6,0a1.8,1.8 0 1,0 3.6,0M1506.5,974.1a1.8,1.8 0 1,0 -3.6,0a1.8,1.8 0 1,0 3.6,0M1506.9,973.2a1.8,1.8 0 1,0 -3.6,0a1.8,1.8 0 1,0 3.6,0M1507.3,991.7a1.8,1.8 0 1,0 -3.6,0a1.8,1.8 0 1,0 3.6,0M1507.8,981.3a1.8,1.8 0 1,0 -3.6,0a1.8,1.8 0 1,0 3.6,0M1508.2,979.4a1.8,1.8 0 1,0 -3.6,0a1.8,1.8 0 1,0 3.6,0M1508.6,982.7a1.8,1.8 0 1,0 -3.6,0a1.8,1.8 0 1,0 3.6,0M1509,1015.4a1.8,1.8 0 1,0 -3.6,0a1.8,1.8 0 1,0 3.6,0M1509.4,985.2a1.8,1.8 0 1,0 -3.6,0a1.8,1.8 0 1,0 3.6,0M1509.9,978.8a1.8,1.8 0 1,0 -3.6,0a1.8,1.8 0 1,0 3.6,0M1510.3,976.4a1.8,1.8 0 1,0 -3.6,0a1.8,1.8 0 1,0 3.6,0M1510.7,990.2a1.8,1.8 0 1,0 -3.6,0a1.8,1.8 0 1,0 3.6,0M1511.1,984.4a1.8,1.8 0 1,0 -3.6,0a1.8,1.8 0 1,0 3.6,0M1511.6,1016.4a1.8,1.8 0 1,0 -3.6,0a1.8,1.8 0 1,0 3.6,0M1512,1011a1.8,1.8 0 1,0 -3.6,0a1.8,1.8 0 1,0 3.6,0M1512.4,1036.7a1.8,1.8 0 1,0 -3.6,0a1.8,1.8 0 1,0 3.6,0M1512.8,989.1a1.8,1.8 0 1,0 -3.6,0a1.8,1.8 0 1,0 3.6,0M1513.2,956.9a1.8,1.8 0 1,0 -3.6,0a1.8,1.8 0 1,0 3.6,0M1513.7,954.7a1.8,1.8 0 1,0 -3.6,0a1.8,1.8 0 1,0 3.6,0M1514.1,1004.8a1.8,1.8 0 1,0 -3.6,0a1.8,1.8 0 1,0 3.6,0M1514.5,973.9a1.8,1.8 0 1,0 -3.6,0a1.8,1.8 0 1,0 3.6,0M1514.9,963.4a1.8,1.8 0 1,0 -3.6,0a1.8,1.8 0 1,0 3.6,0M1515.4,990.6a1.8,1.8 0 1,0 -3.6,0a1.8,1.8 0 1,0 3.6,0M1515.8,1019.5a1.8,1.8 0 1,0 -3.6,0a1.8,1.8 0 1,0 3.6,0M1516.2,960.6a1.8,1.8 0 1,0 -3.6,0a1.8,1.8 0 1,0 3.6,0M1516.6,991.6a1.8,1.8 0 1,0 -3.6,0a1.8,1.8 0 1,0 3.6,0M1517,992.2a1.8,1.8 0 1,0 -3.6,0a1.8,1.8 0 1,0 3.6,0M1517.5,955.6a1.8,1.8 0 1,0 -3.6,0a1.8,1.8 0 1,0 3.6,0M1517.9,977.2a1.8,1.8 0 1,0 -3.6,0a1.8,1.8 0 1,0 3.6,0M1518.3,970.7a1.8,1.8 0 1,0 -3.6,0a1.8,1.8 0 1,0 3.6,0M1518.7,957.6a1.8,1.8 0 1,0 -3.6,0a1.8,1.8 0 1,0 3.6,0M1519.2,988a1.8,1.8 0 1,0 -3.6,0a1.8,1.8 0 1,0 3.6,0M1519.6,1002.4a1.8,1.8 0 1,0 -3.6,0a1.8,1.8 0 1,0 3.6,0M1520,971.7a1.8,1.8 0 1,0 -3.6,0a1.8,1.8 0 1,0 3.6,0M1520.4,985.4a1.8,1.8 0 1,0 -3.6,0a1.8,1.8 0 1,0 3.6,0M1520.8,972.4a1.8,1.8 0 1,0 -3.6,0a1.8,1.8 0 1,0 3.6,0M1521.3,978.3a1.8,1.8 0 1,0 -3.6,0a1.8,1.8 0 1,0 3.6,0M1521.7,998.5a1.8,1.8 0 1,0 -3.6,0a1.8,1.8 0 1,0 3.6,0M1522.1,984.8a1.8,1.8 0 1,0 -3.6,0a1.8,1.8 0 1,0 3.6,0M1522.5,991.1a1.8,1.8 0 1,0 -3.6,0a1.8,1.8 0 1,0 3.6,0M1522.9,989.3a1.8,1.8 0 1,0 -3.6,0a1.8,1.8 0 1,0 3.6,0M1523.4,985.9a1.8,1.8 0 1,0 -3.6,0a1.8,1.8 0 1,0 3.6,0M1523.8,979.1a1.8,1.8 0 1,0 -3.6,0a1.8,1.8 0 1,0 3.6,0M1524.2,981.6a1.8,1.8 0 1,0 -3.6,0a1.8,1.8 0 1,0 3.6,0M1524.6,1007.4a1.8,1.8 0 1,0 -3.6,0a1.8,1.8 0 1,0 3.6,0M1525.1,974.2a1.8,1.8 0 1,0 -3.6,0a1.8,1.8 0 1,0 3.6,0M1525.5,1010.2a1.8,1.8 0 1,0 -3.6,0a1.8,1.8 0 1,0 3.6,0M1525.9,946.7a1.8,1.8 0 1,0 -3.6,0a1.8,1.8 0 1,0 3.6,0M1526.3,998.5a1.8,1.8 0 1,0 -3.6,0a1.8,1.8 0 1,0 3.6,0M1526.7,986.3a1.8,1.8 0 1,0 -3.6,0a1.8,1.8 0 1,0 3.6,0M1527.2,962a1.8,1.8 0 1,0 -3.6,0a1.8,1.8 0 1,0 3.6,0M1527.6,988.8a1.8,1.8 0 1,0 -3.6,0a1.8,1.8 0 1,0 3.6,0M1528,1007.4a1.8,1.8 0 1,0 -3.6,0a1.8,1.8 0 1,0 3.6,0M1528.4,1010.2a1.8,1.8 0 1,0 -3.6,0a1.8,1.8 0 1,0 3.6,0M1528.9,980.5a1.8,1.8 0 1,0 -3.6,0a1.8,1.8 0 1,0 3.6,0M1529.3,978.3a1.8,1.8 0 1,0 -3.6,0a1.8,1.8 0 1,0 3.6,0M1529.7,971a1.8,1.8 0 1,0 -3.6,0a1.8,1.8 0 1,0 3.6,0M1530.1,980.7a1.8,1.8 0 1,0 -3.6,0a1.8,1.8 0 1,0 3.6,0M1530.5,993.9a1.8,1.8 0 1,0 -3.6,0a1.8,1.8 0 1,0 3.6,0M1531,977.3a1.8,1.8 0 1,0 -3.6,0a1.8,1.8 0 1,0 3.6,0M1531.4,960.5a1.8,1.8 0 1,0 -3.6,0a1.8,1.8 0 1,0 3.6,0M1531.8,999.5a1.8,1.8 0 1,0 -3.6,0a1.8,1.8 0 1,0 3.6,0M1532.2,923.4a1.8,1.8 0 1,0 -3.6,0a1.8,1.8 0 1,0 3.6,0M1532.7,992.9a1.8,1.8 0 1,0 -3.6,0a1.8,1.8 0 1,0 3.6,0M1533.1,963.9a1.8,1.8 0 1,0 -3.6,0a1.8,1.8 0 1,0 3.6,0M1533.5,952.9a1.8,1.8 0 1,0 -3.6,0a1.8,1.8 0 1,0 3.6,0M1533.9,969.8a1.8,1.8 0 1,0 -3.6,0a1.8,1.8 0 1,0 3.6,0M1534.3,980.5a1.8,1.8 0 1,0 -3.6,0a1.8,1.8 0 1,0 3.6,0M1534.8,973.2a1.8,1.8 0 1,0 -3.6,0a1.8,1.8 0 1,0 3.6,0M1535.2,962.6a1.8,1.8 0 1,0 -3.6,0a1.8,1.8 0 1,0 3.6,0M1535.6,1031.8a1.8,1.8 0 1,0 -3.6,0a1.8,1.8 0 1,0 3.6,0M1536,977.9a1.8,1.8 0 1,0 -3.6,0a1.8,1.8 0 1,0 3.6,0M1536.4,993a1.8,1.8 0 1,0 -3.6,0a1.8,1.8 0 1,0 3.6,0M1536.9,998a1.8,1.8 0 1,0 -3.6,0a1.8,1.8 0 1,0 3.6,0M1537.3,984a1.8,1.8 0 1,0 -3.6,0a1.8,1.8 0 1,0 3.6,0M1537.7,982.9a1.8,1.8 0 1,0 -3.6,0a1.8,1.8 0 1,0 3.6,0M1538.1,977.5a1.8,1.8 0 1,0 -3.6,0a1.8,1.8 0 1,0 3.6,0M1538.6,996.4a1.8,1.8 0 1,0 -3.6,0a1.8,1.8 0 1,0 3.6,0M1539,966.6a1.8,1.8 0 1,0 -3.6,0a1.8,1.8 0 1,0 3.6,0M1539.4,1022.7a1.8,1.8 0 1,0 -3.6,0a1.8,1.8 0 1,0 3.6,0M1539.8,1003.2a1.8,1.8 0 1,0 -3.6,0a1.8,1.8 0 1,0 3.6,0M1540.2,1007.7a1.8,1.8 0 1,0 -3.6,0a1.8,1.8 0 1,0 3.6,0M1540.7,984.8a1.8,1.8 0 1,0 -3.6,0a1.8,1.8 0 1,0 3.6,0M1541.1,995.4a1.8,1.8 0 1,0 -3.6,0a1.8,1.8 0 1,0 3.6,0M1541.5,977.5a1.8,1.8 0 1,0 -3.6,0a1.8,1.8 0 1,0 3.6,0M1541.9,1000.5a1.8,1.8 0 1,0 -3.6,0a1.8,1.8 0 1,0 3.6,0M1542.4,964.5a1.8,1.8 0 1,0 -3.6,0a1.8,1.8 0 1,0 3.6,0M1542.8,974a1.8,1.8 0 1,0 -3.6,0a1.8,1.8 0 1,0 3.6,0M1543.2,995.9a1.8,1.8 0 1,0 -3.6,0a1.8,1.8 0 1,0 3.6,0M1543.6,1016.5a1.8,1.8 0 1,0 -3.6,0a1.8,1.8 0 1,0 3.6,0M1544,1007.8a1.8,1.8 0 1,0 -3.6,0a1.8,1.8 0 1,0 3.6,0M1544.5,1014.1a1.8,1.8 0 1,0 -3.6,0a1.8,1.8 0 1,0 3.6,0M1544.9,965.6a1.8,1.8 0 1,0 -3.6,0a1.8,1.8 0 1,0 3.6,0M1545.3,974.1a1.8,1.8 0 1,0 -3.6,0a1.8,1.8 0 1,0 3.6,0M1545.7,1009.3a1.8,1.8 0 1,0 -3.6,0a1.8,1.8 0 1,0 3.6,0M1546.1,954.5a1.8,1.8 0 1,0 -3.6,0a1.8,1.8 0 1,0 3.6,0M1546.6,992.4a1.8,1.8 0 1,0 -3.6,0a1.8,1.8 0 1,0 3.6,0M1547,1026.6a1.8,1.8 0 1,0 -3.6,0a1.8,1.8 0 1,0 3.6,0M1547.4,968.4a1.8,1.8 0 1,0 -3.6,0a1.8,1.8 0 1,0 3.6,0M1547.8,964.7a1.8,1.8 0 1,0 -3.6,0a1.8,1.8 0 1,0 3.6,0M1548.3,987.3a1.8,1.8 0 1,0 -3.6,0a1.8,1.8 0 1,0 3.6,0M1548.7,1003a1.8,1.8 0 1,0 -3.6,0a1.8,1.8 0 1,0 3.6,0M1549.1,965.9a1.8,1.8 0 1,0 -3.6,0a1.8,1.8 0 1,0 3.6,0M1549.5,996.2a1.8,1.8 0 1,0 -3.6,0a1.8,1.8 0 1,0 3.6,0M1549.9,987.8a1.8,1.8 0 1,0 -3.6,0a1.8,1.8 0 1,0 3.6,0M1550.4,979.3a1.8,1.8 0 1,0 -3.6,0a1.8,1.8 0 1,0 3.6,0M1550.8,982.2a1.8,1.8 0 1,0 -3.6,0a1.8,1.8 0 1,0 3.6,0M1551.2,995.6a1.8,1.8 0 1,0 -3.6,0a1.8,1.8 0 1,0 3.6,0M1551.6,1005.7a1.8,1.8 0 1,0 -3.6,0a1.8,1.8 0 1,0 3.6,0M1552.1,974.5a1.8,1.8 0 1,0 -3.6,0a1.8,1.8 0 1,0 3.6,0M1552.5,1026.1a1.8,1.8 0 1,0 -3.6,0a1.8,1.8 0 1,0 3.6,0M1552.9,981.9a1.8,1.8 0 1,0 -3.6,0a1.8,1.8 0 1,0 3.6,0M1553.3,983a1.8,1.8 0 1,0 -3.6,0a1.8,1.8 0 1,0 3.6,0M1553.7,978.5a1.8,1.8 0 1,0 -3.6,0a1.8,1.8 0 1,0 3.6,0M1554.2,994.1a1.8,1.8 0 1,0 -3.6,0a1.8,1.8 0 1,0 3.6,0M1554.6,983.9a1.8,1.8 0 1,0 -3.6,0a1.8,1.8 0 1,0 3.6,0M1555,973.9a1.8,1.8 0 1,0 -3.6,0a1.8,1.8 0 1,0 3.6,0M1555.4,1005.9a1.8,1.8 0 1,0 -3.6,0a1.8,1.8 0 1,0 3.6,0M1555.9,986.9a1.8,1.8 0 1,0 -3.6,0a1.8,1.8 0 1,0 3.6,0M1556.3,981.2a1.8,1.8 0 1,0 -3.6,0a1.8,1.8 0 1,0 3.6,0M1556.7,1009.8a1.8,1.8 0 1,0 -3.6,0a1.8,1.8 0 1,0 3.6,0M1557.1,1004.3a1.8,1.8 0 1,0 -3.6,0a1.8,1.8 0 1,0 3.6,0M1557.5,960.4a1.8,1.8 0 1,0 -3.6,0a1.8,1.8 0 1,0 3.6,0M1558,969.8a1.8,1.8 0 1,0 -3.6,0a1.8,1.8 0 1,0 3.6,0M1558.4,1000.9a1.8,1.8 0 1,0 -3.6,0a1.8,1.8 0 1,0 3.6,0M1558.8,975.4a1.8,1.8 0 1,0 -3.6,0a1.8,1.8 0 1,0 3.6,0M1559.2,980.8a1.8,1.8 0 1,0 -3.6,0a1.8,1.8 0 1,0 3.6,0M1559.6,963.5a1.8,1.8 0 1,0 -3.6,0a1.8,1.8 0 1,0 3.6,0M1560.1,968.1a1.8,1.8 0 1,0 -3.6,0a1.8,1.8 0 1,0 3.6,0M1560.5,1030.3a1.8,1.8 0 1,0 -3.6,0a1.8,1.8 0 1,0 3.6,0M1560.9,993.2a1.8,1.8 0 1,0 -3.6,0a1.8,1.8 0 1,0 3.6,0M1561.3,964.1a1.8,1.8 0 1,0 -3.6,0a1.8,1.8 0 1,0 3.6,0M1561.8,959.6a1.8,1.8 0 1,0 -3.6,0a1.8,1.8 0 1,0 3.6,0M1562.2,998.8a1.8,1.8 0 1,0 -3.6,0a1.8,1.8 0 1,0 3.6,0M1562.6,1009.6a1.8,1.8 0 1,0 -3.6,0a1.8,1.8 0 1,0 3.6,0M1563,983.7a1.8,1.8 0 1,0 -3.6,0a1.8,1.8 0 1,0 3.6,0M1563.4,999.3a1.8,1.8 0 1,0 -3.6,0a1.8,1.8 0 1,0 3.6,0M1563.9,988.5a1.8,1.8 0 1,0 -3.6,0a1.8,1.8 0 1,0 3.6,0M1564.3,1008.6a1.8,1.8 0 1,0 -3.6,0a1.8,1.8 0 1,0 3.6,0M1564.7,974.9a1.8,1.8 0 1,0 -3.6,0a1.8,1.8 0 1,0 3.6,0M1565.1,978.3a1.8,1.8 0 1,0 -3.6,0a1.8,1.8 0 1,0 3.6,0M1565.6,980.3a1.8,1.8 0 1,0 -3.6,0a1.8,1.8 0 1,0 3.6,0M1566,1007.4a1.8,1.8 0 1,0 -3.6,0a1.8,1.8 0 1,0 3.6,0M1566.4,1017.7a1.8,1.8 0 1,0 -3.6,0a1.8,1.8 0 1,0 3.6,0M1566.8,1010.6a1.8,1.8 0 1,0 -3.6,0a1.8,1.8 0 1,0 3.6,0M1567.2,979.7a1.8,1.8 0 1,0 -3.6,0a1.8,1.8 0 1,0 3.6,0M1567.7,1019.7a1.8,1.8 0 1,0 -3.6,0a1.8,1.8 0 1,0 3.6,0M1568.1,977a1.8,1.8 0 1,0 -3.6,0a1.8,1.8 0 1,0 3.6,0M1568.5,957.6a1.8,1.8 0 1,0 -3.6,0a1.8,1.8 0 1,0 3.6,0M1568.9,999.4a1.8,1.8 0 1,0 -3.6,0a1.8,1.8 0 1,0 3.6,0M1569.4,991.7a1.8,1.8 0 1,0 -3.6,0a1.8,1.8 0 1,0 3.6,0M1569.8,971.4a1.8,1.8 0 1,0 -3.6,0a1.8,1.8 0 1,0 3.6,0M1570.2,972.6a1.8,1.8 0 1,0 -3.6,0a1.8,1.8 0 1,0 3.6,0M1570.6,999.3a1.8,1.8 0 1,0 -3.6,0a1.8,1.8 0 1,0 3.6,0M1571,991.6a1.8,1.8 0 1,0 -3.6,0a1.8,1.8 0 1,0 3.6,0M1571.5,986.5a1.8,1.8 0 1,0 -3.6,0a1.8,1.8 0 1,0 3.6,0M1571.9,993.2a1.8,1.8 0 1,0 -3.6,0a1.8,1.8 0 1,0 3.6,0M1572.3,978.5a1.8,1.8 0 1,0 -3.6,0a1.8,1.8 0 1,0 3.6,0M1572.7,982.9a1.8,1.8 0 1,0 -3.6,0a1.8,1.8 0 1,0 3.6,0M1573.1,965.9a1.8,1.8 0 1,0 -3.6,0a1.8,1.8 0 1,0 3.6,0M1573.6,1018.3a1.8,1.8 0 1,0 -3.6,0a1.8,1.8 0 1,0 3.6,0M1574,968.1a1.8,1.8 0 1,0 -3.6,0a1.8,1.8 0 1,0 3.6,0M1574.4,974.5a1.8,1.8 0 1,0 -3.6,0a1.8,1.8 0 1,0 3.6,0M1574.8,991a1.8,1.8 0 1,0 -3.6,0a1.8,1.8 0 1,0 3.6,0M1575.3,981.4a1.8,1.8 0 1,0 -3.6,0a1.8,1.8 0 1,0 3.6,0M1575.7,971.7a1.8,1.8 0 1,0 -3.6,0a1.8,1.8 0 1,0 3.6,0M1576.1,983.5a1.8,1.8 0 1,0 -3.6,0a1.8,1.8 0 1,0 3.6,0M1576.5,993.1a1.8,1.8 0 1,0 -3.6,0a1.8,1.8 0 1,0 3.6,0M1576.9,983.9a1.8,1.8 0 1,0 -3.6,0a1.8,1.8 0 1,0 3.6,0M1577.4,1000.9a1.8,1.8 0 1,0 -3.6,0a1.8,1.8 0 1,0 3.6,0M1577.8,1011.6a1.8,1.8 0 1,0 -3.6,0a1.8,1.8 0 1,0 3.6,0M1578.2,1004a1.8,1.8 0 1,0 -3.6,0a1.8,1.8 0 1,0 3.6,0M1578.6,1002.2a1.8,1.8 0 1,0 -3.6,0a1.8,1.8 0 1,0 3.6,0M1579.1,985.5a1.8,1.8 0 1,0 -3.6,0a1.8,1.8 0 1,0 3.6,0M1579.5,975.1a1.8,1.8 0 1,0 -3.6,0a1.8,1.8 0 1,0 3.6,0M1579.9,984.6a1.8,1.8 0 1,0 -3.6,0a1.8,1.8 0 1,0 3.6,0M1580.3,963.6a1.8,1.8 0 1,0 -3.6,0a1.8,1.8 0 1,0 3.6,0M1580.7,990.4a1.8,1.8 0 1,0 -3.6,0a1.8,1.8 0 1,0 3.6,0M1581.2,1000.1a1.8,1.8 0 1,0 -3.6,0a1.8,1.8 0 1,0 3.6,0M1581.6,1001.5a1.8,1.8 0 1,0 -3.6,0a1.8,1.8 0 1,0 3.6,0M1582,1004.6a1.8,1.8 0 1,0 -3.6,0a1.8,1.8 0 1,0 3.6,0M1582.4,994.2a1.8,1.8 0 1,0 -3.6,0a1.8,1.8 0 1,0 3.6,0M1582.9,965.1a1.8,1.8 0 1,0 -3.6,0a1.8,1.8 0 1,0 3.6,0M1583.3,1014.5a1.8,1.8 0 1,0 -3.6,0a1.8,1.8 0 1,0 3.6,0M1583.7,979.4a1.8,1.8 0 1,0 -3.6,0a1.8,1.8 0 1,0 3.6,0M1584.1,989.2a1.8,1.8 0 1,0 -3.6,0a1.8,1.8 0 1,0 3.6,0M1584.5,974.4a1.8,1.8 0 1,0 -3.6,0a1.8,1.8 0 1,0 3.6,0M1585,997a1.8,1.8 0 1,0 -3.6,0a1.8,1.8 0 1,0 3.6,0M1585.4,976.2a1.8,1.8 0 1,0 -3.6,0a1.8,1.8 0 1,0 3.6,0M1585.8,997.5a1.8,1.8 0 1,0 -3.6,0a1.8,1.8 0 1,0 3.6,0M1586.2,977.8a1.8,1.8 0 1,0 -3.6,0a1.8,1.8 0 1,0 3.6,0M1586.6,1022.8a1.8,1.8 0 1,0 -3.6,0a1.8,1.8 0 1,0 3.6,0M1587.1,980.2a1.8,1.8 0 1,0 -3.6,0a1.8,1.8 0 1,0 3.6,0M1587.5,975.8a1.8,1.8 0 1,0 -3.6,0a1.8,1.8 0 1,0 3.6,0M1587.9,1016.4a1.8,1.8 0 1,0 -3.6,0a1.8,1.8 0 1,0 3.6,0M1588.3,974a1.8,1.8 0 1,0 -3.6,0a1.8,1.8 0 1,0 3.6,0M1588.8,1008.4a1.8,1.8 0 1,0 -3.6,0a1.8,1.8 0 1,0 3.6,0M1589.2,971.5a1.8,1.8 0 1,0 -3.6,0a1.8,1.8 0 1,0 3.6,0M1589.6,988.8a1.8,1.8 0 1,0 -3.6,0a1.8,1.8 0 1,0 3.6,0M1590,976.7a1.8,1.8 0 1,0 -3.6,0a1.8,1.8 0 1,0 3.6,0M1590.4,982.2a1.8,1.8 0 1,0 -3.6,0a1.8,1.8 0 1,0 3.6,0M1590.9,1009.4a1.8,1.8 0 1,0 -3.6,0a1.8,1.8 0 1,0 3.6,0M1591.3,961.7a1.8,1.8 0 1,0 -3.6,0a1.8,1.8 0 1,0 3.6,0M1591.7,967.5a1.8,1.8 0 1,0 -3.6,0a1.8,1.8 0 1,0 3.6,0M1592.1,1006.3a1.8,1.8 0 1,0 -3.6,0a1.8,1.8 0 1,0 3.6,0M1592.6,978.7a1.8,1.8 0 1,0 -3.6,0a1.8,1.8 0 1,0 3.6,0M1593,980.5a1.8,1.8 0 1,0 -3.6,0a1.8,1.8 0 1,0 3.6,0M1593.4,1000.3a1.8,1.8 0 1,0 -3.6,0a1.8,1.8 0 1,0 3.6,0M1593.8,1006.6a1.8,1.8 0 1,0 -3.6,0a1.8,1.8 0 1,0 3.6,0M1594.2,966.2a1.8,1.8 0 1,0 -3.6,0a1.8,1.8 0 1,0 3.6,0M1594.7,995.4a1.8,1.8 0 1,0 -3.6,0a1.8,1.8 0 1,0 3.6,0M1595.1,972.8a1.8,1.8 0 1,0 -3.6,0a1.8,1.8 0 1,0 3.6,0M1595.5,955.4a1.8,1.8 0 1,0 -3.6,0a1.8,1.8 0 1,0 3.6,0M1595.9,980.1a1.8,1.8 0 1,0 -3.6,0a1.8,1.8 0 1,0 3.6,0M1596.4,1003.9a1.8,1.8 0 1,0 -3.6,0a1.8,1.8 0 1,0 3.6,0M1596.8,971.4a1.8,1.8 0 1,0 -3.6,0a1.8,1.8 0 1,0 3.6,0M1597.2,1012.4a1.8,1.8 0 1,0 -3.6,0a1.8,1.8 0 1,0 3.6,0M1597.6,1004.3a1.8,1.8 0 1,0 -3.6,0a1.8,1.8 0 1,0 3.6,0M1598,937.6a1.8,1.8 0 1,0 -3.6,0a1.8,1.8 0 1,0 3.6,0M1598.5,1002.4a1.8,1.8 0 1,0 -3.6,0a1.8,1.8 0 1,0 3.6,0M1598.9,982.5a1.8,1.8 0 1,0 -3.6,0a1.8,1.8 0 1,0 3.6,0M1599.3,1007a1.8,1.8 0 1,0 -3.6,0a1.8,1.8 0 1,0 3.6,0M1599.7,990.7a1.8,1.8 0 1,0 -3.6,0a1.8,1.8 0 1,0 3.6,0M1600.1,985.1a1.8,1.8 0 1,0 -3.6,0a1.8,1.8 0 1,0 3.6,0M1600.6,1034.6a1.8,1.8 0 1,0 -3.6,0a1.8,1.8 0 1,0 3.6,0M1601,1000.1a1.8,1.8 0 1,0 -3.6,0a1.8,1.8 0 1,0 3.6,0M1601.4,977.2a1.8,1.8 0 1,0 -3.6,0a1.8,1.8 0 1,0 3.6,0M1601.8,973.6a1.8,1.8 0 1,0 -3.6,0a1.8,1.8 0 1,0 3.6,0M1602.3,982.9a1.8,1.8 0 1,0 -3.6,0a1.8,1.8 0 1,0 3.6,0M1602.7,1005.2a1.8,1.8 0 1,0 -3.6,0a1.8,1.8 0 1,0 3.6,0M1603.1,981.9a1.8,1.8 0 1,0 -3.6,0a1.8,1.8 0 1,0 3.6,0" fill="none" stroke="#000" stroke-width="1.45"/><polyline points="1255.8,990.1 1256.4,990.1 1257,990 1257.5,990 1258.1,990 1258.7,990 1259.3,989.9 1259.8,989.9 1260.4,989.9 1261,989.9 1261.6,989.8 1262.2,989.8 1262.7,989.8 1263.3,989.8 1263.9,989.8 1264.5,989.7 1265,989.7 1265.6,989.7 1266.2,989.7 1266.8,989.6 1267.4,989.6 1267.9,989.6 1268.5,989.6 1269.1,989.5 1269.7,989.5 1270.2,989.5 1270.8,989.5 1271.4,989.4 1272,989.4 1272.6,989.4 1273.1,989.3 1273.7,989.3 1274.3,989.3 1274.9,989.3 1275.4,989.2 1276,989.2 1276.6,989.2 1277.2,989.2 1277.7,989.1 1278.3,989.1 1278.9,989.1 1279.5,989.1 1280.1,989 1280.6,989 1281.2,989 1281.8,988.9 1282.4,988.9 1282.9,988.9 1283.5,988.9 1284.1,988.8 1284.7,988.8 1285.3,988.8 1285.8,988.7 1286.4,988.7 1287,988.7 1287.6,988.7 1288.1,988.6 1288.7,988.6 1289.3,988.6 1289.9,988.5 1290.5,988.5 1291,988.5 1291.6,988.5 1292.2,988.4 1292.8,988.4 1293.3,988.4 1293.9,988.3 1294.5,988.3 1295.1,988.3 1295.7,988.2 1296.2,988.2 1296.8,988.2 1297.4,988.1 1298,988.1 1298.5,988.1 1299.1,988.1 1299.7,988 1300.3,988 1300.9,988 1301.4,987.9 1302,987.9 1302.6,987.9 1303.2,987.8 1303.7,987.8 1304.3,987.8 1304.9,987.7 1305.5,987.7 1306.1,987.7 1306.6,987.6 1307.2,987.6 1307.8,987.6 1308.4,987.5 1308.9,987.5 1309.5,987.5 1310.1,987.4 1310.7,987.4 1311.3,987.4 1311.8,987.3 1312.4,987.3 1313,987.3 1313.6,987.2 1314.1,987.2 1314.7,987.1 1315.3,987.1 1315.9,987.1 1316.4,987 1317,987 1317.6,987 1318.2,986.9 1318.8,986.9 1319.3,986.9 1319.9,986.8 1320.5,986.8 1321.1,986.8 1321.6,986.7 1322.2,986.7 1322.8,986.6 1323.4,986.6 1324,986.6 1324.5,986.5 1325.1,986.5 1325.7,986.5 1326.3,986.4 1326.8,986.4 1327.4,986.3 1328,986.3 1328.6,986.3 1329.2,986.2 1329.7,986.2 1330.3,986.2 1330.9,986.1 1331.5,986.1 1332,986 1332.6,986 1333.2,986 1333.8,985.9 1334.4,985.9 1334.9,985.8 1335.5,985.8 1336.1,985.8 1336.7,985.7 1337.2,985.7 1337.8,985.7 1338.4,985.6 1339,985.6 1339.6,985.5 1340.1,985.5 1340.7,985.5 1341.3,985.4 1341.9,985.4 1342.4,985.3 1343,985.3 1343.6,985.3 1344.2,985.2 1344.8,985.2 1345.3,985.2 1345.9,985.1 1346.5,985.1 1347.1,985 1347.6,985 1348.2,985 1348.8,984.9 1349.4,984.9 1350,984.9 1350.5,984.8 1351.1,984.8 1351.7,984.8 1352.3,984.7 1352.8,984.7 1353.4,984.7 1354,984.6 1354.6,984.6 1355.1,984.6 1355.7,984.5 1356.3,984.5 1356.9,984.5 1357.5,984.4 1358,984.4 1358.6,984.4 1359.2,984.4 1359.8,984.3 1360.3,984.3 1360.9,984.3 1361.5,984.3 1362.1,984.3 1362.7,984.2 1363.2,984.2 1363.8,984.2 1364.4,984.2 1365,984.2 1365.5,984.2 1366.1,984.1 1366.7,984.1 1367.3,984.1 1367.9,984.1 1368.4,984.1 1369,984.1 1369.6,984.1 1370.2,984.1 1370.7,984.1 1371.3,984.1 1371.9,984.1 1372.5,984.2 1373.1,984.2 1373.6,984.2 1374.2,984.2 1374.8,984.3 1375.4,984.3 1375.9,984.3 1376.5,984.4 1377.1,984.4 1377.7,984.5 1378.3,984.5 1378.8,984.6 1379.4,984.6 1380,984.7 1380.6,984.8 1381.1,984.9 1381.7,985 1382.3,985 1382.9,985.2 1383.5,985.3 1384,985.4 1384.6,985.5 1385.2,985.6 1385.8,985.8 1386.3,985.9 1386.9,986.1 1387.5,986.3 1388.1,986.5 1388.7,986.7 1389.2,986.9 1389.8,987.1 1390.4,987.3 1391,987.6 1391.5,987.8 1392.1,988.1 1392.7,988.4 1393.3,988.7 1393.8,989 1394.4,989.4 1395,989.8 1395.6,990.1 1396.2,990.6 1396.7,991 1397.3,991.4 1397.9,991.9 1398.5,992.4 1399,993 1399.6,993.5 1400.2,994.1 1400.8,994.7 1401.4,995.4 1401.9,996.1 1402.5,996.8 1403.1,997.5 1403.7,998.3 1404.2,999.2 1404.8,1000.1 1405.4,1001 1406,1002 1406.6,1003 1407.1,1004.1 1407.7,1005.2 1408.3,1006.4 1408.9,1007.6 1409.4,1009 1410,1010.3 1410.6,1011.8 1411.2,1013.3 1411.8,1014.9 1412.3,1016.6 1412.9,1018.3 1413.5,1020.2 1414.1,1022.1 1414.6,1024.1 1415.2,1026.3 1415.8,1028.5 1416.4,1030.8 1417,1033.3 1417.5,1035.9 1418.1,1038.6 1418.7,1041.4 1419.3,1044.4 1419.8,1047.5 1420.4,1050.8 1421,1054.2 1421.6,1057.8 1422.2,1061.6 1422.7,1065.5 1423.3,1069.7 1423.9,1074 1424.5,1078.6 1425,1083.4 1425.6,1088.4 1426.2,1093.7 1426.8,1099.2 1427.4,1104.9 1427.9,1111 1428.5,1117.4 1428.5,1117.8 1428.6,1117.4 1429.2,1111 1429.7,1104.9 1430.3,1099.2 1430.9,1093.7 1431.5,1088.4 1432.1,1083.4 1432.6,1078.6 1433.2,1074 1433.8,1069.7 1434.4,1065.5 1434.9,1061.6 1435.5,1057.8 1436.1,1054.2 1436.7,1050.8 1437.3,1047.5 1437.8,1044.4 1438.4,1041.4 1439,1038.6 1439.6,1035.9 1440.1,1033.3 1440.7,1030.8 1441.3,1028.5 1441.9,1026.3 1442.5,1024.1 1443,1022.1 1443.6,1020.2 1444.2,1018.3 1444.8,1016.6 1445.3,1014.9 1445.9,1013.3 1446.5,1011.8 1447.1,1010.3 1447.7,1009 1448.2,1007.6 1448.8,1006.4 1449.4,1005.2 1450,1004.1 1450.5,1003 1451.1,1002 1451.7,1001 1452.3,1000.1 1452.9,999.2 1453.4,998.3 1454,997.5 1454.6,996.8 1455.2,996.1 1455.7,995.4 1456.3,994.7 1456.9,994.1 1457.5,993.5 1458.1,993 1458.6,992.4 1459.2,991.9 1459.8,991.4 1460.4,991 1460.9,990.6 1461.5,990.1 1462.1,989.8 1462.7,989.4 1463.3,989 1463.8,988.7 1464.4,988.4 1465,988.1 1465.6,987.8 1466.1,987.6 1466.7,987.3 1467.3,987.1 1467.9,986.9 1468.4,986.7 1469,986.5 1469.6,986.3 1470.2,986.1 1470.8,985.9 1471.3,985.8 1471.9,985.6 1472.5,985.5 1473.1,985.4 1473.6,985.3 1474.2,985.2 1474.8,985 1475.4,985 1476,984.9 1476.5,984.8 1477.1,984.7 1477.7,984.6 1478.3,984.6 1478.8,984.5 1479.4,984.5 1480,984.4 1480.6,984.4 1481.2,984.3 1481.7,984.3 1482.3,984.3 1482.9,984.2 1483.5,984.2 1484,984.2 1484.6,984.2 1485.2,984.1 1485.8,984.1 1486.4,984.1 1486.9,984.1 1487.5,984.1 1488.1,984.1 1488.7,984.1 1489.2,984.1 1489.8,984.1 1490.4,984.1 1491,984.1 1491.6,984.2 1492.1,984.2 1492.7,984.2 1493.3,984.2 1493.9,984.2 1494.4,984.2 1495,984.3 1495.6,984.3 1496.2,984.3 1496.8,984.3 1497.3,984.3 1497.9,984.4 1498.5,984.4 1499.1,984.4 1499.6,984.4 1500.2,984.5 1500.8,984.5 1501.4,984.5 1502,984.6 1502.5,984.6 1503.1,984.6 1503.7,984.7 1504.3,984.7 1504.8,984.7 1505.4,984.8 1506,984.8 1506.6,984.8 1507.1,984.9 1507.7,984.9 1508.3,984.9 1508.9,985 1509.5,985 1510,985 1510.6,985.1 1511.2,985.1 1511.8,985.2 1512.3,985.2 1512.9,985.2 1513.5,985.3 1514.1,985.3 1514.7,985.3 1515.2,985.4 1515.8,985.4 1516.4,985.5 1517,985.5 1517.5,985.5 1518.1,985.6 1518.7,985.6 1519.3,985.7 1519.9,985.7 1520.4,985.7 1521,985.8 1521.6,985.8 1522.2,985.8 1522.7,985.9 1523.3,985.9 1523.9,986 1524.5,986 1525.1,986 1525.6,986.1 1526.2,986.1 1526.8,986.2 1527.4,986.2 1527.9,986.2 1528.5,986.3 1529.1,986.3 1529.7,986.3 1530.3,986.4 1530.8,986.4 1531.4,986.5 1532,986.5 1532.6,986.5 1533.1,986.6 1533.7,986.6 1534.3,986.6 1534.9,986.7 1535.5,986.7 1536,986.8 1536.6,986.8 1537.2,986.8 1537.8,986.9 1538.3,986.9 1538.9,986.9 1539.5,987 1540.1,987 1540.7,987 1541.2,987.1 1541.8,987.1 1542.4,987.1 1543,987.2 1543.5,987.2 1544.1,987.3 1544.7,987.3 1545.3,987.3 1545.8,987.4 1546.4,987.4 1547,987.4 1547.6,987.5 1548.2,987.5 1548.7,987.5 1549.3,987.6 1549.9,987.6 1550.5,987.6 1551,987.7 1551.6,987.7 1552.2,987.7 1552.8,987.8 1553.4,987.8 1553.9,987.8 1554.5,987.9 1555.1,987.9 1555.7,987.9 1556.2,988 1556.8,988 1557.4,988 1558,988.1 1558.6,988.1 1559.1,988.1 1559.7,988.1 1560.3,988.2 1560.9,988.2 1561.4,988.2 1562,988.3 1562.6,988.3 1563.2,988.3 1563.8,988.4 1564.3,988.4 1564.9,988.4 1565.5,988.5 1566.1,988.5 1566.6,988.5 1567.2,988.5 1567.8,988.6 1568.4,988.6 1569,988.6 1569.5,988.7 1570.1,988.7 1570.7,988.7 1571.3,988.7 1571.8,988.8 1572.4,988.8 1573,988.8 1573.6,988.9 1574.2,988.9 1574.7,988.9 1575.3,988.9 1575.9,989 1576.5,989 1577,989 1577.6,989.1 1578.2,989.1 1578.8,989.1 1579.4,989.1 1579.9,989.2 1580.5,989.2 1581.1,989.2 1581.7,989.2 1582.2,989.3 1582.8,989.3 1583.4,989.3 1584,989.3 1584.5,989.4 1585.1,989.4 1585.7,989.4 1586.3,989.5 1586.9,989.5 1587.4,989.5 1588,989.5 1588.6,989.6 1589.2,989.6 1589.7,989.6 1590.3,989.6 1590.9,989.7 1591.5,989.7 1592.1,989.7 1592.6,989.7 1593.2,989.8 1593.8,989.8 1594.4,989.8 1594.9,989.8 1595.5,989.8 1596.1,989.9 1596.7,989.9 1597.3,989.9 1597.8,989.9 1598.4,990 1599,990 1599.6,990 1600.1,990 1600.7,990.1 1601.3,990.1" fill="none" stroke="#e8141c" stroke-width="3.2" stroke-linejoin="round"/><rect x="1255.8" y="909.9" width="345.5" height="289.7" fill="none" stroke="#000" stroke-width="1.9"/><line x1="1248.3" y1="1199.6" x2="1255.8" y2="1199.6" stroke="#000" stroke-width="1.9"/><text x="1237" y="1209.9" font-size="29.4" text-anchor="end" font-weight="normal" fill="#000" >0.0</text><line x1="1248.3" y1="1097.4" x2="1255.8" y2="1097.4" stroke="#000" stroke-width="1.9"/><text x="1237" y="1107.7" font-size="29.4" text-anchor="end" font-weight="normal" fill="#000" >0.5</text><line x1="1248.3" y1="995.2" x2="1255.8" y2="995.2" stroke="#000" stroke-width="1.9"/><text x="1237" y="1005.5" font-size="29.4" text-anchor="end" font-weight="normal" fill="#000" >1.0</text><text transform="translate(1174.8,1056.2) rotate(-90)" font-size="29.4" text-anchor="middle" ><tspan font-style="italic">g</tspan><tspan font-size="19" dy="-12.5">2</tspan><tspan dy="12.5"> (</tspan><tspan font-family="Liberation Serif, serif">&#964;</tspan>)</text><text x="1443" y="1132.5" font-size="29.4" text-anchor="start" font-weight="normal" fill="#000" >0.40</text><path d="M1257.9,1322.4a1.8,1.8 0 1,0 -3.6,0a1.8,1.8 0 1,0 3.6,0M1258.3,1325.3a1.8,1.8 0 1,0 -3.6,0a1.8,1.8 0 1,0 3.6,0M1258.7,1317.4a1.8,1.8 0 1,0 -3.6,0a1.8,1.8 0 1,0 3.6,0M1259.2,1294.1a1.8,1.8 0 1,0 -3.6,0a1.8,1.8 0 1,0 3.6,0M1259.6,1326.6a1.8,1.8 0 1,0 -3.6,0a1.8,1.8 0 1,0 3.6,0M1260,1306.8a1.8,1.8 0 1,0 -3.6,0a1.8,1.8 0 1,0 3.6,0M1260.4,1314.8a1.8,1.8 0 1,0 -3.6,0a1.8,1.8 0 1,0 3.6,0M1260.9,1332.6a1.8,1.8 0 1,0 -3.6,0a1.8,1.8 0 1,0 3.6,0M1261.3,1326.8a1.8,1.8 0 1,0 -3.6,0a1.8,1.8 0 1,0 3.6,0M1261.7,1319.2a1.8,1.8 0 1,0 -3.6,0a1.8,1.8 0 1,0 3.6,0M1262.1,1322.3a1.8,1.8 0 1,0 -3.6,0a1.8,1.8 0 1,0 3.6,0M1262.5,1314.8a1.8,1.8 0 1,0 -3.6,0a1.8,1.8 0 1,0 3.6,0M1263,1327.6a1.8,1.8 0 1,0 -3.6,0a1.8,1.8 0 1,0 3.6,0M1263.4,1327.9a1.8,1.8 0 1,0 -3.6,0a1.8,1.8 0 1,0 3.6,0M1263.8,1307.2a1.8,1.8 0 1,0 -3.6,0a1.8,1.8 0 1,0 3.6,0M1264.2,1317.8a1.8,1.8 0 1,0 -3.6,0a1.8,1.8 0 1,0 3.6,0M1264.6,1326.2a1.8,1.8 0 1,0 -3.6,0a1.8,1.8 0 1,0 3.6,0M1265.1,1317.5a1.8,1.8 0 1,0 -3.6,0a1.8,1.8 0 1,0 3.6,0M1265.5,1298.7a1.8,1.8 0 1,0 -3.6,0a1.8,1.8 0 1,0 3.6,0M1265.9,1323.5a1.8,1.8 0 1,0 -3.6,0a1.8,1.8 0 1,0 3.6,0M1266.3,1332.7a1.8,1.8 0 1,0 -3.6,0a1.8,1.8 0 1,0 3.6,0M1266.8,1308a1.8,1.8 0 1,0 -3.6,0a1.8,1.8 0 1,0 3.6,0M1267.2,1297.4a1.8,1.8 0 1,0 -3.6,0a1.8,1.8 0 1,0 3.6,0M1267.6,1304.7a1.8,1.8 0 1,0 -3.6,0a1.8,1.8 0 1,0 3.6,0M1268,1331a1.8,1.8 0 1,0 -3.6,0a1.8,1.8 0 1,0 3.6,0M1268.4,1338.7a1.8,1.8 0 1,0 -3.6,0a1.8,1.8 0 1,0 3.6,0M1268.9,1304.7a1.8,1.8 0 1,0 -3.6,0a1.8,1.8 0 1,0 3.6,0M1269.3,1319.5a1.8,1.8 0 1,0 -3.6,0a1.8,1.8 0 1,0 3.6,0M1269.7,1312.5a1.8,1.8 0 1,0 -3.6,0a1.8,1.8 0 1,0 3.6,0M1270.1,1319.6a1.8,1.8 0 1,0 -3.6,0a1.8,1.8 0 1,0 3.6,0M1270.6,1300.5a1.8,1.8 0 1,0 -3.6,0a1.8,1.8 0 1,0 3.6,0M1271,1317a1.8,1.8 0 1,0 -3.6,0a1.8,1.8 0 1,0 3.6,0M1271.4,1321a1.8,1.8 0 1,0 -3.6,0a1.8,1.8 0 1,0 3.6,0M1271.8,1316.3a1.8,1.8 0 1,0 -3.6,0a1.8,1.8 0 1,0 3.6,0M1272.2,1330a1.8,1.8 0 1,0 -3.6,0a1.8,1.8 0 1,0 3.6,0M1272.7,1316.1a1.8,1.8 0 1,0 -3.6,0a1.8,1.8 0 1,0 3.6,0M1273.1,1318.7a1.8,1.8 0 1,0 -3.6,0a1.8,1.8 0 1,0 3.6,0M1273.5,1339.5a1.8,1.8 0 1,0 -3.6,0a1.8,1.8 0 1,0 3.6,0M1273.9,1329.6a1.8,1.8 0 1,0 -3.6,0a1.8,1.8 0 1,0 3.6,0M1274.4,1330.7a1.8,1.8 0 1,0 -3.6,0a1.8,1.8 0 1,0 3.6,0M1274.8,1334a1.8,1.8 0 1,0 -3.6,0a1.8,1.8 0 1,0 3.6,0M1275.2,1314.3a1.8,1.8 0 1,0 -3.6,0a1.8,1.8 0 1,0 3.6,0M1275.6,1306.4a1.8,1.8 0 1,0 -3.6,0a1.8,1.8 0 1,0 3.6,0M1276,1314.7a1.8,1.8 0 1,0 -3.6,0a1.8,1.8 0 1,0 3.6,0M1276.5,1333.2a1.8,1.8 0 1,0 -3.6,0a1.8,1.8 0 1,0 3.6,0M1276.9,1336.3a1.8,1.8 0 1,0 -3.6,0a1.8,1.8 0 1,0 3.6,0M1277.3,1310.1a1.8,1.8 0 1,0 -3.6,0a1.8,1.8 0 1,0 3.6,0M1277.7,1321.3a1.8,1.8 0 1,0 -3.6,0a1.8,1.8 0 1,0 3.6,0M1278.1,1319.1a1.8,1.8 0 1,0 -3.6,0a1.8,1.8 0 1,0 3.6,0M1278.6,1331.4a1.8,1.8 0 1,0 -3.6,0a1.8,1.8 0 1,0 3.6,0M1279,1338.9a1.8,1.8 0 1,0 -3.6,0a1.8,1.8 0 1,0 3.6,0M1279.4,1295.5a1.8,1.8 0 1,0 -3.6,0a1.8,1.8 0 1,0 3.6,0M1279.8,1324.4a1.8,1.8 0 1,0 -3.6,0a1.8,1.8 0 1,0 3.6,0M1280.3,1320.2a1.8,1.8 0 1,0 -3.6,0a1.8,1.8 0 1,0 3.6,0M1280.7,1330a1.8,1.8 0 1,0 -3.6,0a1.8,1.8 0 1,0 3.6,0M1281.1,1302.6a1.8,1.8 0 1,0 -3.6,0a1.8,1.8 0 1,0 3.6,0M1281.5,1321.9a1.8,1.8 0 1,0 -3.6,0a1.8,1.8 0 1,0 3.6,0M1281.9,1320a1.8,1.8 0 1,0 -3.6,0a1.8,1.8 0 1,0 3.6,0M1282.4,1317.9a1.8,1.8 0 1,0 -3.6,0a1.8,1.8 0 1,0 3.6,0M1282.8,1318.5a1.8,1.8 0 1,0 -3.6,0a1.8,1.8 0 1,0 3.6,0M1283.2,1303.9a1.8,1.8 0 1,0 -3.6,0a1.8,1.8 0 1,0 3.6,0M1283.6,1337a1.8,1.8 0 1,0 -3.6,0a1.8,1.8 0 1,0 3.6,0M1284.1,1312a1.8,1.8 0 1,0 -3.6,0a1.8,1.8 0 1,0 3.6,0M1284.5,1324.8a1.8,1.8 0 1,0 -3.6,0a1.8,1.8 0 1,0 3.6,0M1284.9,1322.6a1.8,1.8 0 1,0 -3.6,0a1.8,1.8 0 1,0 3.6,0M1285.3,1324.8a1.8,1.8 0 1,0 -3.6,0a1.8,1.8 0 1,0 3.6,0M1285.7,1314.1a1.8,1.8 0 1,0 -3.6,0a1.8,1.8 0 1,0 3.6,0M1286.2,1331.6a1.8,1.8 0 1,0 -3.6,0a1.8,1.8 0 1,0 3.6,0M1286.6,1324a1.8,1.8 0 1,0 -3.6,0a1.8,1.8 0 1,0 3.6,0M1287,1312.8a1.8,1.8 0 1,0 -3.6,0a1.8,1.8 0 1,0 3.6,0M1287.4,1324.4a1.8,1.8 0 1,0 -3.6,0a1.8,1.8 0 1,0 3.6,0M1287.9,1323.4a1.8,1.8 0 1,0 -3.6,0a1.8,1.8 0 1,0 3.6,0M1288.3,1314.7a1.8,1.8 0 1,0 -3.6,0a1.8,1.8 0 1,0 3.6,0M1288.7,1317.7a1.8,1.8 0 1,0 -3.6,0a1.8,1.8 0 1,0 3.6,0M1289.1,1322a1.8,1.8 0 1,0 -3.6,0a1.8,1.8 0 1,0 3.6,0M1289.5,1318a1.8,1.8 0 1,0 -3.6,0a1.8,1.8 0 1,0 3.6,0M1290,1327.6a1.8,1.8 0 1,0 -3.6,0a1.8,1.8 0 1,0 3.6,0M1290.4,1309.8a1.8,1.8 0 1,0 -3.6,0a1.8,1.8 0 1,0 3.6,0M1290.8,1329.8a1.8,1.8 0 1,0 -3.6,0a1.8,1.8 0 1,0 3.6,0M1291.2,1335a1.8,1.8 0 1,0 -3.6,0a1.8,1.8 0 1,0 3.6,0M1291.6,1314.3a1.8,1.8 0 1,0 -3.6,0a1.8,1.8 0 1,0 3.6,0M1292.1,1332.1a1.8,1.8 0 1,0 -3.6,0a1.8,1.8 0 1,0 3.6,0M1292.5,1328.5a1.8,1.8 0 1,0 -3.6,0a1.8,1.8 0 1,0 3.6,0M1292.9,1320.9a1.8,1.8 0 1,0 -3.6,0a1.8,1.8 0 1,0 3.6,0M1293.3,1311.5a1.8,1.8 0 1,0 -3.6,0a1.8,1.8 0 1,0 3.6,0M1293.8,1323.6a1.8,1.8 0 1,0 -3.6,0a1.8,1.8 0 1,0 3.6,0M1294.2,1323.3a1.8,1.8 0 1,0 -3.6,0a1.8,1.8 0 1,0 3.6,0M1294.6,1323.1a1.8,1.8 0 1,0 -3.6,0a1.8,1.8 0 1,0 3.6,0M1295,1315a1.8,1.8 0 1,0 -3.6,0a1.8,1.8 0 1,0 3.6,0M1295.4,1324a1.8,1.8 0 1,0 -3.6,0a1.8,1.8 0 1,0 3.6,0M1295.9,1316.4a1.8,1.8 0 1,0 -3.6,0a1.8,1.8 0 1,0 3.6,0M1296.3,1305a1.8,1.8 0 1,0 -3.6,0a1.8,1.8 0 1,0 3.6,0M1296.7,1321.2a1.8,1.8 0 1,0 -3.6,0a1.8,1.8 0 1,0 3.6,0M1297.1,1322.7a1.8,1.8 0 1,0 -3.6,0a1.8,1.8 0 1,0 3.6,0M1297.6,1328.4a1.8,1.8 0 1,0 -3.6,0a1.8,1.8 0 1,0 3.6,0M1298,1326.7a1.8,1.8 0 1,0 -3.6,0a1.8,1.8 0 1,0 3.6,0M1298.4,1331.6a1.8,1.8 0 1,0 -3.6,0a1.8,1.8 0 1,0 3.6,0M1298.8,1330.2a1.8,1.8 0 1,0 -3.6,0a1.8,1.8 0 1,0 3.6,0M1299.2,1324.9a1.8,1.8 0 1,0 -3.6,0a1.8,1.8 0 1,0 3.6,0M1299.7,1315.6a1.8,1.8 0 1,0 -3.6,0a1.8,1.8 0 1,0 3.6,0M1300.1,1314.1a1.8,1.8 0 1,0 -3.6,0a1.8,1.8 0 1,0 3.6,0M1300.5,1323.4a1.8,1.8 0 1,0 -3.6,0a1.8,1.8 0 1,0 3.6,0M1300.9,1315.8a1.8,1.8 0 1,0 -3.6,0a1.8,1.8 0 1,0 3.6,0M1301.4,1332.3a1.8,1.8 0 1,0 -3.6,0a1.8,1.8 0 1,0 3.6,0M1301.8,1297.9a1.8,1.8 0 1,0 -3.6,0a1.8,1.8 0 1,0 3.6,0M1302.2,1293.8a1.8,1.8 0 1,0 -3.6,0a1.8,1.8 0 1,0 3.6,0M1302.6,1320.3a1.8,1.8 0 1,0 -3.6,0a1.8,1.8 0 1,0 3.6,0M1303,1313.9a1.8,1.8 0 1,0 -3.6,0a1.8,1.8 0 1,0 3.6,0M1303.5,1318.1a1.8,1.8 0 1,0 -3.6,0a1.8,1.8 0 1,0 3.6,0M1303.9,1311.1a1.8,1.8 0 1,0 -3.6,0a1.8,1.8 0 1,0 3.6,0M1304.3,1325.5a1.8,1.8 0 1,0 -3.6,0a1.8,1.8 0 1,0 3.6,0M1304.7,1334.6a1.8,1.8 0 1,0 -3.6,0a1.8,1.8 0 1,0 3.6,0M1305.1,1310.8a1.8,1.8 0 1,0 -3.6,0a1.8,1.8 0 1,0 3.6,0M1305.6,1330.2a1.8,1.8 0 1,0 -3.6,0a1.8,1.8 0 1,0 3.6,0M1306,1315.5a1.8,1.8 0 1,0 -3.6,0a1.8,1.8 0 1,0 3.6,0M1306.4,1328.5a1.8,1.8 0 1,0 -3.6,0a1.8,1.8 0 1,0 3.6,0M1306.8,1327a1.8,1.8 0 1,0 -3.6,0a1.8,1.8 0 1,0 3.6,0M1307.3,1309.1a1.8,1.8 0 1,0 -3.6,0a1.8,1.8 0 1,0 3.6,0M1307.7,1302.7a1.8,1.8 0 1,0 -3.6,0a1.8,1.8 0 1,0 3.6,0M1308.1,1320.7a1.8,1.8 0 1,0 -3.6,0a1.8,1.8 0 1,0 3.6,0M1308.5,1323.4a1.8,1.8 0 1,0 -3.6,0a1.8,1.8 0 1,0 3.6,0M1308.9,1316.1a1.8,1.8 0 1,0 -3.6,0a1.8,1.8 0 1,0 3.6,0M1309.4,1324.7a1.8,1.8 0 1,0 -3.6,0a1.8,1.8 0 1,0 3.6,0M1309.8,1336.8a1.8,1.8 0 1,0 -3.6,0a1.8,1.8 0 1,0 3.6,0M1310.2,1319.4a1.8,1.8 0 1,0 -3.6,0a1.8,1.8 0 1,0 3.6,0M1310.6,1342a1.8,1.8 0 1,0 -3.6,0a1.8,1.8 0 1,0 3.6,0M1311.1,1314.8a1.8,1.8 0 1,0 -3.6,0a1.8,1.8 0 1,0 3.6,0M1311.5,1324.3a1.8,1.8 0 1,0 -3.6,0a1.8,1.8 0 1,0 3.6,0M1311.9,1317.3a1.8,1.8 0 1,0 -3.6,0a1.8,1.8 0 1,0 3.6,0M1312.3,1334.2a1.8,1.8 0 1,0 -3.6,0a1.8,1.8 0 1,0 3.6,0M1312.7,1326.9a1.8,1.8 0 1,0 -3.6,0a1.8,1.8 0 1,0 3.6,0M1313.2,1313.4a1.8,1.8 0 1,0 -3.6,0a1.8,1.8 0 1,0 3.6,0M1313.6,1305.3a1.8,1.8 0 1,0 -3.6,0a1.8,1.8 0 1,0 3.6,0M1314,1310.7a1.8,1.8 0 1,0 -3.6,0a1.8,1.8 0 1,0 3.6,0M1314.4,1315.3a1.8,1.8 0 1,0 -3.6,0a1.8,1.8 0 1,0 3.6,0M1314.9,1330.6a1.8,1.8 0 1,0 -3.6,0a1.8,1.8 0 1,0 3.6,0M1315.3,1313.5a1.8,1.8 0 1,0 -3.6,0a1.8,1.8 0 1,0 3.6,0M1315.7,1317.9a1.8,1.8 0 1,0 -3.6,0a1.8,1.8 0 1,0 3.6,0M1316.1,1322.5a1.8,1.8 0 1,0 -3.6,0a1.8,1.8 0 1,0 3.6,0M1316.5,1306a1.8,1.8 0 1,0 -3.6,0a1.8,1.8 0 1,0 3.6,0M1317,1327.2a1.8,1.8 0 1,0 -3.6,0a1.8,1.8 0 1,0 3.6,0M1317.4,1301.4a1.8,1.8 0 1,0 -3.6,0a1.8,1.8 0 1,0 3.6,0M1317.8,1326a1.8,1.8 0 1,0 -3.6,0a1.8,1.8 0 1,0 3.6,0M1318.2,1326.3a1.8,1.8 0 1,0 -3.6,0a1.8,1.8 0 1,0 3.6,0M1318.6,1320.4a1.8,1.8 0 1,0 -3.6,0a1.8,1.8 0 1,0 3.6,0M1319.1,1332.9a1.8,1.8 0 1,0 -3.6,0a1.8,1.8 0 1,0 3.6,0M1319.5,1324.2a1.8,1.8 0 1,0 -3.6,0a1.8,1.8 0 1,0 3.6,0M1319.9,1318.6a1.8,1.8 0 1,0 -3.6,0a1.8,1.8 0 1,0 3.6,0M1320.3,1336.7a1.8,1.8 0 1,0 -3.6,0a1.8,1.8 0 1,0 3.6,0M1320.8,1327.9a1.8,1.8 0 1,0 -3.6,0a1.8,1.8 0 1,0 3.6,0M1321.2,1333.7a1.8,1.8 0 1,0 -3.6,0a1.8,1.8 0 1,0 3.6,0M1321.6,1324a1.8,1.8 0 1,0 -3.6,0a1.8,1.8 0 1,0 3.6,0M1322,1307.9a1.8,1.8 0 1,0 -3.6,0a1.8,1.8 0 1,0 3.6,0M1322.4,1323.9a1.8,1.8 0 1,0 -3.6,0a1.8,1.8 0 1,0 3.6,0M1322.9,1321.4a1.8,1.8 0 1,0 -3.6,0a1.8,1.8 0 1,0 3.6,0M1323.3,1317.2a1.8,1.8 0 1,0 -3.6,0a1.8,1.8 0 1,0 3.6,0M1323.7,1330.9a1.8,1.8 0 1,0 -3.6,0a1.8,1.8 0 1,0 3.6,0M1324.1,1317.3a1.8,1.8 0 1,0 -3.6,0a1.8,1.8 0 1,0 3.6,0M1324.6,1324.9a1.8,1.8 0 1,0 -3.6,0a1.8,1.8 0 1,0 3.6,0M1325,1326.2a1.8,1.8 0 1,0 -3.6,0a1.8,1.8 0 1,0 3.6,0M1325.4,1337.1a1.8,1.8 0 1,0 -3.6,0a1.8,1.8 0 1,0 3.6,0M1325.8,1326.1a1.8,1.8 0 1,0 -3.6,0a1.8,1.8 0 1,0 3.6,0M1326.2,1309.1a1.8,1.8 0 1,0 -3.6,0a1.8,1.8 0 1,0 3.6,0M1326.7,1307.3a1.8,1.8 0 1,0 -3.6,0a1.8,1.8 0 1,0 3.6,0M1327.1,1322.7a1.8,1.8 0 1,0 -3.6,0a1.8,1.8 0 1,0 3.6,0M1327.5,1319a1.8,1.8 0 1,0 -3.6,0a1.8,1.8 0 1,0 3.6,0M1327.9,1324a1.8,1.8 0 1,0 -3.6,0a1.8,1.8 0 1,0 3.6,0M1328.3,1331a1.8,1.8 0 1,0 -3.6,0a1.8,1.8 0 1,0 3.6,0M1328.8,1338.1a1.8,1.8 0 1,0 -3.6,0a1.8,1.8 0 1,0 3.6,0M1329.2,1302.4a1.8,1.8 0 1,0 -3.6,0a1.8,1.8 0 1,0 3.6,0M1329.6,1329.8a1.8,1.8 0 1,0 -3.6,0a1.8,1.8 0 1,0 3.6,0M1330,1317.6a1.8,1.8 0 1,0 -3.6,0a1.8,1.8 0 1,0 3.6,0M1330.5,1303.9a1.8,1.8 0 1,0 -3.6,0a1.8,1.8 0 1,0 3.6,0M1330.9,1323.7a1.8,1.8 0 1,0 -3.6,0a1.8,1.8 0 1,0 3.6,0M1331.3,1321.4a1.8,1.8 0 1,0 -3.6,0a1.8,1.8 0 1,0 3.6,0M1331.7,1317a1.8,1.8 0 1,0 -3.6,0a1.8,1.8 0 1,0 3.6,0M1332.1,1323.4a1.8,1.8 0 1,0 -3.6,0a1.8,1.8 0 1,0 3.6,0M1332.6,1317.2a1.8,1.8 0 1,0 -3.6,0a1.8,1.8 0 1,0 3.6,0M1333,1323.2a1.8,1.8 0 1,0 -3.6,0a1.8,1.8 0 1,0 3.6,0M1333.4,1308.2a1.8,1.8 0 1,0 -3.6,0a1.8,1.8 0 1,0 3.6,0M1333.8,1314.7a1.8,1.8 0 1,0 -3.6,0a1.8,1.8 0 1,0 3.6,0M1334.3,1331.8a1.8,1.8 0 1,0 -3.6,0a1.8,1.8 0 1,0 3.6,0M1334.7,1333.3a1.8,1.8 0 1,0 -3.6,0a1.8,1.8 0 1,0 3.6,0M1335.1,1326.3a1.8,1.8 0 1,0 -3.6,0a1.8,1.8 0 1,0 3.6,0M1335.5,1326a1.8,1.8 0 1,0 -3.6,0a1.8,1.8 0 1,0 3.6,0M1335.9,1327.3a1.8,1.8 0 1,0 -3.6,0a1.8,1.8 0 1,0 3.6,0M1336.4,1310.3a1.8,1.8 0 1,0 -3.6,0a1.8,1.8 0 1,0 3.6,0M1336.8,1327.1a1.8,1.8 0 1,0 -3.6,0a1.8,1.8 0 1,0 3.6,0M1337.2,1324.4a1.8,1.8 0 1,0 -3.6,0a1.8,1.8 0 1,0 3.6,0M1337.6,1318.3a1.8,1.8 0 1,0 -3.6,0a1.8,1.8 0 1,0 3.6,0M1338.1,1340.1a1.8,1.8 0 1,0 -3.6,0a1.8,1.8 0 1,0 3.6,0M1338.5,1315.4a1.8,1.8 0 1,0 -3.6,0a1.8,1.8 0 1,0 3.6,0M1338.9,1313.9a1.8,1.8 0 1,0 -3.6,0a1.8,1.8 0 1,0 3.6,0M1339.3,1305.6a1.8,1.8 0 1,0 -3.6,0a1.8,1.8 0 1,0 3.6,0M1339.7,1329.9a1.8,1.8 0 1,0 -3.6,0a1.8,1.8 0 1,0 3.6,0M1340.2,1324.6a1.8,1.8 0 1,0 -3.6,0a1.8,1.8 0 1,0 3.6,0M1340.6,1317.8a1.8,1.8 0 1,0 -3.6,0a1.8,1.8 0 1,0 3.6,0M1341,1323.8a1.8,1.8 0 1,0 -3.6,0a1.8,1.8 0 1,0 3.6,0M1341.4,1334.8a1.8,1.8 0 1,0 -3.6,0a1.8,1.8 0 1,0 3.6,0M1341.8,1310.7a1.8,1.8 0 1,0 -3.6,0a1.8,1.8 0 1,0 3.6,0M1342.3,1322.9a1.8,1.8 0 1,0 -3.6,0a1.8,1.8 0 1,0 3.6,0M1342.7,1316.5a1.8,1.8 0 1,0 -3.6,0a1.8,1.8 0 1,0 3.6,0M1343.1,1331a1.8,1.8 0 1,0 -3.6,0a1.8,1.8 0 1,0 3.6,0M1343.5,1310.3a1.8,1.8 0 1,0 -3.6,0a1.8,1.8 0 1,0 3.6,0M1344,1323.7a1.8,1.8 0 1,0 -3.6,0a1.8,1.8 0 1,0 3.6,0M1344.4,1327.5a1.8,1.8 0 1,0 -3.6,0a1.8,1.8 0 1,0 3.6,0M1344.8,1312.2a1.8,1.8 0 1,0 -3.6,0a1.8,1.8 0 1,0 3.6,0M1345.2,1309a1.8,1.8 0 1,0 -3.6,0a1.8,1.8 0 1,0 3.6,0M1345.6,1329.8a1.8,1.8 0 1,0 -3.6,0a1.8,1.8 0 1,0 3.6,0M1346.1,1310.2a1.8,1.8 0 1,0 -3.6,0a1.8,1.8 0 1,0 3.6,0M1346.5,1303.9a1.8,1.8 0 1,0 -3.6,0a1.8,1.8 0 1,0 3.6,0M1346.9,1317.8a1.8,1.8 0 1,0 -3.6,0a1.8,1.8 0 1,0 3.6,0M1347.3,1334.9a1.8,1.8 0 1,0 -3.6,0a1.8,1.8 0 1,0 3.6,0M1347.8,1314.7a1.8,1.8 0 1,0 -3.6,0a1.8,1.8 0 1,0 3.6,0M1348.2,1309.7a1.8,1.8 0 1,0 -3.6,0a1.8,1.8 0 1,0 3.6,0M1348.6,1331a1.8,1.8 0 1,0 -3.6,0a1.8,1.8 0 1,0 3.6,0M1349,1303.6a1.8,1.8 0 1,0 -3.6,0a1.8,1.8 0 1,0 3.6,0M1349.4,1322.7a1.8,1.8 0 1,0 -3.6,0a1.8,1.8 0 1,0 3.6,0M1349.9,1322a1.8,1.8 0 1,0 -3.6,0a1.8,1.8 0 1,0 3.6,0M1350.3,1309.7a1.8,1.8 0 1,0 -3.6,0a1.8,1.8 0 1,0 3.6,0M1350.7,1318.8a1.8,1.8 0 1,0 -3.6,0a1.8,1.8 0 1,0 3.6,0M1351.1,1308.2a1.8,1.8 0 1,0 -3.6,0a1.8,1.8 0 1,0 3.6,0M1351.6,1321.1a1.8,1.8 0 1,0 -3.6,0a1.8,1.8 0 1,0 3.6,0M1352,1317.1a1.8,1.8 0 1,0 -3.6,0a1.8,1.8 0 1,0 3.6,0M1352.4,1320.9a1.8,1.8 0 1,0 -3.6,0a1.8,1.8 0 1,0 3.6,0M1352.8,1318.8a1.8,1.8 0 1,0 -3.6,0a1.8,1.8 0 1,0 3.6,0M1353.2,1315.3a1.8,1.8 0 1,0 -3.6,0a1.8,1.8 0 1,0 3.6,0M1353.7,1316.4a1.8,1.8 0 1,0 -3.6,0a1.8,1.8 0 1,0 3.6,0M1354.1,1324.5a1.8,1.8 0 1,0 -3.6,0a1.8,1.8 0 1,0 3.6,0M1354.5,1311.9a1.8,1.8 0 1,0 -3.6,0a1.8,1.8 0 1,0 3.6,0M1354.9,1322.5a1.8,1.8 0 1,0 -3.6,0a1.8,1.8 0 1,0 3.6,0M1355.3,1309.4a1.8,1.8 0 1,0 -3.6,0a1.8,1.8 0 1,0 3.6,0M1355.8,1315.4a1.8,1.8 0 1,0 -3.6,0a1.8,1.8 0 1,0 3.6,0M1356.2,1322.7a1.8,1.8 0 1,0 -3.6,0a1.8,1.8 0 1,0 3.6,0M1356.6,1329.4a1.8,1.8 0 1,0 -3.6,0a1.8,1.8 0 1,0 3.6,0M1357,1321.6a1.8,1.8 0 1,0 -3.6,0a1.8,1.8 0 1,0 3.6,0M1357.5,1307.9a1.8,1.8 0 1,0 -3.6,0a1.8,1.8 0 1,0 3.6,0M1357.9,1320.2a1.8,1.8 0 1,0 -3.6,0a1.8,1.8 0 1,0 3.6,0M1358.3,1312.3a1.8,1.8 0 1,0 -3.6,0a1.8,1.8 0 1,0 3.6,0M1358.7,1323.2a1.8,1.8 0 1,0 -3.6,0a1.8,1.8 0 1,0 3.6,0M1359.1,1325.6a1.8,1.8 0 1,0 -3.6,0a1.8,1.8 0 1,0 3.6,0M1359.6,1329.6a1.8,1.8 0 1,0 -3.6,0a1.8,1.8 0 1,0 3.6,0M1360,1342.4a1.8,1.8 0 1,0 -3.6,0a1.8,1.8 0 1,0 3.6,0M1360.4,1319.6a1.8,1.8 0 1,0 -3.6,0a1.8,1.8 0 1,0 3.6,0M1360.8,1322.5a1.8,1.8 0 1,0 -3.6,0a1.8,1.8 0 1,0 3.6,0M1361.3,1323.5a1.8,1.8 0 1,0 -3.6,0a1.8,1.8 0 1,0 3.6,0M1361.7,1315.2a1.8,1.8 0 1,0 -3.6,0a1.8,1.8 0 1,0 3.6,0M1362.1,1333.3a1.8,1.8 0 1,0 -3.6,0a1.8,1.8 0 1,0 3.6,0M1362.5,1306.1a1.8,1.8 0 1,0 -3.6,0a1.8,1.8 0 1,0 3.6,0M1362.9,1338.4a1.8,1.8 0 1,0 -3.6,0a1.8,1.8 0 1,0 3.6,0M1363.4,1321a1.8,1.8 0 1,0 -3.6,0a1.8,1.8 0 1,0 3.6,0M1363.8,1335.9a1.8,1.8 0 1,0 -3.6,0a1.8,1.8 0 1,0 3.6,0M1364.2,1326.6a1.8,1.8 0 1,0 -3.6,0a1.8,1.8 0 1,0 3.6,0M1364.6,1312.2a1.8,1.8 0 1,0 -3.6,0a1.8,1.8 0 1,0 3.6,0M1365.1,1339.3a1.8,1.8 0 1,0 -3.6,0a1.8,1.8 0 1,0 3.6,0M1365.5,1322.5a1.8,1.8 0 1,0 -3.6,0a1.8,1.8 0 1,0 3.6,0M1365.9,1323.3a1.8,1.8 0 1,0 -3.6,0a1.8,1.8 0 1,0 3.6,0M1366.3,1322.8a1.8,1.8 0 1,0 -3.6,0a1.8,1.8 0 1,0 3.6,0M1366.7,1322.1a1.8,1.8 0 1,0 -3.6,0a1.8,1.8 0 1,0 3.6,0M1367.2,1316.7a1.8,1.8 0 1,0 -3.6,0a1.8,1.8 0 1,0 3.6,0M1367.6,1320a1.8,1.8 0 1,0 -3.6,0a1.8,1.8 0 1,0 3.6,0M1368,1321.4a1.8,1.8 0 1,0 -3.6,0a1.8,1.8 0 1,0 3.6,0M1368.4,1316.3a1.8,1.8 0 1,0 -3.6,0a1.8,1.8 0 1,0 3.6,0M1368.8,1318.8a1.8,1.8 0 1,0 -3.6,0a1.8,1.8 0 1,0 3.6,0M1369.3,1327a1.8,1.8 0 1,0 -3.6,0a1.8,1.8 0 1,0 3.6,0M1369.7,1338.3a1.8,1.8 0 1,0 -3.6,0a1.8,1.8 0 1,0 3.6,0M1370.1,1317.9a1.8,1.8 0 1,0 -3.6,0a1.8,1.8 0 1,0 3.6,0M1370.5,1329.7a1.8,1.8 0 1,0 -3.6,0a1.8,1.8 0 1,0 3.6,0M1371,1309.7a1.8,1.8 0 1,0 -3.6,0a1.8,1.8 0 1,0 3.6,0M1371.4,1332.3a1.8,1.8 0 1,0 -3.6,0a1.8,1.8 0 1,0 3.6,0M1371.8,1339a1.8,1.8 0 1,0 -3.6,0a1.8,1.8 0 1,0 3.6,0M1372.2,1315.5a1.8,1.8 0 1,0 -3.6,0a1.8,1.8 0 1,0 3.6,0M1372.6,1334.7a1.8,1.8 0 1,0 -3.6,0a1.8,1.8 0 1,0 3.6,0M1373.1,1342.6a1.8,1.8 0 1,0 -3.6,0a1.8,1.8 0 1,0 3.6,0M1373.5,1315.6a1.8,1.8 0 1,0 -3.6,0a1.8,1.8 0 1,0 3.6,0M1373.9,1342.6a1.8,1.8 0 1,0 -3.6,0a1.8,1.8 0 1,0 3.6,0M1374.3,1314.7a1.8,1.8 0 1,0 -3.6,0a1.8,1.8 0 1,0 3.6,0M1374.8,1337.9a1.8,1.8 0 1,0 -3.6,0a1.8,1.8 0 1,0 3.6,0M1375.2,1324.3a1.8,1.8 0 1,0 -3.6,0a1.8,1.8 0 1,0 3.6,0M1375.6,1326.5a1.8,1.8 0 1,0 -3.6,0a1.8,1.8 0 1,0 3.6,0M1376,1347.4a1.8,1.8 0 1,0 -3.6,0a1.8,1.8 0 1,0 3.6,0M1376.4,1329.4a1.8,1.8 0 1,0 -3.6,0a1.8,1.8 0 1,0 3.6,0M1376.9,1333.7a1.8,1.8 0 1,0 -3.6,0a1.8,1.8 0 1,0 3.6,0M1377.3,1328.4a1.8,1.8 0 1,0 -3.6,0a1.8,1.8 0 1,0 3.6,0M1377.7,1324.6a1.8,1.8 0 1,0 -3.6,0a1.8,1.8 0 1,0 3.6,0M1378.1,1314.2a1.8,1.8 0 1,0 -3.6,0a1.8,1.8 0 1,0 3.6,0M1378.6,1332.9a1.8,1.8 0 1,0 -3.6,0a1.8,1.8 0 1,0 3.6,0M1379,1331.8a1.8,1.8 0 1,0 -3.6,0a1.8,1.8 0 1,0 3.6,0M1379.4,1309.3a1.8,1.8 0 1,0 -3.6,0a1.8,1.8 0 1,0 3.6,0M1379.8,1324a1.8,1.8 0 1,0 -3.6,0a1.8,1.8 0 1,0 3.6,0M1380.2,1323.9a1.8,1.8 0 1,0 -3.6,0a1.8,1.8 0 1,0 3.6,0M1380.7,1347.4a1.8,1.8 0 1,0 -3.6,0a1.8,1.8 0 1,0 3.6,0M1381.1,1346.4a1.8,1.8 0 1,0 -3.6,0a1.8,1.8 0 1,0 3.6,0M1381.5,1338.2a1.8,1.8 0 1,0 -3.6,0a1.8,1.8 0 1,0 3.6,0M1381.9,1334.8a1.8,1.8 0 1,0 -3.6,0a1.8,1.8 0 1,0 3.6,0M1382.3,1328.3a1.8,1.8 0 1,0 -3.6,0a1.8,1.8 0 1,0 3.6,0M1382.8,1305.9a1.8,1.8 0 1,0 -3.6,0a1.8,1.8 0 1,0 3.6,0M1383.2,1346.5a1.8,1.8 0 1,0 -3.6,0a1.8,1.8 0 1,0 3.6,0M1383.6,1338.4a1.8,1.8 0 1,0 -3.6,0a1.8,1.8 0 1,0 3.6,0M1384,1328.3a1.8,1.8 0 1,0 -3.6,0a1.8,1.8 0 1,0 3.6,0M1384.5,1332.3a1.8,1.8 0 1,0 -3.6,0a1.8,1.8 0 1,0 3.6,0M1384.9,1324.1a1.8,1.8 0 1,0 -3.6,0a1.8,1.8 0 1,0 3.6,0M1385.3,1338.7a1.8,1.8 0 1,0 -3.6,0a1.8,1.8 0 1,0 3.6,0M1385.7,1345.2a1.8,1.8 0 1,0 -3.6,0a1.8,1.8 0 1,0 3.6,0M1386.1,1315.5a1.8,1.8 0 1,0 -3.6,0a1.8,1.8 0 1,0 3.6,0M1386.6,1332.5a1.8,1.8 0 1,0 -3.6,0a1.8,1.8 0 1,0 3.6,0M1387,1349.4a1.8,1.8 0 1,0 -3.6,0a1.8,1.8 0 1,0 3.6,0M1387.4,1341.3a1.8,1.8 0 1,0 -3.6,0a1.8,1.8 0 1,0 3.6,0M1387.8,1338.9a1.8,1.8 0 1,0 -3.6,0a1.8,1.8 0 1,0 3.6,0M1388.3,1353.7a1.8,1.8 0 1,0 -3.6,0a1.8,1.8 0 1,0 3.6,0M1388.7,1331.5a1.8,1.8 0 1,0 -3.6,0a1.8,1.8 0 1,0 3.6,0M1389.1,1338.2a1.8,1.8 0 1,0 -3.6,0a1.8,1.8 0 1,0 3.6,0M1389.5,1343.9a1.8,1.8 0 1,0 -3.6,0a1.8,1.8 0 1,0 3.6,0M1389.9,1347.2a1.8,1.8 0 1,0 -3.6,0a1.8,1.8 0 1,0 3.6,0M1390.4,1324.8a1.8,1.8 0 1,0 -3.6,0a1.8,1.8 0 1,0 3.6,0M1390.8,1342.5a1.8,1.8 0 1,0 -3.6,0a1.8,1.8 0 1,0 3.6,0M1391.2,1350a1.8,1.8 0 1,0 -3.6,0a1.8,1.8 0 1,0 3.6,0M1391.6,1363.3a1.8,1.8 0 1,0 -3.6,0a1.8,1.8 0 1,0 3.6,0M1392.1,1354a1.8,1.8 0 1,0 -3.6,0a1.8,1.8 0 1,0 3.6,0M1392.5,1337.1a1.8,1.8 0 1,0 -3.6,0a1.8,1.8 0 1,0 3.6,0M1392.9,1329.7a1.8,1.8 0 1,0 -3.6,0a1.8,1.8 0 1,0 3.6,0M1393.3,1356.7a1.8,1.8 0 1,0 -3.6,0a1.8,1.8 0 1,0 3.6,0M1393.7,1366.1a1.8,1.8 0 1,0 -3.6,0a1.8,1.8 0 1,0 3.6,0M1394.2,1346.1a1.8,1.8 0 1,0 -3.6,0a1.8,1.8 0 1,0 3.6,0M1394.6,1347.5a1.8,1.8 0 1,0 -3.6,0a1.8,1.8 0 1,0 3.6,0M1395,1339.1a1.8,1.8 0 1,0 -3.6,0a1.8,1.8 0 1,0 3.6,0M1395.4,1355.4a1.8,1.8 0 1,0 -3.6,0a1.8,1.8 0 1,0 3.6,0M1395.8,1347.9a1.8,1.8 0 1,0 -3.6,0a1.8,1.8 0 1,0 3.6,0M1396.3,1368a1.8,1.8 0 1,0 -3.6,0a1.8,1.8 0 1,0 3.6,0M1396.7,1362.6a1.8,1.8 0 1,0 -3.6,0a1.8,1.8 0 1,0 3.6,0M1397.1,1356.5a1.8,1.8 0 1,0 -3.6,0a1.8,1.8 0 1,0 3.6,0M1397.5,1356.2a1.8,1.8 0 1,0 -3.6,0a1.8,1.8 0 1,0 3.6,0M1398,1347.4a1.8,1.8 0 1,0 -3.6,0a1.8,1.8 0 1,0 3.6,0M1398.4,1341.4a1.8,1.8 0 1,0 -3.6,0a1.8,1.8 0 1,0 3.6,0M1398.8,1368.1a1.8,1.8 0 1,0 -3.6,0a1.8,1.8 0 1,0 3.6,0M1399.2,1338.5a1.8,1.8 0 1,0 -3.6,0a1.8,1.8 0 1,0 3.6,0M1399.6,1363.1a1.8,1.8 0 1,0 -3.6,0a1.8,1.8 0 1,0 3.6,0M1400.1,1360.7a1.8,1.8 0 1,0 -3.6,0a1.8,1.8 0 1,0 3.6,0M1400.5,1346.5a1.8,1.8 0 1,0 -3.6,0a1.8,1.8 0 1,0 3.6,0M1400.9,1381.6a1.8,1.8 0 1,0 -3.6,0a1.8,1.8 0 1,0 3.6,0M1401.3,1373.2a1.8,1.8 0 1,0 -3.6,0a1.8,1.8 0 1,0 3.6,0M1401.8,1368.1a1.8,1.8 0 1,0 -3.6,0a1.8,1.8 0 1,0 3.6,0M1402.2,1360.2a1.8,1.8 0 1,0 -3.6,0a1.8,1.8 0 1,0 3.6,0M1402.6,1351.5a1.8,1.8 0 1,0 -3.6,0a1.8,1.8 0 1,0 3.6,0M1403,1352.3a1.8,1.8 0 1,0 -3.6,0a1.8,1.8 0 1,0 3.6,0M1403.4,1372.7a1.8,1.8 0 1,0 -3.6,0a1.8,1.8 0 1,0 3.6,0M1403.9,1357.7a1.8,1.8 0 1,0 -3.6,0a1.8,1.8 0 1,0 3.6,0M1404.3,1369.9a1.8,1.8 0 1,0 -3.6,0a1.8,1.8 0 1,0 3.6,0M1404.7,1352.8a1.8,1.8 0 1,0 -3.6,0a1.8,1.8 0 1,0 3.6,0M1405.1,1370.7a1.8,1.8 0 1,0 -3.6,0a1.8,1.8 0 1,0 3.6,0M1405.5,1359.1a1.8,1.8 0 1,0 -3.6,0a1.8,1.8 0 1,0 3.6,0M1406,1380a1.8,1.8 0 1,0 -3.6,0a1.8,1.8 0 1,0 3.6,0M1406.4,1364.1a1.8,1.8 0 1,0 -3.6,0a1.8,1.8 0 1,0 3.6,0M1406.8,1385.5a1.8,1.8 0 1,0 -3.6,0a1.8,1.8 0 1,0 3.6,0M1407.2,1372.8a1.8,1.8 0 1,0 -3.6,0a1.8,1.8 0 1,0 3.6,0M1407.7,1390.3a1.8,1.8 0 1,0 -3.6,0a1.8,1.8 0 1,0 3.6,0M1408.1,1377.7a1.8,1.8 0 1,0 -3.6,0a1.8,1.8 0 1,0 3.6,0M1408.5,1385a1.8,1.8 0 1,0 -3.6,0a1.8,1.8 0 1,0 3.6,0M1408.9,1388a1.8,1.8 0 1,0 -3.6,0a1.8,1.8 0 1,0 3.6,0M1409.3,1378.1a1.8,1.8 0 1,0 -3.6,0a1.8,1.8 0 1,0 3.6,0M1409.8,1374.5a1.8,1.8 0 1,0 -3.6,0a1.8,1.8 0 1,0 3.6,0M1410.2,1382.1a1.8,1.8 0 1,0 -3.6,0a1.8,1.8 0 1,0 3.6,0M1410.6,1381.7a1.8,1.8 0 1,0 -3.6,0a1.8,1.8 0 1,0 3.6,0M1411,1379.5a1.8,1.8 0 1,0 -3.6,0a1.8,1.8 0 1,0 3.6,0M1411.5,1376.5a1.8,1.8 0 1,0 -3.6,0a1.8,1.8 0 1,0 3.6,0M1411.9,1379.9a1.8,1.8 0 1,0 -3.6,0a1.8,1.8 0 1,0 3.6,0M1412.3,1387.1a1.8,1.8 0 1,0 -3.6,0a1.8,1.8 0 1,0 3.6,0M1412.7,1374.4a1.8,1.8 0 1,0 -3.6,0a1.8,1.8 0 1,0 3.6,0M1413.1,1398.5a1.8,1.8 0 1,0 -3.6,0a1.8,1.8 0 1,0 3.6,0M1413.6,1388.6a1.8,1.8 0 1,0 -3.6,0a1.8,1.8 0 1,0 3.6,0M1414,1407.5a1.8,1.8 0 1,0 -3.6,0a1.8,1.8 0 1,0 3.6,0M1414.4,1378.2a1.8,1.8 0 1,0 -3.6,0a1.8,1.8 0 1,0 3.6,0M1414.8,1403.2a1.8,1.8 0 1,0 -3.6,0a1.8,1.8 0 1,0 3.6,0M1415.3,1401.5a1.8,1.8 0 1,0 -3.6,0a1.8,1.8 0 1,0 3.6,0M1415.7,1392.8a1.8,1.8 0 1,0 -3.6,0a1.8,1.8 0 1,0 3.6,0M1416.1,1408.3a1.8,1.8 0 1,0 -3.6,0a1.8,1.8 0 1,0 3.6,0M1416.5,1415.9a1.8,1.8 0 1,0 -3.6,0a1.8,1.8 0 1,0 3.6,0M1416.9,1426.4a1.8,1.8 0 1,0 -3.6,0a1.8,1.8 0 1,0 3.6,0M1417.4,1415.1a1.8,1.8 0 1,0 -3.6,0a1.8,1.8 0 1,0 3.6,0M1417.8,1397.9a1.8,1.8 0 1,0 -3.6,0a1.8,1.8 0 1,0 3.6,0M1418.2,1415.7a1.8,1.8 0 1,0 -3.6,0a1.8,1.8 0 1,0 3.6,0M1418.6,1405.1a1.8,1.8 0 1,0 -3.6,0a1.8,1.8 0 1,0 3.6,0M1419,1414.9a1.8,1.8 0 1,0 -3.6,0a1.8,1.8 0 1,0 3.6,0M1419.5,1427.5a1.8,1.8 0 1,0 -3.6,0a1.8,1.8 0 1,0 3.6,0M1419.9,1437.6a1.8,1.8 0 1,0 -3.6,0a1.8,1.8 0 1,0 3.6,0M1420.3,1430.3a1.8,1.8 0 1,0 -3.6,0a1.8,1.8 0 1,0 3.6,0M1420.7,1426.4a1.8,1.8 0 1,0 -3.6,0a1.8,1.8 0 1,0 3.6,0M1421.2,1435.5a1.8,1.8 0 1,0 -3.6,0a1.8,1.8 0 1,0 3.6,0M1421.6,1435a1.8,1.8 0 1,0 -3.6,0a1.8,1.8 0 1,0 3.6,0M1422,1434.6a1.8,1.8 0 1,0 -3.6,0a1.8,1.8 0 1,0 3.6,0M1422.4,1444.5a1.8,1.8 0 1,0 -3.6,0a1.8,1.8 0 1,0 3.6,0M1422.8,1455.3a1.8,1.8 0 1,0 -3.6,0a1.8,1.8 0 1,0 3.6,0M1423.3,1449.8a1.8,1.8 0 1,0 -3.6,0a1.8,1.8 0 1,0 3.6,0M1423.7,1446.1a1.8,1.8 0 1,0 -3.6,0a1.8,1.8 0 1,0 3.6,0M1424.1,1459.1a1.8,1.8 0 1,0 -3.6,0a1.8,1.8 0 1,0 3.6,0M1424.5,1463.7a1.8,1.8 0 1,0 -3.6,0a1.8,1.8 0 1,0 3.6,0M1425,1466.3a1.8,1.8 0 1,0 -3.6,0a1.8,1.8 0 1,0 3.6,0M1425.4,1464.2a1.8,1.8 0 1,0 -3.6,0a1.8,1.8 0 1,0 3.6,0M1425.8,1466.6a1.8,1.8 0 1,0 -3.6,0a1.8,1.8 0 1,0 3.6,0M1426.2,1469.5a1.8,1.8 0 1,0 -3.6,0a1.8,1.8 0 1,0 3.6,0M1426.6,1480.7a1.8,1.8 0 1,0 -3.6,0a1.8,1.8 0 1,0 3.6,0M1427.1,1475.8a1.8,1.8 0 1,0 -3.6,0a1.8,1.8 0 1,0 3.6,0M1427.5,1483.4a1.8,1.8 0 1,0 -3.6,0a1.8,1.8 0 1,0 3.6,0M1427.9,1488.9a1.8,1.8 0 1,0 -3.6,0a1.8,1.8 0 1,0 3.6,0M1428.3,1497.8a1.8,1.8 0 1,0 -3.6,0a1.8,1.8 0 1,0 3.6,0M1428.8,1497.1a1.8,1.8 0 1,0 -3.6,0a1.8,1.8 0 1,0 3.6,0M1429.2,1497.9a1.8,1.8 0 1,0 -3.6,0a1.8,1.8 0 1,0 3.6,0M1429.6,1497.6a1.8,1.8 0 1,0 -3.6,0a1.8,1.8 0 1,0 3.6,0M1430,1500.2a1.8,1.8 0 1,0 -3.6,0a1.8,1.8 0 1,0 3.6,0M1430.4,1506.4a1.8,1.8 0 1,0 -3.6,0a1.8,1.8 0 1,0 3.6,0M1430.9,1505.4a1.8,1.8 0 1,0 -3.6,0a1.8,1.8 0 1,0 3.6,0M1431.3,1508.5a1.8,1.8 0 1,0 -3.6,0a1.8,1.8 0 1,0 3.6,0M1431.7,1494a1.8,1.8 0 1,0 -3.6,0a1.8,1.8 0 1,0 3.6,0M1432.1,1489.8a1.8,1.8 0 1,0 -3.6,0a1.8,1.8 0 1,0 3.6,0M1432.5,1486.6a1.8,1.8 0 1,0 -3.6,0a1.8,1.8 0 1,0 3.6,0M1433,1489.8a1.8,1.8 0 1,0 -3.6,0a1.8,1.8 0 1,0 3.6,0M1433.4,1483.7a1.8,1.8 0 1,0 -3.6,0a1.8,1.8 0 1,0 3.6,0M1433.8,1482.4a1.8,1.8 0 1,0 -3.6,0a1.8,1.8 0 1,0 3.6,0M1434.2,1484.4a1.8,1.8 0 1,0 -3.6,0a1.8,1.8 0 1,0 3.6,0M1434.7,1474.8a1.8,1.8 0 1,0 -3.6,0a1.8,1.8 0 1,0 3.6,0M1435.1,1479.4a1.8,1.8 0 1,0 -3.6,0a1.8,1.8 0 1,0 3.6,0M1435.5,1477.7a1.8,1.8 0 1,0 -3.6,0a1.8,1.8 0 1,0 3.6,0M1435.9,1458.8a1.8,1.8 0 1,0 -3.6,0a1.8,1.8 0 1,0 3.6,0M1436.3,1455.7a1.8,1.8 0 1,0 -3.6,0a1.8,1.8 0 1,0 3.6,0M1436.8,1450.5a1.8,1.8 0 1,0 -3.6,0a1.8,1.8 0 1,0 3.6,0M1437.2,1456.5a1.8,1.8 0 1,0 -3.6,0a1.8,1.8 0 1,0 3.6,0M1437.6,1450.2a1.8,1.8 0 1,0 -3.6,0a1.8,1.8 0 1,0 3.6,0M1438,1443.6a1.8,1.8 0 1,0 -3.6,0a1.8,1.8 0 1,0 3.6,0M1438.5,1447.4a1.8,1.8 0 1,0 -3.6,0a1.8,1.8 0 1,0 3.6,0M1438.9,1457.2a1.8,1.8 0 1,0 -3.6,0a1.8,1.8 0 1,0 3.6,0M1439.3,1422.1a1.8,1.8 0 1,0 -3.6,0a1.8,1.8 0 1,0 3.6,0M1439.7,1427a1.8,1.8 0 1,0 -3.6,0a1.8,1.8 0 1,0 3.6,0M1440.1,1424.1a1.8,1.8 0 1,0 -3.6,0a1.8,1.8 0 1,0 3.6,0M1440.6,1430.6a1.8,1.8 0 1,0 -3.6,0a1.8,1.8 0 1,0 3.6,0M1441,1435.2a1.8,1.8 0 1,0 -3.6,0a1.8,1.8 0 1,0 3.6,0M1441.4,1425.7a1.8,1.8 0 1,0 -3.6,0a1.8,1.8 0 1,0 3.6,0M1441.8,1421.7a1.8,1.8 0 1,0 -3.6,0a1.8,1.8 0 1,0 3.6,0M1442.3,1432.8a1.8,1.8 0 1,0 -3.6,0a1.8,1.8 0 1,0 3.6,0M1442.7,1423.3a1.8,1.8 0 1,0 -3.6,0a1.8,1.8 0 1,0 3.6,0M1443.1,1412.5a1.8,1.8 0 1,0 -3.6,0a1.8,1.8 0 1,0 3.6,0M1443.5,1402.4a1.8,1.8 0 1,0 -3.6,0a1.8,1.8 0 1,0 3.6,0M1443.9,1407.7a1.8,1.8 0 1,0 -3.6,0a1.8,1.8 0 1,0 3.6,0M1444.4,1414.1a1.8,1.8 0 1,0 -3.6,0a1.8,1.8 0 1,0 3.6,0M1444.8,1419.6a1.8,1.8 0 1,0 -3.6,0a1.8,1.8 0 1,0 3.6,0M1445.2,1389.3a1.8,1.8 0 1,0 -3.6,0a1.8,1.8 0 1,0 3.6,0M1445.6,1403.6a1.8,1.8 0 1,0 -3.6,0a1.8,1.8 0 1,0 3.6,0M1446,1396.1a1.8,1.8 0 1,0 -3.6,0a1.8,1.8 0 1,0 3.6,0M1446.5,1400.6a1.8,1.8 0 1,0 -3.6,0a1.8,1.8 0 1,0 3.6,0M1446.9,1410.8a1.8,1.8 0 1,0 -3.6,0a1.8,1.8 0 1,0 3.6,0M1447.3,1378.2a1.8,1.8 0 1,0 -3.6,0a1.8,1.8 0 1,0 3.6,0M1447.7,1389.6a1.8,1.8 0 1,0 -3.6,0a1.8,1.8 0 1,0 3.6,0M1448.2,1383a1.8,1.8 0 1,0 -3.6,0a1.8,1.8 0 1,0 3.6,0M1448.6,1399.2a1.8,1.8 0 1,0 -3.6,0a1.8,1.8 0 1,0 3.6,0M1449,1390.8a1.8,1.8 0 1,0 -3.6,0a1.8,1.8 0 1,0 3.6,0M1449.4,1376.6a1.8,1.8 0 1,0 -3.6,0a1.8,1.8 0 1,0 3.6,0M1449.8,1390.6a1.8,1.8 0 1,0 -3.6,0a1.8,1.8 0 1,0 3.6,0M1450.3,1392.5a1.8,1.8 0 1,0 -3.6,0a1.8,1.8 0 1,0 3.6,0M1450.7,1394.7a1.8,1.8 0 1,0 -3.6,0a1.8,1.8 0 1,0 3.6,0M1451.1,1395.4a1.8,1.8 0 1,0 -3.6,0a1.8,1.8 0 1,0 3.6,0M1451.5,1373.9a1.8,1.8 0 1,0 -3.6,0a1.8,1.8 0 1,0 3.6,0M1452,1380.7a1.8,1.8 0 1,0 -3.6,0a1.8,1.8 0 1,0 3.6,0M1452.4,1395.5a1.8,1.8 0 1,0 -3.6,0a1.8,1.8 0 1,0 3.6,0M1452.8,1363.3a1.8,1.8 0 1,0 -3.6,0a1.8,1.8 0 1,0 3.6,0M1453.2,1364.2a1.8,1.8 0 1,0 -3.6,0a1.8,1.8 0 1,0 3.6,0M1453.6,1364.1a1.8,1.8 0 1,0 -3.6,0a1.8,1.8 0 1,0 3.6,0M1454.1,1391a1.8,1.8 0 1,0 -3.6,0a1.8,1.8 0 1,0 3.6,0M1454.5,1371.4a1.8,1.8 0 1,0 -3.6,0a1.8,1.8 0 1,0 3.6,0M1454.9,1359a1.8,1.8 0 1,0 -3.6,0a1.8,1.8 0 1,0 3.6,0M1455.3,1379.9a1.8,1.8 0 1,0 -3.6,0a1.8,1.8 0 1,0 3.6,0M1455.8,1376.5a1.8,1.8 0 1,0 -3.6,0a1.8,1.8 0 1,0 3.6,0M1456.2,1370.1a1.8,1.8 0 1,0 -3.6,0a1.8,1.8 0 1,0 3.6,0M1456.6,1386a1.8,1.8 0 1,0 -3.6,0a1.8,1.8 0 1,0 3.6,0M1457,1363.6a1.8,1.8 0 1,0 -3.6,0a1.8,1.8 0 1,0 3.6,0M1457.4,1355.1a1.8,1.8 0 1,0 -3.6,0a1.8,1.8 0 1,0 3.6,0M1457.9,1357.2a1.8,1.8 0 1,0 -3.6,0a1.8,1.8 0 1,0 3.6,0M1458.3,1348.2a1.8,1.8 0 1,0 -3.6,0a1.8,1.8 0 1,0 3.6,0M1458.7,1360.7a1.8,1.8 0 1,0 -3.6,0a1.8,1.8 0 1,0 3.6,0M1459.1,1360.9a1.8,1.8 0 1,0 -3.6,0a1.8,1.8 0 1,0 3.6,0M1459.5,1361.5a1.8,1.8 0 1,0 -3.6,0a1.8,1.8 0 1,0 3.6,0M1460,1365.6a1.8,1.8 0 1,0 -3.6,0a1.8,1.8 0 1,0 3.6,0M1460.4,1368.4a1.8,1.8 0 1,0 -3.6,0a1.8,1.8 0 1,0 3.6,0M1460.8,1364.3a1.8,1.8 0 1,0 -3.6,0a1.8,1.8 0 1,0 3.6,0M1461.2,1357a1.8,1.8 0 1,0 -3.6,0a1.8,1.8 0 1,0 3.6,0M1461.7,1360.6a1.8,1.8 0 1,0 -3.6,0a1.8,1.8 0 1,0 3.6,0M1462.1,1353.5a1.8,1.8 0 1,0 -3.6,0a1.8,1.8 0 1,0 3.6,0M1462.5,1353a1.8,1.8 0 1,0 -3.6,0a1.8,1.8 0 1,0 3.6,0M1462.9,1346.7a1.8,1.8 0 1,0 -3.6,0a1.8,1.8 0 1,0 3.6,0M1463.3,1357.3a1.8,1.8 0 1,0 -3.6,0a1.8,1.8 0 1,0 3.6,0M1463.8,1371.8a1.8,1.8 0 1,0 -3.6,0a1.8,1.8 0 1,0 3.6,0M1464.2,1360.2a1.8,1.8 0 1,0 -3.6,0a1.8,1.8 0 1,0 3.6,0M1464.6,1331.1a1.8,1.8 0 1,0 -3.6,0a1.8,1.8 0 1,0 3.6,0M1465,1341.9a1.8,1.8 0 1,0 -3.6,0a1.8,1.8 0 1,0 3.6,0M1465.5,1352.7a1.8,1.8 0 1,0 -3.6,0a1.8,1.8 0 1,0 3.6,0M1465.9,1350a1.8,1.8 0 1,0 -3.6,0a1.8,1.8 0 1,0 3.6,0M1466.3,1348.1a1.8,1.8 0 1,0 -3.6,0a1.8,1.8 0 1,0 3.6,0M1466.7,1351.3a1.8,1.8 0 1,0 -3.6,0a1.8,1.8 0 1,0 3.6,0M1467.1,1344.1a1.8,1.8 0 1,0 -3.6,0a1.8,1.8 0 1,0 3.6,0M1467.6,1338.6a1.8,1.8 0 1,0 -3.6,0a1.8,1.8 0 1,0 3.6,0M1468,1332.7a1.8,1.8 0 1,0 -3.6,0a1.8,1.8 0 1,0 3.6,0M1468.4,1347.8a1.8,1.8 0 1,0 -3.6,0a1.8,1.8 0 1,0 3.6,0M1468.8,1346.5a1.8,1.8 0 1,0 -3.6,0a1.8,1.8 0 1,0 3.6,0M1469.2,1346.4a1.8,1.8 0 1,0 -3.6,0a1.8,1.8 0 1,0 3.6,0M1469.7,1342.2a1.8,1.8 0 1,0 -3.6,0a1.8,1.8 0 1,0 3.6,0M1470.1,1331.4a1.8,1.8 0 1,0 -3.6,0a1.8,1.8 0 1,0 3.6,0M1470.5,1349a1.8,1.8 0 1,0 -3.6,0a1.8,1.8 0 1,0 3.6,0M1470.9,1318.9a1.8,1.8 0 1,0 -3.6,0a1.8,1.8 0 1,0 3.6,0M1471.4,1334.9a1.8,1.8 0 1,0 -3.6,0a1.8,1.8 0 1,0 3.6,0M1471.8,1328.8a1.8,1.8 0 1,0 -3.6,0a1.8,1.8 0 1,0 3.6,0M1472.2,1348.5a1.8,1.8 0 1,0 -3.6,0a1.8,1.8 0 1,0 3.6,0M1472.6,1342.8a1.8,1.8 0 1,0 -3.6,0a1.8,1.8 0 1,0 3.6,0M1473,1343.8a1.8,1.8 0 1,0 -3.6,0a1.8,1.8 0 1,0 3.6,0M1473.5,1337.6a1.8,1.8 0 1,0 -3.6,0a1.8,1.8 0 1,0 3.6,0M1473.9,1358.1a1.8,1.8 0 1,0 -3.6,0a1.8,1.8 0 1,0 3.6,0M1474.3,1332.2a1.8,1.8 0 1,0 -3.6,0a1.8,1.8 0 1,0 3.6,0M1474.7,1353.7a1.8,1.8 0 1,0 -3.6,0a1.8,1.8 0 1,0 3.6,0M1475.2,1332.5a1.8,1.8 0 1,0 -3.6,0a1.8,1.8 0 1,0 3.6,0M1475.6,1325.6a1.8,1.8 0 1,0 -3.6,0a1.8,1.8 0 1,0 3.6,0M1476,1336.1a1.8,1.8 0 1,0 -3.6,0a1.8,1.8 0 1,0 3.6,0M1476.4,1336.8a1.8,1.8 0 1,0 -3.6,0a1.8,1.8 0 1,0 3.6,0M1476.8,1336.4a1.8,1.8 0 1,0 -3.6,0a1.8,1.8 0 1,0 3.6,0M1477.3,1336.5a1.8,1.8 0 1,0 -3.6,0a1.8,1.8 0 1,0 3.6,0M1477.7,1331.3a1.8,1.8 0 1,0 -3.6,0a1.8,1.8 0 1,0 3.6,0M1478.1,1324.3a1.8,1.8 0 1,0 -3.6,0a1.8,1.8 0 1,0 3.6,0M1478.5,1326.6a1.8,1.8 0 1,0 -3.6,0a1.8,1.8 0 1,0 3.6,0M1479,1317.6a1.8,1.8 0 1,0 -3.6,0a1.8,1.8 0 1,0 3.6,0M1479.4,1331.4a1.8,1.8 0 1,0 -3.6,0a1.8,1.8 0 1,0 3.6,0M1479.8,1337.2a1.8,1.8 0 1,0 -3.6,0a1.8,1.8 0 1,0 3.6,0M1480.2,1336.4a1.8,1.8 0 1,0 -3.6,0a1.8,1.8 0 1,0 3.6,0M1480.6,1343.8a1.8,1.8 0 1,0 -3.6,0a1.8,1.8 0 1,0 3.6,0M1481.1,1334.9a1.8,1.8 0 1,0 -3.6,0a1.8,1.8 0 1,0 3.6,0M1481.5,1336.6a1.8,1.8 0 1,0 -3.6,0a1.8,1.8 0 1,0 3.6,0M1481.9,1312.2a1.8,1.8 0 1,0 -3.6,0a1.8,1.8 0 1,0 3.6,0M1482.3,1324.7a1.8,1.8 0 1,0 -3.6,0a1.8,1.8 0 1,0 3.6,0M1482.7,1311.5a1.8,1.8 0 1,0 -3.6,0a1.8,1.8 0 1,0 3.6,0M1483.2,1348.7a1.8,1.8 0 1,0 -3.6,0a1.8,1.8 0 1,0 3.6,0M1483.6,1326a1.8,1.8 0 1,0 -3.6,0a1.8,1.8 0 1,0 3.6,0M1484,1318.4a1.8,1.8 0 1,0 -3.6,0a1.8,1.8 0 1,0 3.6,0M1484.4,1325.2a1.8,1.8 0 1,0 -3.6,0a1.8,1.8 0 1,0 3.6,0M1484.9,1332.9a1.8,1.8 0 1,0 -3.6,0a1.8,1.8 0 1,0 3.6,0M1485.3,1326.3a1.8,1.8 0 1,0 -3.6,0a1.8,1.8 0 1,0 3.6,0M1485.7,1326.7a1.8,1.8 0 1,0 -3.6,0a1.8,1.8 0 1,0 3.6,0M1486.1,1326.2a1.8,1.8 0 1,0 -3.6,0a1.8,1.8 0 1,0 3.6,0M1486.5,1324.6a1.8,1.8 0 1,0 -3.6,0a1.8,1.8 0 1,0 3.6,0M1487,1317.4a1.8,1.8 0 1,0 -3.6,0a1.8,1.8 0 1,0 3.6,0M1487.4,1324.5a1.8,1.8 0 1,0 -3.6,0a1.8,1.8 0 1,0 3.6,0M1487.8,1323.6a1.8,1.8 0 1,0 -3.6,0a1.8,1.8 0 1,0 3.6,0M1488.2,1326.1a1.8,1.8 0 1,0 -3.6,0a1.8,1.8 0 1,0 3.6,0M1488.7,1321.4a1.8,1.8 0 1,0 -3.6,0a1.8,1.8 0 1,0 3.6,0M1489.1,1333.1a1.8,1.8 0 1,0 -3.6,0a1.8,1.8 0 1,0 3.6,0M1489.5,1319.8a1.8,1.8 0 1,0 -3.6,0a1.8,1.8 0 1,0 3.6,0M1489.9,1328.7a1.8,1.8 0 1,0 -3.6,0a1.8,1.8 0 1,0 3.6,0M1490.3,1316.5a1.8,1.8 0 1,0 -3.6,0a1.8,1.8 0 1,0 3.6,0M1490.8,1331a1.8,1.8 0 1,0 -3.6,0a1.8,1.8 0 1,0 3.6,0M1491.2,1325.3a1.8,1.8 0 1,0 -3.6,0a1.8,1.8 0 1,0 3.6,0M1491.6,1326.4a1.8,1.8 0 1,0 -3.6,0a1.8,1.8 0 1,0 3.6,0M1492,1334.7a1.8,1.8 0 1,0 -3.6,0a1.8,1.8 0 1,0 3.6,0M1492.5,1313.6a1.8,1.8 0 1,0 -3.6,0a1.8,1.8 0 1,0 3.6,0M1492.9,1320.3a1.8,1.8 0 1,0 -3.6,0a1.8,1.8 0 1,0 3.6,0M1493.3,1323.5a1.8,1.8 0 1,0 -3.6,0a1.8,1.8 0 1,0 3.6,0M1493.7,1311.3a1.8,1.8 0 1,0 -3.6,0a1.8,1.8 0 1,0 3.6,0M1494.1,1326.9a1.8,1.8 0 1,0 -3.6,0a1.8,1.8 0 1,0 3.6,0M1494.6,1323.7a1.8,1.8 0 1,0 -3.6,0a1.8,1.8 0 1,0 3.6,0M1495,1312.1a1.8,1.8 0 1,0 -3.6,0a1.8,1.8 0 1,0 3.6,0M1495.4,1298.4a1.8,1.8 0 1,0 -3.6,0a1.8,1.8 0 1,0 3.6,0M1495.8,1322.1a1.8,1.8 0 1,0 -3.6,0a1.8,1.8 0 1,0 3.6,0M1496.2,1306.4a1.8,1.8 0 1,0 -3.6,0a1.8,1.8 0 1,0 3.6,0M1496.7,1321a1.8,1.8 0 1,0 -3.6,0a1.8,1.8 0 1,0 3.6,0M1497.1,1330.7a1.8,1.8 0 1,0 -3.6,0a1.8,1.8 0 1,0 3.6,0M1497.5,1317.3a1.8,1.8 0 1,0 -3.6,0a1.8,1.8 0 1,0 3.6,0M1497.9,1309.8a1.8,1.8 0 1,0 -3.6,0a1.8,1.8 0 1,0 3.6,0M1498.4,1320.2a1.8,1.8 0 1,0 -3.6,0a1.8,1.8 0 1,0 3.6,0M1498.8,1317.4a1.8,1.8 0 1,0 -3.6,0a1.8,1.8 0 1,0 3.6,0M1499.2,1333a1.8,1.8 0 1,0 -3.6,0a1.8,1.8 0 1,0 3.6,0M1499.6,1345a1.8,1.8 0 1,0 -3.6,0a1.8,1.8 0 1,0 3.6,0M1500,1319.5a1.8,1.8 0 1,0 -3.6,0a1.8,1.8 0 1,0 3.6,0M1500.5,1336.5a1.8,1.8 0 1,0 -3.6,0a1.8,1.8 0 1,0 3.6,0M1500.9,1322.7a1.8,1.8 0 1,0 -3.6,0a1.8,1.8 0 1,0 3.6,0M1501.3,1328.7a1.8,1.8 0 1,0 -3.6,0a1.8,1.8 0 1,0 3.6,0M1501.7,1320.6a1.8,1.8 0 1,0 -3.6,0a1.8,1.8 0 1,0 3.6,0M1502.2,1313.4a1.8,1.8 0 1,0 -3.6,0a1.8,1.8 0 1,0 3.6,0M1502.6,1339.2a1.8,1.8 0 1,0 -3.6,0a1.8,1.8 0 1,0 3.6,0M1503,1323.7a1.8,1.8 0 1,0 -3.6,0a1.8,1.8 0 1,0 3.6,0M1503.4,1323.7a1.8,1.8 0 1,0 -3.6,0a1.8,1.8 0 1,0 3.6,0M1503.8,1308.5a1.8,1.8 0 1,0 -3.6,0a1.8,1.8 0 1,0 3.6,0M1504.3,1321.4a1.8,1.8 0 1,0 -3.6,0a1.8,1.8 0 1,0 3.6,0M1504.7,1330.3a1.8,1.8 0 1,0 -3.6,0a1.8,1.8 0 1,0 3.6,0M1505.1,1327.8a1.8,1.8 0 1,0 -3.6,0a1.8,1.8 0 1,0 3.6,0M1505.5,1303.6a1.8,1.8 0 1,0 -3.6,0a1.8,1.8 0 1,0 3.6,0M1506,1330.8a1.8,1.8 0 1,0 -3.6,0a1.8,1.8 0 1,0 3.6,0M1506.4,1321.2a1.8,1.8 0 1,0 -3.6,0a1.8,1.8 0 1,0 3.6,0M1506.8,1318.9a1.8,1.8 0 1,0 -3.6,0a1.8,1.8 0 1,0 3.6,0M1507.2,1333.2a1.8,1.8 0 1,0 -3.6,0a1.8,1.8 0 1,0 3.6,0M1507.6,1329.8a1.8,1.8 0 1,0 -3.6,0a1.8,1.8 0 1,0 3.6,0M1508.1,1341.5a1.8,1.8 0 1,0 -3.6,0a1.8,1.8 0 1,0 3.6,0M1508.5,1330.6a1.8,1.8 0 1,0 -3.6,0a1.8,1.8 0 1,0 3.6,0M1508.9,1314.6a1.8,1.8 0 1,0 -3.6,0a1.8,1.8 0 1,0 3.6,0M1509.3,1319a1.8,1.8 0 1,0 -3.6,0a1.8,1.8 0 1,0 3.6,0M1509.7,1340.4a1.8,1.8 0 1,0 -3.6,0a1.8,1.8 0 1,0 3.6,0M1510.2,1306.5a1.8,1.8 0 1,0 -3.6,0a1.8,1.8 0 1,0 3.6,0M1510.6,1334.5a1.8,1.8 0 1,0 -3.6,0a1.8,1.8 0 1,0 3.6,0M1511,1330.6a1.8,1.8 0 1,0 -3.6,0a1.8,1.8 0 1,0 3.6,0M1511.4,1304.5a1.8,1.8 0 1,0 -3.6,0a1.8,1.8 0 1,0 3.6,0M1511.9,1316a1.8,1.8 0 1,0 -3.6,0a1.8,1.8 0 1,0 3.6,0M1512.3,1321.5a1.8,1.8 0 1,0 -3.6,0a1.8,1.8 0 1,0 3.6,0M1512.7,1305.5a1.8,1.8 0 1,0 -3.6,0a1.8,1.8 0 1,0 3.6,0M1513.1,1321.3a1.8,1.8 0 1,0 -3.6,0a1.8,1.8 0 1,0 3.6,0M1513.5,1317a1.8,1.8 0 1,0 -3.6,0a1.8,1.8 0 1,0 3.6,0M1514,1326.3a1.8,1.8 0 1,0 -3.6,0a1.8,1.8 0 1,0 3.6,0M1514.4,1321.7a1.8,1.8 0 1,0 -3.6,0a1.8,1.8 0 1,0 3.6,0M1514.8,1321.1a1.8,1.8 0 1,0 -3.6,0a1.8,1.8 0 1,0 3.6,0M1515.2,1309.1a1.8,1.8 0 1,0 -3.6,0a1.8,1.8 0 1,0 3.6,0M1515.7,1326.7a1.8,1.8 0 1,0 -3.6,0a1.8,1.8 0 1,0 3.6,0M1516.1,1322.3a1.8,1.8 0 1,0 -3.6,0a1.8,1.8 0 1,0 3.6,0M1516.5,1342.3a1.8,1.8 0 1,0 -3.6,0a1.8,1.8 0 1,0 3.6,0M1516.9,1337.6a1.8,1.8 0 1,0 -3.6,0a1.8,1.8 0 1,0 3.6,0M1517.3,1313.1a1.8,1.8 0 1,0 -3.6,0a1.8,1.8 0 1,0 3.6,0M1517.8,1324.1a1.8,1.8 0 1,0 -3.6,0a1.8,1.8 0 1,0 3.6,0M1518.2,1323.6a1.8,1.8 0 1,0 -3.6,0a1.8,1.8 0 1,0 3.6,0M1518.6,1313.9a1.8,1.8 0 1,0 -3.6,0a1.8,1.8 0 1,0 3.6,0M1519,1323.4a1.8,1.8 0 1,0 -3.6,0a1.8,1.8 0 1,0 3.6,0M1519.5,1319a1.8,1.8 0 1,0 -3.6,0a1.8,1.8 0 1,0 3.6,0M1519.9,1322.8a1.8,1.8 0 1,0 -3.6,0a1.8,1.8 0 1,0 3.6,0M1520.3,1340.5a1.8,1.8 0 1,0 -3.6,0a1.8,1.8 0 1,0 3.6,0M1520.7,1313.7a1.8,1.8 0 1,0 -3.6,0a1.8,1.8 0 1,0 3.6,0M1521.1,1304.8a1.8,1.8 0 1,0 -3.6,0a1.8,1.8 0 1,0 3.6,0M1521.6,1307.9a1.8,1.8 0 1,0 -3.6,0a1.8,1.8 0 1,0 3.6,0M1522,1319.3a1.8,1.8 0 1,0 -3.6,0a1.8,1.8 0 1,0 3.6,0M1522.4,1317.2a1.8,1.8 0 1,0 -3.6,0a1.8,1.8 0 1,0 3.6,0M1522.8,1315.9a1.8,1.8 0 1,0 -3.6,0a1.8,1.8 0 1,0 3.6,0M1523.2,1304.5a1.8,1.8 0 1,0 -3.6,0a1.8,1.8 0 1,0 3.6,0M1523.7,1307.7a1.8,1.8 0 1,0 -3.6,0a1.8,1.8 0 1,0 3.6,0M1524.1,1323.3a1.8,1.8 0 1,0 -3.6,0a1.8,1.8 0 1,0 3.6,0M1524.5,1321.2a1.8,1.8 0 1,0 -3.6,0a1.8,1.8 0 1,0 3.6,0M1524.9,1321.9a1.8,1.8 0 1,0 -3.6,0a1.8,1.8 0 1,0 3.6,0M1525.4,1325.7a1.8,1.8 0 1,0 -3.6,0a1.8,1.8 0 1,0 3.6,0M1525.8,1326.1a1.8,1.8 0 1,0 -3.6,0a1.8,1.8 0 1,0 3.6,0M1526.2,1321.2a1.8,1.8 0 1,0 -3.6,0a1.8,1.8 0 1,0 3.6,0M1526.6,1344.4a1.8,1.8 0 1,0 -3.6,0a1.8,1.8 0 1,0 3.6,0M1527,1316.1a1.8,1.8 0 1,0 -3.6,0a1.8,1.8 0 1,0 3.6,0M1527.5,1324.6a1.8,1.8 0 1,0 -3.6,0a1.8,1.8 0 1,0 3.6,0M1527.9,1332.3a1.8,1.8 0 1,0 -3.6,0a1.8,1.8 0 1,0 3.6,0M1528.3,1321.9a1.8,1.8 0 1,0 -3.6,0a1.8,1.8 0 1,0 3.6,0M1528.7,1327.6a1.8,1.8 0 1,0 -3.6,0a1.8,1.8 0 1,0 3.6,0M1529.2,1307.7a1.8,1.8 0 1,0 -3.6,0a1.8,1.8 0 1,0 3.6,0M1529.6,1331.2a1.8,1.8 0 1,0 -3.6,0a1.8,1.8 0 1,0 3.6,0M1530,1319.3a1.8,1.8 0 1,0 -3.6,0a1.8,1.8 0 1,0 3.6,0M1530.4,1316.4a1.8,1.8 0 1,0 -3.6,0a1.8,1.8 0 1,0 3.6,0M1530.8,1328.4a1.8,1.8 0 1,0 -3.6,0a1.8,1.8 0 1,0 3.6,0M1531.3,1332.4a1.8,1.8 0 1,0 -3.6,0a1.8,1.8 0 1,0 3.6,0M1531.7,1316.1a1.8,1.8 0 1,0 -3.6,0a1.8,1.8 0 1,0 3.6,0M1532.1,1323.9a1.8,1.8 0 1,0 -3.6,0a1.8,1.8 0 1,0 3.6,0M1532.5,1329.4a1.8,1.8 0 1,0 -3.6,0a1.8,1.8 0 1,0 3.6,0M1533,1334.4a1.8,1.8 0 1,0 -3.6,0a1.8,1.8 0 1,0 3.6,0M1533.4,1313.6a1.8,1.8 0 1,0 -3.6,0a1.8,1.8 0 1,0 3.6,0M1533.8,1304.6a1.8,1.8 0 1,0 -3.6,0a1.8,1.8 0 1,0 3.6,0M1534.2,1325.1a1.8,1.8 0 1,0 -3.6,0a1.8,1.8 0 1,0 3.6,0M1534.6,1314.4a1.8,1.8 0 1,0 -3.6,0a1.8,1.8 0 1,0 3.6,0M1535.1,1308.6a1.8,1.8 0 1,0 -3.6,0a1.8,1.8 0 1,0 3.6,0M1535.5,1309.5a1.8,1.8 0 1,0 -3.6,0a1.8,1.8 0 1,0 3.6,0M1535.9,1325.5a1.8,1.8 0 1,0 -3.6,0a1.8,1.8 0 1,0 3.6,0M1536.3,1314.2a1.8,1.8 0 1,0 -3.6,0a1.8,1.8 0 1,0 3.6,0M1536.7,1312.6a1.8,1.8 0 1,0 -3.6,0a1.8,1.8 0 1,0 3.6,0M1537.2,1293.8a1.8,1.8 0 1,0 -3.6,0a1.8,1.8 0 1,0 3.6,0M1537.6,1317.1a1.8,1.8 0 1,0 -3.6,0a1.8,1.8 0 1,0 3.6,0M1538,1308.7a1.8,1.8 0 1,0 -3.6,0a1.8,1.8 0 1,0 3.6,0M1538.4,1310.9a1.8,1.8 0 1,0 -3.6,0a1.8,1.8 0 1,0 3.6,0M1538.9,1312.5a1.8,1.8 0 1,0 -3.6,0a1.8,1.8 0 1,0 3.6,0M1539.3,1328.9a1.8,1.8 0 1,0 -3.6,0a1.8,1.8 0 1,0 3.6,0M1539.7,1316a1.8,1.8 0 1,0 -3.6,0a1.8,1.8 0 1,0 3.6,0M1540.1,1303.8a1.8,1.8 0 1,0 -3.6,0a1.8,1.8 0 1,0 3.6,0M1540.5,1322.5a1.8,1.8 0 1,0 -3.6,0a1.8,1.8 0 1,0 3.6,0M1541,1316.3a1.8,1.8 0 1,0 -3.6,0a1.8,1.8 0 1,0 3.6,0M1541.4,1326.5a1.8,1.8 0 1,0 -3.6,0a1.8,1.8 0 1,0 3.6,0M1541.8,1315.9a1.8,1.8 0 1,0 -3.6,0a1.8,1.8 0 1,0 3.6,0M1542.2,1315.1a1.8,1.8 0 1,0 -3.6,0a1.8,1.8 0 1,0 3.6,0M1542.7,1311.6a1.8,1.8 0 1,0 -3.6,0a1.8,1.8 0 1,0 3.6,0M1543.1,1322.5a1.8,1.8 0 1,0 -3.6,0a1.8,1.8 0 1,0 3.6,0M1543.5,1322.8a1.8,1.8 0 1,0 -3.6,0a1.8,1.8 0 1,0 3.6,0M1543.9,1324.1a1.8,1.8 0 1,0 -3.6,0a1.8,1.8 0 1,0 3.6,0M1544.3,1315.8a1.8,1.8 0 1,0 -3.6,0a1.8,1.8 0 1,0 3.6,0M1544.8,1316.7a1.8,1.8 0 1,0 -3.6,0a1.8,1.8 0 1,0 3.6,0M1545.2,1296a1.8,1.8 0 1,0 -3.6,0a1.8,1.8 0 1,0 3.6,0M1545.6,1324.7a1.8,1.8 0 1,0 -3.6,0a1.8,1.8 0 1,0 3.6,0M1546,1311.6a1.8,1.8 0 1,0 -3.6,0a1.8,1.8 0 1,0 3.6,0M1546.4,1323.8a1.8,1.8 0 1,0 -3.6,0a1.8,1.8 0 1,0 3.6,0M1546.9,1323.1a1.8,1.8 0 1,0 -3.6,0a1.8,1.8 0 1,0 3.6,0M1547.3,1307.7a1.8,1.8 0 1,0 -3.6,0a1.8,1.8 0 1,0 3.6,0M1547.7,1314.2a1.8,1.8 0 1,0 -3.6,0a1.8,1.8 0 1,0 3.6,0M1548.1,1313.1a1.8,1.8 0 1,0 -3.6,0a1.8,1.8 0 1,0 3.6,0M1548.6,1331.7a1.8,1.8 0 1,0 -3.6,0a1.8,1.8 0 1,0 3.6,0M1549,1292.6a1.8,1.8 0 1,0 -3.6,0a1.8,1.8 0 1,0 3.6,0M1549.4,1297.7a1.8,1.8 0 1,0 -3.6,0a1.8,1.8 0 1,0 3.6,0M1549.8,1325.4a1.8,1.8 0 1,0 -3.6,0a1.8,1.8 0 1,0 3.6,0M1550.2,1331.6a1.8,1.8 0 1,0 -3.6,0a1.8,1.8 0 1,0 3.6,0M1550.7,1325.4a1.8,1.8 0 1,0 -3.6,0a1.8,1.8 0 1,0 3.6,0M1551.1,1315.9a1.8,1.8 0 1,0 -3.6,0a1.8,1.8 0 1,0 3.6,0M1551.5,1327.5a1.8,1.8 0 1,0 -3.6,0a1.8,1.8 0 1,0 3.6,0M1551.9,1315.5a1.8,1.8 0 1,0 -3.6,0a1.8,1.8 0 1,0 3.6,0M1552.4,1324.8a1.8,1.8 0 1,0 -3.6,0a1.8,1.8 0 1,0 3.6,0M1552.8,1290.9a1.8,1.8 0 1,0 -3.6,0a1.8,1.8 0 1,0 3.6,0M1553.2,1320.6a1.8,1.8 0 1,0 -3.6,0a1.8,1.8 0 1,0 3.6,0M1553.6,1322.8a1.8,1.8 0 1,0 -3.6,0a1.8,1.8 0 1,0 3.6,0M1554,1298.4a1.8,1.8 0 1,0 -3.6,0a1.8,1.8 0 1,0 3.6,0M1554.5,1315a1.8,1.8 0 1,0 -3.6,0a1.8,1.8 0 1,0 3.6,0M1554.9,1318.2a1.8,1.8 0 1,0 -3.6,0a1.8,1.8 0 1,0 3.6,0M1555.3,1318.6a1.8,1.8 0 1,0 -3.6,0a1.8,1.8 0 1,0 3.6,0M1555.7,1312.6a1.8,1.8 0 1,0 -3.6,0a1.8,1.8 0 1,0 3.6,0M1556.2,1322.5a1.8,1.8 0 1,0 -3.6,0a1.8,1.8 0 1,0 3.6,0M1556.6,1317.1a1.8,1.8 0 1,0 -3.6,0a1.8,1.8 0 1,0 3.6,0M1557,1323.6a1.8,1.8 0 1,0 -3.6,0a1.8,1.8 0 1,0 3.6,0M1557.4,1331.6a1.8,1.8 0 1,0 -3.6,0a1.8,1.8 0 1,0 3.6,0M1557.8,1321.4a1.8,1.8 0 1,0 -3.6,0a1.8,1.8 0 1,0 3.6,0M1558.3,1316.6a1.8,1.8 0 1,0 -3.6,0a1.8,1.8 0 1,0 3.6,0M1558.7,1302.4a1.8,1.8 0 1,0 -3.6,0a1.8,1.8 0 1,0 3.6,0M1559.1,1316a1.8,1.8 0 1,0 -3.6,0a1.8,1.8 0 1,0 3.6,0M1559.5,1321.6a1.8,1.8 0 1,0 -3.6,0a1.8,1.8 0 1,0 3.6,0M1559.9,1317a1.8,1.8 0 1,0 -3.6,0a1.8,1.8 0 1,0 3.6,0M1560.4,1312.3a1.8,1.8 0 1,0 -3.6,0a1.8,1.8 0 1,0 3.6,0M1560.8,1340.5a1.8,1.8 0 1,0 -3.6,0a1.8,1.8 0 1,0 3.6,0M1561.2,1322.3a1.8,1.8 0 1,0 -3.6,0a1.8,1.8 0 1,0 3.6,0M1561.6,1339.6a1.8,1.8 0 1,0 -3.6,0a1.8,1.8 0 1,0 3.6,0M1562.1,1335.5a1.8,1.8 0 1,0 -3.6,0a1.8,1.8 0 1,0 3.6,0M1562.5,1325.5a1.8,1.8 0 1,0 -3.6,0a1.8,1.8 0 1,0 3.6,0M1562.9,1319.5a1.8,1.8 0 1,0 -3.6,0a1.8,1.8 0 1,0 3.6,0M1563.3,1317.7a1.8,1.8 0 1,0 -3.6,0a1.8,1.8 0 1,0 3.6,0M1563.7,1316.9a1.8,1.8 0 1,0 -3.6,0a1.8,1.8 0 1,0 3.6,0M1564.2,1305.2a1.8,1.8 0 1,0 -3.6,0a1.8,1.8 0 1,0 3.6,0M1564.6,1313.7a1.8,1.8 0 1,0 -3.6,0a1.8,1.8 0 1,0 3.6,0M1565,1314.3a1.8,1.8 0 1,0 -3.6,0a1.8,1.8 0 1,0 3.6,0M1565.4,1321.3a1.8,1.8 0 1,0 -3.6,0a1.8,1.8 0 1,0 3.6,0M1565.9,1298.9a1.8,1.8 0 1,0 -3.6,0a1.8,1.8 0 1,0 3.6,0M1566.3,1305.2a1.8,1.8 0 1,0 -3.6,0a1.8,1.8 0 1,0 3.6,0M1566.7,1323.8a1.8,1.8 0 1,0 -3.6,0a1.8,1.8 0 1,0 3.6,0M1567.1,1323.8a1.8,1.8 0 1,0 -3.6,0a1.8,1.8 0 1,0 3.6,0M1567.5,1310.3a1.8,1.8 0 1,0 -3.6,0a1.8,1.8 0 1,0 3.6,0M1568,1308.1a1.8,1.8 0 1,0 -3.6,0a1.8,1.8 0 1,0 3.6,0M1568.4,1321.1a1.8,1.8 0 1,0 -3.6,0a1.8,1.8 0 1,0 3.6,0M1568.8,1306.8a1.8,1.8 0 1,0 -3.6,0a1.8,1.8 0 1,0 3.6,0M1569.2,1329.7a1.8,1.8 0 1,0 -3.6,0a1.8,1.8 0 1,0 3.6,0M1569.7,1319.5a1.8,1.8 0 1,0 -3.6,0a1.8,1.8 0 1,0 3.6,0M1570.1,1307.9a1.8,1.8 0 1,0 -3.6,0a1.8,1.8 0 1,0 3.6,0M1570.5,1323.6a1.8,1.8 0 1,0 -3.6,0a1.8,1.8 0 1,0 3.6,0M1570.9,1316.4a1.8,1.8 0 1,0 -3.6,0a1.8,1.8 0 1,0 3.6,0M1571.3,1318a1.8,1.8 0 1,0 -3.6,0a1.8,1.8 0 1,0 3.6,0M1571.8,1320.5a1.8,1.8 0 1,0 -3.6,0a1.8,1.8 0 1,0 3.6,0M1572.2,1336.4a1.8,1.8 0 1,0 -3.6,0a1.8,1.8 0 1,0 3.6,0M1572.6,1321.1a1.8,1.8 0 1,0 -3.6,0a1.8,1.8 0 1,0 3.6,0M1573,1316.1a1.8,1.8 0 1,0 -3.6,0a1.8,1.8 0 1,0 3.6,0M1573.4,1315.8a1.8,1.8 0 1,0 -3.6,0a1.8,1.8 0 1,0 3.6,0M1573.9,1310.3a1.8,1.8 0 1,0 -3.6,0a1.8,1.8 0 1,0 3.6,0M1574.3,1308.5a1.8,1.8 0 1,0 -3.6,0a1.8,1.8 0 1,0 3.6,0M1574.7,1321.3a1.8,1.8 0 1,0 -3.6,0a1.8,1.8 0 1,0 3.6,0M1575.1,1319.9a1.8,1.8 0 1,0 -3.6,0a1.8,1.8 0 1,0 3.6,0M1575.6,1301a1.8,1.8 0 1,0 -3.6,0a1.8,1.8 0 1,0 3.6,0M1576,1308.9a1.8,1.8 0 1,0 -3.6,0a1.8,1.8 0 1,0 3.6,0M1576.4,1317.4a1.8,1.8 0 1,0 -3.6,0a1.8,1.8 0 1,0 3.6,0M1576.8,1319.8a1.8,1.8 0 1,0 -3.6,0a1.8,1.8 0 1,0 3.6,0M1577.2,1307.1a1.8,1.8 0 1,0 -3.6,0a1.8,1.8 0 1,0 3.6,0M1577.7,1307a1.8,1.8 0 1,0 -3.6,0a1.8,1.8 0 1,0 3.6,0M1578.1,1318.4a1.8,1.8 0 1,0 -3.6,0a1.8,1.8 0 1,0 3.6,0M1578.5,1313a1.8,1.8 0 1,0 -3.6,0a1.8,1.8 0 1,0 3.6,0M1578.9,1317.2a1.8,1.8 0 1,0 -3.6,0a1.8,1.8 0 1,0 3.6,0M1579.4,1317.9a1.8,1.8 0 1,0 -3.6,0a1.8,1.8 0 1,0 3.6,0M1579.8,1299a1.8,1.8 0 1,0 -3.6,0a1.8,1.8 0 1,0 3.6,0M1580.2,1330.2a1.8,1.8 0 1,0 -3.6,0a1.8,1.8 0 1,0 3.6,0M1580.6,1310a1.8,1.8 0 1,0 -3.6,0a1.8,1.8 0 1,0 3.6,0M1581,1328a1.8,1.8 0 1,0 -3.6,0a1.8,1.8 0 1,0 3.6,0M1581.5,1324.5a1.8,1.8 0 1,0 -3.6,0a1.8,1.8 0 1,0 3.6,0M1581.9,1309.1a1.8,1.8 0 1,0 -3.6,0a1.8,1.8 0 1,0 3.6,0M1582.3,1330.6a1.8,1.8 0 1,0 -3.6,0a1.8,1.8 0 1,0 3.6,0M1582.7,1326.9a1.8,1.8 0 1,0 -3.6,0a1.8,1.8 0 1,0 3.6,0M1583.2,1328.9a1.8,1.8 0 1,0 -3.6,0a1.8,1.8 0 1,0 3.6,0M1583.6,1323.5a1.8,1.8 0 1,0 -3.6,0a1.8,1.8 0 1,0 3.6,0M1584,1314.6a1.8,1.8 0 1,0 -3.6,0a1.8,1.8 0 1,0 3.6,0M1584.4,1306a1.8,1.8 0 1,0 -3.6,0a1.8,1.8 0 1,0 3.6,0M1584.8,1324.1a1.8,1.8 0 1,0 -3.6,0a1.8,1.8 0 1,0 3.6,0M1585.3,1308.5a1.8,1.8 0 1,0 -3.6,0a1.8,1.8 0 1,0 3.6,0M1585.7,1329.8a1.8,1.8 0 1,0 -3.6,0a1.8,1.8 0 1,0 3.6,0M1586.1,1296.5a1.8,1.8 0 1,0 -3.6,0a1.8,1.8 0 1,0 3.6,0M1586.5,1322.2a1.8,1.8 0 1,0 -3.6,0a1.8,1.8 0 1,0 3.6,0M1586.9,1322.6a1.8,1.8 0 1,0 -3.6,0a1.8,1.8 0 1,0 3.6,0M1587.4,1315.2a1.8,1.8 0 1,0 -3.6,0a1.8,1.8 0 1,0 3.6,0M1587.8,1317a1.8,1.8 0 1,0 -3.6,0a1.8,1.8 0 1,0 3.6,0M1588.2,1319.7a1.8,1.8 0 1,0 -3.6,0a1.8,1.8 0 1,0 3.6,0M1588.6,1334.9a1.8,1.8 0 1,0 -3.6,0a1.8,1.8 0 1,0 3.6,0M1589.1,1309.6a1.8,1.8 0 1,0 -3.6,0a1.8,1.8 0 1,0 3.6,0M1589.5,1311a1.8,1.8 0 1,0 -3.6,0a1.8,1.8 0 1,0 3.6,0M1589.9,1322.1a1.8,1.8 0 1,0 -3.6,0a1.8,1.8 0 1,0 3.6,0M1590.3,1329.8a1.8,1.8 0 1,0 -3.6,0a1.8,1.8 0 1,0 3.6,0M1590.7,1315.6a1.8,1.8 0 1,0 -3.6,0a1.8,1.8 0 1,0 3.6,0M1591.2,1307.1a1.8,1.8 0 1,0 -3.6,0a1.8,1.8 0 1,0 3.6,0M1591.6,1335.6a1.8,1.8 0 1,0 -3.6,0a1.8,1.8 0 1,0 3.6,0M1592,1329.5a1.8,1.8 0 1,0 -3.6,0a1.8,1.8 0 1,0 3.6,0M1592.4,1317.4a1.8,1.8 0 1,0 -3.6,0a1.8,1.8 0 1,0 3.6,0M1592.9,1326.4a1.8,1.8 0 1,0 -3.6,0a1.8,1.8 0 1,0 3.6,0M1593.3,1321.8a1.8,1.8 0 1,0 -3.6,0a1.8,1.8 0 1,0 3.6,0M1593.7,1319.4a1.8,1.8 0 1,0 -3.6,0a1.8,1.8 0 1,0 3.6,0M1594.1,1310.6a1.8,1.8 0 1,0 -3.6,0a1.8,1.8 0 1,0 3.6,0M1594.5,1310.5a1.8,1.8 0 1,0 -3.6,0a1.8,1.8 0 1,0 3.6,0M1595,1308.5a1.8,1.8 0 1,0 -3.6,0a1.8,1.8 0 1,0 3.6,0M1595.4,1309.3a1.8,1.8 0 1,0 -3.6,0a1.8,1.8 0 1,0 3.6,0M1595.8,1324.6a1.8,1.8 0 1,0 -3.6,0a1.8,1.8 0 1,0 3.6,0M1596.2,1342.3a1.8,1.8 0 1,0 -3.6,0a1.8,1.8 0 1,0 3.6,0M1596.7,1315.2a1.8,1.8 0 1,0 -3.6,0a1.8,1.8 0 1,0 3.6,0M1597.1,1313.8a1.8,1.8 0 1,0 -3.6,0a1.8,1.8 0 1,0 3.6,0M1597.5,1313.9a1.8,1.8 0 1,0 -3.6,0a1.8,1.8 0 1,0 3.6,0M1597.9,1325.1a1.8,1.8 0 1,0 -3.6,0a1.8,1.8 0 1,0 3.6,0M1598.3,1299.2a1.8,1.8 0 1,0 -3.6,0a1.8,1.8 0 1,0 3.6,0M1598.8,1335a1.8,1.8 0 1,0 -3.6,0a1.8,1.8 0 1,0 3.6,0M1599.2,1310.2a1.8,1.8 0 1,0 -3.6,0a1.8,1.8 0 1,0 3.6,0M1599.6,1312.1a1.8,1.8 0 1,0 -3.6,0a1.8,1.8 0 1,0 3.6,0M1600,1309.1a1.8,1.8 0 1,0 -3.6,0a1.8,1.8 0 1,0 3.6,0M1600.4,1304.3a1.8,1.8 0 1,0 -3.6,0a1.8,1.8 0 1,0 3.6,0M1600.9,1313.4a1.8,1.8 0 1,0 -3.6,0a1.8,1.8 0 1,0 3.6,0M1601.3,1314.9a1.8,1.8 0 1,0 -3.6,0a1.8,1.8 0 1,0 3.6,0M1601.7,1321.2a1.8,1.8 0 1,0 -3.6,0a1.8,1.8 0 1,0 3.6,0M1602.1,1310.6a1.8,1.8 0 1,0 -3.6,0a1.8,1.8 0 1,0 3.6,0M1602.6,1314.4a1.8,1.8 0 1,0 -3.6,0a1.8,1.8 0 1,0 3.6,0M1603,1310.3a1.8,1.8 0 1,0 -3.6,0a1.8,1.8 0 1,0 3.6,0M1603.4,1329.7a1.8,1.8 0 1,0 -3.6,0a1.8,1.8 0 1,0 3.6,0" fill="none" stroke="#000" stroke-width="1.45"/><polyline points="1256.1,1318.1 1256.7,1318.1 1257.3,1318.1 1257.8,1318.1 1258.4,1318.1 1259,1318.1 1259.6,1318.1 1260.1,1318.1 1260.7,1318.1 1261.3,1318.1 1261.9,1318.1 1262.5,1318.1 1263,1318.1 1263.6,1318.1 1264.2,1318.1 1264.8,1318.1 1265.3,1318.1 1265.9,1318.1 1266.5,1318.1 1267.1,1318.1 1267.7,1318.1 1268.2,1318.2 1268.8,1318.2 1269.4,1318.2 1270,1318.2 1270.5,1318.2 1271.1,1318.2 1271.7,1318.2 1272.3,1318.2 1272.9,1318.2 1273.4,1318.2 1274,1318.2 1274.6,1318.2 1275.2,1318.2 1275.7,1318.2 1276.3,1318.2 1276.9,1318.2 1277.5,1318.2 1278,1318.2 1278.6,1318.2 1279.2,1318.2 1279.8,1318.2 1280.4,1318.2 1280.9,1318.2 1281.5,1318.2 1282.1,1318.2 1282.7,1318.2 1283.2,1318.2 1283.8,1318.2 1284.4,1318.2 1285,1318.2 1285.6,1318.2 1286.1,1318.2 1286.7,1318.2 1287.3,1318.2 1287.9,1318.2 1288.4,1318.2 1289,1318.2 1289.6,1318.2 1290.2,1318.2 1290.8,1318.2 1291.3,1318.2 1291.9,1318.3 1292.5,1318.3 1293.1,1318.3 1293.6,1318.3 1294.2,1318.3 1294.8,1318.3 1295.4,1318.3 1296,1318.3 1296.5,1318.3 1297.1,1318.3 1297.7,1318.3 1298.3,1318.3 1298.8,1318.3 1299.4,1318.3 1300,1318.3 1300.6,1318.3 1301.2,1318.3 1301.7,1318.3 1302.3,1318.4 1302.9,1318.4 1303.5,1318.4 1304,1318.4 1304.6,1318.4 1305.2,1318.4 1305.8,1318.4 1306.4,1318.4 1306.9,1318.4 1307.5,1318.4 1308.1,1318.4 1308.7,1318.5 1309.2,1318.5 1309.8,1318.5 1310.4,1318.5 1311,1318.5 1311.6,1318.5 1312.1,1318.5 1312.7,1318.5 1313.3,1318.5 1313.9,1318.6 1314.4,1318.6 1315,1318.6 1315.6,1318.6 1316.2,1318.6 1316.7,1318.6 1317.3,1318.6 1317.9,1318.7 1318.5,1318.7 1319.1,1318.7 1319.6,1318.7 1320.2,1318.7 1320.8,1318.8 1321.4,1318.8 1321.9,1318.8 1322.5,1318.8 1323.1,1318.8 1323.7,1318.9 1324.3,1318.9 1324.8,1318.9 1325.4,1318.9 1326,1319 1326.6,1319 1327.1,1319 1327.7,1319 1328.3,1319.1 1328.9,1319.1 1329.5,1319.1 1330,1319.2 1330.6,1319.2 1331.2,1319.2 1331.8,1319.3 1332.3,1319.3 1332.9,1319.3 1333.5,1319.4 1334.1,1319.4 1334.7,1319.4 1335.2,1319.5 1335.8,1319.5 1336.4,1319.6 1337,1319.6 1337.5,1319.7 1338.1,1319.7 1338.7,1319.8 1339.3,1319.8 1339.9,1319.9 1340.4,1319.9 1341,1320 1341.6,1320 1342.2,1320.1 1342.7,1320.2 1343.3,1320.2 1343.9,1320.3 1344.5,1320.4 1345.1,1320.4 1345.6,1320.5 1346.2,1320.6 1346.8,1320.6 1347.4,1320.7 1347.9,1320.8 1348.5,1320.9 1349.1,1321 1349.7,1321.1 1350.3,1321.1 1350.8,1321.2 1351.4,1321.3 1352,1321.4 1352.6,1321.5 1353.1,1321.6 1353.7,1321.8 1354.3,1321.9 1354.9,1322 1355.4,1322.1 1356,1322.2 1356.6,1322.4 1357.2,1322.5 1357.8,1322.6 1358.3,1322.8 1358.9,1322.9 1359.5,1323.1 1360.1,1323.2 1360.6,1323.4 1361.2,1323.5 1361.8,1323.7 1362.4,1323.9 1363,1324 1363.5,1324.2 1364.1,1324.4 1364.7,1324.6 1365.3,1324.8 1365.8,1325 1366.4,1325.2 1367,1325.4 1367.6,1325.7 1368.2,1325.9 1368.7,1326.2 1369.3,1326.4 1369.9,1326.7 1370.5,1326.9 1371,1327.2 1371.6,1327.5 1372.2,1327.8 1372.8,1328.1 1373.4,1328.4 1373.9,1328.7 1374.5,1329 1375.1,1329.3 1375.7,1329.7 1376.2,1330 1376.8,1330.4 1377.4,1330.8 1378,1331.2 1378.6,1331.6 1379.1,1332 1379.7,1332.4 1380.3,1332.9 1380.9,1333.3 1381.4,1333.8 1382,1334.3 1382.6,1334.8 1383.2,1335.3 1383.8,1335.8 1384.3,1336.4 1384.9,1336.9 1385.5,1337.5 1386.1,1338.1 1386.6,1338.7 1387.2,1339.4 1387.8,1340 1388.4,1340.7 1389,1341.4 1389.5,1342.1 1390.1,1342.9 1390.7,1343.6 1391.3,1344.4 1391.8,1345.2 1392.4,1346.1 1393,1346.9 1393.6,1347.8 1394.1,1348.7 1394.7,1349.7 1395.3,1350.7 1395.9,1351.7 1396.5,1352.7 1397,1353.8 1397.6,1354.9 1398.2,1356 1398.8,1357.2 1399.3,1358.4 1399.9,1359.6 1400.5,1360.9 1401.1,1362.2 1401.7,1363.6 1402.2,1365 1402.8,1366.4 1403.4,1367.9 1404,1369.5 1404.5,1371 1405.1,1372.7 1405.7,1374.4 1406.3,1376.1 1406.9,1377.9 1407.4,1379.7 1408,1381.6 1408.6,1383.6 1409.2,1385.6 1409.7,1387.7 1410.3,1389.8 1410.9,1392.1 1411.5,1394.3 1412.1,1396.7 1412.6,1399.1 1413.2,1401.6 1413.8,1404.2 1414.4,1406.9 1414.9,1409.6 1415.5,1412.4 1416.1,1415.3 1416.7,1418.3 1417.3,1421.4 1417.8,1424.6 1418.4,1427.9 1419,1431.3 1419.6,1434.8 1420.1,1438.4 1420.7,1442.1 1421.3,1445.9 1421.9,1449.9 1422.5,1453.9 1423,1458.1 1423.6,1462.4 1424.2,1466.9 1424.8,1471.5 1425.3,1476.2 1425.9,1481.1 1426.5,1486.1 1427.1,1491.3 1427.7,1496.7 1428.2,1502.2 1428.8,1507.9 1428.8,1508.3 1428.9,1507.9 1429.5,1502.2 1430,1496.7 1430.6,1491.3 1431.2,1486.1 1431.8,1481.1 1432.4,1476.2 1432.9,1471.5 1433.5,1466.9 1434.1,1462.4 1434.7,1458.1 1435.2,1453.9 1435.8,1449.9 1436.4,1445.9 1437,1442.1 1437.6,1438.4 1438.1,1434.8 1438.7,1431.3 1439.3,1427.9 1439.9,1424.6 1440.4,1421.4 1441,1418.3 1441.6,1415.3 1442.2,1412.4 1442.8,1409.6 1443.3,1406.9 1443.9,1404.2 1444.5,1401.6 1445.1,1399.1 1445.6,1396.7 1446.2,1394.3 1446.8,1392.1 1447.4,1389.8 1448,1387.7 1448.5,1385.6 1449.1,1383.6 1449.7,1381.6 1450.3,1379.7 1450.8,1377.9 1451.4,1376.1 1452,1374.4 1452.6,1372.7 1453.2,1371 1453.7,1369.5 1454.3,1367.9 1454.9,1366.4 1455.5,1365 1456,1363.6 1456.6,1362.2 1457.2,1360.9 1457.8,1359.6 1458.4,1358.4 1458.9,1357.2 1459.5,1356 1460.1,1354.9 1460.7,1353.8 1461.2,1352.7 1461.8,1351.7 1462.4,1350.7 1463,1349.7 1463.6,1348.7 1464.1,1347.8 1464.7,1346.9 1465.3,1346.1 1465.9,1345.2 1466.4,1344.4 1467,1343.6 1467.6,1342.9 1468.2,1342.1 1468.7,1341.4 1469.3,1340.7 1469.9,1340 1470.5,1339.4 1471.1,1338.7 1471.6,1338.1 1472.2,1337.5 1472.8,1336.9 1473.4,1336.4 1473.9,1335.8 1474.5,1335.3 1475.1,1334.8 1475.7,1334.3 1476.3,1333.8 1476.8,1333.3 1477.4,1332.9 1478,1332.4 1478.6,1332 1479.1,1331.6 1479.7,1331.2 1480.3,1330.8 1480.9,1330.4 1481.5,1330 1482,1329.7 1482.6,1329.3 1483.2,1329 1483.8,1328.7 1484.3,1328.4 1484.9,1328.1 1485.5,1327.8 1486.1,1327.5 1486.7,1327.2 1487.2,1326.9 1487.8,1326.7 1488.4,1326.4 1489,1326.2 1489.5,1325.9 1490.1,1325.7 1490.7,1325.4 1491.3,1325.2 1491.9,1325 1492.4,1324.8 1493,1324.6 1493.6,1324.4 1494.2,1324.2 1494.7,1324 1495.3,1323.9 1495.9,1323.7 1496.5,1323.5 1497.1,1323.4 1497.6,1323.2 1498.2,1323.1 1498.8,1322.9 1499.4,1322.8 1499.9,1322.6 1500.5,1322.5 1501.1,1322.4 1501.7,1322.2 1502.3,1322.1 1502.8,1322 1503.4,1321.9 1504,1321.8 1504.6,1321.6 1505.1,1321.5 1505.7,1321.4 1506.3,1321.3 1506.9,1321.2 1507.4,1321.1 1508,1321.1 1508.6,1321 1509.2,1320.9 1509.8,1320.8 1510.3,1320.7 1510.9,1320.6 1511.5,1320.6 1512.1,1320.5 1512.6,1320.4 1513.2,1320.4 1513.8,1320.3 1514.4,1320.2 1515,1320.2 1515.5,1320.1 1516.1,1320 1516.7,1320 1517.3,1319.9 1517.8,1319.9 1518.4,1319.8 1519,1319.8 1519.6,1319.7 1520.2,1319.7 1520.7,1319.6 1521.3,1319.6 1521.9,1319.5 1522.5,1319.5 1523,1319.4 1523.6,1319.4 1524.2,1319.4 1524.8,1319.3 1525.4,1319.3 1525.9,1319.3 1526.5,1319.2 1527.1,1319.2 1527.7,1319.2 1528.2,1319.1 1528.8,1319.1 1529.4,1319.1 1530,1319 1530.6,1319 1531.1,1319 1531.7,1319 1532.3,1318.9 1532.9,1318.9 1533.4,1318.9 1534,1318.9 1534.6,1318.8 1535.2,1318.8 1535.8,1318.8 1536.3,1318.8 1536.9,1318.8 1537.5,1318.7 1538.1,1318.7 1538.6,1318.7 1539.2,1318.7 1539.8,1318.7 1540.4,1318.6 1541,1318.6 1541.5,1318.6 1542.1,1318.6 1542.7,1318.6 1543.3,1318.6 1543.8,1318.6 1544.4,1318.5 1545,1318.5 1545.6,1318.5 1546.1,1318.5 1546.7,1318.5 1547.3,1318.5 1547.9,1318.5 1548.5,1318.5 1549,1318.5 1549.6,1318.4 1550.2,1318.4 1550.8,1318.4 1551.3,1318.4 1551.9,1318.4 1552.5,1318.4 1553.1,1318.4 1553.7,1318.4 1554.2,1318.4 1554.8,1318.4 1555.4,1318.4 1556,1318.3 1556.5,1318.3 1557.1,1318.3 1557.7,1318.3 1558.3,1318.3 1558.9,1318.3 1559.4,1318.3 1560,1318.3 1560.6,1318.3 1561.2,1318.3 1561.7,1318.3 1562.3,1318.3 1562.9,1318.3 1563.5,1318.3 1564.1,1318.3 1564.6,1318.3 1565.2,1318.3 1565.8,1318.3 1566.4,1318.2 1566.9,1318.2 1567.5,1318.2 1568.1,1318.2 1568.7,1318.2 1569.3,1318.2 1569.8,1318.2 1570.4,1318.2 1571,1318.2 1571.6,1318.2 1572.1,1318.2 1572.7,1318.2 1573.3,1318.2 1573.9,1318.2 1574.5,1318.2 1575,1318.2 1575.6,1318.2 1576.2,1318.2 1576.8,1318.2 1577.3,1318.2 1577.9,1318.2 1578.5,1318.2 1579.1,1318.2 1579.7,1318.2 1580.2,1318.2 1580.8,1318.2 1581.4,1318.2 1582,1318.2 1582.5,1318.2 1583.1,1318.2 1583.7,1318.2 1584.3,1318.2 1584.8,1318.2 1585.4,1318.2 1586,1318.2 1586.6,1318.2 1587.2,1318.2 1587.7,1318.2 1588.3,1318.2 1588.9,1318.2 1589.5,1318.2 1590,1318.1 1590.6,1318.1 1591.2,1318.1 1591.8,1318.1 1592.4,1318.1 1592.9,1318.1 1593.5,1318.1 1594.1,1318.1 1594.7,1318.1 1595.2,1318.1 1595.8,1318.1 1596.4,1318.1 1597,1318.1 1597.6,1318.1 1598.1,1318.1 1598.7,1318.1 1599.3,1318.1 1599.9,1318.1 1600.4,1318.1 1601,1318.1 1601.6,1318.1" fill="none" stroke="#e8141c" stroke-width="3.2" stroke-linejoin="round"/><rect x="1256.1" y="1236.9" width="345.5" height="289.8" fill="none" stroke="#000" stroke-width="1.9"/><line x1="1248.6" y1="1526.7" x2="1256.1" y2="1526.7" stroke="#000" stroke-width="1.9"/><text x="1237" y="1537" font-size="29.4" text-anchor="end" font-weight="normal" fill="#000" >0.0</text><line x1="1248.6" y1="1424.5" x2="1256.1" y2="1424.5" stroke="#000" stroke-width="1.9"/><text x="1237" y="1434.8" font-size="29.4" text-anchor="end" font-weight="normal" fill="#000" >0.5</text><line x1="1248.6" y1="1322.2" x2="1256.1" y2="1322.2" stroke="#000" stroke-width="1.9"/><text x="1237" y="1332.5" font-size="29.4" text-anchor="end" font-weight="normal" fill="#000" >1.0</text><text transform="translate(1174.8,1383.3) rotate(-90)" font-size="29.4" text-anchor="middle" ><tspan font-style="italic">g</tspan><tspan font-size="19" dy="-12.5">2</tspan><tspan dy="12.5"> (</tspan><tspan font-family="Liberation Serif, serif">&#964;</tspan>)</text><text x="1451" y="1494.5" font-size="29.4" text-anchor="start" font-weight="normal" fill="#000" >0.09</text><line x1="1256.1" y1="1526.7" x2="1256.1" y2="1534.7" stroke="#000" stroke-width="1.9"/><text x="1256.1" y="1567.5" font-size="29.4" text-anchor="middle" font-weight="normal" fill="#000" >&#8722;40</text><line x1="1299.3" y1="1526.7" x2="1299.3" y2="1530.7" stroke="#000" stroke-width="1.9"/><line x1="1342.5" y1="1526.7" x2="1342.5" y2="1534.7" stroke="#000" stroke-width="1.9"/><text x="1342.5" y="1567.5" font-size="29.4" text-anchor="middle" font-weight="normal" fill="#000" >&#8722;20</text><line x1="1385.7" y1="1526.7" x2="1385.7" y2="1530.7" stroke="#000" stroke-width="1.9"/><line x1="1428.8" y1="1526.7" x2="1428.8" y2="1534.7" stroke="#000" stroke-width="1.9"/><text x="1428.8" y="1567.5" font-size="29.4" text-anchor="middle" font-weight="normal" fill="#000" >0</text><line x1="1472" y1="1526.7" x2="1472" y2="1530.7" stroke="#000" stroke-width="1.9"/><line x1="1515.2" y1="1526.7" x2="1515.2" y2="1534.7" stroke="#000" stroke-width="1.9"/><text x="1515.2" y="1567.5" font-size="29.4" text-anchor="middle" font-weight="normal" fill="#000" >20</text><line x1="1558.4" y1="1526.7" x2="1558.4" y2="1530.7" stroke="#000" stroke-width="1.9"/><line x1="1601.6" y1="1526.7" x2="1601.6" y2="1534.7" stroke="#000" stroke-width="1.9"/><text x="1601.6" y="1567.5" font-size="29.4" text-anchor="middle" font-weight="normal" fill="#000" >40</text><text x="1429" y="1610.2" font-size="29.4" text-anchor="middle" font-weight="normal" fill="#000" >Delay (ns)</text>
</svg>
</body></html>
